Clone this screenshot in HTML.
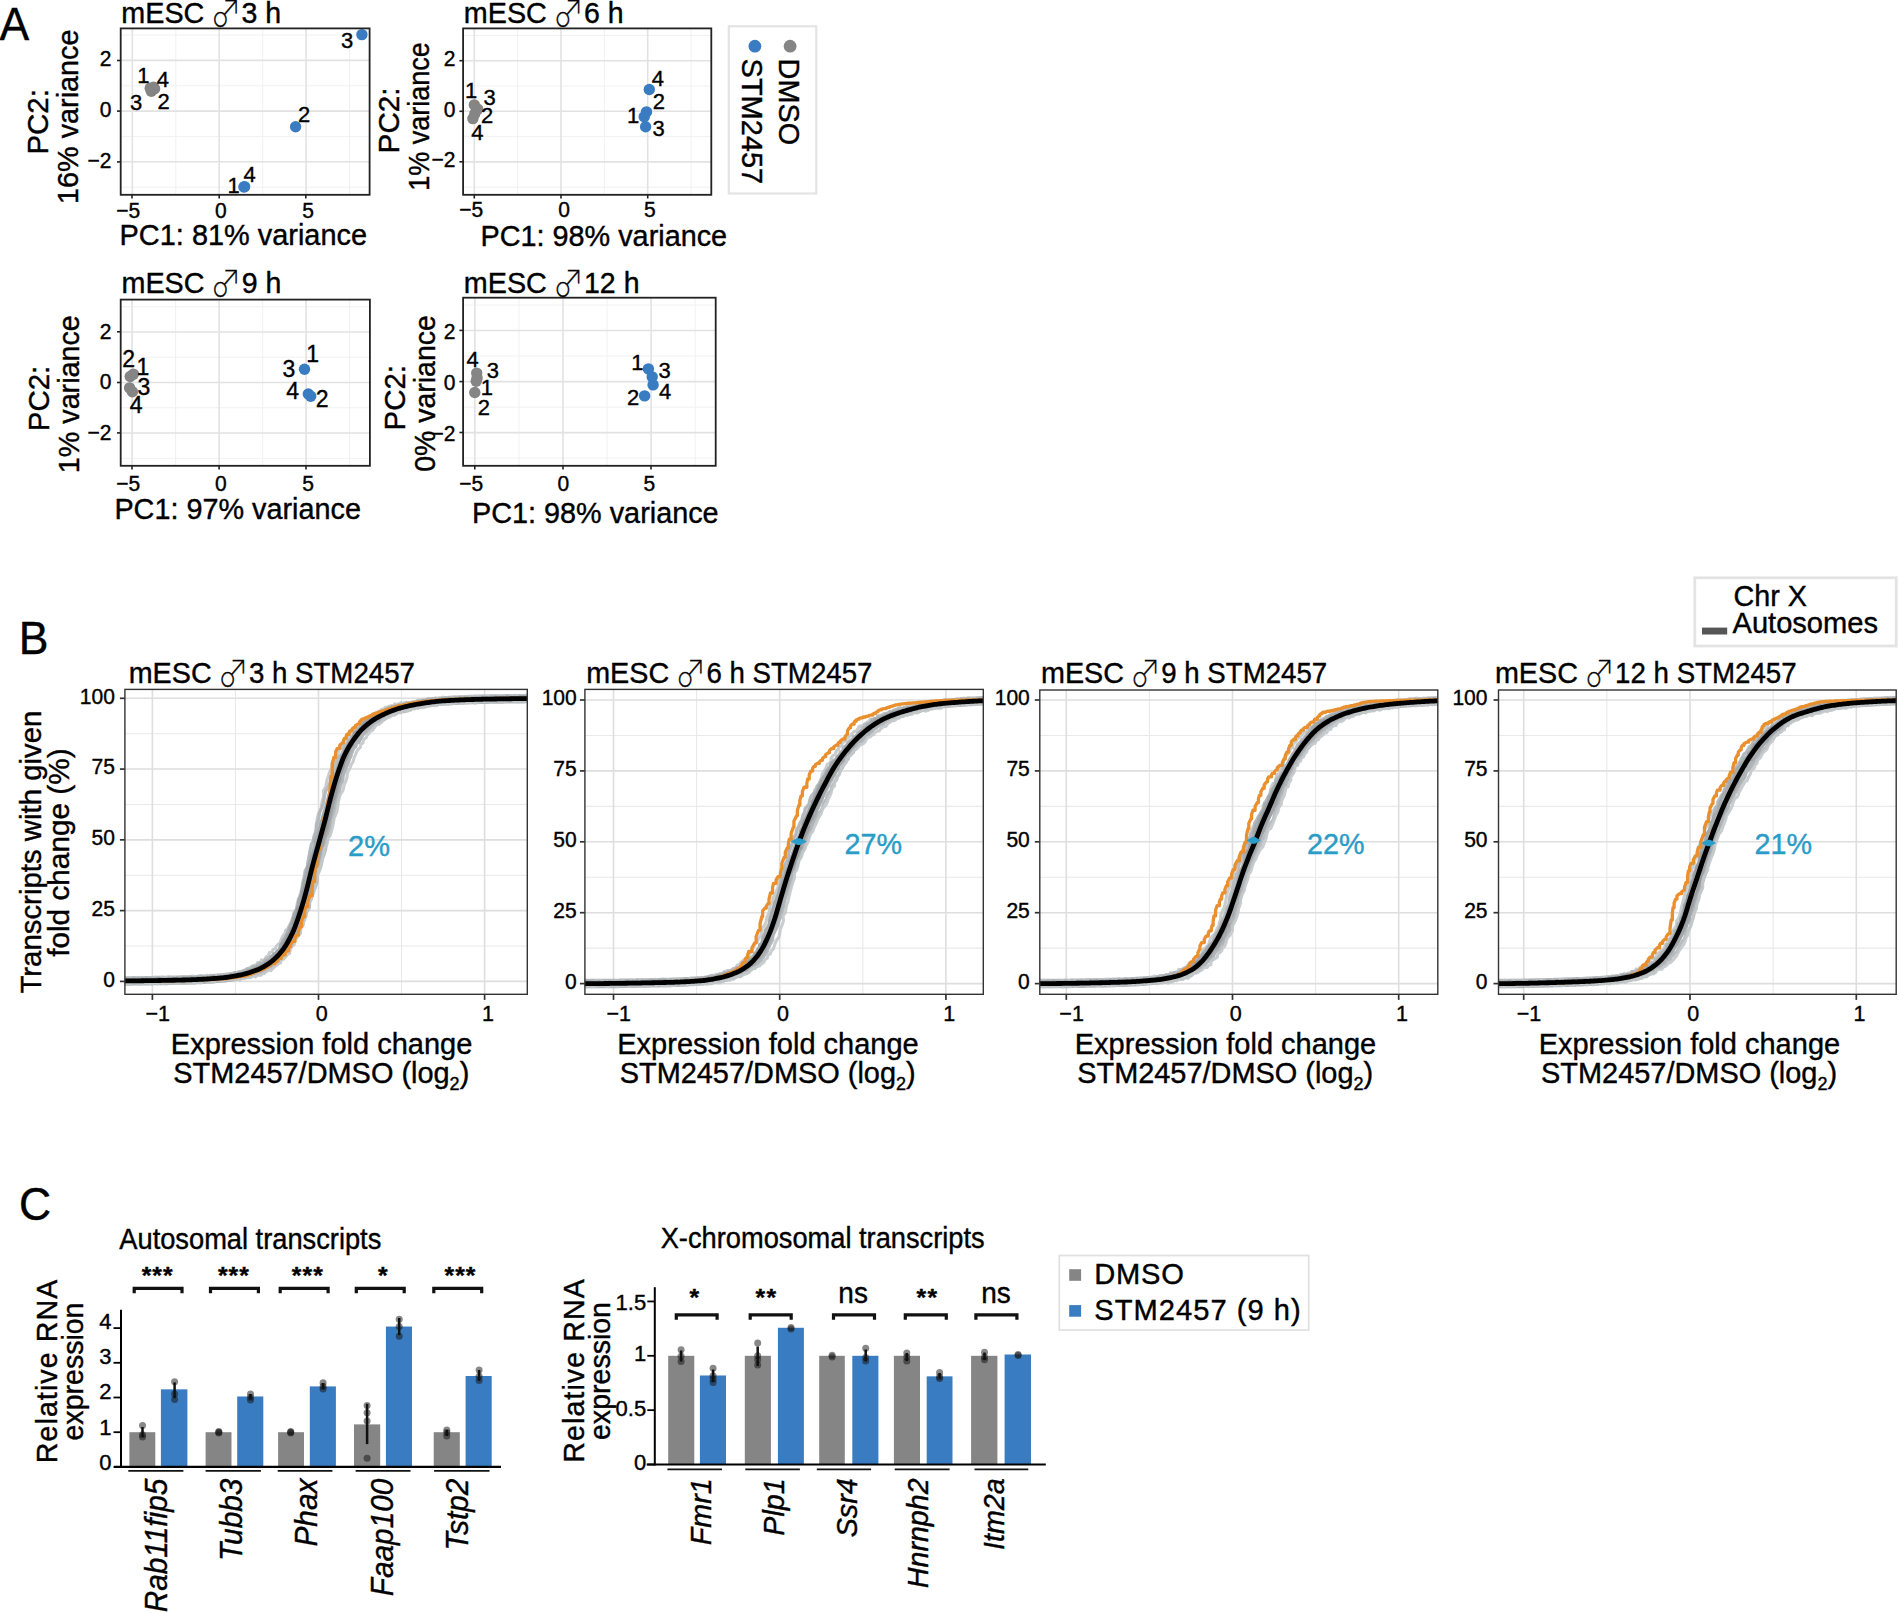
<!DOCTYPE html>
<html lang="en"><head><meta charset="utf-8"><title>Figure</title>
<style>html,body{margin:0;padding:0;background:#fff}svg{display:block}text{font-family:"Liberation Sans","Noto Sans CJK JP",sans-serif;stroke:#000;stroke-width:.4px}</style></head><body>
<svg width="1898" height="1613" viewBox="0 0 1898 1613">
<rect width="1898" height="1613" fill="#fff"/>
<text font-size="46.28" textLength="29.7" lengthAdjust="spacingAndGlyphs" x="-0.6" y="39.8">A</text>
<text font-size="46.28" textLength="29.7" lengthAdjust="spacingAndGlyphs" x="18.7" y="654.3">B</text>
<text font-size="46.28" textLength="32.15" lengthAdjust="spacingAndGlyphs" x="18.9" y="1219.9">C</text>
<g>
<line x1="175.75" y1="28.4" x2="175.75" y2="194.8" stroke="#efefef" stroke-width="0.9" />
<line x1="262.65" y1="28.4" x2="262.65" y2="194.8" stroke="#efefef" stroke-width="0.9" />
<line x1="349.55" y1="28.4" x2="349.55" y2="194.8" stroke="#efefef" stroke-width="0.9" />
<line x1="120.7" y1="187.15" x2="369.6" y2="187.15" stroke="#efefef" stroke-width="0.9" />
<line x1="120.7" y1="136.45" x2="369.6" y2="136.45" stroke="#efefef" stroke-width="0.9" />
<line x1="120.7" y1="85.75" x2="369.6" y2="85.75" stroke="#efefef" stroke-width="0.9" />
<line x1="120.7" y1="35.05" x2="369.6" y2="35.05" stroke="#efefef" stroke-width="0.9" />
<line x1="132.3" y1="28.4" x2="132.3" y2="194.8" stroke="#e2e2e2" stroke-width="1.6" />
<line x1="219.2" y1="28.4" x2="219.2" y2="194.8" stroke="#e2e2e2" stroke-width="1.6" />
<line x1="306.1" y1="28.4" x2="306.1" y2="194.8" stroke="#e2e2e2" stroke-width="1.6" />
<line x1="120.7" y1="161.8" x2="369.6" y2="161.8" stroke="#e2e2e2" stroke-width="1.6" />
<line x1="120.7" y1="111.1" x2="369.6" y2="111.1" stroke="#e2e2e2" stroke-width="1.6" />
<line x1="120.7" y1="60.4" x2="369.6" y2="60.4" stroke="#e2e2e2" stroke-width="1.6" />
<circle cx="150.2" cy="88.2" r="5.7" fill="#858585" />
<circle cx="153.6" cy="87.2" r="5.7" fill="#858585" />
<circle cx="151.3" cy="91.2" r="5.7" fill="#858585" />
<circle cx="154.6" cy="88.8" r="5.7" fill="#858585" />
<circle cx="361.9" cy="34.6" r="5.7" fill="#3a7cc1" />
<circle cx="295.6" cy="126.8" r="5.7" fill="#3a7cc1" />
<circle cx="243.9" cy="187" r="5.7" fill="#3a7cc1" />
<circle cx="244.6" cy="186.6" r="5.7" fill="#3a7cc1" />
<rect x="120.7" y="28.4" width="248.9" height="166.4" fill="none" stroke="#222" stroke-width="1.8" />
<line x1="132" y1="194.8" x2="132" y2="198.5" stroke="#222" stroke-width="1.6" />
<text font-size="21.84" text-anchor="middle" textLength="23.95" lengthAdjust="spacingAndGlyphs" x="128.2" y="217.6">−5</text>
<line x1="219.2" y1="194.8" x2="219.2" y2="198.5" stroke="#222" stroke-width="1.6" />
<text font-size="21.84" text-anchor="middle" textLength="11.69" lengthAdjust="spacingAndGlyphs" x="220.9" y="217.6">0</text>
<line x1="305.8" y1="194.8" x2="305.8" y2="198.5" stroke="#222" stroke-width="1.6" />
<text font-size="21.84" text-anchor="middle" textLength="11.69" lengthAdjust="spacingAndGlyphs" x="308" y="217.6">5</text>
<line x1="117" y1="60.5" x2="120.7" y2="60.5" stroke="#222" stroke-width="1.6" />
<text font-size="21.84" text-anchor="end" textLength="11.69" lengthAdjust="spacingAndGlyphs" x="111.4" y="66.4">2</text>
<line x1="117" y1="111.1" x2="120.7" y2="111.1" stroke="#222" stroke-width="1.6" />
<text font-size="21.84" text-anchor="end" textLength="11.69" lengthAdjust="spacingAndGlyphs" x="111.4" y="117">0</text>
<line x1="117" y1="161.9" x2="120.7" y2="161.9" stroke="#222" stroke-width="1.6" />
<text font-size="21.84" text-anchor="end" textLength="23.95" lengthAdjust="spacingAndGlyphs" x="111.4" y="167.8">−2</text>
<text font-size="22.88" text-anchor="middle" textLength="12.24" lengthAdjust="spacingAndGlyphs" x="143.4" y="82.74">1</text>
<text font-size="22.88" text-anchor="middle" textLength="12.24" lengthAdjust="spacingAndGlyphs" x="162.8" y="86.94">4</text>
<text font-size="22.88" text-anchor="middle" textLength="12.24" lengthAdjust="spacingAndGlyphs" x="136.2" y="109.74">3</text>
<text font-size="22.88" text-anchor="middle" textLength="12.24" lengthAdjust="spacingAndGlyphs" x="163.7" y="108.94">2</text>
<text font-size="22.88" text-anchor="middle" textLength="12.24" lengthAdjust="spacingAndGlyphs" x="347.1" y="47.64">3</text>
<text font-size="22.88" text-anchor="middle" textLength="12.24" lengthAdjust="spacingAndGlyphs" x="304.1" y="121.64">2</text>
<text font-size="22.88" text-anchor="middle" textLength="12.24" lengthAdjust="spacingAndGlyphs" x="249.6" y="182.34">4</text>
<text font-size="22.88" text-anchor="middle" textLength="12.24" lengthAdjust="spacingAndGlyphs" x="233.6" y="192.54">1</text>
<text font-size="29.64" textLength="83" lengthAdjust="spacingAndGlyphs" x="121.3" y="23">mESC</text>
<text transform="translate(210.39 27.2) scale(0.87 1.04)" style="font-family:'Noto Sans CJK JP','DejaVu Sans',sans-serif;font-weight:100;font-size:35.5px">♂</text>
<text font-size="29.64" textLength="39.64" lengthAdjust="spacingAndGlyphs" x="241.5" y="23">3 h</text>
<text font-size="29.64" textLength="247.4" lengthAdjust="spacingAndGlyphs" x="119.6" y="245.4">PC1: 81% variance</text>
<text font-size="29.64" text-anchor="middle" textLength="65.5" lengthAdjust="spacingAndGlyphs" transform="translate(47.6 121.8) rotate(-90)">PC2:</text>
<text font-size="29.64" text-anchor="middle" textLength="174.5" lengthAdjust="spacingAndGlyphs" transform="translate(77.6 116.7) rotate(-90)">16% variance</text>
</g>
<g>
<line x1="517.65" y1="28.4" x2="517.65" y2="194.8" stroke="#efefef" stroke-width="0.9" />
<line x1="604.35" y1="28.4" x2="604.35" y2="194.8" stroke="#efefef" stroke-width="0.9" />
<line x1="691.05" y1="28.4" x2="691.05" y2="194.8" stroke="#efefef" stroke-width="0.9" />
<line x1="463.1" y1="187.12" x2="711.3" y2="187.12" stroke="#efefef" stroke-width="0.9" />
<line x1="463.1" y1="136.57" x2="711.3" y2="136.57" stroke="#efefef" stroke-width="0.9" />
<line x1="463.1" y1="86.02" x2="711.3" y2="86.02" stroke="#efefef" stroke-width="0.9" />
<line x1="463.1" y1="35.47" x2="711.3" y2="35.47" stroke="#efefef" stroke-width="0.9" />
<line x1="474.3" y1="28.4" x2="474.3" y2="194.8" stroke="#e2e2e2" stroke-width="1.6" />
<line x1="561" y1="28.4" x2="561" y2="194.8" stroke="#e2e2e2" stroke-width="1.6" />
<line x1="647.7" y1="28.4" x2="647.7" y2="194.8" stroke="#e2e2e2" stroke-width="1.6" />
<line x1="463.1" y1="161.85" x2="711.3" y2="161.85" stroke="#e2e2e2" stroke-width="1.6" />
<line x1="463.1" y1="111.3" x2="711.3" y2="111.3" stroke="#e2e2e2" stroke-width="1.6" />
<line x1="463.1" y1="60.75" x2="711.3" y2="60.75" stroke="#e2e2e2" stroke-width="1.6" />
<circle cx="474.3" cy="104.9" r="5.7" fill="#858585" />
<circle cx="477.7" cy="109.1" r="5.7" fill="#858585" />
<circle cx="474.8" cy="113.8" r="5.7" fill="#858585" />
<circle cx="472.9" cy="118.6" r="5.7" fill="#858585" />
<circle cx="649.3" cy="89.5" r="5.7" fill="#3a7cc1" />
<circle cx="646.5" cy="111.9" r="5.7" fill="#3a7cc1" />
<circle cx="644.2" cy="116.7" r="5.7" fill="#3a7cc1" />
<circle cx="645.6" cy="126.7" r="5.7" fill="#3a7cc1" />
<rect x="463.1" y="28.4" width="248.2" height="166.4" fill="none" stroke="#222" stroke-width="1.8" />
<line x1="474.3" y1="194.8" x2="474.3" y2="198.5" stroke="#222" stroke-width="1.6" />
<text font-size="21.84" text-anchor="middle" textLength="23.95" lengthAdjust="spacingAndGlyphs" x="471.1" y="217.3">−5</text>
<line x1="561" y1="194.8" x2="561" y2="198.5" stroke="#222" stroke-width="1.6" />
<text font-size="21.84" text-anchor="middle" textLength="11.69" lengthAdjust="spacingAndGlyphs" x="564" y="217.3">0</text>
<line x1="647.7" y1="194.8" x2="647.7" y2="198.5" stroke="#222" stroke-width="1.6" />
<text font-size="21.84" text-anchor="middle" textLength="11.69" lengthAdjust="spacingAndGlyphs" x="649.9" y="217.3">5</text>
<line x1="459.4" y1="60.7" x2="463.1" y2="60.7" stroke="#222" stroke-width="1.6" />
<text font-size="21.84" text-anchor="end" textLength="11.69" lengthAdjust="spacingAndGlyphs" x="455.4" y="66.2">2</text>
<line x1="459.4" y1="111.3" x2="463.1" y2="111.3" stroke="#222" stroke-width="1.6" />
<text font-size="21.84" text-anchor="end" textLength="11.69" lengthAdjust="spacingAndGlyphs" x="455.4" y="116.8">0</text>
<line x1="459.4" y1="161.8" x2="463.1" y2="161.8" stroke="#222" stroke-width="1.6" />
<text font-size="21.84" text-anchor="end" textLength="23.95" lengthAdjust="spacingAndGlyphs" x="455.4" y="167.3">−2</text>
<text font-size="22.88" text-anchor="middle" textLength="12.24" lengthAdjust="spacingAndGlyphs" x="471" y="97.84">1</text>
<text font-size="22.88" text-anchor="middle" textLength="12.24" lengthAdjust="spacingAndGlyphs" x="489.6" y="105.44">3</text>
<text font-size="22.88" text-anchor="middle" textLength="12.24" lengthAdjust="spacingAndGlyphs" x="487.2" y="123.44">2</text>
<text font-size="22.88" text-anchor="middle" textLength="12.24" lengthAdjust="spacingAndGlyphs" x="477.3" y="139.54">4</text>
<text font-size="22.88" text-anchor="middle" textLength="12.24" lengthAdjust="spacingAndGlyphs" x="657.9" y="85.54">4</text>
<text font-size="22.88" text-anchor="middle" textLength="12.24" lengthAdjust="spacingAndGlyphs" x="658.8" y="108.84">2</text>
<text font-size="22.88" text-anchor="middle" textLength="12.24" lengthAdjust="spacingAndGlyphs" x="633.2" y="122.54">1</text>
<text font-size="22.88" text-anchor="middle" textLength="12.24" lengthAdjust="spacingAndGlyphs" x="658.5" y="136.34">3</text>
<text font-size="29.64" textLength="83" lengthAdjust="spacingAndGlyphs" x="463.8" y="22.8">mESC</text>
<text transform="translate(552.89 27) scale(0.87 1.04)" style="font-family:'Noto Sans CJK JP','DejaVu Sans',sans-serif;font-weight:100;font-size:35.5px">♂</text>
<text font-size="29.64" textLength="39.64" lengthAdjust="spacingAndGlyphs" x="584" y="22.8">6 h</text>
<text font-size="29.64" textLength="246.6" lengthAdjust="spacingAndGlyphs" x="480.5" y="245.6">PC1: 98% variance</text>
<text font-size="29.64" text-anchor="middle" textLength="66" lengthAdjust="spacingAndGlyphs" transform="translate(399.4 120.4) rotate(-90)">PC2:</text>
<text font-size="29.64" text-anchor="middle" textLength="148.5" lengthAdjust="spacingAndGlyphs" transform="translate(428.7 116.6) rotate(-90)">1% variance</text>
</g>
<g>
<line x1="175.6" y1="299.6" x2="175.6" y2="465.8" stroke="#efefef" stroke-width="0.9" />
<line x1="262.6" y1="299.6" x2="262.6" y2="465.8" stroke="#efefef" stroke-width="0.9" />
<line x1="349.6" y1="299.6" x2="349.6" y2="465.8" stroke="#efefef" stroke-width="0.9" />
<line x1="120.7" y1="458.32" x2="369.9" y2="458.32" stroke="#efefef" stroke-width="0.9" />
<line x1="120.7" y1="407.77" x2="369.9" y2="407.77" stroke="#efefef" stroke-width="0.9" />
<line x1="120.7" y1="357.23" x2="369.9" y2="357.23" stroke="#efefef" stroke-width="0.9" />
<line x1="120.7" y1="306.68" x2="369.9" y2="306.68" stroke="#efefef" stroke-width="0.9" />
<line x1="132.1" y1="299.6" x2="132.1" y2="465.8" stroke="#e2e2e2" stroke-width="1.6" />
<line x1="219.1" y1="299.6" x2="219.1" y2="465.8" stroke="#e2e2e2" stroke-width="1.6" />
<line x1="306.1" y1="299.6" x2="306.1" y2="465.8" stroke="#e2e2e2" stroke-width="1.6" />
<line x1="120.7" y1="433.05" x2="369.9" y2="433.05" stroke="#e2e2e2" stroke-width="1.6" />
<line x1="120.7" y1="382.5" x2="369.9" y2="382.5" stroke="#e2e2e2" stroke-width="1.6" />
<line x1="120.7" y1="331.95" x2="369.9" y2="331.95" stroke="#e2e2e2" stroke-width="1.6" />
<circle cx="133.4" cy="374.1" r="5.7" fill="#858585" />
<circle cx="130.2" cy="376.5" r="5.7" fill="#858585" />
<circle cx="129.6" cy="387.9" r="5.7" fill="#858585" />
<circle cx="132.4" cy="391.7" r="5.7" fill="#858585" />
<circle cx="304.5" cy="369.3" r="5.7" fill="#3a7cc1" />
<circle cx="308.3" cy="394" r="5.7" fill="#3a7cc1" />
<circle cx="310.7" cy="396.3" r="5.7" fill="#3a7cc1" />
<rect x="120.7" y="299.6" width="249.2" height="166.2" fill="none" stroke="#222" stroke-width="1.8" />
<line x1="132" y1="465.8" x2="132" y2="469.5" stroke="#222" stroke-width="1.6" />
<text font-size="21.84" text-anchor="middle" textLength="23.95" lengthAdjust="spacingAndGlyphs" x="128.2" y="490.8">−5</text>
<line x1="219.1" y1="465.8" x2="219.1" y2="469.5" stroke="#222" stroke-width="1.6" />
<text font-size="21.84" text-anchor="middle" textLength="11.69" lengthAdjust="spacingAndGlyphs" x="220.8" y="490.8">0</text>
<line x1="306" y1="465.8" x2="306" y2="469.5" stroke="#222" stroke-width="1.6" />
<text font-size="21.84" text-anchor="middle" textLength="11.69" lengthAdjust="spacingAndGlyphs" x="308.2" y="490.8">5</text>
<line x1="117" y1="331.8" x2="120.7" y2="331.8" stroke="#222" stroke-width="1.6" />
<text font-size="21.84" text-anchor="end" textLength="11.69" lengthAdjust="spacingAndGlyphs" x="111.4" y="338.5">2</text>
<line x1="117" y1="382.5" x2="120.7" y2="382.5" stroke="#222" stroke-width="1.6" />
<text font-size="21.84" text-anchor="end" textLength="11.69" lengthAdjust="spacingAndGlyphs" x="111.4" y="389.2">0</text>
<line x1="117" y1="432.9" x2="120.7" y2="432.9" stroke="#222" stroke-width="1.6" />
<text font-size="21.84" text-anchor="end" textLength="23.95" lengthAdjust="spacingAndGlyphs" x="111.4" y="439.6">−2</text>
<text font-size="23.92" text-anchor="middle" textLength="12.8" lengthAdjust="spacingAndGlyphs" x="128.6" y="367">2</text>
<text font-size="23.92" text-anchor="middle" textLength="12.8" lengthAdjust="spacingAndGlyphs" x="142.9" y="374.6">1</text>
<text font-size="23.92" text-anchor="middle" textLength="12.8" lengthAdjust="spacingAndGlyphs" x="143.8" y="394.9">3</text>
<text font-size="23.92" text-anchor="middle" textLength="12.8" lengthAdjust="spacingAndGlyphs" x="136.2" y="413.1">4</text>
<text font-size="23.92" text-anchor="middle" textLength="12.8" lengthAdjust="spacingAndGlyphs" x="312.6" y="361.9">1</text>
<text font-size="23.92" text-anchor="middle" textLength="12.8" lengthAdjust="spacingAndGlyphs" x="288.9" y="376.5">3</text>
<text font-size="23.92" text-anchor="middle" textLength="12.8" lengthAdjust="spacingAndGlyphs" x="292.7" y="398.7">4</text>
<text font-size="23.92" text-anchor="middle" textLength="12.8" lengthAdjust="spacingAndGlyphs" x="322.1" y="406.8">2</text>
<text font-size="29.64" textLength="83" lengthAdjust="spacingAndGlyphs" x="121.5" y="293">mESC</text>
<text transform="translate(210.59 297.2) scale(0.87 1.04)" style="font-family:'Noto Sans CJK JP','DejaVu Sans',sans-serif;font-weight:100;font-size:35.5px">♂</text>
<text font-size="29.64" textLength="39.64" lengthAdjust="spacingAndGlyphs" x="241.7" y="293">9 h</text>
<text font-size="29.64" textLength="246.6" lengthAdjust="spacingAndGlyphs" x="114.4" y="519.2">PC1: 97% variance</text>
<text font-size="29.64" text-anchor="middle" textLength="65.5" lengthAdjust="spacingAndGlyphs" transform="translate(49.2 398.5) rotate(-90)">PC2:</text>
<text font-size="29.64" text-anchor="middle" textLength="158" lengthAdjust="spacingAndGlyphs" transform="translate(79 394.2) rotate(-90)">1% variance</text>
</g>
<g>
<line x1="518.95" y1="297.7" x2="518.95" y2="465.8" stroke="#efefef" stroke-width="0.9" />
<line x1="607.05" y1="297.7" x2="607.05" y2="465.8" stroke="#efefef" stroke-width="0.9" />
<line x1="695.15" y1="297.7" x2="695.15" y2="465.8" stroke="#efefef" stroke-width="0.9" />
<line x1="463.1" y1="458.18" x2="715.7" y2="458.18" stroke="#efefef" stroke-width="0.9" />
<line x1="463.1" y1="407.12" x2="715.7" y2="407.12" stroke="#efefef" stroke-width="0.9" />
<line x1="463.1" y1="356.08" x2="715.7" y2="356.08" stroke="#efefef" stroke-width="0.9" />
<line x1="463.1" y1="305.02" x2="715.7" y2="305.02" stroke="#efefef" stroke-width="0.9" />
<line x1="474.9" y1="297.7" x2="474.9" y2="465.8" stroke="#e2e2e2" stroke-width="1.6" />
<line x1="563" y1="297.7" x2="563" y2="465.8" stroke="#e2e2e2" stroke-width="1.6" />
<line x1="651.1" y1="297.7" x2="651.1" y2="465.8" stroke="#e2e2e2" stroke-width="1.6" />
<line x1="463.1" y1="432.65" x2="715.7" y2="432.65" stroke="#e2e2e2" stroke-width="1.6" />
<line x1="463.1" y1="381.6" x2="715.7" y2="381.6" stroke="#e2e2e2" stroke-width="1.6" />
<line x1="463.1" y1="330.55" x2="715.7" y2="330.55" stroke="#e2e2e2" stroke-width="1.6" />
<circle cx="476.7" cy="373.1" r="5.7" fill="#858585" />
<circle cx="477.1" cy="377.9" r="5.7" fill="#858585" />
<circle cx="476.2" cy="381.3" r="5.7" fill="#858585" />
<circle cx="474.8" cy="392.5" r="5.7" fill="#858585" />
<circle cx="648.4" cy="368.9" r="5.7" fill="#3a7cc1" />
<circle cx="652.2" cy="376.9" r="5.7" fill="#3a7cc1" />
<circle cx="653.1" cy="384.9" r="5.7" fill="#3a7cc1" />
<circle cx="644.6" cy="395.9" r="5.7" fill="#3a7cc1" />
<rect x="463.1" y="297.7" width="252.6" height="168.1" fill="none" stroke="#222" stroke-width="1.8" />
<line x1="474.8" y1="465.8" x2="474.8" y2="469.5" stroke="#222" stroke-width="1.6" />
<text font-size="21.84" text-anchor="middle" textLength="23.95" lengthAdjust="spacingAndGlyphs" x="471.2" y="490.8">−5</text>
<line x1="563" y1="465.8" x2="563" y2="469.5" stroke="#222" stroke-width="1.6" />
<text font-size="21.84" text-anchor="middle" textLength="11.69" lengthAdjust="spacingAndGlyphs" x="563.3" y="490.8">0</text>
<line x1="651" y1="465.8" x2="651" y2="469.5" stroke="#222" stroke-width="1.6" />
<text font-size="21.84" text-anchor="middle" textLength="11.69" lengthAdjust="spacingAndGlyphs" x="649.3" y="490.8">5</text>
<line x1="459.4" y1="330.4" x2="463.1" y2="330.4" stroke="#222" stroke-width="1.6" />
<text font-size="21.84" text-anchor="end" textLength="11.69" lengthAdjust="spacingAndGlyphs" x="455.4" y="338.6">2</text>
<line x1="459.4" y1="381.6" x2="463.1" y2="381.6" stroke="#222" stroke-width="1.6" />
<text font-size="21.84" text-anchor="end" textLength="11.69" lengthAdjust="spacingAndGlyphs" x="455.4" y="389.8">0</text>
<line x1="459.4" y1="432.5" x2="463.1" y2="432.5" stroke="#222" stroke-width="1.6" />
<text font-size="21.84" text-anchor="end" textLength="23.95" lengthAdjust="spacingAndGlyphs" x="455.4" y="440.7">−2</text>
<text font-size="22.88" text-anchor="middle" textLength="12.24" lengthAdjust="spacingAndGlyphs" x="472.6" y="367.24">4</text>
<text font-size="22.88" text-anchor="middle" textLength="12.24" lengthAdjust="spacingAndGlyphs" x="492.9" y="378.04">3</text>
<text font-size="22.88" text-anchor="middle" textLength="12.24" lengthAdjust="spacingAndGlyphs" x="486.8" y="395.04">1</text>
<text font-size="22.88" text-anchor="middle" textLength="12.24" lengthAdjust="spacingAndGlyphs" x="483.8" y="414.64">2</text>
<text font-size="22.88" text-anchor="middle" textLength="12.24" lengthAdjust="spacingAndGlyphs" x="637.4" y="369.84">1</text>
<text font-size="22.88" text-anchor="middle" textLength="12.24" lengthAdjust="spacingAndGlyphs" x="664.5" y="378.04">3</text>
<text font-size="22.88" text-anchor="middle" textLength="12.24" lengthAdjust="spacingAndGlyphs" x="665.1" y="398.84">4</text>
<text font-size="22.88" text-anchor="middle" textLength="12.24" lengthAdjust="spacingAndGlyphs" x="633.2" y="404.54">2</text>
<text font-size="29.64" textLength="83" lengthAdjust="spacingAndGlyphs" x="463.8" y="292.5">mESC</text>
<text transform="translate(552.89 296.7) scale(0.87 1.04)" style="font-family:'Noto Sans CJK JP','DejaVu Sans',sans-serif;font-weight:100;font-size:35.5px">♂</text>
<text font-size="29.64" textLength="55.5" lengthAdjust="spacingAndGlyphs" x="584" y="292.5">12 h</text>
<text font-size="29.64" textLength="246.6" lengthAdjust="spacingAndGlyphs" x="472" y="523">PC1: 98% variance</text>
<text font-size="29.64" text-anchor="middle" textLength="65.5" lengthAdjust="spacingAndGlyphs" transform="translate(404.7 397.7) rotate(-90)">PC2:</text>
<text font-size="29.64" text-anchor="middle" textLength="156.5" lengthAdjust="spacingAndGlyphs" transform="translate(435 393.5) rotate(-90)">0% variance</text>
</g>
<rect x="728.8" y="26.3" width="87.5" height="167.2" fill="#fff" stroke="#e4e4e4" stroke-width="2.2" />
<circle cx="790.1" cy="46.2" r="6.4" fill="#858585" />
<circle cx="754.9" cy="46.2" r="6.4" fill="#3a7cc1" />
<text font-size="30.16" textLength="86.5" lengthAdjust="spacingAndGlyphs" transform="translate(779.3 58.6) rotate(90)">DMSO</text>
<text font-size="30.16" textLength="125.5" lengthAdjust="spacingAndGlyphs" transform="translate(742.3 58.6) rotate(90)">STM2457</text>
<g><clipPath id="clipB1"><rect x="124.9" y="689.4" width="402.4" height="304.9"/></clipPath>
<line x1="235.45" y1="689.4" x2="235.45" y2="994.3" stroke="#e9e9e9" stroke-width="1.1" />
<line x1="401.55" y1="689.4" x2="401.55" y2="994.3" stroke="#e9e9e9" stroke-width="1.1" />
<line x1="124.9" y1="946.01" x2="527.3" y2="946.01" stroke="#e9e9e9" stroke-width="1.1" />
<line x1="124.9" y1="875.24" x2="527.3" y2="875.24" stroke="#e9e9e9" stroke-width="1.1" />
<line x1="124.9" y1="804.46" x2="527.3" y2="804.46" stroke="#e9e9e9" stroke-width="1.1" />
<line x1="124.9" y1="733.69" x2="527.3" y2="733.69" stroke="#e9e9e9" stroke-width="1.1" />
<line x1="152.4" y1="689.4" x2="152.4" y2="994.3" stroke="#dedede" stroke-width="1.6" />
<line x1="318.5" y1="689.4" x2="318.5" y2="994.3" stroke="#dedede" stroke-width="1.6" />
<line x1="484.6" y1="689.4" x2="484.6" y2="994.3" stroke="#dedede" stroke-width="1.6" />
<line x1="124.9" y1="981.4" x2="527.3" y2="981.4" stroke="#dedede" stroke-width="1.6" />
<line x1="124.9" y1="910.62" x2="527.3" y2="910.62" stroke="#dedede" stroke-width="1.6" />
<line x1="124.9" y1="839.85" x2="527.3" y2="839.85" stroke="#dedede" stroke-width="1.6" />
<line x1="124.9" y1="769.07" x2="527.3" y2="769.07" stroke="#dedede" stroke-width="1.6" />
<line x1="124.9" y1="698.3" x2="527.3" y2="698.3" stroke="#dedede" stroke-width="1.6" />
<g clip-path="url(#clipB1)" fill="none" stroke-linejoin="round" stroke-linecap="round">
<path d="M111.87 981.12 L113.29 981.1 L114.7 981.09 L116.12 981.08 L117.54 981.06 L118.95 981.05 L120.37 981.03 L121.79 981.02 L123.2 981 L124.62 980.99 L126.04 980.97 L127.45 980.95 L128.87 980.93 L130.29 980.92 L131.7 980.9 L133.12 980.88 L134.54 980.87 L135.95 980.85 L137.37 980.83 L138.79 980.81 L140.2 980.8 L141.62 980.78 L143.04 980.76 L144.45 980.74 L145.87 980.72 L147.29 980.71 L148.7 980.69 L150.12 980.67 L151.54 980.65 L152.95 980.63 L154.37 980.61 L155.79 980.59 L157.2 980.56 L158.62 980.54 L160.04 980.52 L161.45 980.5 L162.87 980.47 L164.28 980.45 L165.7 980.42 L167.12 980.4 L168.53 980.37 L169.95 980.34 L171.37 980.32 L172.78 980.29 L174.2 980.26 L175.62 980.23 L177.03 980.2 L178.45 980.16 L179.87 980.13 L181.28 980.1 L182.7 980.06 L184.12 980.02 L185.53 979.99 L186.95 979.95 L188.37 979.91 L189.78 979.86 L191.2 979.81 L192.62 979.76 L194.03 979.7 L195.45 979.65 L196.87 979.59 L198.28 979.52 L199.7 979.45 L201.12 979.38 L202.53 979.31 L203.95 979.23 L205.37 979.15 L206.78 979.06 L208.2 978.98 L209.62 978.89 L211.03 978.79 L212.45 978.69 L213.86 978.59 L215.28 978.49 L216.7 978.38 L218.11 978.27 L219.53 978.15 L220.95 978.03 L222.36 977.91 L223.78 977.78 L225.2 977.65 L226.61 977.5 L228.03 977.33 L229.45 977.14 L230.86 976.93 L232.28 976.71 L233.7 976.47 L235.11 976.22 L236.53 975.96 L237.95 975.68 L239.36 975.39 L240.78 975.1 L242.2 974.79 L243.61 974.47 L245.03 974.13 L246.45 973.77 L247.86 973.38 L249.28 972.97 L250.7 972.54 L252.11 972.08 L253.53 971.6 L254.95 971.1 L256.36 970.57 L257.78 970.02 L259.2 969.44 L260.61 968.82 L262.03 968.14 L263.44 967.4 L264.86 966.61 L266.28 965.77 L267.69 964.87 L269.11 963.93 L270.53 962.94 L271.94 961.9 L273.36 960.8 L274.78 959.61 L276.19 958.33 L277.61 956.96 L279.03 955.49 L280.44 953.92 L281.86 952.25 L283.28 950.48 L284.69 948.55 L286.11 946.45 L287.53 944.18 L288.94 941.75 L290.36 939.16 L291.78 936.42 L293.19 933.53 L294.61 930.41 L296.03 926.89 L297.44 923.04 L298.86 918.98 L300.28 914.81 L301.69 910.46 L303.11 905.87 L304.53 901.08 L305.94 896.09 L307.36 890.86 L308.78 885.21 L310.19 879.35 L311.61 873.48 L313.02 867.85 L314.44 862.51 L315.86 857.3 L317.27 852.17 L318.69 847.04 L320.11 841.86 L321.52 836.72 L322.94 831.58 L324.36 826.39 L325.77 821.08 L327.19 815.55 L328.61 809.78 L330.02 803.99 L331.44 798.36 L332.86 793.08 L334.27 788.02 L335.69 783.12 L337.11 778.42 L338.52 773.98 L339.94 769.77 L341.36 765.69 L342.77 761.81 L344.19 758.24 L345.61 755.07 L347.02 752.19 L348.44 749.52 L349.86 747.02 L351.27 744.68 L352.69 742.48 L354.11 740.4 L355.52 738.4 L356.94 736.47 L358.36 734.62 L359.77 732.86 L361.19 731.2 L362.6 729.66 L364.02 728.23 L365.44 726.92 L366.85 725.69 L368.27 724.5 L369.69 723.37 L371.1 722.3 L372.52 721.27 L373.94 720.3 L375.35 719.37 L376.77 718.5 L378.19 717.67 L379.6 716.89 L381.02 716.15 L382.44 715.43 L383.85 714.73 L385.27 714.05 L386.69 713.4 L388.1 712.77 L389.52 712.15 L390.94 711.57 L392.35 711 L393.77 710.46 L395.19 709.94 L396.6 709.45 L398.02 708.98 L399.44 708.54 L400.85 708.12 L402.27 707.73 L403.69 707.35 L405.1 706.99 L406.52 706.63 L407.94 706.3 L409.35 705.97 L410.77 705.66 L412.18 705.36 L413.6 705.07 L415.02 704.79 L416.43 704.52 L417.85 704.26 L419.27 704.02 L420.68 703.78 L422.1 703.56 L423.52 703.34 L424.93 703.13 L426.35 702.92 L427.77 702.71 L429.18 702.51 L430.6 702.32 L432.02 702.13 L433.43 701.95 L434.85 701.77 L436.27 701.61 L437.68 701.45 L439.1 701.31 L440.52 701.17 L441.93 701.05 L443.35 700.94 L444.77 700.85 L446.18 700.76 L447.6 700.67 L449.02 700.59 L450.43 700.51 L451.85 700.43 L453.27 700.36 L454.68 700.28 L456.1 700.21 L457.52 700.14 L458.93 700.08 L460.35 700.01 L461.76 699.95 L463.18 699.89 L464.6 699.83 L466.01 699.77 L467.43 699.72 L468.85 699.67 L470.26 699.62 L471.68 699.57 L473.1 699.52 L474.51 699.48 L475.93 699.43 L477.35 699.39 L478.76 699.36 L480.18 699.32 L481.6 699.28 L483.01 699.25 L484.43 699.22 L485.85 699.19 L487.26 699.16 L488.68 699.14 L490.1 699.11 L491.51 699.08 L492.93 699.06 L494.35 699.03 L495.76 699.01 L497.18 698.98 L498.6 698.96 L500.01 698.93 L501.43 698.91 L502.85 698.89 L504.26 698.86 L505.68 698.84 L507.1 698.82 L508.51 698.8 L509.93 698.78 L511.34 698.76 L512.76 698.74 L514.18 698.72 L515.59 698.71 L517.01 698.69 L518.43 698.68 L519.84 698.66 L521.26 698.65 L522.68 698.64 L524.09 698.63 L525.51 698.62 L526.93 698.61 L528.34 698.6 L529.76 698.59 L531.18 698.59 L532.59 698.59 L534.01 698.58 L535.43 698.58" stroke="#a4a9ac" stroke-width="9.5" opacity="0.85"/>
<path d="M106.43 977.76 L107.27 977.76 L108.91 978.74 L110.59 978.15 L111.43 979.2 L113.46 977.85 L115.1 977.96 L116.79 979.1 L117.01 979.68 L118.7 978.85 L119.67 978.59 L122.14 978.08 L123.21 978.7 L123.36 979.72 L126.14 977.94 L127.31 979.61 L127.98 977.92 L129.1 979.33 L129.51 978.94 L130.46 977.9 L132.5 979.35 L132.92 979.31 L134.36 978.46 L135.68 977.97 L136.6 977.69 L138.61 978.01 L139.89 977.41 L141.91 978.42 L142.77 977.37 L144.39 979.3 L145.61 978.97 L147.37 978.26 L148.55 978.78 L149.81 977.76 L152.58 977.94 L154.18 978.18 L155.54 977.43 L156.96 978.05 L157.95 978.59 L159.46 978.4 L161.22 977.32 L162.5 977.17 L165.3 978.71 L166.32 977.23 L168.68 976.93 L169.5 977.91 L172.02 977.77 L173.37 978.58 L173.47 977.78 L175.3 977.82 L177.9 977.56 L178.57 978.83 L180.8 976.66 L181.17 977.65 L181.94 977.87 L184.14 976.91 L185.64 977.4 L186.02 977.51 L186.93 977.01 L188.53 978.36 L190.77 977.23 L191.6 977.45 L191.72 976.15 L193.12 976.16 L194.07 977.57 L195.2 977.03 L197.65 977.73 L197.87 976.95 L199.77 976 L200.88 975.71 L201.79 976.58 L204.05 976.84 L204.45 977.03 L206.73 975.96 L207.32 975.15 L209.32 976.84 L210.51 975.25 L212.16 976.85 L214.91 976.34 L216.23 976.14 L217.03 974.96 L219.63 975.64 L220.16 975.39 L222.12 974.6 L224.54 975.56 L225.84 973.92 L226.58 975.06 L229.68 973.93 L230 974.26 L231.66 974.1 L234.07 973.06 L234.87 972.98 L236.31 972.81 L237.41 972.4 L238.87 971.8 L241.08 972.27 L241.88 971.78 L243.81 970.41 L244.73 969.96 L246.14 969.75 L248.22 968.54 L248.66 968.58 L250.02 967.5 L251.69 968.36 L251.74 966.63 L252.87 965.85 L255.3 964.96 L256.34 965.55 L256.59 964.76 L257.7 962.54 L259.84 963.24 L261.43 960.53 L261.47 959.79 L264.03 960.47 L265.25 959.13 L266.16 956.83 L267.26 956.61 L268.17 955.6 L269.54 952.47 L272.58 951.83 L272.91 949.33 L275.25 949.07 L276.09 946.51 L278.65 943.77 L279.9 943.01 L281.04 940.16 L282.49 936.48 L285.05 933.22 L285.62 930.21 L287.54 929.02 L289.72 924.61 L291.83 920.19 L293.04 916.71 L294.06 912.12 L296.67 908.89 L297.01 904.58 L298.19 899.7 L300.07 894.87 L301.79 888.48 L302.54 882.92 L304.08 876.92 L305.73 872.02 L307.36 866.3 L307.89 860.92 L309.52 854.27 L311.62 848.79 L312.97 843.81 L313.62 840.51 L314.86 835.44 L315.86 828.29 L316.3 824.21 L317.31 818.22 L318.48 813.67 L321.18 807.59 L322.06 801.69 L323.76 796.26 L323.48 790.59 L325.81 786.86 L326.9 780.4 L328.69 775.38 L329.42 772.44 L332 767.61 L331.94 762.88 L334.24 759.76 L336.1 756.67 L337.94 753.56 L339.27 749.9 L340.83 748.35 L342.61 743.86 L344.45 741.73 L345.17 739.75 L347.38 737.31 L349.39 735.84 L350.99 734.42 L351.87 732.13 L354.1 730.59 L355.82 727.85 L356.91 726.7 L358.54 726.51 L359.66 723.73 L361.47 722.87 L362.97 721.61 L363.5 720.4 L365.82 720.25 L367.75 718.11 L368.88 717.17 L369.91 716.67 L370.61 715.63 L372.42 714.8 L373.38 714.84 L374.34 713.38 L376.19 714.14 L376.12 712.82 L378.41 711.86 L378.39 712.24 L380.53 710.83 L381.53 709.58 L382.33 709.02 L384.35 709.34 L385.28 707.19 L386.76 707.3 L388.59 707.55 L388.84 706.36 L389.82 706.12 L391.73 705.78 L393.81 705.71 L394.51 703.95 L395.97 704.4 L398.74 703.91 L399.91 703.44 L401.15 702.62 L403.52 704.47 L404.22 702.83 L406.43 702.26 L407.3 703.07 L409.34 702.48 L411.62 703.02 L413.44 702.44 L415.02 701.8 L415.8 702.2 L417.73 701.64 L418.85 699.94 L420.09 700.54 L422.19 700.43 L424.24 699.19 L425.7 699.9 L426.88 698.74 L428.65 699.37 L428.87 698.81 L430 700.3 L431.75 698.97 L432.71 698.45 L433.84 699.94 L435.38 697.81 L436.93 699.45 L437.89 698.65 L438.78 699.24 L440.82 698.42 L442.24 698.07 L442.56 699.25 L443.13 697.16 L444.28 698.27 L446.93 697.96 L446.82 697.73 L449.22 698.18 L450.32 698.3 L451.25 697.4 L453.45 697.55 L453.59 698.11 L455.25 697.07 L457.28 697.97 L458.09 698.55 L460.98 697.98 L461.58 698.39 L463.03 698.08 L464.5 696.68 L467.1 697.46 L468.45 696.27 L470.41 696.57 L472.1 698.11 L474.01 695.95 L475.9 696.01 L477.07 697.95 L477.87 696.04 L479.91 697.08 L480.98 696.95 L482.23 695.8 L484.5 697.42 L486.37 696.77 L486.92 695.8 L488.47 696.26 L489.96 696.81 L491.87 695.63 L492.88 695.98 L494.31 696.43 L495.79 697.52 L496.42 696.34 L498.28 696.7 L499.67 697.25 L499.49 697.57 L502.07 696.47 L502.9 697.37 L503.1 696.63 L504.83 696.1 L506.33 696.56 L508.03 696.98 L508.39 696.24 L509.99 696.59 L511.81 695.77 L513.01 696.31 L514.63 695.25 L515.23 695.34 L516.98 695.82 L517.71 696.94 L520.07 697.21 L521.77 695.44 L523.04 695.68 L524.75 696.04 L525.53 696.64 L528.3 696.84" stroke="#c3c8ca" stroke-width="3.1" opacity="0.9"/>
<path d="M108.12 979.62 L109.49 980.5 L110.96 979.62 L111.27 978.93 L112.59 978.27 L115.01 978.69 L116.09 978.97 L117.21 979.07 L116.99 980.39 L118.21 979.67 L119.74 979.63 L121.19 978.91 L122.73 980.13 L123.1 979.5 L125.08 979.18 L125.58 978.53 L126.91 978.43 L129.24 978.9 L130.4 979.91 L131.95 978.51 L132.96 978.19 L134.62 978.97 L135.68 979.4 L137.44 979.04 L139.68 979.84 L141.43 978.52 L141.77 977.89 L143.48 978.93 L146.27 978.46 L147.62 978.17 L149.51 979.59 L150.25 977.88 L152.24 978.58 L153.6 979.53 L156.14 979.77 L157 979.38 L159.05 978.6 L161.15 978.3 L161.57 979.11 L163.42 977.73 L165.2 978.99 L166.91 978.73 L167.47 979.47 L168.72 977.52 L169.59 979.38 L172.16 977.61 L172.1 978.4 L173.34 978.33 L175.35 978.29 L176.42 978.93 L177.94 977.43 L178.47 977.21 L180.44 977.57 L180.46 978.02 L181.88 979.06 L183.83 977.43 L184.08 978.59 L185.69 977.16 L187.65 978.59 L188.89 977.78 L189.53 977.14 L190.66 978.53 L192.4 977.65 L194.44 978.64 L195.3 978.67 L196.38 978.26 L198.89 976.35 L200.21 976.37 L202.37 976.92 L204.01 977.62 L205.59 976.7 L206.44 976.46 L208.69 977.16 L209.52 976.58 L211.2 975.99 L212.98 977.66 L215.52 977.13 L217.08 976.41 L217.61 977.02 L219.39 976.34 L220.96 975.8 L222.49 976.54 L224.05 975.59 L225.5 975.98 L226.62 975.08 L228.63 975.39 L230.39 974.45 L231.3 975.57 L233.09 973.87 L233.91 974.79 L234.52 972.65 L236.71 973.17 L238.12 973.16 L238.31 972.98 L239.06 972.15 L241.06 971.64 L242.29 971.1 L243.51 970.7 L245.36 970.87 L246.05 969.26 L247.53 969.14 L247.55 968.6 L249.63 969.08 L251.34 968.47 L251.5 967.6 L252.87 966.2 L255.36 966.38 L257.07 965.65 L257.19 965.07 L259.61 963.15 L260.33 963.58 L262.9 963.24 L264.33 960.73 L265.27 959.3 L266.86 958.58 L269.41 957.69 L270.66 956.06 L272.72 955.7 L273.75 953.58 L275.31 953.2 L277.99 951.41 L279.12 948.91 L280.43 946.85 L282.08 944.99 L283.93 943.5 L285.43 939.61 L287.27 937.4 L287.88 935.31 L290 932.27 L291.12 928.95 L292.78 925.79 L294.02 922.32 L295.36 916.35 L296.71 912.05 L298.06 908.38 L298.75 903.34 L299.76 899.56 L301.25 893.7 L302.59 889.79 L303.13 882.96 L304.31 877.5 L305.04 870.87 L307.23 867.06 L308.86 860.15 L309.07 856.46 L309.99 850.39 L311.34 844.32 L313.02 841.29 L314.15 835.6 L316.66 830.33 L316.57 825.08 L318.44 820.37 L319.61 812.95 L322.01 807.37 L323.77 802.52 L324.36 796.99 L325.77 791.19 L328.04 787.35 L329.89 782.48 L332.08 775.82 L332.28 772.72 L334.06 768.08 L335.84 763.01 L337.53 759.03 L339.19 756.61 L341.61 754.03 L343 750.96 L343.95 746.86 L345.42 744.42 L347.09 743.67 L348.38 740.01 L350.8 739.03 L351.46 736.76 L353.23 735.52 L355.01 732.06 L355.76 730.04 L356.67 730.18 L358.96 727.66 L360.24 727.23 L360.49 724.36 L362.03 725.01 L363.89 723.7 L364.28 721.16 L365.03 721.02 L365.92 718.67 L368.61 717.76 L369.57 717.19 L370.1 717.62 L371.58 715.53 L372.84 714.2 L373.74 714.57 L376.26 714.68 L377.07 713.66 L377.77 712.79 L378.83 711.22 L381.07 711.75 L382.4 711.18 L384.64 710.47 L386.06 708.93 L387.47 708.1 L388.34 708.53 L389.96 707.38 L391.88 706.41 L393.43 706.64 L396.1 707.04 L397.16 706.48 L399.01 704.69 L401.25 704.91 L401.66 705.44 L403.71 704.28 L404.66 705.2 L407.24 702.86 L407.49 703.79 L410.34 703.3 L411.85 703.02 L413.23 703.85 L413.39 702.34 L415.06 702.81 L417.13 702.65 L417.4 701.17 L419.3 702.58 L420.52 701.92 L422.55 700.64 L423.14 701.59 L424.77 701.31 L425.03 700.51 L427.02 701.14 L427.58 699.35 L429.6 698.97 L429.42 700.96 L431.85 699.84 L432.06 699.04 L433.88 699.73 L435.13 698.38 L435.83 699.24 L438.3 699.87 L438.82 698.93 L440.23 698.65 L441.29 699.21 L443.15 698.45 L444.94 698.09 L446.89 698.62 L447.88 698.57 L450.02 697.73 L450.67 698.03 L452.78 698.33 L454.54 697.29 L457.03 698.99 L458.46 697.56 L459.82 698.89 L460.4 697.83 L462.64 698.62 L464.81 698.1 L465.62 697.3 L467.73 697.22 L469.1 697.16 L469.87 698.38 L472.98 697.76 L474.11 698.33 L474.53 697.48 L476.59 697.62 L477.39 698.64 L478.84 697.33 L480.4 697.03 L481.25 697.33 L482.55 696.62 L483.85 698.16 L485.5 698.2 L486 698.48 L487.09 697.37 L489.15 697.48 L489.66 697.44 L491.88 697.82 L492.44 696.58 L493.93 698.2 L494.52 696.29 L496.62 697.03 L496.69 697.07 L498.1 696.48 L499.38 697.72 L501.75 697.9 L503.23 697.51 L503.81 698.1 L505.68 697.46 L507.93 696.75 L509.08 696.95 L509.83 697.53 L511.66 696.78 L513.18 697.9 L514.76 696.22 L516.88 697.68 L517.98 697.48 L521.04 697.69 L521.87 696.48 L523.66 696.15 L525.51 696.25 L527.31 697.88 L528.99 697.09 L529.83 697.19 L531.26 697.53" stroke="#b0b5b8" stroke-width="3.1" opacity="0.9"/>
<path d="M108.83 979 L110.82 980.53 L112.73 979.98 L112.86 980.8 L114.9 980.33 L116.9 981 L117.23 979.75 L119.07 980.69 L121.63 979.59 L121.87 980.37 L123.76 980.45 L125.06 979.86 L126.72 980.11 L127.58 980.33 L128.94 980.78 L131.95 980.74 L132.97 978.84 L134.31 980.15 L134.86 980.65 L136.27 980.4 L138.13 979.7 L138.96 978.52 L140.67 980.3 L142.79 978.78 L143.17 979.63 L144.44 979.77 L146.82 978.86 L147.51 979.77 L147.85 980.52 L149.75 979.38 L151.45 979.12 L151.75 979.18 L153.51 979.94 L155.37 978.42 L156.94 978.56 L157.76 978.24 L159.54 979.47 L160.12 978.56 L161.29 978.78 L163.33 980 L163.86 980.31 L165.82 979.96 L166.19 980.05 L167.72 980.12 L168.78 979.44 L170.71 978.52 L171.41 979.49 L172.83 979 L174.21 980.11 L176 979.62 L177.11 977.89 L178.73 980 L181.04 978.79 L181.93 978.11 L183.66 978.11 L184 978.19 L185.75 978.91 L186.69 977.94 L189.18 977.83 L190.11 977.91 L191.45 977.35 L192.52 979.29 L194.3 977.3 L195.95 978.47 L197.68 977.71 L200.09 978.66 L201.28 977.09 L202.08 979.01 L203.77 977.67 L204.98 978.37 L207.83 977.91 L208.42 977.86 L210.65 977.1 L212.13 976.65 L213.98 977.55 L214.06 976.82 L216.11 977.35 L217.76 977.4 L218.8 975.86 L221.66 977.06 L222.26 977.44 L224.52 976.74 L225.62 975.65 L226.35 976.66 L228.41 975.25 L229.64 975.47 L230.79 974.93 L232.44 975.82 L234.64 975.72 L235.15 975.36 L237.05 974.6 L238.66 974.12 L240.27 974.77 L241 973.33 L243.34 973.22 L243.98 973.04 L246.12 972.16 L247.38 970.81 L247.87 972.07 L249.31 970.09 L250.76 970.88 L252.8 969.39 L253.61 970.33 L254.89 967.78 L256.99 968.47 L257.22 966.64 L258.62 967.64 L260 966.48 L261.07 965.01 L262.06 965.36 L263.31 964.25 L265.6 962.39 L266.77 960.79 L268.46 961.17 L270.02 960.39 L270.18 958.8 L272.1 956.09 L273.81 956.62 L273.94 954.05 L276.04 953.06 L277.31 950.8 L279.12 950 L280.31 947.16 L280.59 944.44 L282.61 942.24 L283.07 940.33 L285 938.02 L286.32 935.14 L287.16 933.27 L289.1 928.52 L290.43 925.32 L292.13 922.01 L293.21 917.47 L294.45 913.86 L296.32 909.58 L297.91 905.35 L298.87 899.72 L301.19 894.79 L301.98 889.69 L303.25 885.14 L305.17 877.92 L306.83 872.47 L307.91 866.51 L310.16 861.16 L311.89 855.19 L313.19 851.83 L314.98 845.98 L315.41 839.61 L317.57 835.05 L319.08 830.87 L320.13 824.72 L322.25 818.84 L323.22 814.64 L325.5 807.82 L327.19 803.7 L328.53 796.12 L329.83 791.97 L331.23 787.49 L332.37 781.21 L334.42 776.95 L336.83 771.86 L337.79 767.89 L338.77 763.88 L340.92 760.65 L341.58 755.99 L343.51 754.92 L345.2 750.22 L347.19 747.9 L347.63 746.45 L349.4 742.85 L351.41 741.45 L352.52 739.18 L353.66 736.44 L355.01 736.03 L356.02 733.99 L357.38 731.41 L358.49 731.04 L360.74 728.4 L362.14 726.44 L362.63 725.81 L364.81 725.14 L364.67 722.69 L366.12 721.44 L368.03 720.55 L368.99 720.03 L370.36 718.25 L372.67 717.57 L372.57 718.15 L373.92 716.84 L375.27 716.66 L377.3 716.06 L377.84 714.65 L378.75 712.77 L380.94 712.17 L381.99 713.13 L383.04 712.35 L384.77 711.27 L386.35 709.64 L387.5 709.6 L388.96 708.42 L390.2 709.78 L392 707.21 L393.59 708.51 L393.91 707.11 L395.32 706.14 L397.61 706.08 L398.06 706.9 L400.15 705.47 L401.54 705.66 L402.96 706.26 L404.88 705.2 L406.1 704.94 L406.47 703.93 L408.72 704.43 L409.99 703.42 L411.61 702.95 L412.8 703.85 L414.17 703.73 L416.47 702.21 L417.64 702.5 L418.68 703.05 L420.24 702.86 L421.91 700.79 L423.21 701.33 L425.32 701.7 L426.23 701.87 L427.68 699.87 L429.24 700.38 L430.85 700.1 L433.4 700.79 L433.96 700.75 L436.06 700.38 L438.13 700.84 L439.18 699.62 L440.18 699.98 L442.87 698.99 L444.38 699.83 L444.53 699.64 L446.36 699.44 L448.26 698.38 L450.22 699.65 L451.01 698.76 L453 699.75 L453.67 698.9 L455.88 699.5 L456.65 698.1 L458.07 699.36 L460.18 698.01 L461.7 698.36 L463.06 698.8 L463.99 697.66 L465.1 698.84 L466.93 697.98 L468.12 698.25 L469.8 698.55 L471.07 699.38 L471.26 698.53 L472.98 698.8 L474.77 698.4 L475.34 697.19 L476.55 698.66 L477.55 697.71 L479.79 697.73 L481.66 698.66 L482.99 698.26 L482.88 698.86 L485.08 697.11 L485.92 698.54 L487.56 698.13 L488.46 698.28 L490.64 697.17 L492.03 697.08 L491.78 697.64 L494.19 697.72 L494.52 698.71 L495.72 696.88 L497.46 698.69 L499.55 698.04 L501.34 697.99 L501.25 697.18 L502.97 697.28 L503.86 698 L506.11 696.73 L507.42 696.59 L508.66 698.67 L509.98 697.27 L512.23 697.63 L513.75 697.86 L514.29 697.61 L515.94 697.93 L517.8 697.12 L519.54 697.25 L521.4 696.42 L521.92 696.4 L523.95 696.35 L525.22 697.7 L527.18 696.71 L527.63 697.11 L529.22 697 L530.65 696.32" stroke="#a0a5a8" stroke-width="3.1" opacity="0.9"/>
<path d="M109.68 981.16 L111.74 979.52 L112.64 981.41 L115.55 979.51 L115.88 980.14 L117.75 981.45 L118.96 979.56 L120.95 981.35 L123.08 980.29 L123.51 981.28 L125.15 979.3 L127.42 980.82 L128.82 979.53 L130.44 981.34 L131.01 979.96 L133.29 981.3 L134.49 981.37 L135.87 980.12 L136.06 979.17 L137.9 979.83 L138.39 979.43 L141.02 979.57 L142.37 980.15 L143.49 981.13 L143.25 980.1 L144.99 980.85 L146.49 980.06 L147.7 980.43 L148.21 980.08 L150.57 980.75 L151 979.58 L152.61 980.21 L153.26 980.03 L155.31 980.93 L155.92 979.98 L157.22 979.8 L159.32 978.84 L160.38 979.74 L162.63 980.68 L163.23 980.28 L165.02 980.18 L165.95 979.32 L167.78 978.76 L169.75 978.64 L171.52 978.67 L172.97 978.7 L175.24 978.82 L175.63 978.61 L178.5 980.65 L178.98 979.55 L181.97 979.29 L182.86 979.04 L184.27 979.17 L186.22 979.13 L188.22 978.36 L189.95 980.23 L190.57 979.2 L191.42 978.15 L193.15 980.2 L195.71 979.96 L197.01 978.18 L198.37 977.92 L198.83 979.96 L200.8 979.88 L201.28 977.99 L202.71 978.24 L204.3 978.54 L206.66 978.32 L207.36 977.83 L208.92 977.62 L208.79 979.36 L210.61 979.11 L211.25 977.36 L212.75 976.84 L213.7 977.06 L216.25 977.91 L216.49 977.96 L218 977.81 L219.52 978.44 L221.18 976.61 L222.58 977.62 L223.27 976.74 L224.51 976.71 L226.56 976.95 L227.12 975.97 L228.39 976.25 L230.59 976.51 L231.28 974.79 L232.98 976.12 L234.62 975.91 L236.27 975.39 L237.65 974.58 L239.38 973.59 L241.02 974.29 L241.98 974.16 L244.92 972.85 L245.27 973.36 L247.68 972.35 L249.34 972.53 L250.72 970.66 L252.04 971.75 L253.42 971.14 L255.45 970.46 L256.91 969.84 L258.73 968.36 L259.81 967.86 L262.15 966.92 L263.17 966.75 L263.8 967 L265.85 964.6 L268.14 964.88 L267.89 964 L270.17 962.56 L272.07 960.23 L272.34 960.53 L273.98 959.37 L274.82 956.83 L275.93 955.28 L277.64 955.18 L278.81 954.18 L279.55 951.03 L281.06 949.28 L282.29 948.35 L283.9 945.23 L283.96 943.89 L285.27 941.67 L286.79 938.38 L288.11 935.31 L290.29 933.02 L291 929.13 L293.09 927.42 L293.71 922.48 L294.94 918.68 L297.04 915.22 L297.52 908.95 L300.52 906.11 L301.79 901.18 L302.5 894.66 L304.06 889.25 L306.48 883.67 L308.04 879.14 L309.42 871.94 L310.07 868.1 L312.88 861.46 L313.33 855.73 L315.92 852.3 L317.43 847.3 L319.67 840.89 L320.79 835.28 L321.36 830.5 L324.44 824.8 L325.68 820.62 L326.92 815.27 L327.46 810.08 L330.14 803.94 L331.05 796.8 L332.9 793.49 L334.79 788.17 L336.03 782.9 L335.96 778.88 L338.43 773.85 L339.14 769.92 L340.92 765.98 L341.54 761.19 L342.88 757.59 L344.07 754.35 L344.74 751.03 L346.28 748.89 L348.16 745.44 L348.26 745.06 L349.54 742.54 L351.95 740.79 L352.91 738.26 L353.96 735.31 L354.51 733.1 L355.81 732.29 L357.44 731.41 L359.85 729.47 L360.57 727.51 L362.57 726.82 L362.81 724.46 L364.61 722.87 L366.3 722.9 L368.31 721.5 L368.66 719.92 L371.46 719.81 L372.38 719.51 L373.24 716.92 L375.52 716.02 L377.05 717.4 L379.18 714.99 L381.23 715.09 L382.15 715.18 L384.1 714.25 L385.23 713.57 L387.49 711.66 L387.97 712.24 L390.61 712.09 L391.21 711.07 L393.44 709.22 L394.32 709.38 L396.04 708.54 L397.2 708.5 L398.94 708.69 L400.74 708.65 L401.99 707.61 L403.12 707.82 L404.74 706.96 L406.48 705.8 L406.95 706.03 L408.57 705.47 L409.63 704.81 L411.68 705.2 L411.8 704.82 L413.62 703.35 L414.04 703.77 L415.29 703.89 L417.27 703.36 L418.22 703.31 L418.92 703.37 L419.84 701.84 L422.36 703.16 L422.89 701.36 L424.75 701.35 L425.61 701.08 L427.27 702.51 L428.55 701.54 L430.65 700.28 L431.98 701.68 L432.7 701.79 L434.24 700.38 L435.34 701.34 L437.75 700.42 L438.24 701.26 L440.16 699.36 L442.67 700.77 L442.93 701.11 L445.66 699.68 L447.08 700.37 L448.69 699.81 L449.96 699.87 L451.29 698.83 L454.23 699.69 L455.53 699.92 L457.19 700.71 L457.59 699.52 L460.28 699.97 L460.87 699.21 L462.34 699.02 L464.37 699.35 L465.94 700.14 L466.55 699.16 L469.01 699.14 L470.07 698.73 L471.93 697.94 L473.27 699.45 L474.17 699.04 L474.89 699.81 L477.11 698.15 L477.95 699.39 L478.45 698.01 L480.6 698.04 L481.58 699.24 L482.01 697.74 L483.18 698.61 L484.01 698.76 L486.08 698.44 L486.84 697.53 L488.15 698.54 L489.35 698.53 L490.43 698.94 L492.33 697.67 L493.31 698.41 L494.69 698.75 L496.07 699.06 L497.88 698.99 L499.93 697.56 L500.23 697.61 L502.89 697.19 L504.42 697.31 L505.56 697.82 L507.03 697.54 L508.94 697.72 L510.22 697.48 L512.05 697.48 L514.11 698.87 L515.5 697.41 L516.28 698.56 L517.57 698.68 L520.66 697.13 L521.33 699.15 L523.63 698.03 L524.3 698.41 L526.23 697.38 L527.63 697.78 L529.75 697.1 L531.6 697.04 L532.33 697.69 L533.87 699 L534.92 697.64" stroke="#95999c" stroke-width="3.1" opacity="0.9"/>
<path d="M111.49 980.74 L111.72 980.66 L112.7 981.49 L114.79 981.15 L116.2 981.54 L117.94 980.91 L118.76 981.36 L119.42 981.34 L121.96 981.57 L122.45 981.46 L125.44 981.51 L126.96 982.05 L128.7 981.36 L130.58 980.71 L131.81 981.42 L134.17 981.76 L135.38 980.08 L136.82 980.92 L138.29 980.81 L139.83 981.24 L140.83 979.92 L142.54 980.2 L145.02 980.48 L145.44 980.38 L147.44 980.29 L148.89 980.71 L149.95 980.88 L150.81 980.92 L151.6 980.64 L152.63 980.7 L153.58 980.54 L155.45 980.51 L156.62 979.91 L158.19 979.65 L158.35 981.15 L160.57 981.58 L161.82 980.92 L162.13 981.51 L164.63 979.75 L165.54 980.12 L167.63 980.86 L168.89 981.04 L169.79 979.48 L171.37 979.53 L173.48 979.84 L175.15 979.79 L176.14 979.64 L179.24 980.27 L180.42 980.36 L182.02 979.98 L184.13 979.2 L184.93 978.91 L186.41 979.04 L188.55 979.19 L189.43 980.87 L190.96 980.43 L191.85 978.74 L193.09 979.66 L194.81 979.67 L196.26 980.08 L198.09 978.77 L198.69 979.48 L199.41 978.34 L200.5 980.34 L201.32 978.19 L202.85 980.33 L204.81 979.95 L204.63 979.31 L206.4 978.66 L208.14 979.77 L209.64 978.65 L210.73 977.7 L212.38 978.74 L214.43 977.89 L215.98 978.17 L216.55 978.08 L218.73 978.89 L221.2 978.11 L222.16 977 L223.34 977.39 L226.02 978.29 L226.55 977.62 L228.39 977.23 L230.69 977.51 L231.81 976.76 L234.08 976.41 L235.56 977.56 L236.3 976.85 L238.38 975.6 L239.47 976.33 L240.8 976.36 L241.57 974.5 L242.68 975.17 L243.26 973.44 L244.97 974 L246.86 974.67 L247.85 973.07 L247.59 973.51 L248.76 971.82 L250.28 971.57 L252.22 971.02 L253.09 972.1 L253.93 971.63 L255.83 969.35 L257.55 970.26 L259.37 969.5 L260.4 969.2 L262.45 968.16 L264.18 966.67 L265.78 964.73 L266.57 965.28 L269.41 964.47 L270.18 962.19 L271.77 962.62 L274.16 960.5 L275.05 959.35 L276.75 957.35 L278.83 957.99 L280.45 955.34 L281.28 954.18 L284.06 951.52 L285.2 951.04 L285.84 948.07 L287.22 947.16 L287.92 944.19 L290.16 940.69 L289.83 939.75 L291.23 936.92 L292.19 932.59 L294.37 930.02 L294.92 927.87 L295.93 923.75 L297.13 919.57 L299.21 915.28 L299.49 909.67 L301.77 905.42 L303.08 899.99 L304.16 895.7 L305.59 890.57 L307.33 885.48 L309.03 878.85 L310.5 873.5 L312.74 868.85 L314.12 862.53 L315.68 857.57 L318.18 852.1 L319.36 848.06 L321.05 842.93 L323.35 835.62 L324.22 831.87 L325.61 826.77 L327.93 821.88 L329.45 815.34 L330.47 808.84 L331.1 804.71 L332.77 798.36 L334.06 793.08 L334.46 787.42 L336.29 782.97 L337.76 779.01 L338.37 774.68 L339.49 769.26 L340.23 766.64 L341.75 760.99 L342.24 759.3 L344.39 755.77 L345.31 752.27 L347.41 748.74 L347.78 746.75 L349.88 744.12 L350.28 741.88 L352.55 739.89 L354.78 739.41 L355.62 735.73 L357.93 735.42 L359.01 733.63 L361.04 732.25 L363.76 730.72 L364.15 727.37 L367.02 727.19 L367.25 726.62 L369.71 725.53 L371.65 722.59 L373.15 722.07 L373.83 720.33 L375.51 721.34 L377.01 720.25 L378.33 718.98 L379.5 718.37 L380.37 717.77 L380.95 716.83 L382.81 715.11 L383.66 715.48 L384.73 714.8 L386.58 713.32 L386.32 713.05 L388.57 712.95 L389.04 711.41 L390.99 710.98 L392.71 710.71 L392.99 710 L394.94 710.49 L396.4 708.72 L397.93 709.23 L399.02 708.49 L401.45 708.84 L403.61 706.47 L404.95 706.79 L406.07 706.88 L408.66 706.2 L409.74 704.97 L410.98 706.49 L413.4 705.62 L414.78 704.59 L416.45 705.08 L418.72 704.05 L419.46 703.34 L421.48 705.06 L421.8 704.27 L423.73 704.02 L423.81 702.77 L425.35 702.48 L427.13 702.47 L428.23 701.75 L429.56 703.22 L429.91 702.56 L430.84 701.33 L432.12 701.34 L433.58 702.65 L433.94 700.52 L435.78 700.91 L437.57 700.48 L438.11 701.48 L439.82 700.81 L442.25 699.9 L443.92 699.94 L444.4 700.58 L445.94 699.79 L447.53 699.46 L449.2 699.74 L452.11 700.08 L453.76 699.31 L454.7 701.09 L456.78 700.43 L458.8 700 L459.32 700.91 L462.21 699.38 L463.81 700.94 L464.19 699.6 L466.41 700.33 L467.75 700.17 L468.43 699.48 L470.56 700.37 L470.64 699.74 L472.21 698.76 L473.06 698.42 L474.37 700.01 L476.08 699.74 L476.78 698.96 L477.97 700.06 L479.75 698.53 L479.67 699.97 L480.91 699.12 L482.87 699.58 L483.45 700.32 L486.22 700.29 L486.66 700.26 L488.37 699.5 L489.95 699.59 L492.25 697.94 L494.08 698.72 L495.4 699.99 L496.29 698.49 L498.33 699.56 L500.65 698.98 L501.55 698.41 L504.34 698.08 L505.97 697.88 L506.5 699.02 L508.28 699.23 L509.54 699.03 L511.78 699.2 L512.03 698.21 L514.41 698.83 L514.61 698.3 L517.1 699.5 L517.76 698.05 L518.95 697.62 L519.25 699.34 L520.26 698.39 L521.87 699.4 L524.03 699.68 L524.53 698.81 L526.14 699.33 L526.04 698.08 L527.38 698.43 L528.58 698.19 L531.09 697.53 L531.69 699.58 L533.36 699.49" stroke="#8f9396" stroke-width="3.1" opacity="0.9"/>
<path d="M113.63 980.68 L115.03 980.91 L116.44 982.72 L118.59 982.06 L119.41 981.93 L120.6 982.04 L123.09 982.42 L123.65 981.38 L125.57 980.8 L126.79 981.82 L128.53 982.27 L129.87 982.41 L132.13 982.6 L132.9 980.88 L135.11 982.08 L136.87 980.94 L137.43 980.77 L138.4 982.36 L140.62 982.1 L142 981.8 L143.52 980.75 L144.22 980.81 L145.49 981.77 L147.17 981.42 L148.07 981.62 L149.76 981.34 L149.82 980.59 L151.83 981.77 L152.8 980.51 L153.74 980.24 L154.21 980.94 L156.23 980.11 L157.13 980.14 L158.98 981.85 L160.14 979.97 L161.47 981.74 L162.08 980.35 L163.59 981.87 L165.8 981.44 L167.37 981.09 L169.36 980.17 L170.53 980.5 L171.23 981.55 L173.05 979.95 L174.71 980 L176.8 980.77 L177.72 981.78 L180.22 981.21 L181.12 981.17 L182.61 980.85 L184.38 979.62 L185.81 980.37 L188.5 979.83 L188.54 981.48 L190.73 981.05 L191.78 979.9 L194.34 980.74 L195.01 980.94 L196.53 981.26 L198.48 981.23 L200.25 980.35 L201.96 979.98 L202.84 980.25 L203.97 979.8 L205.45 980.35 L207.64 980.89 L207.82 979.32 L208.77 980 L211.48 979.56 L212.05 979.73 L212.69 979.88 L213.91 980.27 L216.36 979.62 L217.33 979.51 L217.39 979.82 L219.6 979.9 L220.05 978.76 L221.65 979.69 L223.14 977.62 L223.47 978.67 L226.21 978.35 L226.5 978.01 L227.5 978.97 L229.9 978.61 L230.15 976.85 L231.43 977.15 L233.88 977.05 L235.03 977.14 L237.22 975.95 L238.55 976.24 L239.11 975.3 L240.4 974.9 L242.91 974.47 L244.28 974.53 L245.61 974.3 L248.26 974.42 L248.71 973.87 L251.07 973.36 L251.76 973.05 L254.8 971.92 L256.47 971.36 L257.53 972.68 L258.64 970.57 L260.89 970.32 L262.75 969.79 L264.11 968.46 L264.37 969.73 L266.63 968.03 L267.49 967.46 L269.59 965.32 L271.67 966.2 L272.9 964.35 L273.23 964.31 L275.05 961.89 L275.96 961.39 L276.98 959.65 L279.19 959.33 L280.45 956.65 L280.97 957.17 L282.32 955.11 L283.98 952.29 L285.23 950.19 L285.99 948.49 L286.62 947.53 L287.79 945.7 L289.14 941.84 L291.46 939.2 L292.17 937.98 L293.69 933.11 L294.52 930.92 L295.85 928.51 L296.87 923.65 L299.58 919.91 L300.37 916.27 L301.01 910.15 L303.42 905.45 L304.74 902.49 L306.28 896.77 L308.08 891.94 L309.37 885.39 L311.4 880.8 L313.16 874.43 L313.84 868.62 L315.86 863.14 L317.04 858.02 L318.73 852.52 L320.29 846.61 L322.39 841.45 L323.52 836.36 L325.13 831.4 L327.55 827.57 L329.05 822.22 L330.4 816.2 L332.21 810.03 L332.96 804.31 L334.87 799.27 L335.67 792.54 L337.21 789.01 L338.24 784.77 L340.77 779.91 L342.32 775.2 L342.6 769.81 L344.02 765.48 L344.85 763.42 L346.14 759.41 L348.2 756.22 L349.84 752.11 L349.7 749.18 L351.19 748.12 L353.22 746.14 L353.54 741.98 L355.82 739.89 L356.16 738.47 L357.59 737.1 L358.38 734.63 L359.78 732.82 L361.28 731.75 L362.34 730.74 L364.42 728.74 L364.61 727.12 L367.01 726.65 L368.69 724.75 L369.34 724.74 L370.59 721.8 L371.96 722.49 L373.42 721.48 L376.15 718.9 L377.4 718.04 L378.01 717.27 L380.35 716.68 L382.2 715.92 L383.37 715.27 L384.53 715.15 L386.8 715.58 L388.32 713.44 L390.98 712.57 L391.58 711.96 L394.12 713.17 L395.63 712.56 L396.71 710.5 L397.52 710.54 L400.18 709.13 L400.49 708.44 L402.74 709.23 L403.42 708.29 L404.83 707.92 L406.75 707.48 L407.68 707.85 L410.41 706.88 L411.03 707.84 L412.84 705.63 L414.2 705.72 L415.11 705.24 L416.15 705.72 L417.08 706.02 L418.79 705.2 L419.81 704.42 L420.16 704.47 L421.98 705.23 L422.99 705.25 L424.38 704.14 L425.93 704.27 L427.14 704.1 L428.2 703.91 L429.85 703.27 L431.22 702.44 L431.34 701.76 L432.79 702.11 L434.02 703.42 L435.62 701.34 L438.4 701.77 L438.8 701.35 L440.51 701.48 L442.09 701.95 L443.8 701.87 L444.9 702.38 L447.32 700.95 L448.19 702.25 L450.66 700.75 L452.22 700.15 L452.52 700.62 L455.07 700.68 L455.94 700.15 L458.88 699.74 L459.15 700 L461.08 699.53 L463.5 700.67 L464.77 701.61 L466.44 700.2 L467.54 700.08 L469.21 699.52 L470.15 700.03 L472.02 700.54 L473.09 701.3 L475.17 699.39 L475.58 699.81 L476.96 698.94 L478.36 699.79 L480.19 699.16 L481.53 699.3 L481.81 698.77 L484.67 699.94 L485.63 698.92 L486.07 700.02 L486.91 700.86 L489.21 700.12 L490.66 700.04 L490.54 698.56 L492.72 699.89 L494.06 700.13 L495.5 699.17 L495.56 700.49 L496.71 699.99 L498.1 699.76 L499.55 700.35 L502.03 699.25 L503.44 699.63 L504.15 698.75 L505.03 699.77 L506.88 698.31 L508.21 700.06 L510.42 699.28 L512.1 699.95 L513.77 700.41 L514.8 699.74 L516.44 698.38 L518.09 699.73 L519.55 699.27 L521.33 699.17 L523.35 699.75 L525.02 699.12 L526 700.18 L528.02 699.52 L528.92 699.66 L530.33 698.45 L532.46 698.55 L533.95 698.7 L534.93 698.94 L536.49 698.32 L538.53 698.6" stroke="#95999c" stroke-width="3.1" opacity="0.9"/>
<path d="M114.64 982.01 L116.34 982.12 L118.14 981.82 L119.34 982.08 L119.88 982.08 L122.13 982.78 L123.79 983.02 L125.33 982.29 L126.12 981.26 L129.07 981.11 L129.87 982.57 L131.03 981.91 L133.77 982.03 L134.33 982.15 L135.35 982.76 L137.87 981.36 L138.72 982.94 L140.16 982.6 L141.8 982.47 L143.79 982.62 L144.79 982.62 L146.82 982.86 L148.67 981.84 L150.25 982.62 L151.5 981.53 L152.96 981.61 L153.24 981.54 L155.56 981.84 L155.71 981.53 L157.88 982.22 L158.38 981.82 L159.74 981.29 L162.47 982.34 L162.41 981.15 L164.68 981.46 L165.66 980.55 L166.06 981.34 L168.65 981.47 L168.71 980.95 L171.35 982.01 L172.5 981.79 L173.23 981.63 L174.41 980.92 L174.98 980.92 L177.36 982.1 L177.54 980.33 L179.62 980.24 L181.57 981.31 L182.45 980.14 L182.82 980.95 L185.14 981.45 L186.42 982.09 L187.14 982.21 L189.22 980.87 L190.26 980.54 L191.35 980.73 L192.93 980.3 L193.91 981.04 L195.34 980.29 L197.77 980.54 L198.31 980.41 L200.47 980.54 L201.27 980.21 L202.45 980.38 L203.63 981.37 L206.74 979.97 L207.9 979.82 L209.81 980.36 L210.7 979.04 L211.37 980.06 L213.09 980.68 L214.46 979.8 L216.95 980.05 L218.54 980.38 L220.66 978.63 L221.13 980.13 L222.6 978.8 L224.15 979.91 L225.59 979 L226.95 977.79 L229.28 979.72 L230.71 977.82 L232.16 979.58 L234.66 977.19 L235.13 977.14 L237.49 977.96 L238.5 977.29 L239.28 977.44 L240.63 977.85 L243.06 977.14 L244.95 976.66 L245.01 975.39 L247.51 976.8 L248.14 975.52 L250.29 975.33 L251.91 974.78 L253.1 973.85 L253.65 973.88 L254.84 974.07 L257.51 972.18 L258.75 972.51 L260.06 972.75 L260.73 971.6 L261.2 970.32 L263.01 971.6 L265.18 969.62 L265.05 969.3 L266.7 969.01 L267.54 968.51 L270.2 967.51 L270.59 966.14 L271.4 965.24 L273.12 963.84 L274.14 963.55 L275.8 961.66 L277.39 960.81 L278.75 958.79 L279.12 957.4 L281.16 957.21 L281.68 953.97 L283.66 953.28 L285.61 951.99 L286.06 950.24 L288.36 947.1 L288.79 945.46 L290.43 942.47 L292.51 940.85 L292.62 936.74 L294.98 935.2 L296.4 930.71 L298.17 928.16 L300.04 924.4 L301.11 919.94 L301.83 915.89 L303.31 911.48 L305.3 906.87 L306.51 901.19 L308.5 896.67 L309.29 892.91 L311.85 885.24 L312.95 881.58 L313.91 875.63 L315.59 868.26 L318.52 864.15 L319.94 859.5 L321.56 854.04 L322.31 848.18 L324.86 842.21 L325.06 838.94 L327.54 833.47 L329.44 828.62 L329.75 823.22 L330.94 817.1 L332.65 810.94 L334.08 804.06 L336.77 799.16 L337.91 793.41 L339.16 788.95 L340.01 783.32 L342.32 779.16 L342.9 775.7 L344.3 771.19 L346.46 766.87 L347.92 763.83 L349.55 758.42 L350.95 756.24 L351.14 754 L352.75 750.67 L353.8 747.46 L355.68 746.32 L356.21 743.41 L358.89 742.45 L359.86 740.12 L361.35 738.31 L362.09 735.74 L364.06 733.57 L365.19 732.95 L366.45 730.36 L367.67 729.16 L367.96 727.49 L369.44 725.7 L370.23 726.01 L372.69 723.38 L373.49 723.53 L375.63 722.38 L375.77 722.16 L377.32 721.44 L379.36 719.3 L380.86 719.7 L381.86 719.07 L383.42 718.22 L384.86 716.47 L385.16 716.55 L387.13 715.72 L387.62 713.93 L390.07 714.02 L391.96 714.09 L392.68 712.29 L393.55 711.01 L395.73 711.32 L396.39 711.2 L398.55 710.5 L399.43 709.66 L401.52 708.91 L403.72 708.61 L405.13 709.43 L406.87 707.85 L407.77 709.02 L409.31 708.61 L410.23 707.41 L413.02 707.82 L414.23 706.65 L415.53 706.98 L416.66 705.19 L418.75 706.07 L419.65 704.94 L421.3 704.39 L422.78 705.26 L424.9 704.31 L425.95 704.71 L428.62 704.7 L429.78 705.11 L431.7 703.69 L432.67 702.89 L433.5 703.22 L435.15 703.86 L437.54 703.2 L438.55 703.4 L440.08 703.15 L441.46 702.12 L441.88 703.7 L443.52 702.48 L445.27 702.28 L447.31 702.98 L448.81 701.55 L449.55 702.54 L450.32 702.11 L451.27 702.38 L453.42 701.5 L454.46 701.8 L456.61 701.15 L456.68 701.66 L457.95 700.77 L458.9 701.23 L460.19 702.17 L462.75 701.23 L464.12 701.7 L464.19 701.54 L465.23 700.01 L467.43 701.01 L468.16 700.36 L470.06 701.63 L471.84 700.51 L472.87 701.61 L473.4 701.33 L475.26 701.5 L476.07 701.69 L478.19 699.64 L478.71 699.47 L481.1 700.79 L482.16 701.55 L483.91 699.89 L484.42 700.01 L486.85 701.38 L487.68 699.72 L488.59 701.27 L490.7 700.87 L491.62 699.61 L492.79 699.61 L494.17 700.79 L496.63 700.15 L497.55 699.46 L498.85 699.88 L501.51 700.03 L502.01 700.78 L504.59 701.02 L505.35 700.73 L507.06 699.94 L509.58 699.76 L510.98 700.04 L512.56 699.62 L514.37 699.77 L515.31 699.56 L517.42 700.08 L518.45 699.08 L519.94 699.77 L521.05 698.96 L522.68 698.71 L524.52 699.05 L525.5 699.17 L527.65 699.34 L529.51 699.64 L530.75 700.32 L531.39 700.64 L532.52 699.37 L534.52 700.3 L536.05 699.47 L538.14 699.61 L539.04 699.47 L540.37 699.88" stroke="#a0a5a8" stroke-width="3.1" opacity="0.9"/>
<path d="M116.26 982.25 L117.85 983.91 L118.2 983.53 L119.49 983.18 L121.04 981.73 L122.35 983.8 L124.05 983.5 L125.63 982.19 L127.05 982.11 L128.55 983.21 L129.85 983.63 L131.73 981.85 L132.34 981.57 L133.85 981.69 L135.71 982.45 L136.69 983.52 L139.1 982.02 L139.98 982.21 L141.79 981.78 L143.32 981.93 L144.66 982.49 L145.67 981.4 L147.72 982.55 L149.65 982.56 L152.04 982.11 L152.29 981.75 L155.15 982.19 L156.85 981.37 L158.12 982.86 L158.82 981.43 L159.93 981.45 L162.89 982.63 L163.05 983.33 L164.92 982.01 L167.45 981.95 L168.46 981.15 L170.13 982.04 L171.55 981.64 L171.85 981.53 L173.76 982.85 L174.42 981.69 L176.22 982.18 L177.72 982.66 L179.54 982.5 L179.94 982.27 L181.83 981.39 L182.21 981.78 L183.64 982.27 L184.55 982.84 L186.65 981.14 L187.88 981.18 L189.32 980.96 L190.07 981.04 L192.17 982.64 L193.05 982.1 L194.05 981.64 L195.82 981.97 L195.95 980.72 L197.43 982.07 L199.17 982.44 L200.58 981.39 L202.52 982.24 L203.43 982.22 L203.77 980.84 L206.68 980.77 L207.32 980.83 L208.33 981.82 L210.73 980.63 L212 980.62 L213.89 981.03 L214.92 981.12 L215.97 981.17 L217.89 980.33 L219.46 980.49 L220.85 979.88 L222.82 979.57 L223.7 980.36 L225.48 979.49 L226.86 980.16 L228.31 978.93 L230.74 980.02 L232.69 978.99 L233.72 978.49 L236.12 978.16 L237.2 978.56 L238.83 977.48 L239.75 977.07 L242.29 977.26 L242.87 977.97 L245.18 977.91 L245.64 976.81 L248.25 977.64 L249.23 977.22 L249.78 977.09 L252.08 975.49 L252.48 975.72 L254.19 974.12 L255.5 973.97 L256.73 974.16 L258.06 974.14 L258.99 973.71 L260.65 973.81 L261.39 973.15 L263.79 970.88 L264.29 971.6 L266.12 971.63 L266.87 968.75 L269.01 969.37 L270.09 967.69 L271.04 967.57 L272.51 965.51 L273.89 966.58 L275.19 964.7 L275.62 963.27 L277.22 963.58 L277.66 960.37 L279.49 960.4 L280.79 958.25 L282.65 958.14 L283.03 956.57 L285.69 954.89 L286 951.53 L288.04 949.25 L289.63 947.21 L291.72 945.81 L292.89 944.38 L293.63 940.23 L296.04 938.1 L296.89 934.59 L299.1 931.81 L300.35 928.43 L302.85 925.48 L303.6 921.49 L304.91 917.45 L306.58 912.31 L309.26 908.05 L309.85 901.75 L311.26 898.81 L313.33 891.97 L315.13 887.77 L317.14 881.94 L317.25 874.22 L319.19 870.19 L321.36 863.99 L322.47 858.81 L324.27 854.1 L325.69 849.08 L326.16 844.37 L327.5 837.97 L329.1 833.57 L330.67 827.86 L331.82 822.06 L333.32 818.21 L334.34 811.66 L335.49 806.02 L337.6 799.08 L339.25 794.51 L339.51 790.4 L340.65 784.91 L342.94 781.22 L343.09 775.65 L344.42 772.44 L346.23 768.21 L347.14 763.49 L349.19 759.86 L349.97 757.42 L351.25 753.7 L352.26 751.64 L352.96 748.26 L355.57 747.39 L356.16 743.4 L358.22 742.21 L358.36 740.84 L360.27 738.64 L361.84 736.03 L362.6 735.48 L363.9 731.97 L366.78 731.99 L368.25 730.13 L369.84 729.59 L370.6 727.48 L372.43 725.16 L373.76 725.78 L375.11 724.72 L376.17 722.86 L378.54 721.68 L379.8 721.88 L381.79 720.83 L382.33 719.13 L384.35 719.18 L385.66 718.92 L388.34 716.69 L389.46 715.59 L390.73 715.06 L393.13 714.29 L394.27 715.11 L395.44 714.28 L397.14 713.04 L398.02 712.44 L399.62 711.87 L401.06 711.52 L404.06 711.75 L405.37 711.27 L406.24 711.18 L408.3 710.82 L409.01 709.24 L410.6 709.99 L410.99 707.83 L412.86 707.29 L414.45 708.8 L415.4 706.61 L417.08 707.07 L417.83 708.17 L419.59 707.03 L420.09 706.8 L421.79 706.65 L422.92 706.94 L424.31 706.3 L424.76 706.57 L426.3 705.37 L428.33 705.08 L428.66 705.43 L430.43 703.66 L432.56 703.54 L433.21 704.21 L434.71 703.33 L436.09 704.16 L437.75 703.07 L438.14 702.84 L439.52 703.64 L441.51 702.61 L441.72 703.34 L443.89 703.61 L445.02 702.93 L446.97 703.51 L448.76 702.05 L450.49 703.02 L451.44 702.38 L453.29 701.59 L453.84 701.99 L456.38 701.21 L458.41 701.54 L459.48 701.55 L460.88 701.37 L462.51 701.41 L463.95 700.83 L465.17 701.5 L466.8 701.28 L469.38 701.47 L470.51 701.45 L471.29 700.47 L473.81 701.87 L475.71 702.07 L476.95 701.31 L477.68 701.69 L480.46 700.74 L480.65 700.87 L482.65 702.26 L484.01 701.75 L484.93 700.78 L486.49 701.25 L487.73 700.57 L489.05 701.02 L490.17 701.8 L492.49 700.46 L493.82 699.79 L494.41 701.76 L496.84 700.54 L497.22 700.53 L498.52 700.5 L500.54 700.72 L501.31 700.69 L502.24 699.57 L503.93 699.81 L505.15 700.78 L505.67 699.9 L506.52 700.21 L508.87 699.87 L510.15 699.41 L511.18 701.49 L511.67 701.15 L514.01 701.09 L514.39 699.74 L516.77 699.48 L517.83 701.04 L519.24 700.44 L519.71 699.51 L521.62 699.87 L523.67 700.16 L524.11 699.46 L525.47 699.38 L527.6 701.25 L529.85 699.26 L531.02 700.78 L531.91 700.04 L533.23 699.72 L536.07 700.76 L537.67 700.72 L539.03 699.36 L539.81 699.62" stroke="#b0b5b8" stroke-width="3.1" opacity="0.9"/>
<path d="M118.13 983.65 L119.87 982.3 L121.78 982.35 L122.96 983.02 L123.78 983.03 L125.04 983.67 L126.73 984.23 L128.43 983.67 L130.51 983.88 L131.65 982.95 L132.92 982.88 L134.36 982.92 L136.9 982.27 L138.65 984.31 L139.03 983.83 L141.19 984.05 L143.48 983.43 L143.95 982.18 L145.72 983.17 L147.66 982.4 L147.82 983.78 L150.68 983.37 L151.95 982.35 L153.32 983.48 L154.08 982.47 L155.72 982.75 L157.86 982.6 L157.77 984 L159.17 983.23 L161.45 981.8 L163.31 983.15 L163.3 983.35 L164.69 981.7 L166.45 982.6 L168.3 982.34 L169.22 982.8 L170.67 982.46 L170.94 982.96 L172.46 983.2 L174.38 983.14 L175.88 983.25 L176.1 982.17 L177.37 983.51 L179.01 983.42 L180.45 982.51 L181.59 981.38 L182.6 981.82 L183.73 982.05 L185.97 981.85 L187.79 983.03 L188.56 982.3 L190.35 983.38 L190.37 982.21 L192.52 983.27 L193.45 983.04 L195.61 982.98 L196.57 982.43 L197.98 982.08 L199.88 982.61 L201.36 982.87 L201.42 982.71 L203.35 980.77 L204.22 980.62 L206.47 980.71 L207.38 982.4 L209.66 982.17 L210.58 980.56 L211.51 982.43 L214.49 982.04 L214.75 980.81 L216.52 980 L218.48 979.99 L219.25 980.08 L221.99 981.16 L223.46 980.11 L224.02 979.54 L226.42 979.51 L227.16 979.23 L229.39 979.58 L230.23 979.4 L232.1 979.46 L233.94 979.94 L235.64 979.43 L237.37 978.43 L239.36 979.04 L239.91 980.05 L241.46 978.86 L242.73 977.64 L245.12 977.75 L245.99 977.98 L247.22 976.67 L248.65 976.78 L250.49 977.68 L252.62 976.28 L253.39 975.56 L255.44 977.15 L256.28 974.65 L257.85 975.39 L258.69 974.01 L260.32 975.45 L262.2 974.27 L262.48 973.81 L264.43 973.48 L265.42 971.93 L266.79 971.04 L268.18 970.75 L269.24 969.48 L271.16 970.54 L271.56 969.36 L273.16 968.25 L274.48 966.47 L275.62 965.65 L277.98 964.09 L279 963.32 L280.61 963 L280.62 961.33 L281.99 959.88 L283.48 959.18 L285.09 957.35 L286.92 955.38 L288.22 953.77 L289.56 953.52 L289.48 951.88 L290.82 948.25 L292.66 945.73 L294.16 944.72 L294.81 940.63 L296.75 938.1 L297.76 936.56 L300.39 933.46 L300.7 928.79 L302.29 925.03 L303.48 922.01 L306.05 916.15 L306.28 913.36 L308.29 907.38 L309.41 902.33 L310.94 899.21 L313.68 892.67 L314.73 887.37 L316.29 880.67 L317.19 875.87 L319.76 870.32 L321.28 865.38 L322.28 858.78 L323.16 854.84 L324.42 848.37 L326.81 845.18 L328.27 838.1 L330.46 834.93 L332.25 828.14 L333.5 822.33 L334.11 818.22 L336.89 811.84 L337.82 806.45 L338.41 801.61 L340.22 794.58 L343 790.3 L344.24 784.7 L345.66 781.74 L347.03 777.01 L347.45 772.65 L350.44 767.24 L350.85 765.16 L353.08 761.59 L354.13 757.61 L355.47 754.72 L356.95 751 L359 748.47 L360.25 747.53 L360.89 744.19 L363.01 742.98 L363.24 740.06 L364.87 738.37 L366.15 737.86 L367.01 735.2 L368.91 733.64 L369.55 732.01 L372.45 730.37 L373.48 728.76 L374.2 728.17 L374.79 726.72 L376.4 724.9 L378.51 724.15 L378.99 724.23 L379.93 723.38 L381.75 722.15 L383.28 719.74 L383.8 720.19 L385.5 718.29 L387.09 717.36 L388.69 717.24 L389.43 717.29 L391.71 715.76 L391.81 715.66 L393.96 714.01 L394.19 714.42 L396.92 713.52 L397.67 712.85 L398.43 712.43 L400.88 712.94 L402.39 711.56 L402.55 711.41 L405.23 710.4 L406.79 709.77 L407.24 710.66 L409.43 709.91 L410.78 709.8 L412.02 707.85 L413.21 708.58 L414.6 708.35 L416.95 706.87 L418.42 706.98 L420.23 706.52 L420.31 707.04 L422.69 707.63 L424.47 706.82 L425.21 707.22 L426.45 706.27 L429.46 705.93 L430.83 705.65 L432.28 704.31 L433.21 705.11 L434.95 705.73 L437.12 705.5 L437.48 704.17 L440.07 704.36 L441.58 704.42 L442.7 704.05 L445.04 704.08 L446.02 703.31 L447.94 703.36 L448.28 704.46 L450.12 703.32 L451.39 703.77 L453.19 702.92 L455.06 703.11 L456.88 702.35 L458.17 701.8 L459.48 702.23 L461.07 702.43 L462.05 702.6 L463.42 703.42 L463.71 701.96 L465.57 703.09 L467.04 702.61 L467.73 702.09 L470.36 702.75 L470.79 701.33 L471.87 701.99 L472.9 700.97 L474.94 703.07 L475.88 702.01 L478.17 702.28 L478.92 701.66 L479.86 701.45 L480.67 701.54 L481.76 700.7 L484.1 701.79 L485.25 701.91 L486.33 701.02 L487.64 701.43 L488.77 702.04 L490.89 700.53 L490.78 702.08 L492.39 702.39 L494.65 701.31 L495.19 700.44 L496.56 700.54 L498.08 700.61 L499.23 701.05 L501.38 701.25 L501.67 701.72 L503.84 701.98 L505.52 701.33 L506.34 700.42 L508.42 701.03 L509.26 700.04 L511.17 700.43 L511.79 700.99 L513.64 700.86 L515.54 701.23 L517.14 700.1 L518.42 700.25 L519.24 701.72 L521.61 700.06 L523.7 700.56 L524.26 701.26 L525.71 700.37 L527.96 701.09 L528.87 700.46 L530.22 700.88 L531.74 700.58 L534.21 699.92 L536.2 699.98 L537.57 700.9 L538.82 701.11 L540.84 700.36 L542.34 700.47 L542.91 701.76" stroke="#c3c8ca" stroke-width="3.1" opacity="0.9"/>
<path d="M110.89 981.4 L112.08 981.4 L114.12 981.4 L114.12 981.4 L115.1 981.39 L116.5 981.39 L116.5 981.39 L117.87 981.38 L119.36 981.38 L119.36 981.38 L121.46 981.37 L124.04 981.37 L124.04 981.36 L125.93 981.35 L127.78 981.35 L127.78 981.34 L129.8 981.33 L130.98 981.33 L130.98 981.32 L132.35 981.3 L134.23 981.3 L134.23 981.29 L135.17 981.27 L137.37 981.27 L137.37 981.26 L139.76 981.24 L141.88 981.24 L141.88 981.22 L142.26 981.21 L144.64 981.21 L144.64 981.19 L145.46 981.17 L146.3 981.17 L146.3 981.15 L148.31 981.13 L149.68 981.13 L149.68 981.11 L150.79 981.08 L152.88 981.08 L152.88 981.06 L154.72 981.04 L156.5 981.04 L156.5 981.02 L158.2 980.99 L160.09 980.99 L160.09 980.97 L162.24 980.95 L164.15 980.95 L164.15 980.92 L165.96 980.9 L167.97 980.9 L167.97 980.87 L169.17 980.85 L170.82 980.85 L170.82 980.82 L171.42 980.8 L172.21 980.8 L172.21 980.77 L173.95 980.74 L176.12 980.74 L176.12 980.71 L177.27 980.67 L179.99 980.67 L179.99 980.64 L181.09 980.6 L182.74 980.6 L182.74 980.56 L184.33 980.52 L186.94 980.52 L186.94 980.48 L187.68 980.43 L188.83 980.43 L188.83 980.39 L190.87 980.34 L192.26 980.34 L192.26 980.29 L193.68 980.23 L194.73 980.23 L194.73 980.18 L197.49 980.12 L199.03 980.12 L199.03 980.06 L200.86 980 L201.98 980 L201.98 979.93 L204.6 979.86 L205.32 979.86 L205.32 979.79 L207.45 979.72 L208.2 979.72 L208.2 979.65 L210.1 979.57 L211.52 979.57 L211.52 979.49 L214.24 979.4 L215.67 979.4 L215.67 979.32 L217.95 979.23 L218.45 979.23 L218.45 979.14 L219.65 979.04 L222.45 979.04 L222.45 978.92 L223.73 978.79 L224.44 978.79 L224.44 978.65 L225.83 978.49 L227.48 978.49 L227.48 978.31 L229.45 978.12 L231.05 978.12 L231.05 977.92 L232.51 977.7 L234.35 977.7 L234.35 977.47 L236.12 977.23 L237.3 977.23 L237.3 976.97 L239.25 976.69 L241.24 976.69 L241.24 976.4 L243.14 976.1 L245.3 976.1 L245.3 975.77 L246.76 975.36 L247.79 975.36 L247.79 974.88 L250.42 974.34 L251.16 974.34 L251.16 973.75 L252.49 973.12 L254.13 973.12 L254.13 972.46 L255.75 971.77 L256.98 971.77 L256.98 971.07 L259.6 970.37 L260.87 970.37 L260.87 969.66 L262.71 968.93 L264.63 968.93 L264.63 968.17 L265.52 967.37 L267.2 967.37 L267.2 966.52 L268.27 965.61 L270.3 965.61 L270.3 964.64 L272.6 963.59 L274.99 963.59 L274.99 962.46 L277.35 961.18 L277.89 961.18 L277.89 959.77 L279.39 958.23 L281.34 958.23 L281.34 956.57 L282.63 954.8 L285.14 954.8 L285.14 952.93 L286.53 950.97 L288.74 950.97 L288.74 948.87 L289.2 946.61 L290.59 946.61 L290.59 944.14 L292.66 941.45 L294.91 941.45 L294.91 938.49 L296.31 935.21 L298.5 935.21 L298.5 931.21 L300.36 926.59 L301.46 926.59 L301.46 921.66 L303.29 916.75 L304.69 916.75 L304.69 911.89 L305.34 906.87 L307.81 906.87 L307.81 901.52 L309.96 895.65 L312.07 895.65 L312.07 889.01 L312.76 881.72 L314.76 881.72 L314.76 874.03 L315.2 866.19 L316.86 866.19 L316.86 858.09 L318.12 849.65 L319.88 849.65 L319.88 841.06 L321.36 832.28 L323.21 832.28 L323.21 823.35 L324.78 814.57 L327.01 814.57 L327.01 806.54 L328.9 798.72 L329.96 798.72 L329.96 789.62 L331.01 776.18 L332.28 776.18 L332.28 764.55 L333.82 757.4 L335.58 757.4 L335.58 752.08 L337.47 748.28 L339.81 748.28 L339.81 745.31 L342.41 742.83 L343.33 742.83 L343.33 740.51 L344.5 738.32 L346.23 738.32 L346.23 736.3 L346.92 734.4 L349.09 734.4 L349.09 732.58 L349.94 730.8 L352.1 730.8 L352.1 729 L354.11 727.2 L355.62 727.2 L355.62 725.45 L358.37 723.8 L359.49 723.8 L359.49 722.31 L360.15 721.02 L361.24 721.02 L361.24 719.91 L362.73 718.89 L365.24 718.89 L365.24 717.93 L367.54 717.04 L368.91 717.04 L368.91 716.21 L371.39 715.43 L372.23 715.43 L372.23 714.7 L373.4 714 L375.37 714 L375.37 713.33 L377.18 712.68 L379.46 712.68 L379.46 712.06 L380.62 711.46 L383.07 711.46 L383.07 710.88 L384.79 710.33 L386.6 710.33 L386.6 709.79 L388.14 709.27 L388.98 709.27 L388.98 708.78 L390.71 708.3 L393.18 708.3 L393.18 707.84 L393.6 707.4 L394.94 707.4 L394.94 706.97 L396.32 706.56 L397.65 706.56 L397.65 706.16 L400.09 705.75 L402.08 705.75 L402.08 705.36 L402.96 704.97 L405.16 704.97 L405.16 704.59 L407.57 704.22 L408.17 704.22 L408.17 703.87 L408.93 703.53 L411.07 703.53 L411.07 703.2 L413.64 702.9 L415.32 702.9 L415.32 702.61 L416.9 702.34 L418.3 702.34 L418.3 702.1 L420.07 701.88 L422.5 701.88 L422.5 701.69 L424.1 701.51 L426.01 701.51 L426.01 701.33 L427.29 701.16 L429.49 701.16 L429.49 700.99 L431.32 700.83 L432.59 700.83 L432.59 700.68 L433.53 700.53 L434.65 700.53 L434.65 700.39 L437.24 700.25 L438.92 700.25 L438.92 700.13 L439.46 700.01 L441.17 700.01 L441.17 699.9 L442.67 699.8 L444.55 699.8 L444.55 699.71 L445.73 699.63 L448.27 699.63 L448.27 699.55 L449.74 699.49 L451.95 699.49 L451.95 699.44 L452.87 699.4 L455.23 699.4 L455.23 699.36 L456.72 699.32 L458.25 699.32 L458.25 699.28 L459.59 699.24 L462.01 699.24 L462.01 699.2 L463.48 699.16 L464.93 699.16 L464.93 699.12 L466.09 699.09 L467.55 699.09 L467.55 699.05 L468.69 699.02 L470.29 699.02 L470.29 698.98 L471.55 698.95 L472.52 698.95 L472.52 698.92 L474.24 698.89 L475.26 698.89 L475.26 698.85 L477.71 698.82 L478.82 698.82 L478.82 698.79 L481.67 698.77 L483.05 698.77 L483.05 698.74 L484.4 698.71 L486.38 698.71 L486.38 698.68 L487.75 698.66 L490.06 698.66 L490.06 698.63 L491.36 698.61 L493.97 698.61 L493.97 698.59 L494.59 698.57 L495.49 698.57 L495.49 698.54 L498.22 698.52 L500.29 698.52 L500.29 698.5 L501.4 698.49 L503.4 698.49 L503.4 698.47 L504.75 698.45 L506.46 698.45 L506.46 698.44 L507.69 698.42 L509.55 698.42 L509.55 698.41 L511.57 698.39 L513.89 698.39 L513.89 698.38 L514.86 698.37 L516.62 698.37 L516.62 698.36 L518.34 698.35 L520.66 698.35 L520.66 698.34 L522.02 698.33 L524.21 698.33 L524.21 698.32 L526.39 698.32 L527.4 698.32 L527.4 698.31 L528.56 698.31 L530.96 698.31 L530.96 698.3 L532.4 698.3 L533.78 698.3 L533.78 698.3 L535.72 698.3" stroke="#e98f2e" stroke-width="3.3"/>
<path d="M110.88 981.12 L112.29 981.1 L113.71 981.09 L115.12 981.08 L116.54 981.06 L117.96 981.05 L119.37 981.03 L120.79 981.02 L122.21 981 L123.62 980.99 L125.04 980.97 L126.46 980.95 L127.87 980.93 L129.29 980.92 L130.71 980.9 L132.12 980.88 L133.54 980.87 L134.96 980.85 L136.37 980.83 L137.79 980.81 L139.21 980.8 L140.62 980.78 L142.04 980.76 L143.46 980.74 L144.87 980.72 L146.29 980.71 L147.71 980.69 L149.12 980.67 L150.54 980.65 L151.96 980.63 L153.37 980.61 L154.79 980.59 L156.21 980.56 L157.62 980.54 L159.04 980.52 L160.46 980.5 L161.87 980.47 L163.29 980.45 L164.7 980.42 L166.12 980.4 L167.54 980.37 L168.95 980.34 L170.37 980.32 L171.79 980.29 L173.2 980.26 L174.62 980.23 L176.04 980.2 L177.45 980.16 L178.87 980.13 L180.29 980.1 L181.7 980.06 L183.12 980.02 L184.54 979.99 L185.95 979.95 L187.37 979.91 L188.79 979.86 L190.2 979.81 L191.62 979.76 L193.04 979.7 L194.45 979.65 L195.87 979.59 L197.29 979.52 L198.7 979.45 L200.12 979.38 L201.54 979.31 L202.95 979.23 L204.37 979.15 L205.79 979.06 L207.2 978.98 L208.62 978.89 L210.04 978.79 L211.45 978.69 L212.87 978.59 L214.28 978.49 L215.7 978.38 L217.12 978.27 L218.53 978.15 L219.95 978.03 L221.37 977.91 L222.78 977.78 L224.2 977.65 L225.62 977.5 L227.03 977.33 L228.45 977.14 L229.87 976.93 L231.28 976.71 L232.7 976.47 L234.12 976.22 L235.53 975.96 L236.95 975.68 L238.37 975.39 L239.78 975.1 L241.2 974.79 L242.62 974.47 L244.03 974.13 L245.45 973.77 L246.87 973.38 L248.28 972.97 L249.7 972.54 L251.12 972.08 L252.53 971.6 L253.95 971.1 L255.37 970.57 L256.78 970.02 L258.2 969.44 L259.62 968.82 L261.03 968.14 L262.45 967.4 L263.86 966.61 L265.28 965.77 L266.7 964.87 L268.11 963.93 L269.53 962.94 L270.95 961.9 L272.36 960.8 L273.78 959.61 L275.2 958.33 L276.61 956.96 L278.03 955.49 L279.45 953.92 L280.86 952.25 L282.28 950.48 L283.7 948.55 L285.11 946.45 L286.53 944.18 L287.95 941.75 L289.36 939.16 L290.78 936.42 L292.2 933.53 L293.61 930.41 L295.03 926.89 L296.45 923.04 L297.86 918.98 L299.28 914.81 L300.7 910.46 L302.11 905.87 L303.53 901.08 L304.95 896.09 L306.36 890.86 L307.78 885.21 L309.2 879.35 L310.61 873.48 L312.03 867.85 L313.44 862.51 L314.86 857.3 L316.28 852.17 L317.69 847.04 L319.11 841.86 L320.53 836.72 L321.94 831.58 L323.36 826.39 L324.78 821.08 L326.19 815.55 L327.61 809.78 L329.03 803.99 L330.44 798.36 L331.86 793.08 L333.28 788.02 L334.69 783.12 L336.11 778.42 L337.53 773.98 L338.94 769.77 L340.36 765.69 L341.78 761.81 L343.19 758.24 L344.61 755.07 L346.03 752.19 L347.44 749.52 L348.86 747.02 L350.28 744.68 L351.69 742.48 L353.11 740.4 L354.53 738.4 L355.94 736.47 L357.36 734.62 L358.78 732.86 L360.19 731.2 L361.61 729.66 L363.02 728.23 L364.44 726.92 L365.86 725.69 L367.27 724.5 L368.69 723.37 L370.11 722.3 L371.52 721.27 L372.94 720.3 L374.36 719.37 L375.77 718.5 L377.19 717.67 L378.61 716.89 L380.02 716.15 L381.44 715.43 L382.86 714.73 L384.27 714.05 L385.69 713.4 L387.11 712.77 L388.52 712.15 L389.94 711.57 L391.36 711 L392.77 710.46 L394.19 709.94 L395.61 709.45 L397.02 708.98 L398.44 708.54 L399.86 708.12 L401.27 707.73 L402.69 707.35 L404.11 706.99 L405.52 706.63 L406.94 706.3 L408.36 705.97 L409.77 705.66 L411.19 705.36 L412.6 705.07 L414.02 704.79 L415.44 704.52 L416.85 704.26 L418.27 704.02 L419.69 703.78 L421.1 703.56 L422.52 703.34 L423.94 703.13 L425.35 702.92 L426.77 702.71 L428.19 702.51 L429.6 702.32 L431.02 702.13 L432.44 701.95 L433.85 701.77 L435.27 701.61 L436.69 701.45 L438.1 701.31 L439.52 701.17 L440.94 701.05 L442.35 700.94 L443.77 700.85 L445.19 700.76 L446.6 700.67 L448.02 700.59 L449.44 700.51 L450.85 700.43 L452.27 700.36 L453.69 700.28 L455.1 700.21 L456.52 700.14 L457.94 700.08 L459.35 700.01 L460.77 699.95 L462.18 699.89 L463.6 699.83 L465.02 699.77 L466.43 699.72 L467.85 699.67 L469.27 699.62 L470.68 699.57 L472.1 699.52 L473.52 699.48 L474.93 699.43 L476.35 699.39 L477.77 699.36 L479.18 699.32 L480.6 699.28 L482.02 699.25 L483.43 699.22 L484.85 699.19 L486.27 699.16 L487.68 699.14 L489.1 699.11 L490.52 699.08 L491.93 699.06 L493.35 699.03 L494.77 699.01 L496.18 698.98 L497.6 698.96 L499.02 698.93 L500.43 698.91 L501.85 698.89 L503.27 698.86 L504.68 698.84 L506.1 698.82 L507.52 698.8 L508.93 698.78 L510.35 698.76 L511.76 698.74 L513.18 698.72 L514.6 698.71 L516.01 698.69 L517.43 698.68 L518.85 698.66 L520.26 698.65 L521.68 698.64 L523.1 698.63 L524.51 698.62 L525.93 698.61 L527.35 698.6 L528.76 698.59 L530.18 698.59 L531.6 698.59 L533.01 698.58 L534.43 698.58" stroke="#000" stroke-width="4.8"/>
</g>
<text font-size="29.64" fill="#2a9cc8" style="stroke:#2a9cc8" textLength="42" lengthAdjust="spacingAndGlyphs" x="348" y="855.6">2%</text>
<rect x="124.9" y="689.4" width="402.4" height="304.9" fill="none" stroke="#333" stroke-width="1.4" />
<line x1="119.9" y1="981.4" x2="124.9" y2="981.4" stroke="#333" stroke-width="1.7" />
<text font-size="21.84" text-anchor="end" textLength="11.69" lengthAdjust="spacingAndGlyphs" x="114.9" y="986.8">0</text>
<line x1="119.9" y1="910.62" x2="124.9" y2="910.62" stroke="#333" stroke-width="1.7" />
<text font-size="21.84" text-anchor="end" textLength="23.37" lengthAdjust="spacingAndGlyphs" x="114.9" y="916.02">25</text>
<line x1="119.9" y1="839.85" x2="124.9" y2="839.85" stroke="#333" stroke-width="1.7" />
<text font-size="21.84" text-anchor="end" textLength="23.37" lengthAdjust="spacingAndGlyphs" x="114.9" y="845.25">50</text>
<line x1="119.9" y1="769.07" x2="124.9" y2="769.07" stroke="#333" stroke-width="1.7" />
<text font-size="21.84" text-anchor="end" textLength="23.37" lengthAdjust="spacingAndGlyphs" x="114.9" y="774.47">75</text>
<line x1="119.9" y1="698.3" x2="124.9" y2="698.3" stroke="#333" stroke-width="1.7" />
<text font-size="21.84" text-anchor="end" textLength="35.06" lengthAdjust="spacingAndGlyphs" x="114.9" y="703.7">100</text>
<line x1="152.4" y1="994.3" x2="152.4" y2="999.9" stroke="#333" stroke-width="1.7" />
<text font-size="22.36" text-anchor="middle" textLength="24.53" lengthAdjust="spacingAndGlyphs" x="157.7" y="1020.9">−1</text>
<line x1="318.5" y1="994.3" x2="318.5" y2="999.9" stroke="#333" stroke-width="1.7" />
<text font-size="22.36" text-anchor="middle" textLength="11.96" lengthAdjust="spacingAndGlyphs" x="321.8" y="1020.9">0</text>
<line x1="484.6" y1="994.3" x2="484.6" y2="999.9" stroke="#333" stroke-width="1.7" />
<text font-size="22.36" text-anchor="middle" textLength="11.96" lengthAdjust="spacingAndGlyphs" x="487.9" y="1020.9">1</text>
<text font-size="30.16" textLength="83" lengthAdjust="spacingAndGlyphs" x="128.7" y="682.8">mESC</text>
<text transform="translate(217.79 687) scale(0.87 1.04)" style="font-family:'Noto Sans CJK JP','DejaVu Sans',sans-serif;font-weight:100;font-size:35.5px">♂</text>
<text font-size="30.16" textLength="166" lengthAdjust="spacingAndGlyphs" x="248.9" y="682.8">3 h STM2457</text>
<text font-size="29.64" text-anchor="middle" textLength="301.5" lengthAdjust="spacingAndGlyphs" x="321.6" y="1053.6">Expression fold change</text>
<text font-size="29.64" text-anchor="middle" textLength="296" lengthAdjust="spacingAndGlyphs" x="321.3" y="1082.7">STM2457/DMSO (log<tspan font-size="18.5" dy="7.6">2</tspan><tspan dy="-7.6">)</tspan></text>
</g>
<g><clipPath id="clipB2"><rect x="584.9" y="689.4" width="398.4" height="304.9"/></clipPath>
<line x1="696.6" y1="689.4" x2="696.6" y2="994.3" stroke="#e9e9e9" stroke-width="1.1" />
<line x1="862.8" y1="689.4" x2="862.8" y2="994.3" stroke="#e9e9e9" stroke-width="1.1" />
<line x1="584.9" y1="948.15" x2="983.3" y2="948.15" stroke="#e9e9e9" stroke-width="1.1" />
<line x1="584.9" y1="877.25" x2="983.3" y2="877.25" stroke="#e9e9e9" stroke-width="1.1" />
<line x1="584.9" y1="806.35" x2="983.3" y2="806.35" stroke="#e9e9e9" stroke-width="1.1" />
<line x1="584.9" y1="735.45" x2="983.3" y2="735.45" stroke="#e9e9e9" stroke-width="1.1" />
<line x1="613.5" y1="689.4" x2="613.5" y2="994.3" stroke="#dedede" stroke-width="1.6" />
<line x1="779.7" y1="689.4" x2="779.7" y2="994.3" stroke="#dedede" stroke-width="1.6" />
<line x1="945.9" y1="689.4" x2="945.9" y2="994.3" stroke="#dedede" stroke-width="1.6" />
<line x1="584.9" y1="983.6" x2="983.3" y2="983.6" stroke="#dedede" stroke-width="1.6" />
<line x1="584.9" y1="912.7" x2="983.3" y2="912.7" stroke="#dedede" stroke-width="1.6" />
<line x1="584.9" y1="841.8" x2="983.3" y2="841.8" stroke="#dedede" stroke-width="1.6" />
<line x1="584.9" y1="770.9" x2="983.3" y2="770.9" stroke="#dedede" stroke-width="1.6" />
<line x1="584.9" y1="700" x2="983.3" y2="700" stroke="#dedede" stroke-width="1.6" />
<g clip-path="url(#clipB2)" fill="none" stroke-linejoin="round" stroke-linecap="round">
<path d="M572.95 983.6 L574.36 983.6 L575.78 983.6 L577.2 983.6 L578.62 983.6 L580.03 983.6 L581.45 983.6 L582.87 983.6 L584.29 983.6 L585.7 983.6 L587.12 983.6 L588.54 983.6 L589.96 983.6 L591.37 983.59 L592.79 983.59 L594.21 983.58 L595.63 983.58 L597.04 983.57 L598.46 983.57 L599.88 983.56 L601.3 983.55 L602.71 983.54 L604.13 983.53 L605.55 983.52 L606.97 983.51 L608.38 983.49 L609.8 983.48 L611.22 983.47 L612.64 983.45 L614.05 983.44 L615.47 983.42 L616.89 983.4 L618.3 983.39 L619.72 983.37 L621.14 983.35 L622.56 983.33 L623.97 983.31 L625.39 983.29 L626.81 983.27 L628.23 983.25 L629.64 983.22 L631.06 983.2 L632.48 983.18 L633.9 983.15 L635.31 983.13 L636.73 983.11 L638.15 983.08 L639.57 983.05 L640.98 983.03 L642.4 983 L643.82 982.97 L645.24 982.95 L646.65 982.92 L648.07 982.89 L649.49 982.86 L650.91 982.83 L652.32 982.8 L653.74 982.77 L655.16 982.74 L656.58 982.71 L657.99 982.68 L659.41 982.65 L660.83 982.62 L662.24 982.58 L663.66 982.55 L665.08 982.52 L666.5 982.49 L667.91 982.45 L669.33 982.42 L670.75 982.38 L672.17 982.34 L673.58 982.29 L675 982.25 L676.42 982.2 L677.84 982.15 L679.25 982.09 L680.67 982.03 L682.09 981.97 L683.51 981.91 L684.92 981.84 L686.34 981.77 L687.76 981.7 L689.18 981.62 L690.59 981.54 L692.01 981.46 L693.43 981.37 L694.85 981.28 L696.26 981.18 L697.68 981.08 L699.1 980.98 L700.52 980.87 L701.93 980.76 L703.35 980.64 L704.77 980.5 L706.19 980.33 L707.6 980.15 L709.02 979.95 L710.44 979.73 L711.85 979.5 L713.27 979.26 L714.69 979 L716.11 978.73 L717.52 978.45 L718.94 978.16 L720.36 977.86 L721.78 977.55 L723.19 977.22 L724.61 976.87 L726.03 976.48 L727.45 976.07 L728.86 975.63 L730.28 975.17 L731.7 974.68 L733.12 974.16 L734.53 973.61 L735.95 973.05 L737.37 972.45 L738.79 971.8 L740.2 971.1 L741.62 970.34 L743.04 969.54 L744.46 968.67 L745.87 967.75 L747.29 966.77 L748.71 965.73 L750.13 964.63 L751.54 963.4 L752.96 962.05 L754.38 960.57 L755.79 958.98 L757.21 957.28 L758.63 955.46 L760.05 953.54 L761.46 951.46 L762.88 949.13 L764.3 946.58 L765.72 943.83 L767.13 940.91 L768.55 937.85 L769.97 934.61 L771.39 931.06 L772.8 927.25 L774.22 923.21 L775.64 919 L777.06 914.43 L778.47 909.53 L779.89 904.5 L781.31 899.55 L782.73 894.75 L784.14 889.96 L785.56 885.2 L786.98 880.53 L788.4 875.99 L789.81 871.58 L791.23 867.27 L792.65 863.03 L794.07 858.85 L795.48 854.7 L796.9 850.59 L798.32 846.55 L799.74 842.62 L801.15 838.82 L802.57 835.1 L803.99 831.46 L805.4 827.9 L806.82 824.43 L808.24 821.05 L809.66 817.75 L811.07 814.53 L812.49 811.36 L813.91 808.26 L815.33 805.22 L816.74 802.22 L818.16 799.27 L819.58 796.38 L821 793.54 L822.41 790.74 L823.83 787.99 L825.25 785.28 L826.67 782.57 L828.08 779.87 L829.5 777.2 L830.92 774.58 L832.34 772.03 L833.75 769.57 L835.17 767.22 L836.59 764.99 L838.01 762.85 L839.42 760.77 L840.84 758.76 L842.26 756.81 L843.68 754.93 L845.09 753.1 L846.51 751.33 L847.93 749.61 L849.35 747.93 L850.76 746.28 L852.18 744.68 L853.6 743.12 L855.01 741.61 L856.43 740.14 L857.85 738.72 L859.27 737.35 L860.68 736.02 L862.1 734.72 L863.52 733.45 L864.94 732.21 L866.35 731.02 L867.77 729.86 L869.19 728.75 L870.61 727.68 L872.02 726.66 L873.44 725.69 L874.86 724.74 L876.28 723.82 L877.69 722.92 L879.11 722.06 L880.53 721.22 L881.95 720.41 L883.36 719.64 L884.78 718.91 L886.2 718.21 L887.62 717.56 L889.03 716.94 L890.45 716.34 L891.87 715.77 L893.29 715.21 L894.7 714.68 L896.12 714.17 L897.54 713.67 L898.95 713.19 L900.37 712.73 L901.79 712.28 L903.21 711.84 L904.62 711.41 L906.04 710.99 L907.46 710.58 L908.88 710.17 L910.29 709.76 L911.71 709.37 L913.13 708.98 L914.55 708.6 L915.96 708.23 L917.38 707.88 L918.8 707.54 L920.22 707.21 L921.63 706.9 L923.05 706.6 L924.47 706.32 L925.89 706.06 L927.3 705.81 L928.72 705.57 L930.14 705.34 L931.56 705.11 L932.97 704.89 L934.39 704.68 L935.81 704.48 L937.23 704.28 L938.64 704.09 L940.06 703.92 L941.48 703.75 L942.9 703.59 L944.31 703.44 L945.73 703.31 L947.15 703.18 L948.56 703.07 L949.98 702.95 L951.4 702.84 L952.82 702.73 L954.23 702.62 L955.65 702.51 L957.07 702.4 L958.49 702.3 L959.9 702.19 L961.32 702.09 L962.74 701.98 L964.16 701.89 L965.57 701.79 L966.99 701.69 L968.41 701.6 L969.83 701.51 L971.24 701.42 L972.66 701.34 L974.08 701.26 L975.5 701.18 L976.91 701.11 L978.33 701.04 L979.75 700.97 L981.17 700.91 L982.58 700.86 L984 700.8 L985.42 700.76 L986.84 700.71 L988.25 700.68 L989.67 700.64 L991.09 700.62 L992.5 700.6 L993.92 700.58 L995.34 700.57 L996.76 700.57" stroke="#a4a9ac" stroke-width="9.5" opacity="0.85"/>
<path d="M563.37 981.62 L566.44 980.24 L566.55 981.15 L567.92 981.95 L570.3 981.52 L571.29 982.18 L573.71 980.79 L574.14 982.36 L576.89 981.09 L577.37 981.77 L579.39 980.7 L581.5 982.18 L582.65 980.92 L584.62 980.84 L585.83 981.93 L586.31 982.15 L589.26 981.6 L590.35 980.97 L591.46 981.84 L592.82 982.4 L595.48 981.41 L596.58 980.57 L598.72 982.04 L599.98 980.25 L601.82 981.22 L602.68 981.99 L604.4 982.12 L605.75 981.49 L606.64 981.24 L609.27 981.9 L609.65 982.09 L611.86 981.13 L613.58 981.67 L614.48 981.22 L615.03 981.19 L617.54 980.61 L618.64 980.86 L619.19 981.64 L620.31 981.73 L622.44 980.16 L622.92 981.98 L625.71 981.79 L626.31 981.89 L627.61 980.15 L628.71 980.77 L630.41 979.87 L632.1 980.52 L632.35 981.16 L633.72 980.92 L635.33 980.2 L636.12 981.31 L637.88 979.99 L639.06 980.86 L640.15 981.66 L641.83 980.95 L642.87 980.43 L643.43 981.33 L646.25 979.58 L646.49 979.51 L647.94 980.42 L649.23 979.49 L651.46 979.95 L652.85 980.26 L653.5 981.09 L654.7 979.25 L655.6 979.3 L658.35 980.33 L658.58 980.44 L660.65 981.12 L661.78 979.84 L663.22 979.26 L664.76 980.28 L665.98 980.46 L667.24 979.67 L669.59 979.21 L671.56 980.57 L672.86 980.26 L673.67 979.38 L676.04 980.68 L676.54 978.85 L678.7 979.92 L680.97 978.68 L682.69 979.45 L683.5 980.03 L685.72 980.28 L686.71 979.98 L688.31 979.55 L689.98 978.33 L692.21 978.15 L693.34 978.41 L694.43 979.04 L696.38 978.12 L697.76 977.84 L698.78 978.53 L700.99 979.01 L702.53 977.95 L703.65 978.31 L705.66 978.17 L705.56 977.48 L707.79 977.95 L709.42 975.83 L710.33 976.96 L711.43 975.28 L713.66 975.35 L714.59 976.7 L715.65 974.38 L716.61 974.25 L719.46 974.54 L719.75 973.34 L720.65 973.85 L722.11 974.44 L723.45 973.69 L725.74 972.84 L725.87 971.08 L727.3 970.6 L728.26 971.64 L730.14 970.52 L730.97 970.41 L732.46 969.44 L734.38 968.41 L735.96 967.46 L737.09 967.2 L737.05 965.13 L738.91 965.09 L740.99 962.58 L740.94 962.4 L742.55 961.29 L744.36 959.18 L745.53 958.66 L747.5 957.27 L748.82 955.87 L749.78 953.66 L750.82 951.88 L752.21 948.66 L753.7 947.19 L754.81 943.84 L757.27 942.07 L757.9 939.62 L760.6 936.03 L761.69 932.59 L762.22 927.86 L764.48 925.66 L766.19 921.6 L766.79 917.51 L769.08 912.72 L769.88 906.21 L772.67 901.25 L772.97 897.9 L775.58 893.5 L777.74 887.72 L779.08 882.74 L779.63 879.14 L781.71 873.91 L782.62 868.7 L784.51 866.13 L786.94 860.27 L788.41 856.16 L788.6 851.78 L790.75 848.35 L792.7 844.36 L793.44 840.31 L795.98 837.37 L797.61 832.8 L798.51 829.78 L799.66 826.04 L801.91 823.2 L802.78 819.56 L803.65 816.49 L805.2 812.16 L806.38 809.69 L808.88 805.87 L809.69 802.94 L811.35 800.56 L812.88 797.85 L814.46 793.9 L814.47 790.87 L816.12 788.04 L818.19 785.7 L819.29 782.83 L819.94 781.38 L821.66 778.04 L822.16 774.25 L823.37 772.59 L824.44 770.66 L826.25 767.48 L827.28 764.19 L829.01 763.64 L831.03 761.46 L830.95 758.5 L832.91 755.64 L834.71 754.79 L835.56 753.23 L836.75 750.23 L838.47 749.99 L838.56 747.81 L841.45 745.43 L842.37 743.22 L843.94 741.59 L845.35 741.25 L845.54 739.87 L846.9 738.18 L848.52 737.31 L850.5 735.6 L852.68 733.15 L854.1 731.36 L854.76 731.7 L856.6 730.91 L858.31 728.2 L859.15 726.53 L861.74 725.81 L863.23 725.61 L864.42 723.84 L866.27 722.83 L867.66 721.92 L868.98 721.57 L870 719.52 L871.51 719.15 L873.01 719.55 L874.28 718.3 L877.29 718.31 L877.82 716.92 L878.93 715.23 L880.97 715.32 L882.16 714.62 L884.27 713.44 L885.62 714.44 L886.88 713.28 L888.89 712.45 L890.29 711.91 L891.67 710.98 L893.91 709.93 L894.53 709.78 L896.36 709.9 L898.35 709.15 L899.9 709.05 L900.33 707.62 L901.16 708.09 L904.05 707.68 L904.68 707.73 L905.53 707.28 L906.72 706.11 L908.23 706.62 L909.65 705.05 L910.67 705.09 L911.81 704.24 L914.67 704.47 L915.65 704.47 L915.75 704.63 L917.63 705.14 L919.43 703.42 L920.19 702.97 L920.73 702.8 L922.45 702.48 L923.78 703.9 L925.94 702.21 L926.66 702.91 L927.73 702.46 L929.31 701.18 L929.64 702.04 L932 701.72 L933.52 702.5 L934.62 702.04 L935.45 701.83 L936.68 701.68 L937.59 700.86 L939.09 701.82 L940.61 701.62 L942.51 701.51 L944.48 699.93 L944.99 699.28 L946.86 699.68 L948.6 700.1 L950.07 700.87 L950.55 699.28 L953.56 700.66 L954.52 700.68 L955.58 699.59 L957.01 698.7 L959.3 699.85 L961.26 698.51 L961.83 699.62 L963.5 698.1 L965.33 698.53 L966.27 698.16 L968.23 697.81 L970.65 698.12 L971.62 699.46 L973.63 698.67 L974.26 698.54 L976.83 698.08 L978.24 699.15 L978.85 698.31 L980.89 698.93 L982.67 699.12 L984 698.49 L985.55 697.66 L986.44 698.2 L988.43 698.64 L989.57 698.92 L991.75 698.62" stroke="#c3c8ca" stroke-width="3.1" opacity="0.9"/>
<path d="M565.9 982.36 L567.29 981.55 L568.95 983 L571.14 981.44 L572.63 981.76 L574.22 980.82 L576.3 982.32 L577.47 981.15 L578.17 980.81 L580.23 981.9 L582.02 982.86 L583.99 982.26 L585.22 981.18 L586.07 983.03 L588.28 981.59 L590.14 981.84 L591.91 981.33 L592.88 982.17 L594.01 980.87 L595.21 982.73 L597.48 982.04 L599.35 982.28 L599.74 981.69 L601.85 982.46 L603.38 982.06 L604.7 981.91 L605.52 980.82 L606.64 982.83 L607.85 982.24 L609.64 982.53 L611.92 981.23 L612.41 981.09 L614.62 982.78 L615.61 981.02 L616.47 980.78 L617.47 981.71 L618.91 981.39 L620.61 980.92 L621.01 980.6 L621.95 982.17 L624.42 981.05 L625.23 982.45 L626.06 981.78 L627.36 980.52 L628.14 981.14 L630.2 981.33 L631.87 981.5 L632.71 981.45 L634.38 982.39 L635.81 981.16 L636.5 980.27 L638.41 982.11 L640.38 982.27 L641.38 980.9 L641.95 980.43 L644.22 981.29 L645.68 982.04 L647.41 980.74 L648.81 980.68 L650.7 981.62 L652.36 980.27 L652.65 980.85 L654.68 980.26 L655.54 981.48 L658.69 981.16 L658.83 980.45 L660.96 980.4 L662.87 979.96 L664.16 979.71 L665.32 980.18 L667.46 981.75 L668.57 980.67 L670.58 980.17 L672.51 979.86 L673.37 980.87 L675.14 981.39 L676.96 980.15 L678.28 980.97 L680.21 980.17 L681.81 980.75 L683.38 979.21 L683.46 981.06 L685.38 979.79 L686.16 978.98 L688.48 979.43 L689.32 980.47 L691.39 979.47 L692.09 978.74 L693.91 979.08 L693.91 978.36 L696.14 978.46 L697.07 979.33 L699.01 979.79 L699.04 978.36 L700.25 978.67 L702.49 977.73 L703.12 978.37 L704.54 977.53 L705.73 978.61 L707.95 976.97 L708.61 976.47 L710.22 976.32 L711.52 976.12 L712.84 976.07 L713.47 976.91 L714.54 976.24 L716.26 976.02 L718.25 975.64 L719.62 974.59 L720.35 974.68 L722.48 973.57 L723.68 972.58 L723.95 971.86 L726.41 973.58 L728.18 971.66 L728.45 971.16 L730.53 970.9 L732.53 969.56 L733.86 968.53 L735.47 969.22 L736.32 967.53 L738.19 967.75 L740.79 966.19 L741.53 965.4 L743.34 963.31 L745.12 962 L746.21 960.86 L748.02 960.3 L749.75 958.4 L751.93 956.94 L753.45 955.48 L753.89 954.59 L755.97 952.37 L757.9 948.73 L759.65 947.21 L760.52 945.75 L762.16 942.45 L763.63 940.04 L765.09 937 L766.87 933.18 L768.41 929.83 L769.79 926.64 L769.7 921.52 L772.02 916.33 L772.79 912.81 L773.91 908.05 L774.89 903.07 L777.51 898.38 L778.75 893.44 L779.39 888.95 L780.58 883.66 L781.34 877.89 L783.78 874.59 L784.73 869.02 L784.99 865.57 L786.9 861.02 L788.85 857.19 L788.89 853.25 L790.33 848.01 L791.59 844.64 L792.89 841.62 L793.77 837.55 L795.94 833.64 L796.64 829.61 L798.72 826.48 L799.74 823.26 L801.75 819.79 L803 814.93 L804.62 812.28 L804.9 808.84 L807.44 805.67 L808.89 804.33 L809.6 800.44 L810.64 797.07 L812.34 794.71 L815.01 791.77 L816.9 788.74 L816.98 785.99 L818.86 784.31 L820.71 781.88 L821.75 778.68 L824.3 776.55 L826.26 773.31 L827.83 771.37 L828.32 768.76 L831.13 765.16 L832.5 763.98 L833.02 760.66 L835.74 759.25 L837.41 756.29 L838.85 754.98 L840.15 752.38 L841.76 751.57 L842.76 749.82 L843.35 746.94 L845.9 745.81 L847.02 744.74 L847.84 742.14 L849.19 740.9 L851.8 739.58 L853.17 739.51 L853.08 736.14 L854.33 736.54 L856.75 735.41 L857.36 733.38 L859.58 732.44 L860.16 731.1 L861.83 729.35 L861.96 728.15 L864.42 726.63 L864.69 725.15 L866.31 724.52 L867.64 723.16 L868.62 723.2 L869.73 722.92 L871.33 720.75 L871.94 719.23 L873.4 720.27 L874.65 718.45 L877.16 718.2 L877.59 716.11 L880.05 717.57 L881.27 715.91 L881.43 715.56 L883.98 714.94 L885.62 713.51 L886.15 714.65 L887.68 713.49 L889.48 711.41 L890.67 712.06 L891.81 712.59 L894.12 710.76 L894.81 710.22 L896.64 709.16 L897.61 708.84 L899.69 708.27 L902.08 709.41 L902.57 708.88 L904.25 707.61 L906.19 708.01 L907.63 707.56 L908.74 707.94 L910.41 707.22 L912.23 707.01 L914.79 706.12 L916.33 705.05 L917.93 705.89 L919.28 705.38 L921.31 705.56 L921.58 704.56 L923.82 703.91 L924.85 703.64 L927.15 703.3 L927.72 703.33 L929.6 702.75 L931.07 702.3 L932.76 702 L933.78 703.71 L934.38 701.42 L936.23 702.26 L937.78 700.93 L939.3 701.29 L939.43 701.83 L941.49 702.64 L942.73 702.39 L943.04 700.74 L944.21 702.37 L946.19 702.16 L947.48 700.58 L948.27 700.68 L949.99 700.41 L950.46 701.68 L952.42 699.55 L953.62 699.92 L955.38 701.49 L956.49 700.12 L956.72 700.58 L958.83 700.69 L959.45 699.73 L961.47 698.8 L963.09 700.87 L964.53 699.03 L964.78 698.66 L967.08 700.49 L967.94 698.58 L969.96 700.51 L971.42 699.74 L972.92 700.35 L974.9 699.94 L975.66 699.9 L977.51 698.96 L978.69 699.2 L980.19 697.95 L982.49 698.39 L983.3 699.91 L985.96 699.89 L986.85 699.4 L988.02 698.16 L990.73 698.18 L991.05 698.1" stroke="#b0b5b8" stroke-width="3.1" opacity="0.9"/>
<path d="M569.79 981.71 L571.94 981.4 L573.56 983.24 L575.19 982.49 L576.89 981.59 L577.88 982.87 L578.67 982.43 L581.06 983.17 L582.63 983.44 L584.44 981.54 L585.46 981.93 L587.02 981.83 L588.32 981.57 L588.58 982.33 L590.78 981.68 L591.37 981.82 L592.31 982.54 L593.48 982.51 L594.71 983.1 L595.72 982.56 L597.39 981.63 L597.79 983.46 L599.28 981.38 L600.86 983.06 L602.66 982.36 L603.56 982.82 L604.61 983.4 L605.69 982.06 L607.6 983.04 L609.51 982.51 L609.52 981.53 L611.69 982.38 L613.11 982.6 L615.55 983.06 L617.02 983.31 L617.59 981.49 L620.76 982.21 L621.63 982.6 L622.87 981.55 L624.49 982.05 L626.1 982.7 L628.04 981.02 L629.38 982.25 L631.99 982.4 L632.59 980.9 L634.58 982.16 L636.41 982.02 L637.47 981.17 L638.58 981.56 L640.18 982.43 L641.47 982.86 L642.92 982.8 L644.15 982.59 L644.89 981.2 L646.66 982.01 L648.1 981.63 L649.43 982.15 L650 982.68 L650.61 980.5 L651.3 981.2 L653.2 981.12 L655.35 981.22 L656.6 982.5 L657.42 980.72 L657.89 980.58 L659.27 981.99 L660.61 980.54 L662.53 980.26 L664.9 982.03 L665.21 980.31 L667.8 982.24 L668.97 980.59 L670.15 980.03 L672.12 981.88 L673.14 981.13 L675.79 982.05 L677.93 980.82 L678.65 981.85 L681.39 980.79 L681.91 981.42 L683.64 981.34 L685.79 980.18 L686.55 981.08 L687.77 981.19 L690.01 980.8 L691.42 980.51 L692.25 979.75 L693.61 979.86 L694.8 979.77 L696.19 979.41 L697.35 980.26 L699.38 979.22 L700.95 980.5 L701.62 980.28 L702.15 979.05 L703.83 978.68 L705.65 979.32 L705.83 977.5 L707.62 979.24 L707.63 977.41 L710.13 977.76 L711.56 977.38 L712.35 977.48 L714.3 978.02 L715.2 976.86 L716.96 976.01 L717.96 975.54 L719.32 975.01 L720.7 975.8 L722.79 974.91 L724.77 975.36 L725.21 974.19 L727.94 973.72 L728.57 972.36 L731.27 973.4 L733.08 972.93 L735.09 971.03 L736.3 970 L737.93 970.93 L739.59 968.79 L741.14 969.2 L742.7 966.73 L744.16 966.31 L745.87 966.31 L746.45 964.88 L748.79 962.73 L748.84 961.25 L749.86 961.97 L751.11 959.59 L753.14 958.72 L754.83 955.09 L754.77 953.31 L757.19 952.59 L757.69 949.54 L759.11 948.56 L759.44 944.66 L761.99 943.41 L762.31 940.21 L763.17 936.65 L765.07 932.93 L765.41 929.99 L767.76 927 L769.47 923.14 L769.71 918.64 L771.4 913.78 L772.96 908.05 L774.39 904.08 L776.69 897.48 L778.64 893.28 L779.7 889.26 L781.77 883.9 L783.8 878.61 L785.34 875.41 L786.3 870.07 L788.84 865.81 L789.32 861.16 L792.02 857.35 L792.4 854.56 L794.37 848.63 L795.55 846.07 L797.81 841.23 L798.51 838.55 L800.74 833.31 L801.37 829.58 L803.54 826.07 L804.52 822.84 L805.46 818.98 L806.39 816.54 L808.6 812.59 L808.83 810.73 L810.21 807.96 L812.33 804.69 L813.41 801.31 L814.31 797.51 L815.33 794.63 L816.87 792.85 L818.08 788.99 L819.32 785.95 L820.48 784.39 L821.25 781.01 L823.2 779.21 L824.01 776.31 L825.76 774.11 L826.37 771.3 L828.14 769.39 L830.58 766.34 L831.22 763.19 L832.89 762.43 L835.85 760.28 L837.57 756.71 L839.38 756.02 L840.77 754.37 L841.63 752.72 L843.81 751.25 L845.31 747.62 L846.21 746.28 L847.92 744.09 L850.23 742.68 L851.42 741.71 L853.14 739.46 L855.14 739.57 L855.1 737.07 L856.58 735.51 L859.23 735.67 L859.05 732.63 L860.69 731.24 L862.2 731.72 L862.89 730.64 L864.24 729.62 L865.02 728.31 L867.24 726.9 L867.42 724.85 L869.41 725.19 L870.16 724.23 L871.44 722.28 L871.98 721.09 L874.6 722.05 L874.47 719.43 L877.25 718.87 L877.25 718.93 L879.3 717.85 L880.9 718.08 L882.71 716.56 L883.71 716.93 L886.54 714.64 L887.09 714.59 L888.55 714.82 L891.08 714.2 L892.64 712.84 L894.24 713.01 L896.5 711.46 L898.06 711.4 L898.75 710.53 L901.36 711.57 L902.95 710.95 L903.13 708.85 L905.41 708.94 L907.48 709.2 L908.14 707.5 L909.42 709.24 L911.01 707.61 L912.91 708.31 L912.8 707.53 L915.1 707.41 L916.38 706.65 L917.97 707.09 L918.62 706.49 L919.14 705.06 L920.92 705.93 L922.2 704.94 L922.36 703.6 L924.62 703.8 L925.52 705.11 L926.74 703.44 L928.11 703.57 L929.36 703.46 L929.93 702.67 L931.32 702.11 L932.52 703.27 L934.52 702.05 L935.88 703.29 L938.07 702.33 L938.84 701.43 L940.53 701.52 L942.83 702.39 L944.95 701.05 L946.13 701.63 L947.11 700.82 L950.24 700.91 L951.31 701.6 L953.56 701.71 L954.92 702.1 L956.79 700.28 L958.22 701.9 L959.63 701.9 L961.32 701.29 L962.45 701.58 L964.35 701.26 L965.62 700.11 L965.69 700.87 L967.48 699.57 L969.5 700.55 L970.26 699.37 L971.35 699.38 L972.18 700.59 L972.77 699.82 L974.49 699.5 L974.94 700.58 L976.36 700.83 L978.02 698.88 L979.19 700.77 L980.73 700.32 L981.91 700.41 L983.49 698.77 L984.51 699.17 L986.26 699.46 L986.43 699.46 L988.6 698.4 L990.91 700.1 L992.13 698.69" stroke="#a0a5a8" stroke-width="3.1" opacity="0.9"/>
<path d="M569.7 982.81 L570.69 984.11 L572.42 982.93 L574.1 983.15 L574.54 982.21 L576.61 982.54 L578.17 982.54 L580.41 982.87 L581.9 983.64 L582.9 982.28 L584.41 983.58 L586.64 981.99 L588.16 982.96 L588.61 983.23 L591.48 983.26 L593.16 983.08 L593.79 983 L596.02 983.78 L597.28 983.2 L598.49 984.03 L599.73 982.84 L602.07 983.84 L603.92 983.59 L604.91 984.03 L606.79 982.92 L607.51 983.99 L610.06 982.96 L611.35 982.53 L612.38 983.74 L613.14 983.23 L614.36 983.31 L616.4 982.96 L617.49 983.24 L618.48 983.09 L620.25 981.96 L622.58 983.85 L623.18 981.79 L624.73 981.8 L625.57 982.39 L626.61 982.09 L627.63 982.13 L629.54 982.81 L630.99 983.37 L631.94 983.47 L633.09 982.33 L634.54 982.13 L635.14 982.03 L637.61 981.39 L638.75 982.93 L638.86 982.21 L641.31 982.92 L642.35 981.54 L642.55 983.34 L645.11 982.08 L646.53 981.45 L647.04 982.86 L648.26 981.16 L650.14 982.39 L650.83 981.05 L652.45 982.59 L654.84 981.19 L655.78 982.4 L657.32 981.32 L659.68 981.08 L661.03 981.81 L661.74 981.39 L662.9 981.35 L664.45 980.96 L667.07 981.14 L668.47 981.51 L670.78 981.27 L671.63 981.53 L673.35 982.24 L675.26 982.72 L676.37 980.61 L677.94 982.39 L679.29 981.64 L681.09 982.12 L683 981.95 L684.19 982.01 L686.16 981.11 L687.06 981.98 L688.97 980.23 L690.11 980.73 L691.82 981.73 L693.62 981.48 L693.95 980.16 L695.23 979.56 L696.93 980.72 L698.32 981.5 L699.53 980.87 L701.56 980.04 L702.7 980.37 L703.99 979.41 L705.81 980.77 L706 978.48 L708.6 980.33 L709.63 978.83 L710 978.92 L712.07 977.85 L713.48 978.59 L713.29 978.48 L715.11 978.22 L716.95 976.64 L717.57 976.87 L718.56 977.32 L720.01 976.84 L721.29 976.59 L723.29 976.82 L724.23 974.47 L725.29 974.25 L727.67 973.57 L727.96 974.07 L729.67 974.6 L731.64 973.97 L733.18 973.12 L733.67 971.93 L735.06 971.66 L736.9 969.48 L738.24 968.89 L739.77 969.1 L741.29 968.52 L742.23 967.49 L743.74 966.35 L745.95 965.32 L746.97 964.97 L748.94 962.07 L749.82 961 L751.94 958.88 L753.21 958.88 L755.35 956.86 L757.64 954.25 L758.01 953.16 L759.67 950.01 L761.46 948.01 L762.95 946.49 L764.19 942.76 L765.72 940.47 L768.25 936.3 L770.06 934.68 L770.16 931.08 L772.9 927.1 L774.42 923.6 L775.78 919.29 L777.23 913.06 L777.54 908.86 L779.27 903.27 L781.56 898.38 L782.36 893.87 L784.13 889.63 L784.58 883.79 L786.87 880.38 L788.23 874.53 L788.3 871.99 L790.5 866.45 L792.2 861.4 L791.87 858.22 L793.42 854.45 L795.78 850.07 L796.67 846.13 L797.34 842.82 L798.27 838.42 L800.73 835.2 L800.56 830.92 L803.4 827.24 L803.08 823.71 L804.86 820.03 L806.43 818.28 L807.9 814.92 L809.61 811.09 L810.29 808.66 L812.52 804.06 L812.89 801.16 L814.35 799.37 L816.83 795.72 L817.16 793.47 L818.91 790.53 L819.68 787.09 L822.4 784.74 L823.45 782.94 L825.55 780.31 L826.78 776.44 L827.91 773.22 L828.88 771.18 L830.95 768.93 L832.77 766.59 L834.19 764.42 L835.9 761.7 L837.14 760.1 L838.71 758.38 L841.47 756.79 L842.85 754.62 L843.72 752.59 L846.05 750.69 L846.38 750.05 L848.86 747.59 L849.79 744.74 L851.33 744.29 L853.19 741.96 L854.79 740.73 L855.8 738.51 L857.17 738.02 L858.84 737.69 L860.97 735.3 L862.52 733.12 L863.84 731.82 L864.93 731.3 L866.65 730.75 L866.44 728.96 L869.13 729.11 L869.57 726.45 L870.29 725.44 L871.85 725.54 L874.19 723.55 L875.11 722.33 L875.39 721.49 L877.01 720.71 L879.26 720.21 L880.62 719.85 L881.8 718.99 L882.93 718.44 L884.24 718.1 L885.43 717.06 L886.01 717.31 L886.94 715.87 L888.73 714.77 L889.2 715.13 L891.38 713.26 L892.27 712.71 L893.53 712.12 L895.28 712.45 L897.08 711.33 L898.2 712.6 L899.02 712.04 L901.92 711.72 L902.15 710.73 L904.24 711.11 L906.18 709.93 L907.46 708.32 L908.6 708.76 L910.9 709.33 L911.16 707.94 L913.47 707.41 L914.37 706.89 L916.6 707.75 L917.85 707.18 L920.34 706.58 L921.3 705.98 L922.45 705.01 L924.02 705.52 L925.52 704.83 L927.71 704.91 L929.88 705.03 L931.52 705.45 L932.79 703.33 L933.19 703.24 L935.62 703.41 L936.47 703.52 L937.73 702.82 L939.15 704 L941.68 704.19 L941.92 703 L944.64 703.23 L945.11 703.53 L946.55 703.09 L948.77 701.43 L948.88 701.8 L950.59 703.29 L952.59 702.7 L953.51 701.42 L954.11 701.56 L955.14 702.4 L957.58 701.58 L958.49 700.73 L960.28 702.63 L960.24 700.42 L961.65 701.78 L963.58 701.88 L964.19 701.18 L966.54 701.09 L966.68 701.77 L967.65 701.43 L969.55 700.31 L970.18 701.19 L971.98 701.58 L974.23 700.65 L975.11 700.43 L976.1 699.6 L977.88 699.99 L979.55 699.94 L979.7 699.36 L982.64 699.93 L984.01 699.97 L984.67 699.85 L985.83 700.25 L988.18 699.45 L989.45 700.14 L990.27 698.99 L992.64 699.79 L994.05 699.05" stroke="#95999c" stroke-width="3.1" opacity="0.9"/>
<path d="M573.79 983.57 L575.57 983.43 L576.57 982.82 L577.2 984.08 L579.68 982.48 L580.48 984.33 L581.17 983.73 L582.78 984 L584.4 984.35 L584.29 984.18 L585.76 983.87 L587.86 984.24 L589.35 984.26 L590.39 983.05 L590.78 984.04 L592.04 982.65 L593.24 983.93 L594.57 984.63 L596.16 984.31 L598.18 982.74 L600.06 983.4 L600.52 982.57 L602.5 983.69 L605.11 983.88 L606.74 983.7 L607.59 983.59 L610.43 982.92 L610.85 982.43 L612.52 982.98 L614.5 982.75 L616.31 983.81 L618.72 983.49 L619.08 984.51 L621.68 982.48 L622.76 982.43 L624.72 982.84 L626.05 983.67 L627.55 983.64 L628.39 983.08 L629.7 983.6 L630.68 983.28 L631.71 983.89 L633.41 982.47 L633.7 982.2 L634.97 982.67 L637.38 982.2 L637.62 982.1 L638.82 983.06 L640.26 984.08 L640.97 982.57 L642.03 983.11 L644.08 983.27 L644.79 983.46 L646.95 982.73 L647.72 982.04 L648.83 983.24 L650.32 982.62 L652.27 982.89 L652.88 981.99 L655.82 982.69 L656.19 981.63 L658.69 983.63 L659.24 981.58 L661.86 982.98 L662.89 981.92 L665.45 982.67 L666.68 982.97 L669.22 981.58 L669.65 982.17 L672.47 983.15 L673.77 982.07 L674.77 982.24 L676.9 981.16 L677.79 982.17 L679.11 981.91 L681.13 981.69 L682.59 983.14 L683.24 982.08 L684.99 980.9 L685.29 981.78 L687.68 982.32 L689 982.27 L690.2 982.01 L690.41 981.61 L692.09 981.94 L693.19 981.32 L693.47 982.04 L694.53 982.11 L696.66 982.07 L698.43 981.19 L699.23 981.61 L700.35 981.27 L702.3 981.32 L702.43 980.76 L705.14 979.92 L705.2 981.25 L707.9 980.4 L708.51 978.93 L710.95 980.53 L711.99 978.23 L714.54 979.88 L715.53 979.11 L717.6 977.47 L718.26 977.54 L721.16 978.42 L721.85 977.68 L724.32 977.59 L725.09 976.69 L726.42 977.53 L728.11 975.48 L730.2 975.77 L730.92 974.36 L732.76 975.53 L733.85 974.91 L735.5 972.87 L737.27 972.65 L738.02 972.71 L740.1 971.43 L740.65 972.12 L742.03 970.92 L743.36 970.3 L744.71 967.61 L745.62 966.84 L746.11 965.84 L748.27 965.45 L749.17 963.5 L749.8 963.87 L751.71 962.49 L752 959.71 L754.29 958.25 L755.1 956.62 L757.07 955.01 L757.54 953.16 L759.88 952.54 L761.06 949.57 L761.9 946.91 L764.35 943.03 L765.28 941.39 L768.16 937.57 L768.91 934.22 L770.4 931.21 L772.45 927.5 L774.52 923.63 L776.02 919.16 L777.99 914.41 L779.53 910.24 L781.73 903.77 L782.71 900.11 L783.79 894.97 L786.3 891.01 L786.98 885.65 L788.12 880.15 L789.03 875.76 L791.55 870.84 L792.66 866.92 L793.14 863.42 L795.72 857.77 L795.6 854.02 L797.5 850.06 L798.65 845.63 L799.55 841.96 L800.6 838.92 L802.18 834 L803.17 831.53 L804.04 828.1 L805.25 825.14 L806.74 821.75 L807.89 817.77 L809.05 813.97 L811.32 811.6 L812.35 807.71 L814.35 805.85 L814.49 803.32 L817.01 798.15 L818.29 797.1 L819.42 793.38 L821.36 791.01 L823.49 788.52 L824.74 786.2 L825.92 782.24 L827.69 779.84 L830.23 777.59 L830.74 774.26 L832.44 771.1 L835 769.96 L836.51 766.86 L838.47 764.44 L839.3 763.73 L840.61 760.24 L843.12 758.23 L843.4 756.13 L845.44 755.99 L845.72 752.09 L847.54 751.21 L848.88 749.68 L850.16 747.88 L850.55 745.53 L853.05 745.32 L854.4 743.96 L855.16 742.64 L856.44 740.47 L857.77 739.84 L859.04 737.03 L860.03 736.63 L860.55 734.38 L861.26 733.95 L863.02 732.82 L863.83 731.36 L865.96 730.81 L868.07 728.78 L869.48 728.42 L869.9 726.66 L872.16 726.48 L873.12 725.46 L875.61 723.63 L876.24 722.27 L877.78 721.83 L880.21 722.09 L882.57 720.47 L883.39 719.12 L885.17 718.52 L887.41 717.42 L888.63 717.02 L890.47 715.96 L891.77 717.01 L893.01 715.88 L894.65 715.16 L896.23 715.77 L897.01 715.21 L898.58 714.36 L899.74 713.63 L901.88 712.04 L902.78 712.9 L904.24 711.6 L905.09 711.45 L906.83 710.22 L908.06 711.45 L908.05 710.96 L909.14 710.59 L911.6 709.86 L911.74 709.38 L914.21 709.06 L914.33 708.5 L915.49 708.75 L916.38 708.57 L918.58 707.95 L919.97 706.22 L920.48 706.35 L923.06 705.98 L923.42 705.32 L925.67 705.44 L927.97 706.41 L928.12 705.3 L931.15 705.21 L932.63 704.24 L933.56 703.95 L935.75 703.93 L936.68 704.23 L939.24 704.06 L941.39 704.34 L941.98 703.84 L943.08 704.63 L944.68 703.34 L946.82 703.7 L948.82 702.26 L950.87 702.06 L952.15 703.86 L953.41 702.6 L954.41 703.15 L955.91 702.13 L957.01 701.55 L957.41 701.41 L959.73 702.81 L960.21 702.61 L961 701.99 L963.5 701.44 L964.38 702.87 L964.35 701.92 L966.22 701.58 L966.57 700.94 L969.07 700.73 L969.5 701.09 L970.96 701.04 L972.67 701.4 L974.07 700.63 L974.33 701.23 L976.69 701.29 L977.78 700.54 L979.22 700.19 L981.68 699.87 L982.98 700.53 L984.69 700.49 L985.55 701.66 L987.43 699.68 L989.34 701.66 L991.01 699.93 L992.65 701.64 L994.95 700.42 L995.52 700.83 L997.03 699.89" stroke="#8f9396" stroke-width="3.1" opacity="0.9"/>
<path d="M573.04 983.21 L574.05 985.28 L575.53 985.05 L577.92 984.54 L579.49 983.12 L580.79 983.21 L582.29 984.43 L583.61 984.26 L585.52 984.94 L587.41 984.55 L587.81 985.12 L589.38 983.47 L592.56 983.6 L593.44 984.4 L594.75 984.3 L596.23 984.8 L597.82 983.24 L599.88 984.63 L600.68 984.81 L602.49 984.45 L605.25 983.4 L606.57 983.19 L608.04 983.78 L608.37 984.78 L609.81 983.35 L612.08 983.08 L613.26 984.15 L613.69 983.55 L615.83 984 L615.96 984.12 L618.56 983.44 L619.23 984.57 L619.89 983.46 L621.88 984.34 L622.77 984.04 L624.13 984.2 L625.21 983.14 L625.33 984.8 L627.92 984.59 L629.37 983.24 L629.19 984.46 L631.87 983.28 L633.23 983.81 L634.54 983.56 L635.77 984.29 L637.05 984.8 L637.52 982.58 L640.33 982.66 L641.08 984.5 L643.19 983.23 L643.93 983.63 L646.49 982.52 L646.67 983.8 L649.12 982.99 L651.38 983.4 L652.65 984.02 L654.15 983.18 L656.29 983.55 L657.84 982.9 L658.74 982.34 L660.78 982.46 L662.55 984.29 L664.24 983.37 L664.67 984.26 L666.69 982.57 L669.04 984.05 L668.97 982.58 L671.27 982.64 L672.71 983.55 L673.84 982.19 L674.7 981.83 L676.25 982.23 L677.73 981.72 L679.81 982.25 L680.58 982.52 L680.69 981.75 L682.72 982.28 L683.86 982.94 L685.73 982.74 L686.93 983.2 L687.95 981.77 L689.19 982.97 L690.15 981.06 L691.6 982.28 L692.96 981.68 L694.1 981.37 L694.51 981.15 L696.39 982.12 L696.85 982.49 L698.99 980.84 L700.42 982.08 L702.45 981.2 L703.21 982.08 L704.41 981.68 L706.11 981.15 L708.84 979.76 L710.14 980.56 L711.57 980.22 L712.36 979 L714.96 979.77 L716.01 980.67 L718.34 978.36 L720.14 978.18 L721.77 979.43 L722.83 977.56 L723.66 977.5 L726.7 977.67 L727.13 976.64 L729.32 977.65 L729.97 977.59 L732.38 975.18 L733.12 975.34 L734.47 975.91 L736.29 974.62 L737.57 974.74 L739.41 973.28 L740.96 972.8 L741.3 973.45 L742.27 971.56 L744.56 970.54 L745.89 969.08 L745.87 969.07 L747.13 967.48 L748.55 968.45 L749.93 967.02 L751.51 966.01 L752.2 964.38 L753.85 962.1 L754.82 961.73 L755.95 960.21 L757.37 958.87 L759.34 955.71 L759.4 953.42 L760.56 952.89 L762.51 949.83 L764.72 946.55 L765.94 944.58 L766.81 941.61 L769.08 937.83 L771.08 936.11 L772.67 930.89 L773.32 928.65 L775.95 923.16 L776.35 918.45 L777.75 914.94 L780.97 909.64 L781.97 904.55 L783.96 899.09 L784.84 895.11 L786.03 890.89 L787.66 886.83 L789.46 882 L791.98 876.49 L792.71 871.17 L793.67 868.63 L795.45 863.8 L797.93 860.22 L798.24 854.76 L800.66 851.03 L801.51 847.11 L803.4 842.14 L803.46 838.55 L805.09 835.12 L807.05 832.72 L808.38 827.36 L808.23 825.11 L809.35 821.92 L811.87 818.97 L812.87 814.02 L813.09 811.23 L815.12 809.55 L815.8 806.88 L817.28 803.17 L818.58 799.74 L820.46 797.44 L821.11 794.29 L821.88 790.89 L823.27 789.41 L824.89 786.47 L825.89 783.16 L827.27 780.34 L829.03 777.07 L830.62 774.83 L832.9 771.91 L833.65 769.88 L835.95 768.65 L838.18 765.35 L838.42 763.32 L840.08 760.38 L842.71 759.7 L844.85 757.6 L845.28 755.3 L847.43 754.36 L849.17 752.02 L849.86 749.92 L851.53 747.66 L854.26 747.17 L855.15 744.72 L857.33 742.63 L858.23 742.67 L859.12 741.58 L860.72 739.85 L861.68 738.86 L863.1 736.79 L864.92 734.89 L867.18 734.44 L867.85 731.72 L868.84 731.07 L870.89 731.16 L871.31 729.62 L872.11 728.18 L873.84 727.29 L875.56 726.42 L875.82 726.25 L877.09 724.36 L878.9 724.08 L879.73 721.96 L881.31 721.51 L882.22 720.55 L882.87 719.39 L885.16 718.75 L886.3 718.93 L887.87 718.34 L888.57 718.29 L889.99 717.21 L891.4 716.84 L893.46 715.59 L894.35 715.56 L896.31 715.54 L898.68 713.68 L900.5 713.09 L900.6 714.28 L903.39 713.5 L904.59 712.42 L906.82 712.44 L908.08 711.73 L909.75 710.42 L911.97 711.21 L912.4 710.09 L913.66 710.53 L915.8 708.64 L918.07 710.26 L918.46 709.41 L920.75 709.17 L922.03 707.49 L924.04 707.11 L924.44 706.98 L925.84 707.53 L927.14 707.45 L928.64 707.02 L930.51 706.01 L931.77 705.22 L933.38 706.5 L934.09 704.82 L935.2 704.99 L936.43 705.79 L936.81 704.5 L938.5 705.48 L939.17 704.11 L941.44 704.62 L942.48 704.96 L943.4 703.67 L945.02 704.9 L946.51 704.74 L946.54 702.82 L949.24 702.77 L950.53 703.04 L952.04 702.99 L952.07 704.11 L953.79 703.44 L955.13 702.2 L956.43 702.37 L958.63 702.69 L959.9 702.06 L962.15 702.91 L963.58 701.73 L965.34 703.21 L967.2 701.45 L968.1 701.71 L970.45 702.3 L971.72 702.03 L972.87 702.81 L975.35 702.31 L977.25 701.24 L977.84 702.49 L979.72 701.52 L981.35 701.45 L982.64 702.59 L983.61 701.26 L985.32 701.79 L987.94 701.51 L987.95 700.29 L989.2 700.76 L991.67 702.02 L992.54 701.74 L993.8 700.66 L994.78 702.17 L995.61 701.96 L997.08 701.27 L997.96 701.26" stroke="#95999c" stroke-width="3.1" opacity="0.9"/>
<path d="M575.1 985.35 L576.33 983.81 L578.13 985.24 L579.79 984.61 L581.38 984.94 L583.57 985.67 L585.12 985.59 L586.54 985.25 L588.71 985.66 L590.26 983.85 L592.48 985.68 L593.87 985.14 L594.12 985.53 L595.92 985.35 L596.91 985.26 L598.64 984.19 L600.69 985.31 L600.79 985.05 L603.35 985.46 L604.02 983.8 L605.5 985.3 L606.42 984.97 L607.61 983.97 L609.12 985.4 L610.15 983.67 L611.54 983.96 L611.31 985.29 L612.96 985.36 L614.95 983.7 L616.29 984.19 L617.73 985.3 L618.56 983.56 L620.02 984.92 L621.57 984.89 L623.28 985.49 L625.29 984.96 L626.79 985.46 L627.48 984.1 L629.86 983.99 L630.91 985.05 L632.89 984.03 L634.64 984.61 L636.63 983.6 L637.86 983.63 L640.04 985.12 L641.95 984.69 L643.6 984.17 L643.6 984.55 L645.98 984.14 L647.34 983.71 L648.85 982.98 L650.53 983.81 L651.62 983.78 L652.37 984.46 L653.54 984.54 L655.97 984.2 L657.26 982.83 L657.79 983.48 L658.32 984.98 L659.35 983.93 L660.8 984.38 L661.61 982.85 L662.9 984.19 L664.66 984.83 L665.15 983.64 L667.12 982.7 L668.73 984.44 L669.85 983.15 L670.52 984.22 L673.13 984.62 L673.35 983.9 L674.92 983.34 L676.55 982.86 L679.27 984.2 L680.12 982.22 L681.65 984.04 L683.46 983.22 L684.43 982.17 L686.11 983.95 L688.77 983.96 L690.13 982.65 L691.42 981.9 L694.27 983.19 L695.78 983.33 L697.53 981.46 L698.63 982.58 L699.41 981.65 L701.12 983.26 L702.04 982.95 L703.98 981.47 L704.76 981.81 L707.07 982.02 L708.35 981.6 L708.41 980.88 L710.04 981.49 L711.57 981.71 L711.9 981.24 L713.76 981.87 L715.22 980.06 L715.52 979.41 L717.66 979.72 L717.79 979.6 L719.53 979.04 L721.22 978.26 L722.08 978.82 L723.87 978.5 L724.51 978.5 L726.61 978.63 L727.92 977.47 L729.33 977.07 L730.06 977.71 L732.84 976.65 L733.99 976.59 L735.79 975.53 L737 975.88 L739.52 973.05 L740.7 972.88 L742.01 973.23 L744.3 973.2 L746.28 972.34 L748.04 969.69 L749.91 970.05 L751.42 969.5 L751.59 966.8 L754.08 966.46 L755.27 964.73 L756.88 964.38 L757.65 963.23 L758.69 962.29 L760.04 960.65 L761.73 957.29 L763.19 955.89 L764.63 953.68 L765.23 953.09 L765.99 950.35 L766.68 947.54 L767.79 946.06 L769.04 941.12 L771.69 939.01 L772.36 935.13 L773.58 931.44 L774.42 927.88 L775.7 924.01 L778.09 920.21 L779.3 915.88 L779.82 909.69 L780.91 906.6 L784.04 899.95 L784.45 896.98 L786.1 890.52 L787.39 887.28 L789.41 880.76 L791.14 877.02 L793.9 871.66 L795.45 867.42 L797.22 865.17 L798.36 860.65 L799.45 856.24 L801.14 852.17 L803.82 848.7 L803.96 843.64 L806.46 840.6 L807.56 837.18 L808.69 831.55 L809.86 829.08 L812.27 826.34 L812.92 822.4 L814.64 820.01 L815.83 816.43 L816.08 813.59 L817.29 808.45 L818.47 807.48 L820.13 802.51 L821.81 799.32 L822.85 796.94 L823.46 793.69 L824.38 791.61 L826.23 788.11 L827.18 785.29 L828.11 782.71 L829.21 781.25 L831.61 778.47 L833.35 775.53 L834.68 773.89 L834.86 771.35 L837.66 769.02 L838.31 765.06 L840.6 763.4 L842.96 762.5 L844.05 760.6 L845.08 758.47 L847.58 756.42 L848.99 753.75 L850.07 753.1 L852.6 749.9 L853.2 749.27 L855.84 748.03 L856.6 745.91 L858.11 745.16 L860.05 743.77 L861.28 740.26 L863.03 740.74 L863.95 739.07 L864.59 736.44 L865.91 734.97 L868.33 735.05 L869.57 734.27 L870.74 732.96 L872.08 731.02 L872.09 730.51 L872.93 728.23 L874.29 727.04 L875.49 727.57 L877.47 725.47 L878.6 724.34 L879.58 723.46 L880.32 722.56 L881.71 721.44 L883.16 720.61 L885.25 720.2 L887.32 719.37 L888.85 720.46 L889.92 718.04 L890.63 718.68 L893.03 718.21 L895.16 716.26 L895.4 715.45 L898.09 716.13 L900.24 714.22 L900.47 715.11 L903.23 714.27 L904.15 713.28 L905.9 713.46 L907.98 713.65 L908.96 713.31 L911.75 712.04 L912.4 711.14 L913.04 712.27 L915.86 709.99 L917.05 711.06 L918.6 710.07 L918.43 710.6 L920.07 708.36 L921.13 709.48 L922.14 708.56 L923.32 707.23 L924.99 707.44 L925.91 706.98 L927.09 707.24 L928.24 707.6 L930.31 707.42 L931.07 706.24 L931.75 706.49 L933.55 706.33 L935.28 705.8 L935.38 706.95 L938.03 705.56 L938.11 704.68 L939.7 705.47 L941.7 704.82 L942.91 704.52 L944.46 705.36 L947.6 704.97 L948.88 704.92 L949.4 704.34 L951.4 704.07 L953.4 703.16 L954.8 703.87 L957.52 704.67 L958.68 703.17 L959.93 702.84 L962.58 704.02 L962.7 702.6 L965.17 704.13 L965.72 702.48 L967.61 702.16 L968.61 704.05 L970.82 702.43 L971.33 701.73 L972.73 702.47 L973.56 703.5 L975.54 702.26 L976.99 703.15 L977.11 702.96 L979.32 702.63 L980.31 701.88 L981.45 701.73 L982.57 702.18 L983.94 701.03 L984.7 702.89 L986.54 702.2 L987.32 701.23 L989.29 702.86 L989.19 702.18 L991.29 702.09 L993.04 701.28 L994.36 701.48 L995.57 702.79 L997.76 702.11 L998.39 702.55" stroke="#a0a5a8" stroke-width="3.1" opacity="0.9"/>
<path d="M576.6 985.59 L577.93 985.84 L579.9 985.12 L580.89 986.21 L581.57 985.47 L584.05 985.15 L584.23 984.91 L585.76 985.13 L586.86 984.56 L589.14 984.98 L590.87 985.21 L591.25 985.84 L594 984.24 L595.71 984.96 L596.88 986.31 L597.95 985.47 L598.87 984.86 L600.58 984.61 L603.37 984.87 L603.74 984.76 L605.36 986.28 L606.42 986.18 L608.99 985.37 L610.18 984.82 L612.34 984.31 L613.21 985.49 L614.54 984.65 L615.87 985.73 L618.36 985.25 L620.38 984.47 L620.86 985.31 L622.76 985.4 L624.04 985.55 L626.39 985.84 L627.39 985.6 L629.73 985.17 L631.13 985.88 L632.28 984.44 L633.43 984.08 L635.51 983.94 L635.86 984.07 L637.26 984.33 L638.62 985.15 L641.05 984.05 L641.31 985.38 L644.05 985.15 L644.05 985.62 L646.2 984.18 L646.82 985.24 L648.5 984.74 L649.28 983.88 L652.09 984.92 L652.18 985.22 L654.33 985.22 L654.58 984.55 L656.14 984.75 L658.06 984.76 L659.88 983.85 L660.87 983.72 L661.38 985.33 L663.16 985.44 L664.92 983.32 L665.31 984.12 L666.02 984.29 L668.75 985.39 L668.69 984.8 L670.93 984.37 L672.33 983.79 L673.8 983.41 L675.24 985.03 L676.23 984.34 L677.39 984.48 L677.88 984.94 L679.93 984.93 L681.94 983.81 L682 983.85 L684.46 982.65 L685.14 983.51 L686.65 984.61 L688.64 984.08 L689.19 984.15 L690.89 983.71 L692.34 983.08 L695.01 982.58 L696.12 982.92 L697.53 982.48 L698.77 982.22 L700.62 982.92 L702.81 982.03 L703.74 982.86 L704.67 981.65 L706.21 981.67 L709.14 982.39 L710.62 981.27 L711.17 982.62 L712.87 982.74 L713.91 980.77 L716.96 980.41 L716.96 980.98 L720.09 981.2 L720.91 981.38 L722.77 981.53 L723.32 980.69 L725.95 979.06 L726.15 980.45 L728.18 978.73 L729.64 978.08 L730.77 978.19 L733.23 978.17 L734.16 977.34 L735.14 977.79 L736.36 976.65 L737.6 975.84 L740.42 976.65 L741.05 975.55 L742.16 975.33 L743.65 974.31 L745.07 972.99 L746.72 973.3 L748.38 972.61 L749.06 970.45 L749.67 969.27 L751.34 969.27 L752.25 968.5 L754.87 968.44 L754.67 967.45 L757.45 964.86 L757.65 963.73 L758.58 961.34 L761.07 961.03 L762.4 958.12 L763.25 957.59 L764.97 954.27 L766.24 953.07 L767.48 951.35 L768.01 949.01 L769.81 945.29 L770.84 943.38 L772.77 940.08 L772.77 935.59 L774.25 932.15 L776.54 928.38 L777.8 925.56 L779.2 920.06 L780.76 917.24 L782.29 912.13 L783.73 906.01 L784.71 900.26 L786.08 896.14 L788.31 890.88 L789.89 887.31 L791.24 881.65 L791.58 877.14 L794.31 872.74 L795.72 868.66 L797.46 863.85 L798.06 861.1 L800.69 855.94 L801 853.29 L803.89 849.26 L803.96 844.52 L806.56 840.51 L807.88 836.83 L809.37 834.19 L811.64 829.44 L812.22 825.31 L813.59 821.91 L815.04 820.56 L817.81 816.97 L818.07 813.76 L821.01 810.46 L822.63 808.02 L823.04 803.15 L825.19 800.63 L826.38 799.21 L827.13 795.12 L828.46 793.3 L831.15 789.87 L831.79 786.11 L833.07 785.02 L834.29 782.14 L836.82 778.45 L836.72 777.12 L839.02 774.77 L840.45 770.89 L840.85 769.42 L842.78 767.59 L843.54 764.38 L846.05 761.62 L846.18 759.56 L848.32 759.12 L848.55 755.73 L850.36 754.95 L851.38 753.86 L853.54 752.43 L853.79 750.27 L855.75 748.06 L856.34 746.18 L857.25 744.9 L859.47 742.59 L860.69 740.95 L862.02 741.5 L862.97 739.78 L864.1 737.89 L865.82 736.02 L867.5 734.25 L868.26 733.59 L869.83 733.59 L871.71 732.04 L872.5 730.88 L873.49 729 L875.12 727.33 L877.13 726.53 L877.69 726.18 L880.29 724.63 L881.96 724.5 L883.4 724.37 L884.38 722.02 L886.2 721.28 L887.66 721.56 L889.55 720.36 L890.56 720.84 L892.04 719.7 L893.56 719.44 L895.29 718.14 L896.51 717.25 L897.25 715.89 L899.55 717 L900.86 716.77 L903.08 715.99 L904.78 715.57 L905.96 714.29 L907.93 713.25 L908.7 713.03 L911.08 713.67 L912.31 712.22 L913.08 712.69 L915.7 712.09 L916.05 710.78 L917.5 711.09 L920.49 710.23 L920.39 711.35 L923.41 709.77 L924.78 710.23 L924.84 709.34 L926.75 708.63 L928.56 709.7 L930.24 707.39 L930.66 707.59 L932.01 707.65 L933.41 708.17 L934.85 707.84 L936.03 707.43 L938.12 707.88 L939.14 707.08 L939.64 707.48 L941.21 705.21 L942.94 705.25 L944.28 705.87 L945.51 706.12 L946.49 705.48 L947.89 704.99 L949.97 705.74 L950.92 704.55 L951.14 705.54 L953.75 704.27 L953.63 704.53 L956.34 704.96 L957.06 703.54 L958.43 704 L960.17 704.2 L960.75 705.07 L961.94 704.62 L964.35 703.99 L965.08 704.46 L966.66 703.69 L967.99 704.59 L969.44 703.3 L970.27 704.33 L972.33 703.5 L973.68 703.51 L974.35 703.52 L975.68 702.45 L978.42 702.73 L978.37 702.26 L981.23 702.06 L982.42 701.74 L982.98 703.44 L985.85 701.7 L986.01 703.35 L988.82 702.44 L989.29 703.38 L991.91 701.42 L993.53 702.6 L994.59 702.58 L996.66 702.97 L998.46 701.36 L999.66 703.05 L1000.39 703.38 L1001.74 702.22" stroke="#b0b5b8" stroke-width="3.1" opacity="0.9"/>
<path d="M577.5 985.01 L579.57 984.99 L581.42 985.02 L583.22 985.48 L583.39 985.32 L586.07 986.89 L586.71 985.46 L589.31 985.79 L590.89 986.29 L591.54 986.7 L592.92 986.31 L594.87 986.72 L597.58 984.81 L598.96 984.77 L600 985.74 L602.84 984.98 L604.23 985.76 L605.3 985.08 L606.42 986.51 L608.85 986.66 L610.24 984.95 L611.78 985.49 L613.23 984.93 L614.28 985.6 L614.39 985.29 L616.27 985.16 L616.88 986.47 L619.25 985.99 L619.61 984.8 L621.27 985.02 L622.41 985.97 L623.08 985.86 L624 985.93 L625.54 985.08 L626.83 986.17 L628.92 986.42 L629.55 986.63 L629.94 986.09 L632.47 985.69 L634.18 985.81 L634.05 986.21 L636.09 984.68 L638.47 985.89 L639.46 985.72 L641.44 985.26 L642.59 985.97 L643.52 985.5 L645.88 985.3 L647.87 985.38 L649.18 984.62 L650.26 986.02 L653.34 984.5 L653.91 985.17 L656.74 985.53 L657.21 985.09 L659.25 984.24 L660.01 984.14 L662.72 985.92 L663.68 985.24 L665.15 985.98 L666.94 985.08 L667.68 983.95 L668.25 985.68 L670.41 985.62 L671.71 984.08 L671.83 985.57 L673.95 985.41 L674.37 984.46 L675.63 985.57 L676.94 983.53 L678.98 983.93 L680.05 984.23 L681.05 985.45 L681.25 983.94 L683.64 983.97 L684.22 985.39 L685.37 984.06 L686.93 984.88 L688.69 983.81 L690.67 984.14 L691.83 984.2 L693.07 984.68 L694.4 984.65 L696.99 983.76 L698.06 983.24 L699.19 982.51 L701.96 984.1 L702.95 984.36 L704.45 982.24 L707.18 984.28 L707.72 983.82 L709.05 983.49 L712 983.71 L713.42 981.72 L714.91 982.75 L716.74 981.65 L717.36 982.77 L718.84 982.78 L720.23 982.83 L721.9 980.89 L723.18 981.48 L724.01 981.38 L724.87 979.61 L726.95 979.6 L727.4 979.58 L728.88 980.26 L729.49 979.45 L730.56 980.04 L732.19 977.84 L733.26 979.43 L734.86 978.09 L735.42 977.25 L736.98 977.02 L738.27 976.46 L740.06 975.42 L740.37 975.7 L741.72 975.69 L744.8 973.14 L745.55 974.04 L747.48 972.67 L749.29 972.3 L751.11 969.91 L751.98 969.71 L753.14 967.96 L754.62 968.53 L756.6 966.8 L759.21 966.05 L761.19 964.04 L762.76 963.22 L764.08 961.92 L764.74 960.09 L767.39 957.86 L767.67 955.2 L770.2 953.92 L771.65 950.3 L773.18 949.14 L774.52 945.26 L775.25 943.22 L776.71 940.03 L778.77 937.45 L779.82 933.33 L780.23 929.28 L782.29 924.67 L783.47 920.58 L783.1 915.75 L785.38 912.51 L786.33 906.06 L787.87 901.75 L789.02 896.35 L790.36 891.17 L791.49 886.9 L792.96 881.94 L794.34 878.26 L794.43 872.95 L796.67 869.79 L797.83 866.25 L798.96 860.79 L801.12 857.43 L803.02 851.89 L804.71 849.15 L806.16 845.42 L807.93 841.95 L809.32 837.57 L810.54 833.94 L813.01 831.03 L814.41 826.85 L816.24 823.24 L817.13 820.59 L818.56 817.84 L821.14 813.7 L822.21 809.83 L823.9 807.02 L825.55 805.54 L827.22 802.33 L827.99 799.3 L829.58 796.59 L831.01 793.39 L831.43 790.93 L832.55 787.95 L834.58 785.93 L834.61 782.64 L836.75 780.09 L837.32 775.83 L838.88 774.98 L839.45 772.38 L841.06 769.48 L841.74 767.03 L843.56 765.43 L845.26 763.66 L846.7 761.66 L846.77 758.61 L848.8 756.71 L850.68 755.5 L851.95 753.72 L853.51 751.33 L855.13 749.65 L856.36 749.31 L858.4 747.15 L860.01 744.41 L861.3 744.76 L863.69 743.29 L864.97 742.06 L865.91 740.25 L867.92 737.18 L870.23 736.94 L871.21 735.51 L873.56 734.66 L874.73 732.55 L876.48 731.79 L877.4 730.63 L879.45 730.97 L880.31 728.87 L882.03 727.82 L882.73 727.13 L884.03 726.4 L885.95 726.3 L887.22 724.46 L888.45 722.56 L889.32 722.57 L889.89 722.44 L891.65 720.23 L892.72 720.81 L893.44 720.89 L895.01 720.28 L895.83 719.55 L898.05 717.32 L898.95 718.24 L900.63 716.89 L901.81 715.5 L902.9 714.89 L903.54 716.38 L906 714.28 L907.49 715.59 L907.94 714.25 L910.74 714.43 L911.77 714.3 L913.24 713.42 L914.58 711.95 L916.79 713.14 L919 712.32 L920.27 710.18 L922 710.67 L923.16 709.5 L925.57 711.16 L927.21 710.64 L929.22 709.77 L929.9 708.83 L932.33 709.11 L933.14 708.13 L934.8 708.25 L936.27 707.35 L937.81 706.78 L937.57 707.67 L938.81 708.3 L940.22 708.23 L941.65 707.7 L942.84 705.7 L943.99 706.16 L944.56 705.88 L946.78 706.08 L946.82 705.61 L948.35 704.98 L949.91 706.23 L951.44 705.32 L952.16 705.67 L953.11 705.7 L955.3 705.44 L956.21 705.3 L957.62 705.5 L959.21 704.3 L960.75 703.85 L961.79 703.65 L964.23 705.51 L965.2 705.12 L967.64 703.41 L968.94 704.42 L970 703.8 L972.97 703.03 L973.46 704.51 L975.46 704.59 L978.25 703.83 L979.91 703.36 L980.44 703.41 L981.68 703.36 L983.6 702.81 L985.36 703.49 L986.88 702.64 L987.94 702.34 L989.05 703.16 L991.45 701.99 L992.3 703.36 L994.13 702.41 L994.62 702.99 L996.35 702.93 L996.93 702.22 L998.15 702.87 L999.3 702.88 L1000.35 703.19 L1000.77 703.09 L1002.18 702.9" stroke="#c3c8ca" stroke-width="3.1" opacity="0.9"/>
<path d="M572.14 983.6 L572.84 983.6 L573.78 983.6 L573.78 983.6 L576.64 983.6 L578.1 983.6 L578.1 983.59 L580.58 983.59 L581.21 983.59 L581.21 983.58 L583.73 983.58 L584.95 983.58 L584.95 983.57 L587.26 983.56 L588.84 983.56 L588.84 983.55 L591.06 983.54 L592.35 983.54 L592.35 983.53 L593.4 983.52 L595.24 983.52 L595.24 983.51 L597.58 983.49 L598.04 983.49 L598.04 983.48 L599.96 983.46 L600.79 983.46 L600.79 983.45 L602.57 983.43 L604.08 983.43 L604.08 983.41 L605.55 983.4 L607.59 983.4 L607.59 983.38 L609.33 983.36 L610.32 983.36 L610.32 983.34 L611.99 983.32 L612.86 983.32 L612.86 983.3 L614.53 983.27 L615.94 983.27 L615.94 983.25 L618.15 983.23 L619.54 983.23 L619.54 983.2 L621.34 983.18 L623.5 983.18 L623.5 983.16 L624.42 983.13 L626.51 983.13 L626.51 983.1 L629.06 983.08 L630.91 983.08 L630.91 983.05 L631.56 983.02 L633.46 983.02 L633.46 983 L634.11 982.97 L634.96 982.97 L634.96 982.94 L637.19 982.91 L638.98 982.91 L638.98 982.88 L640.01 982.85 L642.31 982.85 L642.31 982.82 L644.1 982.79 L646.82 982.79 L646.82 982.76 L648.52 982.73 L650.79 982.73 L650.79 982.69 L652.19 982.66 L653.57 982.66 L653.57 982.62 L655.89 982.58 L656.45 982.58 L656.45 982.54 L658.37 982.5 L660.63 982.5 L660.63 982.45 L662.36 982.4 L663.79 982.4 L663.79 982.35 L665.79 982.29 L667.45 982.29 L667.45 982.24 L669.54 982.18 L670.24 982.18 L670.24 982.11 L671.73 982.05 L673.42 982.05 L673.42 981.98 L675.15 981.91 L675.78 981.91 L675.78 981.83 L677.02 981.75 L678.22 981.75 L678.22 981.67 L679.34 981.58 L680.58 981.58 L680.58 981.49 L681.65 981.4 L684.05 981.4 L684.05 981.3 L686.66 981.2 L687.32 981.2 L687.32 981.09 L689.27 980.98 L691.3 980.98 L691.3 980.87 L693.66 980.75 L694.35 980.75 L694.35 980.63 L696.25 980.5 L698.22 980.5 L698.22 980.37 L698.76 980.23 L699.92 980.23 L699.92 980.09 L701.95 979.95 L703.71 979.95 L703.71 979.8 L706.08 979.64 L707.96 979.64 L707.96 979.48 L710.09 979.31 L711.31 979.31 L711.31 979.13 L712.1 978.88 L713.13 978.88 L713.13 978.58 L715.84 978.23 L717.36 978.23 L717.36 977.84 L718.59 977.39 L719.35 977.39 L719.35 976.9 L720.4 976.37 L723.34 976.37 L723.34 975.81 L724.22 975.2 L725.84 975.2 L725.84 974.57 L727.7 973.9 L728.87 973.9 L728.87 973.21 L731 972.49 L732.76 972.49 L732.76 971.66 L735.27 970.72 L736.41 970.72 L736.41 969.65 L737.66 968.46 L740.38 968.46 L740.38 967.14 L740.95 965.69 L741.94 965.69 L741.94 964.1 L743.13 962.35 L745.13 962.35 L745.13 960.24 L746.23 957.73 L747.66 957.73 L747.66 954.81 L748.77 951.49 L751.96 951.49 L751.96 947.76 L754.74 942.86 L756.1 942.86 L756.1 936.77 L758.54 930.33 L760.05 930.33 L760.05 923.69 L761.92 916.47 L762.64 916.47 L762.64 911.08 L764.77 908.17 L766.27 908.17 L766.27 906.06 L767.96 903.58 L768.96 903.58 L768.96 899.28 L770.51 893.02 L772.54 893.02 L772.54 887.35 L773.64 883.29 L776.13 883.29 L776.13 879.87 L778.03 876.61 L780.36 876.61 L780.36 873.08 L781.43 868.8 L781.89 868.8 L781.89 863.3 L784.09 857.37 L785.29 857.37 L785.29 852.14 L787.19 847.98 L788.35 847.98 L788.35 843.97 L789.27 839.18 L791.14 839.18 L791.14 833.48 L793.23 827.35 L793.9 827.35 L793.9 821.29 L796.64 815.72 L797.35 815.72 L797.35 810.37 L798.95 805.23 L799.83 805.23 L799.83 800.38 L801.11 795.82 L802.41 795.82 L802.41 791.46 L803.99 787.27 L806.84 787.27 L806.84 783.21 L807.7 778.99 L809.22 778.99 L809.22 774.8 L810.74 771.09 L812.61 771.09 L812.61 768.3 L813.87 766.29 L815.41 766.29 L815.41 764.66 L817.81 763.24 L819.41 763.24 L819.41 761.84 L821.08 760.3 L822.46 760.3 L822.46 758.51 L824.65 756.59 L825.7 756.59 L825.7 754.59 L828.64 752.56 L829.44 752.56 L829.44 750.55 L831.33 748.61 L833.78 748.61 L833.78 746.79 L836.32 745.16 L838.02 745.16 L838.02 743.69 L838.94 742.26 L840.49 742.26 L840.49 740.76 L842.72 739.07 L844.9 739.07 L844.9 737.06 L847.02 734.15 L847.5 734.15 L847.5 730.69 L849.45 727.79 L850.53 727.79 L850.53 725.86 L852.15 724.13 L854.1 724.13 L854.1 722.59 L854.83 721.24 L856.21 721.24 L856.21 720.09 L858.11 719.16 L859.07 719.16 L859.07 718.44 L861.6 717.87 L862.64 717.87 L862.64 717.41 L863.25 717.01 L865.62 717.01 L865.62 716.61 L867.79 716.17 L868.69 716.17 L868.69 715.65 L871.27 714.99 L872.94 714.99 L872.94 714.22 L873.81 713.35 L875.76 713.35 L875.76 712.45 L877.65 711.54 L878.16 711.54 L878.16 710.66 L879.75 709.86 L881.58 709.86 L881.58 709.18 L884.13 708.59 L886.33 708.59 L886.33 708.02 L887.47 707.47 L889.33 707.47 L889.33 706.95 L891.31 706.46 L892.12 706.46 L892.12 706 L893.75 705.59 L894.8 705.59 L894.8 705.22 L895.75 704.9 L897.92 704.9 L897.92 704.63 L898.73 704.39 L900.25 704.39 L900.25 704.16 L902.39 703.96 L903.54 703.96 L903.54 703.76 L904.85 703.58 L906.65 703.58 L906.65 703.42 L908.27 703.26 L910.47 703.26 L910.47 703.1 L912.91 702.96 L915.05 702.96 L915.05 702.81 L916.74 702.67 L917.47 702.67 L917.47 702.53 L918.78 702.38 L919.95 702.38 L919.95 702.24 L922.23 702.09 L924.4 702.09 L924.4 701.95 L925.51 701.81 L927.48 701.81 L927.48 701.67 L928.77 701.53 L929.98 701.53 L929.98 701.39 L931.86 701.26 L934 701.26 L934 701.14 L934.97 701.02 L937.51 701.02 L937.51 700.91 L939.32 700.81 L939.78 700.81 L939.78 700.72 L941.58 700.63 L943.34 700.63 L943.34 700.56 L944.12 700.5 L945.29 700.5 L945.29 700.44 L947.87 700.4 L949.06 700.4 L949.06 700.36 L951.24 700.32 L952.48 700.32 L952.48 700.28 L953.47 700.24 L954.73 700.24 L954.73 700.21 L956.23 700.17 L959.07 700.17 L959.07 700.14 L961.61 700.1 L962.19 700.1 L962.19 700.07 L962.98 700.04 L965.23 700.04 L965.23 700.01 L967.1 699.99 L968.32 699.99 L968.32 699.96 L969.53 699.93 L970.71 699.93 L970.71 699.91 L973.18 699.89 L975.87 699.89 L975.87 699.87 L977.16 699.85 L978.74 699.85 L978.74 699.84 L981.14 699.82 L982.64 699.82 L982.64 699.81 L985.1 699.8 L986.6 699.8 L986.6 699.79 L988.07 699.79 L988.74 699.79 L988.74 699.78 L990.05 699.78" stroke="#e98f2e" stroke-width="3.3"/>
<path d="M571.95 983.6 L573.37 983.6 L574.78 983.6 L576.2 983.6 L577.62 983.6 L579.04 983.6 L580.45 983.6 L581.87 983.6 L583.29 983.6 L584.71 983.6 L586.12 983.6 L587.54 983.6 L588.96 983.6 L590.38 983.59 L591.79 983.59 L593.21 983.58 L594.63 983.58 L596.05 983.57 L597.46 983.57 L598.88 983.56 L600.3 983.55 L601.72 983.54 L603.13 983.53 L604.55 983.52 L605.97 983.51 L607.39 983.49 L608.8 983.48 L610.22 983.47 L611.64 983.45 L613.06 983.44 L614.47 983.42 L615.89 983.4 L617.31 983.39 L618.73 983.37 L620.14 983.35 L621.56 983.33 L622.98 983.31 L624.39 983.29 L625.81 983.27 L627.23 983.25 L628.65 983.22 L630.06 983.2 L631.48 983.18 L632.9 983.15 L634.32 983.13 L635.73 983.11 L637.15 983.08 L638.57 983.05 L639.99 983.03 L641.4 983 L642.82 982.97 L644.24 982.95 L645.66 982.92 L647.07 982.89 L648.49 982.86 L649.91 982.83 L651.33 982.8 L652.74 982.77 L654.16 982.74 L655.58 982.71 L657 982.68 L658.41 982.65 L659.83 982.62 L661.25 982.58 L662.67 982.55 L664.08 982.52 L665.5 982.49 L666.92 982.45 L668.33 982.42 L669.75 982.38 L671.17 982.34 L672.59 982.29 L674 982.25 L675.42 982.2 L676.84 982.15 L678.26 982.09 L679.67 982.03 L681.09 981.97 L682.51 981.91 L683.93 981.84 L685.34 981.77 L686.76 981.7 L688.18 981.62 L689.6 981.54 L691.01 981.46 L692.43 981.37 L693.85 981.28 L695.27 981.18 L696.68 981.08 L698.1 980.98 L699.52 980.87 L700.94 980.76 L702.35 980.64 L703.77 980.5 L705.19 980.33 L706.61 980.15 L708.02 979.95 L709.44 979.73 L710.86 979.5 L712.28 979.26 L713.69 979 L715.11 978.73 L716.53 978.45 L717.94 978.16 L719.36 977.86 L720.78 977.55 L722.2 977.22 L723.61 976.87 L725.03 976.48 L726.45 976.07 L727.87 975.63 L729.28 975.17 L730.7 974.68 L732.12 974.16 L733.54 973.61 L734.95 973.05 L736.37 972.45 L737.79 971.8 L739.21 971.1 L740.62 970.34 L742.04 969.54 L743.46 968.67 L744.88 967.75 L746.29 966.77 L747.71 965.73 L749.13 964.63 L750.55 963.4 L751.96 962.05 L753.38 960.57 L754.8 958.98 L756.22 957.28 L757.63 955.46 L759.05 953.54 L760.47 951.46 L761.88 949.13 L763.3 946.58 L764.72 943.83 L766.14 940.91 L767.55 937.85 L768.97 934.61 L770.39 931.06 L771.81 927.25 L773.22 923.21 L774.64 919 L776.06 914.43 L777.48 909.53 L778.89 904.5 L780.31 899.55 L781.73 894.75 L783.15 889.96 L784.56 885.2 L785.98 880.53 L787.4 875.99 L788.82 871.58 L790.23 867.27 L791.65 863.03 L793.07 858.85 L794.49 854.7 L795.9 850.59 L797.32 846.55 L798.74 842.62 L800.16 838.82 L801.57 835.1 L802.99 831.46 L804.41 827.9 L805.83 824.43 L807.24 821.05 L808.66 817.75 L810.08 814.53 L811.49 811.36 L812.91 808.26 L814.33 805.22 L815.75 802.22 L817.16 799.27 L818.58 796.38 L820 793.54 L821.42 790.74 L822.83 787.99 L824.25 785.28 L825.67 782.57 L827.09 779.87 L828.5 777.2 L829.92 774.58 L831.34 772.03 L832.76 769.57 L834.17 767.22 L835.59 764.99 L837.01 762.85 L838.43 760.77 L839.84 758.76 L841.26 756.81 L842.68 754.93 L844.1 753.1 L845.51 751.33 L846.93 749.61 L848.35 747.93 L849.77 746.28 L851.18 744.68 L852.6 743.12 L854.02 741.61 L855.43 740.14 L856.85 738.72 L858.27 737.35 L859.69 736.02 L861.1 734.72 L862.52 733.45 L863.94 732.21 L865.36 731.02 L866.77 729.86 L868.19 728.75 L869.61 727.68 L871.03 726.66 L872.44 725.69 L873.86 724.74 L875.28 723.82 L876.7 722.92 L878.11 722.06 L879.53 721.22 L880.95 720.41 L882.37 719.64 L883.78 718.91 L885.2 718.21 L886.62 717.56 L888.04 716.94 L889.45 716.34 L890.87 715.77 L892.29 715.21 L893.71 714.68 L895.12 714.17 L896.54 713.67 L897.96 713.19 L899.38 712.73 L900.79 712.28 L902.21 711.84 L903.63 711.41 L905.04 710.99 L906.46 710.58 L907.88 710.17 L909.3 709.76 L910.71 709.37 L912.13 708.98 L913.55 708.6 L914.97 708.23 L916.38 707.88 L917.8 707.54 L919.22 707.21 L920.64 706.9 L922.05 706.6 L923.47 706.32 L924.89 706.06 L926.31 705.81 L927.72 705.57 L929.14 705.34 L930.56 705.11 L931.98 704.89 L933.39 704.68 L934.81 704.48 L936.23 704.28 L937.65 704.09 L939.06 703.92 L940.48 703.75 L941.9 703.59 L943.32 703.44 L944.73 703.31 L946.15 703.18 L947.57 703.07 L948.98 702.95 L950.4 702.84 L951.82 702.73 L953.24 702.62 L954.65 702.51 L956.07 702.4 L957.49 702.3 L958.91 702.19 L960.32 702.09 L961.74 701.98 L963.16 701.89 L964.58 701.79 L965.99 701.69 L967.41 701.6 L968.83 701.51 L970.25 701.42 L971.66 701.34 L973.08 701.26 L974.5 701.18 L975.92 701.11 L977.33 701.04 L978.75 700.97 L980.17 700.91 L981.59 700.86 L983 700.8 L984.42 700.76 L985.84 700.71 L987.26 700.68 L988.67 700.64 L990.09 700.62 L991.51 700.6 L992.93 700.58 L994.34 700.57 L995.76 700.57" stroke="#000" stroke-width="4.8"/>
</g>
<path d="M790.5 841.6 L797.25 838.3 L800.25 838.3 L807 841.6 L800.25 844.9 L797.25 844.9 Z" fill="#2a9cc8"/>
<text font-size="29.64" fill="#2a9cc8" style="stroke:#2a9cc8" textLength="57.5" lengthAdjust="spacingAndGlyphs" x="844.5" y="854.2">27%</text>
<rect x="584.9" y="689.4" width="398.4" height="304.9" fill="none" stroke="#333" stroke-width="1.4" />
<line x1="579.9" y1="983.6" x2="584.9" y2="983.6" stroke="#333" stroke-width="1.7" />
<text font-size="21.84" text-anchor="end" textLength="11.69" lengthAdjust="spacingAndGlyphs" x="576.7" y="989">0</text>
<line x1="579.9" y1="912.7" x2="584.9" y2="912.7" stroke="#333" stroke-width="1.7" />
<text font-size="21.84" text-anchor="end" textLength="23.37" lengthAdjust="spacingAndGlyphs" x="576.7" y="918.1">25</text>
<line x1="579.9" y1="841.8" x2="584.9" y2="841.8" stroke="#333" stroke-width="1.7" />
<text font-size="21.84" text-anchor="end" textLength="23.37" lengthAdjust="spacingAndGlyphs" x="576.7" y="847.2">50</text>
<line x1="579.9" y1="770.9" x2="584.9" y2="770.9" stroke="#333" stroke-width="1.7" />
<text font-size="21.84" text-anchor="end" textLength="23.37" lengthAdjust="spacingAndGlyphs" x="576.7" y="776.3">75</text>
<line x1="579.9" y1="700" x2="584.9" y2="700" stroke="#333" stroke-width="1.7" />
<text font-size="21.84" text-anchor="end" textLength="35.06" lengthAdjust="spacingAndGlyphs" x="576.7" y="705.4">100</text>
<line x1="613.5" y1="994.3" x2="613.5" y2="999.9" stroke="#333" stroke-width="1.7" />
<text font-size="22.36" text-anchor="middle" textLength="24.53" lengthAdjust="spacingAndGlyphs" x="618.8" y="1020.9">−1</text>
<line x1="779.7" y1="994.3" x2="779.7" y2="999.9" stroke="#333" stroke-width="1.7" />
<text font-size="22.36" text-anchor="middle" textLength="11.96" lengthAdjust="spacingAndGlyphs" x="783" y="1020.9">0</text>
<line x1="945.9" y1="994.3" x2="945.9" y2="999.9" stroke="#333" stroke-width="1.7" />
<text font-size="22.36" text-anchor="middle" textLength="11.96" lengthAdjust="spacingAndGlyphs" x="949.2" y="1020.9">1</text>
<text font-size="30.16" textLength="83" lengthAdjust="spacingAndGlyphs" x="586.2" y="682.8">mESC</text>
<text transform="translate(675.29 687) scale(0.87 1.04)" style="font-family:'Noto Sans CJK JP','DejaVu Sans',sans-serif;font-weight:100;font-size:35.5px">♂</text>
<text font-size="30.16" textLength="166" lengthAdjust="spacingAndGlyphs" x="706.4" y="682.8">6 h STM2457</text>
<text font-size="29.64" text-anchor="middle" textLength="301.5" lengthAdjust="spacingAndGlyphs" x="768" y="1053.6">Expression fold change</text>
<text font-size="29.64" text-anchor="middle" textLength="296" lengthAdjust="spacingAndGlyphs" x="767.7" y="1082.7">STM2457/DMSO (log<tspan font-size="18.5" dy="7.6">2</tspan><tspan dy="-7.6">)</tspan></text>
</g>
<g><clipPath id="clipB3"><rect x="1039.8" y="690" width="398" height="304.3"/></clipPath>
<line x1="1149.4" y1="690" x2="1149.4" y2="994.3" stroke="#e9e9e9" stroke-width="1.1" />
<line x1="1315.6" y1="690" x2="1315.6" y2="994.3" stroke="#e9e9e9" stroke-width="1.1" />
<line x1="1039.8" y1="948.15" x2="1437.8" y2="948.15" stroke="#e9e9e9" stroke-width="1.1" />
<line x1="1039.8" y1="877.25" x2="1437.8" y2="877.25" stroke="#e9e9e9" stroke-width="1.1" />
<line x1="1039.8" y1="806.35" x2="1437.8" y2="806.35" stroke="#e9e9e9" stroke-width="1.1" />
<line x1="1039.8" y1="735.45" x2="1437.8" y2="735.45" stroke="#e9e9e9" stroke-width="1.1" />
<line x1="1066.3" y1="690" x2="1066.3" y2="994.3" stroke="#dedede" stroke-width="1.6" />
<line x1="1232.5" y1="690" x2="1232.5" y2="994.3" stroke="#dedede" stroke-width="1.6" />
<line x1="1398.7" y1="690" x2="1398.7" y2="994.3" stroke="#dedede" stroke-width="1.6" />
<line x1="1039.8" y1="983.6" x2="1437.8" y2="983.6" stroke="#dedede" stroke-width="1.6" />
<line x1="1039.8" y1="912.7" x2="1437.8" y2="912.7" stroke="#dedede" stroke-width="1.6" />
<line x1="1039.8" y1="841.8" x2="1437.8" y2="841.8" stroke="#dedede" stroke-width="1.6" />
<line x1="1039.8" y1="770.9" x2="1437.8" y2="770.9" stroke="#dedede" stroke-width="1.6" />
<line x1="1039.8" y1="700" x2="1437.8" y2="700" stroke="#dedede" stroke-width="1.6" />
<g clip-path="url(#clipB3)" fill="none" stroke-linejoin="round" stroke-linecap="round">
<path d="M1025.75 983.6 L1027.16 983.6 L1028.58 983.6 L1030 983.6 L1031.42 983.6 L1032.83 983.6 L1034.25 983.6 L1035.67 983.6 L1037.09 983.6 L1038.5 983.6 L1039.92 983.6 L1041.34 983.6 L1042.76 983.6 L1044.17 983.6 L1045.59 983.59 L1047.01 983.59 L1048.43 983.58 L1049.84 983.58 L1051.26 983.57 L1052.68 983.56 L1054.1 983.55 L1055.51 983.54 L1056.93 983.53 L1058.35 983.52 L1059.77 983.51 L1061.18 983.49 L1062.6 983.48 L1064.02 983.46 L1065.44 983.44 L1066.85 983.43 L1068.27 983.41 L1069.69 983.39 L1071.1 983.37 L1072.52 983.35 L1073.94 983.33 L1075.36 983.3 L1076.77 983.28 L1078.19 983.25 L1079.61 983.23 L1081.03 983.2 L1082.44 983.18 L1083.86 983.15 L1085.28 983.12 L1086.7 983.09 L1088.11 983.06 L1089.53 983.03 L1090.95 983 L1092.37 982.97 L1093.78 982.94 L1095.2 982.91 L1096.62 982.87 L1098.04 982.84 L1099.45 982.81 L1100.87 982.77 L1102.29 982.74 L1103.71 982.7 L1105.12 982.66 L1106.54 982.63 L1107.96 982.59 L1109.38 982.55 L1110.79 982.51 L1112.21 982.47 L1113.63 982.43 L1115.04 982.39 L1116.46 982.35 L1117.88 982.31 L1119.3 982.27 L1120.71 982.23 L1122.13 982.19 L1123.55 982.14 L1124.97 982.1 L1126.38 982.04 L1127.8 981.99 L1129.22 981.92 L1130.64 981.86 L1132.05 981.79 L1133.47 981.72 L1134.89 981.64 L1136.31 981.56 L1137.72 981.47 L1139.14 981.38 L1140.56 981.28 L1141.98 981.19 L1143.39 981.08 L1144.81 980.98 L1146.23 980.87 L1147.65 980.75 L1149.06 980.63 L1150.48 980.51 L1151.9 980.39 L1153.32 980.26 L1154.73 980.12 L1156.15 979.99 L1157.57 979.84 L1158.99 979.69 L1160.4 979.51 L1161.82 979.32 L1163.24 979.12 L1164.65 978.9 L1166.07 978.66 L1167.49 978.41 L1168.91 978.14 L1170.32 977.86 L1171.74 977.56 L1173.16 977.25 L1174.58 976.93 L1175.99 976.59 L1177.41 976.23 L1178.83 975.83 L1180.25 975.39 L1181.66 974.91 L1183.08 974.39 L1184.5 973.83 L1185.92 973.24 L1187.33 972.6 L1188.75 971.93 L1190.17 971.22 L1191.59 970.48 L1193 969.66 L1194.42 968.72 L1195.84 967.7 L1197.26 966.58 L1198.67 965.38 L1200.09 964.11 L1201.51 962.77 L1202.93 961.36 L1204.34 959.81 L1205.76 958.11 L1207.18 956.29 L1208.59 954.37 L1210.01 952.36 L1211.43 950.29 L1212.85 948.18 L1214.26 946.01 L1215.68 943.74 L1217.1 941.36 L1218.52 938.86 L1219.93 936.25 L1221.35 933.52 L1222.77 930.64 L1224.19 927.57 L1225.6 924.33 L1227.02 920.94 L1228.44 917.41 L1229.86 913.76 L1231.27 909.86 L1232.69 905.78 L1234.11 901.58 L1235.53 897.34 L1236.94 893.13 L1238.36 888.83 L1239.78 884.47 L1241.2 880.12 L1242.61 875.92 L1244.03 871.9 L1245.45 868.02 L1246.87 864.23 L1248.28 860.53 L1249.7 856.91 L1251.12 853.42 L1252.54 850.05 L1253.95 846.71 L1255.37 843.31 L1256.79 839.78 L1258.2 836.09 L1259.62 832.35 L1261.04 828.64 L1262.46 825.09 L1263.87 821.73 L1265.29 818.49 L1266.71 815.34 L1268.13 812.2 L1269.54 809.04 L1270.96 805.79 L1272.38 802.46 L1273.8 799.11 L1275.21 795.78 L1276.63 792.55 L1278.05 789.45 L1279.47 786.46 L1280.88 783.53 L1282.3 780.68 L1283.72 777.89 L1285.14 775.17 L1286.55 772.5 L1287.97 769.89 L1289.39 767.32 L1290.81 764.82 L1292.22 762.38 L1293.64 760.02 L1295.06 757.75 L1296.48 755.55 L1297.89 753.4 L1299.31 751.3 L1300.73 749.26 L1302.15 747.28 L1303.56 745.38 L1304.98 743.55 L1306.4 741.8 L1307.81 740.09 L1309.23 738.4 L1310.65 736.76 L1312.07 735.16 L1313.48 733.63 L1314.9 732.17 L1316.32 730.79 L1317.74 729.51 L1319.15 728.32 L1320.57 727.19 L1321.99 726.11 L1323.41 725.07 L1324.82 724.07 L1326.24 723.12 L1327.66 722.21 L1329.08 721.34 L1330.49 720.52 L1331.91 719.73 L1333.33 718.99 L1334.75 718.29 L1336.16 717.62 L1337.58 716.97 L1339 716.34 L1340.42 715.74 L1341.83 715.16 L1343.25 714.61 L1344.67 714.07 L1346.09 713.56 L1347.5 713.07 L1348.92 712.61 L1350.34 712.16 L1351.75 711.74 L1353.17 711.32 L1354.59 710.92 L1356.01 710.53 L1357.42 710.14 L1358.84 709.77 L1360.26 709.41 L1361.68 709.07 L1363.09 708.73 L1364.51 708.41 L1365.93 708.1 L1367.35 707.81 L1368.76 707.52 L1370.18 707.26 L1371.6 707 L1373.02 706.77 L1374.43 706.54 L1375.85 706.31 L1377.27 706.09 L1378.69 705.88 L1380.1 705.67 L1381.52 705.47 L1382.94 705.27 L1384.36 705.08 L1385.77 704.9 L1387.19 704.72 L1388.61 704.54 L1390.03 704.37 L1391.44 704.21 L1392.86 704.05 L1394.28 703.9 L1395.7 703.76 L1397.11 703.62 L1398.53 703.49 L1399.95 703.36 L1401.36 703.24 L1402.78 703.13 L1404.2 703.02 L1405.62 702.91 L1407.03 702.8 L1408.45 702.69 L1409.87 702.58 L1411.29 702.48 L1412.7 702.37 L1414.12 702.27 L1415.54 702.17 L1416.96 702.07 L1418.37 701.97 L1419.79 701.87 L1421.21 701.78 L1422.63 701.69 L1424.04 701.6 L1425.46 701.51 L1426.88 701.43 L1428.3 701.35 L1429.71 701.27 L1431.13 701.19 L1432.55 701.12 L1433.97 701.05 L1435.38 700.99 L1436.8 700.93 L1438.22 700.87 L1439.64 700.82 L1441.05 700.77 L1442.47 700.72 L1443.89 700.68 L1445.3 700.65 L1446.72 700.62 L1448.14 700.59 L1449.56 700.57" stroke="#a4a9ac" stroke-width="9.5" opacity="0.85"/>
<path d="M1019.32 982.06 L1020.09 980.29 L1022.37 980.84 L1024.4 982.17 L1026.05 982.06 L1026.45 980.63 L1028.78 981.62 L1030.26 981.78 L1031.56 981.79 L1033.79 981.73 L1034.48 981.13 L1035.72 981.76 L1037.89 981.12 L1038.69 982.32 L1039.41 981.24 L1040.67 981.13 L1042.2 981.72 L1042.66 980.48 L1044.76 980.33 L1046.14 980.94 L1046.79 981.48 L1048.66 982.03 L1049.96 980.98 L1050.53 981.73 L1051.94 982 L1052.23 981.15 L1053.38 981.89 L1056.2 980.88 L1056.36 980.59 L1057.59 982.27 L1060.12 980.84 L1061.31 981.82 L1061.73 981.47 L1063.57 980.57 L1064.98 980 L1066.6 981.46 L1067.76 980.43 L1070.24 981.33 L1071.52 979.96 L1073.33 981.68 L1074.65 980.53 L1076.19 981.83 L1077.73 980.72 L1080.79 980.27 L1082.22 979.86 L1083.54 980.16 L1084.41 980.62 L1086.03 980.93 L1087.52 980.38 L1089.35 980.3 L1090.39 980.35 L1092.18 980.09 L1093.45 979.98 L1094.78 979.51 L1096.87 980.19 L1097.83 979.58 L1099.1 979.85 L1100.14 980.63 L1101.64 979.63 L1103.23 980.59 L1103.61 979.5 L1104.38 979.34 L1106.23 979.26 L1107.23 979.19 L1109.08 979.65 L1109.16 980.05 L1111.65 980.48 L1111.47 979.64 L1113.62 979.03 L1114.76 980.2 L1115.89 980.48 L1118.23 979.19 L1119.33 978.79 L1119.9 980.32 L1121.94 980.41 L1123.67 980.4 L1124.27 979.33 L1125.95 978.62 L1128.43 979.86 L1130.28 978.54 L1131.49 980.14 L1133.09 979.68 L1134.9 978.81 L1136.16 978.23 L1138.84 978.72 L1140.63 978.17 L1141.47 978.8 L1142.31 978.64 L1144.51 978.2 L1146.74 979.25 L1147.46 978.67 L1148.57 978.19 L1150.14 977.36 L1152.42 978.26 L1153.63 978 L1154.4 976.13 L1156.25 976.71 L1157.74 977.05 L1159.32 975.99 L1160.3 975.9 L1160.83 975.42 L1162.63 975.74 L1163.99 975.33 L1165.06 976.21 L1166.03 975.15 L1166.94 974.91 L1168 974.88 L1169.78 974.27 L1170.64 972.69 L1172.07 973.75 L1172.54 973.52 L1173.65 972.5 L1175.32 972.31 L1177.25 972.05 L1178.68 969.4 L1179.54 969.56 L1181.04 970.03 L1183.87 968.14 L1183.99 968.13 L1187.02 966.49 L1188.4 964.42 L1189.72 963.23 L1192.09 963.34 L1193.23 961.2 L1193.78 960.52 L1197 960.05 L1197.78 957.77 L1200.25 955.14 L1201.69 953.39 L1202.16 951.59 L1203.55 948.99 L1205.04 948.29 L1207.79 945.45 L1209.26 943.02 L1209.74 940.51 L1210.92 938.25 L1212.68 935.75 L1214.7 934.34 L1215.87 931.53 L1217.32 928.1 L1218.7 926.17 L1219.54 922.5 L1220.85 918.96 L1220.66 915.81 L1221.81 912.2 L1224.4 907.25 L1225.17 903.94 L1225.87 900.31 L1226.75 894.39 L1228.31 889.85 L1229.58 887.19 L1231.13 881.78 L1232.38 878.8 L1233.33 874.28 L1234.53 870.4 L1236.17 865.42 L1237.52 861.82 L1238.98 857.53 L1241.05 854.28 L1242.15 850.57 L1244.87 846.93 L1246.08 844.25 L1247.58 841.67 L1249.54 838.28 L1250.54 833.02 L1251.86 829.35 L1253.61 826.04 L1255.7 821.79 L1257.38 818.76 L1258.82 816.45 L1260.51 813.78 L1262.95 810.1 L1263.11 805.82 L1265.34 802.64 L1266.69 801.31 L1267.95 797.96 L1270.07 793.64 L1270.58 789.35 L1271.59 786.32 L1273.06 783.42 L1275.67 782.24 L1275.84 779.08 L1276.66 775 L1279.26 773.03 L1279.89 770.65 L1281.57 766.58 L1281.7 766.15 L1283.66 762.58 L1283.57 759.24 L1285.1 757.29 L1287.25 754.6 L1288.03 753.8 L1289.77 750.99 L1290.41 747.94 L1292.58 747.82 L1292.64 745.17 L1294.97 742 L1295.71 742.05 L1297.23 738.91 L1299.9 737.25 L1300.72 736.68 L1302.95 733.38 L1303.7 732.26 L1306.08 732.2 L1308.04 728.79 L1309.24 727.66 L1310.25 727.29 L1312.64 727.12 L1314.77 724.28 L1316.17 723.65 L1317.2 722.25 L1318.73 722.76 L1319.8 720.9 L1322.46 719.24 L1322.95 718.55 L1324.53 718.99 L1325.65 717.85 L1327.26 716.83 L1328.98 716.12 L1330.46 714.24 L1331.24 713.72 L1332.91 715.21 L1334.69 713.21 L1334.8 713.72 L1336.05 711.51 L1337.87 711.74 L1339.67 710.39 L1340.85 709.88 L1341.44 709.35 L1341.83 710.64 L1344.32 710.46 L1345.74 708.43 L1346.83 708.73 L1347.49 707.63 L1348.54 708.01 L1350.22 707.7 L1351.94 706.61 L1353.69 707.1 L1354.32 706.47 L1355.83 706.37 L1357.03 705.44 L1358.97 706.51 L1360.57 705.34 L1361.75 704.81 L1363.68 704.32 L1366.1 703.59 L1366.63 704.56 L1368.33 703 L1370.09 703.37 L1372.67 703.88 L1373.4 703.26 L1375.9 703.51 L1377.68 702.66 L1379.17 703.89 L1380.6 701.72 L1381.11 702.77 L1383.01 703.38 L1385.08 703.04 L1385.52 702.31 L1387.48 702.32 L1389.26 700.87 L1390.66 701.77 L1390.95 700.4 L1391.8 701.72 L1392.86 701.44 L1394.53 699.95 L1396.09 700.04 L1396.81 699.76 L1398.88 701.51 L1399.76 701.51 L1400.89 699.98 L1402.42 700.68 L1402.8 701.1 L1404.57 701.03 L1405.34 700.4 L1406.53 700.33 L1407.57 699.43 L1410.06 698.59 L1411.65 700.36 L1411.65 698.84 L1414.27 699.21 L1414.7 698.5 L1416.84 698.13 L1418.26 698.22 L1420.84 699.91 L1421.69 698.46 L1423.47 698.3 L1424.88 699.12 L1426.38 699.85 L1428.03 698.13 L1429.39 698.37 L1430.97 698.01 L1433.5 697.97 L1435.43 697.97 L1436.9 699.49 L1437.78 697.41 L1440.52 697.34 L1440.5 698.68 L1442.54 697.67 L1443.79 697.3" stroke="#c3c8ca" stroke-width="3.1" opacity="0.9"/>
<path d="M1018.92 982.95 L1020.59 982.62 L1021.37 981.86 L1023.27 981.62 L1025.14 980.9 L1025.64 981.17 L1028.02 982.67 L1028.24 982.45 L1030.52 982.59 L1032.47 982.88 L1033.32 982.97 L1034.69 981.8 L1036.27 980.86 L1038.01 980.81 L1039.66 982.97 L1041.3 982.46 L1042.63 982.22 L1044.83 981.06 L1045.82 982.77 L1047.49 982 L1049.42 981 L1051.74 981.2 L1052.25 982.56 L1053.65 981.78 L1056.18 981.39 L1057.38 982.64 L1058.11 980.95 L1061.01 981.36 L1061.18 982.04 L1063.33 982.1 L1064.09 982.64 L1066.46 980.77 L1067.06 982.37 L1068.84 981.45 L1070.44 981.17 L1071.6 981.37 L1072.23 980.9 L1073.49 982.06 L1075.21 981.15 L1076.37 982.16 L1077.92 981 L1078.07 980.87 L1079.29 981.5 L1080.41 980.87 L1082.97 980.96 L1083.15 982.43 L1085.34 981.96 L1086.09 981.93 L1088.17 980.81 L1088.91 980.46 L1090.54 981.78 L1090.6 980.18 L1093.24 981.79 L1093.72 981.23 L1094.52 980.24 L1097.25 981.49 L1097.62 980.15 L1099.74 981.96 L1100.13 981.36 L1102.3 980.08 L1103.84 980.46 L1105.32 981.63 L1107.48 980.75 L1108.13 980.63 L1110.73 981.72 L1111.06 979.63 L1114 981.65 L1114.46 979.56 L1116.72 980.04 L1118.75 980.09 L1119.94 980.69 L1121.84 980.92 L1122.18 980.3 L1125.24 979.2 L1125.29 981.07 L1127.93 980.14 L1129.74 979.78 L1131.2 978.87 L1132.67 979.39 L1133.98 978.75 L1136.11 979.22 L1136.31 979.73 L1138.91 978.5 L1140.16 980.43 L1140.55 978.71 L1142.38 980.27 L1143.7 979.98 L1144.57 979.95 L1147.06 978.93 L1148.36 978.01 L1149.47 977.88 L1149.55 978.14 L1151.96 978.58 L1153.53 978.61 L1154.42 978.09 L1156 978.2 L1157.28 977.59 L1158.07 977.08 L1159.36 978.12 L1159.86 975.98 L1161.88 977.55 L1162.36 975.59 L1163.53 977.26 L1164.91 976.99 L1166.16 974.51 L1167.01 975.62 L1168.52 975.14 L1170.07 973.91 L1171.34 975.08 L1172.4 973.44 L1174.99 972.37 L1176.57 972.73 L1177.21 973.21 L1179.31 972.32 L1181.07 970.05 L1181.19 970.92 L1183.63 969.06 L1185.21 968.46 L1186.08 967.33 L1188.87 966.69 L1190.31 965.91 L1191.46 964.19 L1193.07 963.18 L1195.17 963.02 L1195.49 962.04 L1198.46 959.46 L1199.48 957.94 L1200.72 956.04 L1202.23 955.06 L1204.28 951.56 L1205.11 950.44 L1207.86 948.77 L1208.7 947.23 L1211.02 945.02 L1212.61 942.55 L1213.81 939.24 L1214.12 937.36 L1215.77 933.84 L1217.81 932.23 L1219.71 928.17 L1220.54 924.8 L1221.44 922.25 L1223.5 918.57 L1224.22 916.19 L1225.71 912.15 L1226.76 908.42 L1228.83 904.3 L1229.51 898.8 L1229.91 896.01 L1232.02 890.37 L1232.85 886.61 L1233.68 883.29 L1235.45 878.57 L1236.3 874.37 L1238.67 870.3 L1238.71 865.3 L1240.5 862.22 L1240.88 858.83 L1242.67 855.02 L1244.55 852.07 L1245.62 849.18 L1247.24 845.26 L1248.46 840.91 L1249.92 837.41 L1250.74 835.45 L1253.28 830.33 L1254.29 826.34 L1254.73 823.09 L1257.57 818.99 L1257.99 817.23 L1259.94 814.39 L1261.88 810.72 L1263.86 808.41 L1264.24 803.28 L1266.04 800.89 L1268.01 797.04 L1269.89 794.08 L1271.14 790.78 L1273.16 788.03 L1275.24 784.11 L1275.31 780.99 L1277.46 777.86 L1279.7 776.04 L1281.3 773.54 L1283.1 770.65 L1283.62 767.15 L1285 766.01 L1287.2 764.21 L1288.95 760.67 L1290.37 757.5 L1291.37 756.86 L1292.12 754.2 L1294.46 751.41 L1295.1 749.3 L1296.07 747.94 L1297.36 745 L1299.24 742.94 L1300.58 741.39 L1302.15 739.26 L1303.24 739.21 L1304.6 736.9 L1306.05 735.26 L1306.53 733.94 L1308.78 732.1 L1309.79 729.49 L1311.25 728.54 L1312.06 728.51 L1313.25 726.18 L1314.99 725.15 L1315.94 724.97 L1316.55 723.72 L1318.82 723.21 L1318.99 721.53 L1320.44 719.97 L1322.69 719.98 L1323.42 719.24 L1324.29 718.61 L1326.93 716.22 L1327.85 717.16 L1328.33 716.05 L1330.33 715.88 L1331.81 714.66 L1333.21 713.4 L1335.47 712.62 L1336.2 712.72 L1337.51 711.4 L1340.38 712.34 L1341.49 710.94 L1342.92 711.2 L1345.21 711 L1346.48 710.27 L1348.37 710.29 L1349.12 708.93 L1350.68 709.59 L1352.33 707.97 L1354.15 707.54 L1355.92 708.8 L1356.86 707.64 L1359.03 706.69 L1361.19 706.38 L1362.39 706.13 L1362.66 707.21 L1364.92 705.26 L1366.64 706.38 L1367.12 706.4 L1370.09 704.49 L1371.14 704.99 L1372.13 705.3 L1373.41 705.21 L1374.94 704.45 L1375.84 703.61 L1377.43 704.83 L1378.59 703.53 L1379.58 703.49 L1381.04 702.35 L1381.59 703.18 L1383.74 703.6 L1384.34 702.46 L1385.61 703.44 L1386.65 703.27 L1388.87 701.3 L1389.61 701.91 L1391.06 702.25 L1392.2 702.44 L1393.59 702.47 L1394.49 701.73 L1395.62 701.6 L1397.78 700.31 L1399.04 701.27 L1399.45 701.35 L1400.81 700.99 L1402.56 701.34 L1404.72 700.77 L1405.36 700.92 L1406.69 701.24 L1408.52 700.76 L1410.14 699.74 L1411.88 701.21 L1412.92 699.93 L1414.62 699.11 L1417.16 699.79 L1418.38 700 L1419.08 698.98 L1421.16 699.22 L1422.18 700.01 L1425.17 700.7 L1425.58 698.55 L1428.3 699.54 L1428.72 699.76 L1430.33 700.41 L1432.1 699.86 L1433.64 698.64 L1435.23 698.88 L1436.85 699.85 L1438.39 698.44 L1439.39 698.33 L1441.73 699.87 L1443.29 698.65 L1443.94 699.26 L1445.2 699.14" stroke="#b0b5b8" stroke-width="3.1" opacity="0.9"/>
<path d="M1021.47 983.23 L1024.57 981.41 L1024.86 982.29 L1027.89 983.01 L1027.91 981.95 L1030.15 982.25 L1031.5 981.96 L1034.25 981.6 L1034.7 983.06 L1037.28 982.96 L1037.7 982.1 L1038.7 981.41 L1040.54 982.39 L1041.38 982.21 L1043.42 982.47 L1044.19 983.54 L1045.56 981.56 L1046.68 982.37 L1048.21 983.12 L1050.54 983.37 L1050.98 982.55 L1052.33 981.69 L1053.84 981.64 L1054.36 981.68 L1055.93 981.33 L1056.05 981.99 L1058.12 982.85 L1059.86 983.01 L1060.31 982.15 L1061.19 982.34 L1063.81 982.92 L1064.93 981.23 L1065.51 983.22 L1066.57 982.91 L1068.43 982.88 L1070.06 982.14 L1071.18 981.65 L1073.69 982.76 L1074.75 982.75 L1076.74 981.57 L1077.86 981.12 L1080.17 982.05 L1081.3 981.07 L1082.72 981.74 L1084.34 981.97 L1086.61 982.42 L1087.87 982.47 L1089.39 982.13 L1090.38 980.86 L1093.18 981.4 L1094.43 981.17 L1096.52 980.83 L1097.1 980.89 L1098.28 982.05 L1099.51 982.32 L1101.43 982.65 L1103.13 981.15 L1104.09 982.27 L1106.24 980.82 L1106.68 980.66 L1109.18 982.15 L1109.18 980.58 L1110.47 981.71 L1111.59 981.22 L1113.91 980.43 L1115.26 982.23 L1116.13 981.76 L1116.56 981.65 L1118.74 980.29 L1119.7 980.1 L1120.16 981.07 L1122.46 981.78 L1123.46 980.11 L1123.9 981.25 L1125.62 980.48 L1126.06 979.61 L1127.56 979.98 L1128.89 980.2 L1131.52 980.17 L1132.34 980.3 L1134.06 980.16 L1136.09 980.28 L1136.57 979.57 L1137.89 979 L1139.68 980.91 L1142.4 980.34 L1143 979.26 L1144.17 978.72 L1145.86 979.22 L1148.03 979.43 L1150.52 979.72 L1151.07 978.68 L1153.62 979.87 L1154.56 979.28 L1157.19 977.83 L1158.16 978.31 L1159.11 977.96 L1160.79 978.72 L1162.63 978.74 L1163.89 976.78 L1165.41 978.13 L1167.66 976.98 L1167.51 976.52 L1169.39 976.63 L1171.34 976.49 L1172.89 975.63 L1174.1 975.29 L1174.52 976 L1175.7 975.06 L1177.79 973.8 L1178.45 973.55 L1180.28 973.77 L1180.07 972.64 L1182.34 972.26 L1183.46 972.42 L1185.11 971.59 L1185.09 969.44 L1186.92 968.99 L1188.6 968.98 L1189.23 967.81 L1190 967.2 L1192.28 966.46 L1192.8 964.76 L1194.22 963.3 L1197.04 961.86 L1197.65 961.15 L1199.98 958.02 L1201.49 957.1 L1201.74 956.26 L1203.47 952.89 L1205.96 952.11 L1206.61 948.75 L1208.13 947.17 L1209.76 944.81 L1212.71 942.92 L1214.4 939.41 L1216 938.19 L1216.83 935.98 L1218.2 932.27 L1220.29 929.06 L1221.04 927.05 L1222.89 923.14 L1225.58 919.3 L1227.2 917.15 L1227.64 911.84 L1228.82 909.1 L1230.86 904.64 L1232.72 900.92 L1233.49 895.56 L1234.73 891.74 L1236.23 887.9 L1237.56 883.69 L1238.1 878.37 L1239.37 875.2 L1240.81 871.38 L1241.98 867.94 L1244.04 862.25 L1243.89 858.56 L1244.8 855.09 L1246.88 851.17 L1248.79 849.07 L1249.97 844.66 L1249.89 841.9 L1252.58 839.19 L1253.73 835.29 L1253.99 831.61 L1255.32 827.91 L1256.64 824.47 L1258.54 820.95 L1260.12 816.37 L1261.04 815.21 L1263.04 811.16 L1264.63 807.31 L1265.59 803.99 L1268.01 802.38 L1268.75 797.25 L1270.94 795.07 L1272.14 791.09 L1273.71 788.11 L1276.08 784.58 L1278.12 781.45 L1279.28 778.97 L1280.26 777.54 L1281.95 774.5 L1284.69 771.85 L1285.75 769.68 L1286.82 766.76 L1288.52 764.34 L1289.6 760.16 L1291.77 758.62 L1292.24 755.76 L1294.92 753.38 L1295.3 751.45 L1296.88 749.64 L1299.19 748.45 L1298.95 746.56 L1300.67 744.44 L1302.36 741.63 L1303.58 741.12 L1305.1 738.93 L1306.27 736.61 L1306.85 736.56 L1308.57 733.68 L1308.87 733.57 L1310.98 731.59 L1312.27 729.27 L1312.15 727.97 L1314.66 726.12 L1315.25 725.71 L1316.17 724.11 L1317.55 723.27 L1319.13 723.56 L1321.44 720.91 L1322.96 722.13 L1324.05 719.66 L1325.09 719.59 L1326.49 719.2 L1327.94 718.26 L1329.3 716.63 L1331.54 715.56 L1333.48 715.9 L1335.38 714.36 L1336.94 714.99 L1338.8 713.21 L1339.94 712.48 L1341.87 712.5 L1343.31 712.73 L1344.98 712.44 L1346.79 712.3 L1347.25 710.32 L1348.7 709.87 L1350.54 710.82 L1352.35 710.59 L1353.9 708.46 L1354.71 708.27 L1357.1 708.62 L1358.42 709.37 L1359.3 707.25 L1361.52 708.16 L1361.77 707.25 L1363.14 707.68 L1365.45 705.87 L1365.45 706.14 L1366.57 707.22 L1367.52 705.48 L1369.23 706.24 L1370.78 704.79 L1371.59 705.73 L1373.12 704.87 L1374.46 704.41 L1375.53 704.86 L1377.51 705.2 L1378.36 704.42 L1378.53 704.94 L1381.24 703.03 L1382.27 704.02 L1383.74 704.52 L1385.31 703.3 L1386.74 703.22 L1387.21 702.54 L1388.99 702.87 L1390.95 703.62 L1392.3 703.61 L1394.3 701.28 L1395.36 702.03 L1397.42 702.36 L1398.52 702.62 L1400.11 701.4 L1402.26 701.06 L1403.59 701.42 L1405.1 702.22 L1406.85 701.89 L1408.38 700.54 L1409.89 701.47 L1411.55 700.77 L1413.41 702.13 L1414.23 700.74 L1416.11 699.98 L1418.04 699.92 L1418.99 699.87 L1421.09 700.83 L1421.62 700.83 L1423.24 700.4 L1424.54 700.49 L1425.61 699.93 L1427.14 700.36 L1429.03 699.1 L1430.29 698.91 L1430.14 700.05 L1432.47 699.44 L1433.37 698.89 L1434.33 698.69 L1435.03 699.79 L1436.34 700.04 L1437.83 700.7 L1438.56 700.58 L1441.03 699.52 L1442.33 700.32 L1443.78 699.54 L1443.61 698.63" stroke="#a0a5a8" stroke-width="3.1" opacity="0.9"/>
<path d="M1025.59 981.96 L1026.36 983.53 L1028.51 982 L1030.3 982.76 L1030.73 984.02 L1032.12 981.91 L1034.43 983.37 L1035.4 983.48 L1036.38 983.22 L1037.84 982.49 L1039.76 983.05 L1040.56 983.2 L1042.37 982.11 L1042.98 983.27 L1044.18 983.45 L1045.48 982.56 L1047.51 982.23 L1047.66 983.57 L1048.81 982.14 L1049.88 983.91 L1052.05 982.23 L1053.58 982.69 L1053.78 982.8 L1056.21 982.58 L1056.95 982.85 L1057.87 983.57 L1059.14 983.26 L1061.12 983.83 L1062.06 983.16 L1063.66 982.01 L1064.17 983.42 L1066.25 981.73 L1068.13 982.49 L1068.8 982.87 L1070.33 982.38 L1071.84 982.66 L1073.27 981.67 L1075.15 983.31 L1076.63 981.68 L1077.87 982.42 L1080.21 982.31 L1081.8 981.79 L1083.8 983.68 L1084.87 981.58 L1087.61 983.43 L1087.92 982.82 L1090.07 983.17 L1091 983.09 L1093.17 983.19 L1094.53 981.48 L1096.19 981.79 L1097.29 982.47 L1099 981.27 L1100.89 982.46 L1101.66 981.81 L1102.97 983.24 L1104.03 982.58 L1105.81 982.11 L1106.77 982.73 L1108.78 981.33 L1109.69 982.19 L1110.47 980.95 L1112.37 982.65 L1114.12 981.77 L1114.52 981.28 L1115.63 981.91 L1117.07 982.03 L1118.21 982.25 L1120.14 982.25 L1120.59 982.32 L1121.08 981.2 L1123.3 980.86 L1124.55 982.47 L1125.59 980.42 L1127.33 981.57 L1128.99 982.23 L1129.84 981.68 L1130.98 982.08 L1132.1 980.21 L1134.2 980.58 L1136.13 981.61 L1136.7 981.6 L1139.79 981.39 L1140.83 980.39 L1141.94 980.28 L1143.95 979.33 L1145.93 979.38 L1147.29 981.03 L1148.65 979.86 L1151.09 979.68 L1152.54 979.91 L1154.58 980.55 L1155.18 979.78 L1157.07 979.98 L1157.82 978.13 L1159.73 978.13 L1162.02 978.97 L1163.67 979.01 L1165.01 977.38 L1165.3 977.83 L1166.86 976.92 L1168.81 977.59 L1170.52 977.68 L1170.7 977.16 L1171.83 977.79 L1173.3 976.84 L1174.58 976.94 L1175.57 975.9 L1176.59 974.74 L1178.03 974.57 L1180.28 974.22 L1181.3 974.04 L1182.54 972.26 L1183.35 972.55 L1184.52 971.47 L1185.56 971.23 L1186.67 969.65 L1187.73 970.16 L1188.77 968.83 L1190.96 968.35 L1192.1 966.6 L1193.47 965.89 L1195.84 965.42 L1195.8 963.22 L1197.45 961.74 L1200.07 961.14 L1201.09 960.17 L1202.92 958.14 L1204.55 954.98 L1206.42 954.89 L1208.18 952.41 L1209.73 948.97 L1211.14 948.49 L1212.64 945.66 L1213.62 943.92 L1216.09 939.89 L1217.49 938.81 L1219.45 936.16 L1219.97 931.96 L1222.88 929.07 L1224.39 926.4 L1224.61 924.25 L1227.42 920.01 L1228.85 917.77 L1228.85 913.04 L1230.67 908.66 L1232.4 904.42 L1234.27 901.81 L1235.55 897.63 L1235.7 892.68 L1238.07 888.1 L1239.25 884.97 L1239.27 880.07 L1241.87 875.52 L1242.1 870.36 L1242.93 867.74 L1245.13 864.52 L1246.28 860.28 L1247.96 857.16 L1247.85 851.74 L1249.09 850.43 L1250.45 846 L1252.82 842.61 L1253.93 839.24 L1255.51 836.37 L1256.63 831.24 L1258.25 827.99 L1259.41 824.89 L1260.36 821.01 L1262.22 817.5 L1263.28 814.78 L1265.36 810.7 L1265.64 809.45 L1267.57 805.5 L1269.07 802.22 L1271.64 797.48 L1272.04 795.62 L1274.55 790.94 L1276.85 789.47 L1278.1 785.64 L1279.8 783.69 L1280.52 780.3 L1282.62 776.4 L1283.51 773.63 L1285.81 771.64 L1286.66 769.35 L1288.67 767.04 L1290.47 763.28 L1292.33 761.4 L1293.01 759.06 L1295.23 757.43 L1296.23 755.14 L1297.82 752.32 L1299.23 751.68 L1300.99 749.1 L1301.96 746.16 L1303.45 745.62 L1304.41 743.08 L1305.59 741.03 L1306.86 739.73 L1307.01 736.75 L1308.53 736.67 L1309.88 735.14 L1311.86 732.17 L1312.93 730.85 L1314 730.32 L1314.64 728.8 L1316.48 727.57 L1317.59 725.83 L1318.7 725.69 L1319.47 724.29 L1321.9 722.39 L1321.94 722.46 L1324.08 721.19 L1325.81 720.46 L1327.32 720.98 L1328.37 720.21 L1329.7 718.57 L1331.37 718.16 L1333.69 717.89 L1335.58 716.99 L1337.18 715.31 L1337.98 715.25 L1339.79 713.93 L1340.82 713.68 L1342.6 712.77 L1344 712.37 L1346.5 711.75 L1347.66 711.54 L1348.97 712.24 L1350.96 710.71 L1352.59 711.4 L1353.49 709.83 L1356.47 709.74 L1356.53 709.65 L1358.73 709.09 L1360.82 709.52 L1360.7 707.42 L1362.24 707.53 L1364.54 707.78 L1365.91 706.52 L1366.86 707.8 L1368.33 708 L1369.33 706.61 L1370.77 707.39 L1371.05 706.73 L1373.19 705.77 L1374.55 705.09 L1374.63 706.37 L1376.59 704.23 L1376.78 706.07 L1378.5 705.61 L1380.72 703.74 L1381.38 704.65 L1382 705.34 L1384.29 703.67 L1385.39 704 L1386.93 704.2 L1388.33 702.6 L1388.77 702.96 L1390.32 703.35 L1392.22 702.5 L1392.98 703.6 L1394.98 703.67 L1397.23 702.65 L1398.2 702.65 L1399.84 703.63 L1401.47 702.76 L1403.95 701.75 L1404.57 702.16 L1407.29 702.9 L1408.79 702.61 L1409.43 701.18 L1411.59 702.39 L1413.14 702.19 L1414.98 702.41 L1416.62 701.94 L1418.22 701.02 L1418.64 701.28 L1421.24 701.18 L1421.93 700.33 L1423.85 701.72 L1424.48 700.72 L1427.29 701.13 L1427.12 699.99 L1428.53 700.61 L1429.8 701.21 L1431.02 699.78 L1432.17 700.27 L1434.94 699.51 L1435.35 700.69 L1436.61 701.12 L1438.53 700.57 L1438.15 699.14 L1440.48 699.05 L1441.14 700.37 L1442.92 699.23 L1443.86 699.63 L1445.64 699.03 L1446.77 700.41" stroke="#95999c" stroke-width="3.1" opacity="0.9"/>
<path d="M1027.48 983.35 L1028.62 984.11 L1029.9 983.8 L1031.45 984.38 L1032.48 984 L1034.04 984.33 L1035.39 984.61 L1037.67 983.59 L1037.85 983.11 L1040.48 984.53 L1041.1 983.27 L1042.95 983.88 L1043.44 983.97 L1045.54 983.11 L1045.83 983.55 L1046.45 982.57 L1048.44 983.11 L1050.09 983.8 L1051.5 983.14 L1052.52 984.64 L1052.85 984.61 L1054.74 982.93 L1055.42 984.22 L1057.46 984.21 L1059.01 984.6 L1060.3 982.75 L1061.33 982.45 L1062.64 984.16 L1063.09 982.91 L1065.07 982.74 L1066.96 983.98 L1068.43 983.71 L1069.63 983.97 L1071.39 982.64 L1071.98 982.88 L1074.67 983.74 L1074.75 982.77 L1076.3 983.08 L1079.28 983 L1079.67 982.69 L1081.78 982.73 L1084.12 984.18 L1085.86 982.05 L1086.98 982.01 L1088.05 982.32 L1089.76 983.96 L1090.8 982.21 L1093.71 983.61 L1094.89 983.33 L1095.58 982.7 L1097.06 983.4 L1098.92 982.91 L1101.3 982.34 L1102.22 982.93 L1103.11 982.25 L1105.38 982.2 L1106.08 981.6 L1108.05 983.03 L1108.5 981.91 L1111.26 982.95 L1111.66 981.75 L1112.83 983.02 L1114.06 982 L1115.71 983.21 L1117.11 981.68 L1117.92 982.81 L1118.82 982.02 L1121.25 983.36 L1122.51 982.45 L1123.16 982.15 L1123.62 981.49 L1125.18 981.11 L1125.95 981.03 L1128.02 982.34 L1129.95 981.34 L1130.17 982.06 L1131.72 981.2 L1133.9 981.89 L1133.98 982.47 L1136.54 982.46 L1137.99 981.97 L1138.49 980.81 L1140.82 981.13 L1141 980.31 L1142.61 980.65 L1144.91 980.45 L1145.58 980.28 L1147.23 981.5 L1149.62 979.49 L1151.41 980.79 L1153.18 981.34 L1154.38 980.76 L1155.33 980.37 L1157.29 980.05 L1158.39 980.1 L1160.61 978.84 L1163.15 979.81 L1163.84 979.66 L1165.58 979.21 L1167.54 977.79 L1169.16 977.4 L1170.28 979.08 L1171.93 976.93 L1172.41 977.74 L1174.36 977.51 L1176.68 976.1 L1178.05 975.77 L1178.14 975.56 L1180.65 976.43 L1182.02 975.59 L1182.78 974.92 L1183.78 973.84 L1186.16 974.92 L1187.19 973.98 L1187.04 972.39 L1189.03 971.77 L1189.88 971.06 L1191.52 971.42 L1193.17 970.15 L1193.32 969.39 L1194.62 967.28 L1196.92 965.83 L1197.12 965.18 L1198.89 964.7 L1200.11 962.26 L1200.87 961.42 L1202.85 960.32 L1203.56 958.36 L1204.59 956.46 L1206.78 954.12 L1207.75 952.15 L1210.02 951.42 L1211.78 948.62 L1213.32 945.38 L1213.93 943.94 L1216.05 941.63 L1216.46 939.59 L1219.01 936.12 L1219.77 933.21 L1222.29 929.94 L1223.25 928.46 L1225.09 924.4 L1227.03 921.4 L1228.49 918.41 L1230.24 913.34 L1232.42 908.79 L1232.48 906.89 L1234.29 902.51 L1236.15 898.44 L1238.03 892.74 L1240.02 888.43 L1240.6 883.72 L1241.89 880.78 L1244.05 875.56 L1245.22 872.62 L1246.49 867.48 L1248.25 863.1 L1248.98 861.6 L1251.47 856.71 L1252.36 852.68 L1253.42 849.75 L1255.26 846.25 L1255.99 842.64 L1256.95 838.7 L1258.47 836.5 L1259.4 831.32 L1260.88 829.76 L1262.95 825.06 L1263.31 821.52 L1264.69 817.56 L1265.57 814.41 L1266.51 812.87 L1268.34 808.8 L1269.38 805.39 L1270.77 802.28 L1272.07 800.16 L1274.24 794.77 L1275.45 792.84 L1276.22 788.82 L1277.22 785.72 L1278.81 784.29 L1280.39 781.79 L1281.17 777.33 L1283.56 774.64 L1285.58 772.87 L1285.91 769.16 L1287.66 768.43 L1289.36 764.74 L1290.86 761.49 L1292.24 759.17 L1294.27 756.67 L1296.04 754.51 L1298.21 753.7 L1299.1 751.12 L1300.56 749.59 L1302.19 748.17 L1304.63 745.06 L1304.87 742.8 L1306.67 741.58 L1308.24 741.02 L1310.11 737.82 L1312.23 735.96 L1313.64 735.92 L1314.14 733.67 L1316.59 732.93 L1317.21 731.82 L1318.89 730.49 L1320.34 727.6 L1322.03 728.24 L1322.79 724.98 L1325.02 725.39 L1326.07 723.99 L1327.18 723.83 L1328.11 722.17 L1330.09 720.27 L1331.29 721.11 L1332.11 719.08 L1333.01 719.33 L1334.05 718.57 L1335.4 717.49 L1336.9 716.56 L1338.62 717.18 L1339.77 716.87 L1341.42 715.82 L1342.7 713.71 L1342.94 713.85 L1345.07 714.2 L1345.64 712.96 L1346.91 713.26 L1348.41 711.6 L1349.61 712.69 L1351 711.77 L1352.61 711.05 L1354.91 709.49 L1355 710.62 L1357.69 710.27 L1359.12 709.97 L1361.04 709.47 L1362 707.74 L1363.65 708.9 L1365.53 708.33 L1366.91 706.71 L1368.33 706.48 L1370.6 708.37 L1371.4 707.19 L1373.77 706.59 L1374.84 705.87 L1375.85 707.16 L1378.28 706.43 L1379.13 704.93 L1381.5 704.6 L1383.53 706.53 L1384.89 704.26 L1386.38 705.66 L1388.05 705.13 L1387.91 705.65 L1390.83 704.79 L1392.06 705.08 L1392.2 704.85 L1393.44 704.5 L1396.02 704.85 L1396.77 704.28 L1397.58 704.37 L1399.32 703.96 L1401.06 702.47 L1402.51 704.22 L1402.8 703.67 L1404.76 703.98 L1405.67 702.73 L1406.39 703.36 L1408.53 702.72 L1409.55 702.3 L1410.57 702.08 L1411.26 701.5 L1413.31 702.21 L1413.49 701.04 L1414.61 703.15 L1416.43 702.86 L1418.21 702.13 L1419.74 702.71 L1421.62 702.36 L1422.53 701.3 L1423.53 700.78 L1424.46 701.65 L1426.33 702.02 L1427.92 700.19 L1430.42 700.85 L1431.23 701.43 L1433.57 701.24 L1434.83 701.51 L1435.29 701.31 L1437.07 700.76 L1439.09 699.94 L1440.98 699.91 L1442.98 701.67 L1444.95 701.68 L1445.3 699.62 L1448.07 700.75 L1449.77 699.56 L1451.16 701.18" stroke="#8f9396" stroke-width="3.1" opacity="0.9"/>
<path d="M1025.6 983.61 L1026.89 985.18 L1028.08 983.42 L1029.24 983.57 L1032.14 984.55 L1032.51 984.47 L1034.99 983.67 L1036.16 983.28 L1037.7 985.22 L1037.9 983.69 L1040.06 985.04 L1040.87 984.1 L1042.77 984.65 L1044.78 985.05 L1046.78 984.24 L1048.45 984.36 L1049.07 984.2 L1051.31 983.02 L1052.8 983.83 L1054.34 984.66 L1056.72 984.1 L1058.35 983.89 L1059.27 983 L1060.41 984.46 L1062.91 983.79 L1064.43 984.05 L1065.21 983.37 L1067.2 984.64 L1068.7 985.05 L1069.61 984.21 L1072.34 983.36 L1073.31 983.75 L1074.12 984.76 L1075.63 983.79 L1076.49 983.07 L1078.42 984.3 L1080.02 984.74 L1080.72 984.72 L1082.77 984.19 L1082.74 983.75 L1084.05 984.23 L1086.35 983.5 L1086.9 984.13 L1087.34 983 L1088.83 982.72 L1089.98 982.66 L1090.95 983.74 L1093.13 984.04 L1094.08 983.95 L1096 983.17 L1096.9 983.98 L1098.24 984.08 L1098.93 984.25 L1100.13 982.91 L1101.86 983.57 L1104.38 983.41 L1104.99 983.98 L1107.35 984.08 L1108.26 982.06 L1109.54 982.99 L1111.41 982.18 L1112.19 983.41 L1113.63 982 L1116.3 983.34 L1118.25 983.81 L1118.59 982.64 L1120.59 982.09 L1122.98 981.73 L1123.54 981.76 L1125.89 983.74 L1128.13 982.4 L1129.28 982.18 L1130.06 982.46 L1131.62 982.95 L1133.05 982.91 L1134.47 982.87 L1136.73 983.21 L1138.86 981.67 L1139.5 981.71 L1141.22 982.51 L1141.51 981.92 L1143.79 982.28 L1144.43 982.84 L1146.62 980.88 L1146.98 982.33 L1149.32 982.27 L1150.18 980.59 L1151.1 980.52 L1152.35 981.59 L1153.51 980.16 L1155.67 981.15 L1156.62 981.13 L1157.41 981.56 L1159.19 981.15 L1158.9 980.06 L1161.46 979.54 L1162.87 980.8 L1163 979.44 L1165.47 979.02 L1165.65 978.83 L1167.97 978.28 L1168.26 977.76 L1170.12 978.79 L1172.18 977.31 L1172.94 978.02 L1173.95 977.03 L1175.79 977.53 L1177.75 976.43 L1178.88 976.8 L1180.48 974.9 L1183.11 976.04 L1184.39 974.82 L1186.38 973.51 L1186.8 973.93 L1189.53 973.75 L1191.01 972.61 L1192.63 971.64 L1194.42 971.83 L1195.46 970.97 L1196.73 969.61 L1199.4 967.93 L1199.45 967.87 L1202.32 966.89 L1202.55 963.99 L1205.13 963.49 L1206.22 962.01 L1207.54 960.31 L1209.26 958.25 L1210.99 956.86 L1211.87 953.96 L1213.19 951.91 L1213.89 950.79 L1215.78 948.3 L1216.58 946.39 L1218.13 943.29 L1218.57 943.04 L1221.1 939 L1221.37 936.47 L1222.27 934.04 L1224.41 930.79 L1225.27 929.1 L1227.09 924.86 L1227.57 921.78 L1228.94 918.32 L1229.58 913.85 L1230.72 910.13 L1232.61 905.66 L1233.89 902.08 L1236.25 897.01 L1236.68 892.58 L1238.46 889.44 L1240.34 884.54 L1240.99 881.07 L1242.34 876.77 L1243.42 871.8 L1245.19 868.65 L1247.42 863.8 L1249.26 861.29 L1250.79 857.87 L1252.75 854.13 L1253.12 850.82 L1255.62 848.2 L1256.35 843.71 L1259.15 839.74 L1259.69 835.97 L1261.77 831.81 L1263.51 829.22 L1265.55 824.84 L1266.67 821.37 L1268.43 818.73 L1269.77 816.06 L1270.58 812.19 L1273.29 810.38 L1274.55 805.89 L1275.5 803.18 L1277.22 800.69 L1277.83 797.22 L1279.58 792.92 L1280.63 790.26 L1282.54 787.83 L1283.11 783.92 L1285.36 780.34 L1286.11 779.09 L1287.72 776.52 L1288.48 773.77 L1289.95 771.25 L1291.62 768.91 L1292.51 765.24 L1292.65 762.88 L1294.21 760.32 L1296.36 758.27 L1296.41 756.54 L1298.88 754.75 L1299.31 751.03 L1300.33 750.44 L1302.03 748.8 L1303.01 746.05 L1305.55 744.15 L1305.65 742.88 L1308.54 739.55 L1310.01 737.85 L1311.03 737.69 L1312.69 734.91 L1313.12 734.28 L1315.43 732.46 L1317.23 732.02 L1317.96 730.25 L1320.62 728.93 L1321.41 727.1 L1324.24 726.57 L1324.41 726.05 L1327.27 724.27 L1328.62 724.73 L1329.81 721.9 L1331.51 721.68 L1333.63 720.14 L1334.55 720.75 L1336.03 719.27 L1337.9 719.27 L1339.24 717.73 L1341.37 716.48 L1341.84 717.22 L1343.67 715.74 L1345.46 714.6 L1345.56 716.29 L1347.27 715.7 L1348.88 713.21 L1349.59 713.39 L1351.58 712.14 L1353.54 712.89 L1353.59 711.5 L1354.45 711.95 L1357.21 711.78 L1358.19 710.57 L1359.52 710.86 L1360.03 710.79 L1360.59 709.85 L1361.63 709.44 L1363.42 710.41 L1365.06 708.5 L1365.57 709.14 L1367.35 707.6 L1369.32 707.13 L1370.14 708.7 L1371.77 708.35 L1373.53 707.48 L1373.87 706.6 L1375.2 707.57 L1378 706.99 L1378.66 707.52 L1379.62 705.61 L1381.72 707.02 L1383.54 705.07 L1384.8 704.6 L1386.05 705.96 L1387.88 705.3 L1390.4 704.29 L1391.78 705.92 L1393.47 705.3 L1395.35 703.84 L1396.35 704.18 L1397.35 704.5 L1399.41 703.61 L1401.89 703.06 L1403.35 703.25 L1404.68 704.81 L1406.69 704.69 L1406.78 702.86 L1408.19 703.91 L1409.98 704.04 L1411.28 703.37 L1413.67 702.89 L1414.74 702.04 L1415.87 703.15 L1417.13 702.81 L1418.86 702.48 L1419.65 701.75 L1420.69 703.58 L1422.15 702.95 L1423.27 703.12 L1424.43 701.63 L1426.1 701.64 L1426.56 703.17 L1428.08 702.79 L1429.42 702.08 L1431.09 702.04 L1430.92 701.74 L1433.31 701.68 L1434.59 701.6 L1435.74 701.25 L1437.54 702.29 L1438.15 701.48 L1439.74 701.57 L1441.03 701.87 L1442.54 702.18 L1444.67 700.7 L1445.64 701.58 L1447.25 701.76 L1449.08 702.29 L1449.16 701.91" stroke="#95999c" stroke-width="3.1" opacity="0.9"/>
<path d="M1031.02 985.14 L1031.35 985.52 L1033.25 985.11 L1034.52 984.67 L1036.49 985.7 L1036.81 985.06 L1039.53 983.8 L1040.63 984.46 L1041.77 985.85 L1041.95 985.39 L1043.87 983.8 L1045.12 985.77 L1045.73 984.4 L1047.23 984.37 L1049.04 984.14 L1049.8 983.82 L1051.14 983.96 L1051.22 984.31 L1053.81 985.02 L1054.91 985.16 L1055.13 983.83 L1056.5 985.7 L1058.96 983.82 L1060.11 985 L1061.15 984.31 L1063.61 984.49 L1064.52 984.11 L1066.33 984.3 L1068.21 984.89 L1068.28 984.92 L1069.93 985.5 L1072.36 984.74 L1074.09 983.7 L1076.02 985.19 L1076.8 984.35 L1079.1 985.56 L1080.12 985.32 L1082.23 983.65 L1083.91 984.15 L1085.17 985.3 L1087.6 983.57 L1087.86 985.34 L1090.46 983.32 L1091.62 985.12 L1093.12 983.1 L1093.89 983.46 L1095.65 984.27 L1098.06 984.13 L1098.01 983.39 L1100.52 983.63 L1101.77 984.7 L1103.1 983.77 L1104.61 984.6 L1104.53 984.71 L1106.17 984.37 L1106.75 982.75 L1108.62 983.53 L1110.2 983.72 L1110.86 984.18 L1112.63 983.39 L1113.86 982.74 L1114.33 982.59 L1115.62 984.34 L1117.81 983.89 L1118.03 984.01 L1119.27 984.19 L1121.08 983.92 L1121.68 982.9 L1124.08 983.64 L1125.1 983.25 L1126.29 982.45 L1128.48 982.41 L1129.41 982.73 L1131.87 983.48 L1133.03 982.09 L1134 983.36 L1135.16 983.18 L1137.34 982.07 L1139.78 982.5 L1141.3 983.2 L1142 982.14 L1143.28 982.78 L1144.91 982.43 L1147.87 982.73 L1149.16 982.59 L1151.27 981.32 L1152.38 980.81 L1153.88 980.69 L1154.87 980.76 L1156.63 981.67 L1157.92 980.94 L1159.11 980.33 L1161.49 982.15 L1161.88 981.98 L1163.59 981.13 L1165.44 981.42 L1166.17 980.34 L1168.55 979.27 L1169.13 980.56 L1169.75 979.87 L1171.38 979.85 L1172.1 978.56 L1174.08 979.64 L1175.31 977.74 L1176.85 978.36 L1178.16 977.14 L1179.49 977.43 L1180.62 977.61 L1181.31 976.44 L1182.77 975.78 L1183.91 975.48 L1185.29 976.57 L1185.99 975.7 L1188.1 974.56 L1188.25 974.16 L1190.47 973.94 L1192.65 972.57 L1193.87 971.74 L1195.53 969.8 L1195.72 969.2 L1198.62 968.71 L1198.86 967.17 L1200.66 966.09 L1203.04 966.26 L1203.7 963.47 L1206.21 962.27 L1207.46 961.09 L1208.73 959.81 L1211.38 956.84 L1212.97 955.45 L1214.17 952.9 L1215.39 950.53 L1217.47 948.98 L1218.89 946.04 L1220.22 943.79 L1222.38 943.25 L1223.34 939.96 L1225.1 937.27 L1226.18 933.73 L1227.49 932.16 L1229.63 929.41 L1229.7 925.66 L1232.5 922.57 L1233.44 918.5 L1233.63 915.04 L1235.4 909.96 L1236.09 907.09 L1238.52 902.95 L1239.27 899.2 L1239.82 893.31 L1240.72 890.24 L1243.29 885.42 L1243.87 882.24 L1245.84 878.11 L1245.89 873.38 L1247.93 869.51 L1248.56 865.47 L1250.12 860.7 L1251.4 857.65 L1252.64 853.91 L1254.96 851.1 L1255.53 847.24 L1256.54 843.4 L1258.4 840.81 L1259.22 837.61 L1261.66 833.51 L1263.91 830.43 L1264.71 825.2 L1266.86 822.08 L1267.79 819.44 L1269.16 816.66 L1271.7 812.35 L1273.43 809.96 L1274.46 805.97 L1276.45 804.61 L1278.21 800.53 L1278.88 796.57 L1280.9 794.07 L1282.45 790.98 L1283.77 788.21 L1286.13 784.47 L1286.4 781.82 L1288.19 779.82 L1290.03 775.43 L1291.43 773.25 L1292.74 772.04 L1293.53 769.14 L1295.22 764.85 L1297.04 764.32 L1297.51 760.66 L1299.5 759.23 L1300.39 757.2 L1302.09 754.12 L1303.45 753.15 L1304.7 749.61 L1304.77 749.22 L1306.76 745.81 L1308.63 744.08 L1308.65 741.95 L1310.69 742.3 L1312.17 738.83 L1313.39 738.26 L1314.62 735.77 L1314.71 734.53 L1316.46 732.94 L1318.27 731.24 L1319.13 730.65 L1321.49 730.06 L1322.98 727.27 L1323.84 726.23 L1325.89 727.21 L1326.53 725.07 L1328.93 725.03 L1329.18 724.37 L1331.12 721.64 L1333.42 720.9 L1335.29 720.02 L1335.71 719.61 L1337.71 719.44 L1339.83 718.11 L1341.72 717.92 L1342.55 717.87 L1345.04 717.67 L1346.23 716.54 L1347.73 714.72 L1349.87 715.05 L1351.06 715.31 L1351.71 713.16 L1353.66 712.94 L1355.45 712.46 L1356.74 712.07 L1358.6 712.24 L1359.21 711.4 L1360.88 711.85 L1362.68 711.03 L1362.66 710.59 L1365.08 709.51 L1365.43 709.29 L1367.29 710.96 L1367.78 710.4 L1369.04 709.66 L1370.06 709.7 L1371.96 707.7 L1372.65 707.72 L1373.5 708.87 L1374.7 708.96 L1376.79 706.98 L1378.05 708.22 L1378.76 707.35 L1380.63 706.78 L1382.56 707.91 L1384 706.41 L1384.05 706.34 L1386.84 706.68 L1387.44 705.45 L1388.53 705.64 L1391.1 705.21 L1391.19 705.26 L1393.15 706.1 L1395.65 704.47 L1396.72 704.43 L1398.63 703.84 L1399.47 705.69 L1401.01 704.45 L1403.83 704.34 L1405.23 703.55 L1406.18 704.05 L1407.6 704.49 L1410.55 704.1 L1412.07 704 L1413.61 704.8 L1414.37 703.22 L1415.64 704.48 L1418.07 703.95 L1419.12 704.15 L1420.9 704.08 L1421.31 703.15 L1423.21 704.08 L1424.85 702.97 L1425.33 703.59 L1427.25 701.84 L1428.69 703.34 L1429.92 703.57 L1431.55 702.11 L1431.54 703.24 L1432.97 702.21 L1435.12 703.4 L1436.36 703.05 L1436.81 702.46 L1437.7 702.63 L1440.05 702.32 L1440.65 702.5 L1442.16 701.08 L1443.21 702.64 L1444.51 702.36 L1445.98 701.64 L1447.38 702.32 L1448.63 702.88 L1450.52 702.38 L1451.58 701.83" stroke="#a0a5a8" stroke-width="3.1" opacity="0.9"/>
<path d="M1032.64 985 L1034.01 984.25 L1034.83 985.85 L1035.95 985.66 L1038.85 986.07 L1038.66 986.16 L1040.83 984.9 L1042.65 984.27 L1043.95 984.27 L1043.99 985.96 L1045.12 985.81 L1047.03 984.96 L1047.19 985.62 L1048.02 984.23 L1049.25 984.86 L1050.62 986.3 L1052.77 986.03 L1053.26 985.19 L1054.44 986.13 L1056.04 984.86 L1057.98 985.82 L1058.24 984.75 L1061 985.94 L1062.49 985.92 L1062.88 986.02 L1065.38 984.12 L1066.59 984.55 L1068.02 985.25 L1070.18 984.36 L1072.83 984.64 L1074.38 984.22 L1075.33 985.79 L1077.5 985.28 L1079.33 985.51 L1080.77 985.4 L1082.84 984.56 L1084.09 985.34 L1085.65 984.39 L1087.07 985.75 L1087.08 984.28 L1088 984.67 L1089.7 985.29 L1090.51 984.99 L1092.72 984.18 L1093.04 985.5 L1094.83 983.95 L1095.65 984.48 L1096.58 984.61 L1097.91 985.14 L1098.31 984.04 L1099.97 985.66 L1101.83 984.78 L1103 983.56 L1104.22 984.77 L1105.59 984.35 L1106.4 983.54 L1109.32 985.44 L1110.04 983.76 L1112.02 983.4 L1113.95 985.02 L1116.16 983.12 L1117.67 983.33 L1119.13 984.06 L1121.26 984.33 L1122.48 983.62 L1123.36 983.8 L1125.37 984.93 L1127.2 984.92 L1128.51 983.07 L1130.63 983.81 L1132.45 982.91 L1132.96 984.27 L1133.66 984.25 L1136.13 984.54 L1136.3 983.38 L1138.56 983.48 L1138.44 982.74 L1139.84 984.29 L1141.91 984.02 L1143.36 984.15 L1142.87 984.14 L1144.84 984.11 L1145.69 983.82 L1147.14 981.89 L1147.83 981.93 L1149.89 982.18 L1150.25 983.51 L1152.11 981.94 L1153.43 982.75 L1155.24 983.1 L1157.18 981.37 L1159.42 980.83 L1159.63 981.23 L1161.8 980.49 L1163.19 981.42 L1165.79 980.31 L1167.12 981.69 L1168.94 979.91 L1169.82 980.08 L1172.52 980.99 L1174.69 980.76 L1176.08 979.36 L1177.47 979.34 L1177.97 978.56 L1180.31 979.21 L1180.57 979.21 L1182.85 978.81 L1183.84 978.46 L1185.75 976.44 L1185.99 977.7 L1187.3 976.9 L1187.64 976.45 L1189.36 975.19 L1191.34 975.81 L1191.21 973.23 L1193.03 974.06 L1194.13 971.97 L1195.93 973 L1196.6 970.97 L1198.03 969.96 L1199.57 970.15 L1200.48 967.89 L1202.02 967.31 L1203.67 964.81 L1205.3 965.03 L1206.5 962.23 L1209.06 961.25 L1210.46 960.17 L1212.61 958.91 L1213.9 955.36 L1214.99 953.15 L1216.44 951.08 L1219.68 949.34 L1220.72 948.42 L1222.63 944.49 L1223.18 942.46 L1225.27 941.12 L1226.92 937.26 L1227.71 936.22 L1229.24 931.89 L1231.03 928.78 L1231.46 926.92 L1232.42 922.77 L1233.72 918.81 L1236.06 914.42 L1235.84 911.63 L1237.52 907.55 L1238.29 902.19 L1240.3 899.94 L1241.21 894.46 L1242.52 890.21 L1243.37 886.41 L1243.89 881.3 L1245.34 877.86 L1247.32 873.39 L1248.9 869.98 L1251.23 865.05 L1251.68 863.08 L1253.88 859.25 L1255.08 854.87 L1256.97 852.12 L1258.3 848.45 L1260.64 844.81 L1261.76 840.36 L1263.69 838.01 L1265.55 834.34 L1266.93 830.23 L1268.6 825.69 L1269.94 823.16 L1272.63 820.74 L1273.83 817.99 L1274.12 814.55 L1276.46 811.2 L1277.27 807.52 L1278.79 805.29 L1279.9 800.71 L1280.7 797.82 L1281.59 794.94 L1283.27 790.59 L1284.02 787.97 L1284.91 785.76 L1286.73 781.47 L1287.56 779.45 L1289.25 776.25 L1290.38 773.69 L1291.98 771.79 L1293.38 769.92 L1294.37 766.34 L1295.68 764.5 L1296.79 760.6 L1298.18 759.86 L1300.4 758.13 L1302.38 755.74 L1303.46 754.01 L1304.69 751.33 L1306.4 749.67 L1308.68 747.89 L1311.06 745.25 L1311.52 742.97 L1313.3 740.76 L1314.78 741.07 L1317.69 737.67 L1318.87 736.33 L1320.5 734.99 L1321.56 733.14 L1323.45 731.83 L1324.52 730.62 L1325 729.06 L1326.7 727.81 L1328.09 727.98 L1328.65 726.22 L1330.61 726.48 L1331.59 723.98 L1331.95 725.04 L1333.39 722.57 L1335.14 722.03 L1335.31 722.11 L1336.49 720 L1338.33 719.08 L1338.95 720.13 L1341.8 717.85 L1342.06 717.49 L1344.69 716.53 L1345.47 715.87 L1347.13 716.45 L1347.88 715.83 L1349.9 715.85 L1351.39 714.9 L1354.13 713.36 L1354.7 714.53 L1356.51 714.14 L1358.5 712.49 L1359.99 713.73 L1362.03 712.54 L1364.06 711.86 L1365.4 712.53 L1367.45 711.26 L1367.58 710.44 L1370.38 710.43 L1371.96 710.42 L1372.68 710.27 L1373.61 708.9 L1375.14 708.76 L1375.6 708.04 L1376.68 708.28 L1378.71 709.15 L1379.12 707.45 L1379.74 708.03 L1381.98 706.85 L1382.93 706.75 L1383.84 708.12 L1384.57 706.05 L1386.48 707.67 L1388.31 707.65 L1388.76 706.84 L1390.17 705.32 L1391.63 707.13 L1394.33 706.81 L1394.72 704.79 L1396.19 706.03 L1398.03 706.52 L1401.05 705.05 L1402.56 704.61 L1403.86 705.57 L1406.25 704 L1407.66 704.17 L1409.62 704.25 L1410.99 704.4 L1411.31 704.8 L1413.66 703.58 L1415.26 704.87 L1417.15 704.95 L1417.48 705.07 L1419.4 703.97 L1420.25 703.97 L1421.08 704.15 L1422.16 703.5 L1424.33 703.52 L1425.57 703.33 L1426.48 703.9 L1427.08 704.49 L1427.96 702.76 L1429.2 703.35 L1430.29 702.74 L1431.79 703.73 L1433.75 702.4 L1433.8 702.26 L1435.19 702.68 L1437.61 703.85 L1439.11 702.29 L1439.73 703.65 L1441.3 702 L1443.32 702.12 L1445.39 703.24 L1446.74 702.44 L1448.9 701.95 L1450.98 703.43 L1452.86 701.9 L1453.84 702.18 L1455.54 702.18" stroke="#b0b5b8" stroke-width="3.1" opacity="0.9"/>
<path d="M1031.1 984.94 L1031.55 984.95 L1033.61 985.76 L1035 985.31 L1037 986.22 L1037.99 986.64 L1040.36 986.9 L1041.23 985.65 L1043.22 986.95 L1045.18 985.34 L1046.01 986.75 L1048.62 984.97 L1049.9 986.02 L1051.51 986.85 L1052.63 985.98 L1054.86 985.71 L1056.8 986.56 L1057.97 986.43 L1060.2 985.73 L1060.74 984.82 L1062.76 986.89 L1064.11 985.23 L1065.21 985.81 L1066.07 985.76 L1068.54 985.58 L1069.61 986.44 L1070.5 984.92 L1070.8 986.16 L1072.01 984.87 L1074.37 985.09 L1074.73 986.12 L1076.27 986.24 L1076.89 984.77 L1077.77 986.24 L1079.24 984.93 L1080.35 985.02 L1082.76 984.42 L1083.58 984.64 L1084.85 985.02 L1086.16 984.74 L1087.55 985.93 L1088.39 984.94 L1090.74 986.06 L1091.44 984.87 L1094.21 984.64 L1095.03 985.49 L1097.4 985.1 L1098.3 985.83 L1100.21 985.08 L1102.33 986.08 L1103.23 984.12 L1105.5 984.1 L1106.81 985.24 L1108.53 985.84 L1109.86 985.92 L1112.67 984.76 L1114.18 985.49 L1115.25 985.18 L1116.63 984.46 L1117.53 985.15 L1119.06 984.6 L1120.54 985.08 L1121.68 984.67 L1123.55 983.63 L1123.79 984.3 L1125.7 983.85 L1126.01 984.24 L1128.35 984.61 L1129.12 984.98 L1130.05 984.41 L1130.81 983.98 L1132.85 984.62 L1133.01 983.39 L1135.32 983.12 L1135.64 983.11 L1136.98 983.05 L1138.11 984.93 L1140.73 984.29 L1140.73 984.13 L1142.74 982.68 L1145.34 983.4 L1146.8 982.86 L1146.93 983.58 L1149.86 983.21 L1150.36 983.17 L1152.36 982.6 L1154.46 982.96 L1156.66 982.05 L1157.77 983.81 L1159.35 982.56 L1161.02 981.72 L1162.52 982.96 L1165.02 981.97 L1165.64 981.72 L1168.16 983.05 L1169.23 981.89 L1170.33 980.7 L1171.5 982.17 L1173.71 980.06 L1174.72 979.84 L1176.09 980.4 L1176.55 980.68 L1177.86 980.13 L1178.95 978.91 L1180.98 978.62 L1182.1 979.09 L1182.46 978.08 L1182.98 979.3 L1184.76 977.66 L1185.45 977.21 L1187.24 978.23 L1189.08 977.79 L1189.43 975.61 L1191.13 975.08 L1192.39 974.46 L1193.95 973.59 L1194.66 972.48 L1197.41 971.68 L1198.05 972.5 L1199.71 970.89 L1202.11 969.76 L1203.92 967.79 L1205.24 967.49 L1207.26 967.33 L1208.8 965.04 L1210.78 964.74 L1211.25 961.16 L1213.35 959.57 L1215.06 958.62 L1217.26 957.29 L1217.96 953.53 L1219.54 952.87 L1221.87 950.35 L1222.56 947.64 L1224.19 946.99 L1226.14 942.51 L1226.4 940.54 L1227.39 937.99 L1230.1 935.11 L1230.65 933.43 L1232.38 930.86 L1232.42 926 L1233.79 923.5 L1235.58 920.07 L1237.11 915.91 L1238.33 911.18 L1238.46 908.96 L1240.66 902.86 L1240.29 900.2 L1242.25 894.34 L1244.21 890.64 L1244.81 887.12 L1246.46 882.56 L1247.97 878.36 L1248.52 874.67 L1250.83 871.27 L1252.29 866.17 L1253.59 862.03 L1256 858.55 L1256.86 855.76 L1258.36 852.98 L1260.23 849.59 L1262.9 846.7 L1264.44 842.45 L1266.28 837.66 L1266.65 835.05 L1268.14 829.96 L1270.8 828.48 L1272.67 824.1 L1273.61 821.18 L1274.79 818.51 L1276.39 814.51 L1277.85 812.19 L1278.82 807.46 L1281.41 804.09 L1281.3 801.71 L1282.74 798.64 L1284.1 795.91 L1285.2 791.34 L1286.01 787.61 L1288.07 786.76 L1288.87 783.35 L1290.93 779.78 L1290.61 777.51 L1293.01 773.83 L1294.12 772.16 L1294.73 769.48 L1295.57 765.99 L1297.7 765.29 L1298.66 761.52 L1300.65 761.11 L1301.06 758.63 L1303.79 756.45 L1304.71 753.98 L1306.43 752.4 L1307.5 749.34 L1308.94 746.82 L1311.45 744.73 L1312.34 744.04 L1315.15 743.25 L1316.64 739.84 L1318.4 739.75 L1319.52 737.32 L1321.71 735.95 L1323.33 734.68 L1324.59 732.46 L1326.43 732.87 L1327.84 730.81 L1329.29 728.38 L1330.83 729.41 L1331.1 727.55 L1333.51 725.98 L1334.69 724.35 L1336.01 725.58 L1336.7 723.65 L1338.23 722.17 L1338.68 722.03 L1340.62 720.72 L1341.29 721.68 L1343.05 720.69 L1343.56 720.13 L1345.82 717.74 L1346.16 717.53 L1347.05 716.76 L1348.67 717.88 L1350 717.09 L1351.64 716.53 L1353.4 716.31 L1354.32 715.05 L1355.47 713.74 L1356.35 713.96 L1359.2 714.19 L1360.83 713.18 L1361.54 712.15 L1363.11 712.29 L1365.62 712.84 L1367.34 710.99 L1369.22 710.95 L1370.06 711.49 L1372.17 710.41 L1372.86 710.98 L1374.73 710.56 L1376.43 709.38 L1378.36 708.95 L1379.16 710.2 L1381.21 709.53 L1383.42 708.18 L1384.98 708.8 L1386.19 708.19 L1386.48 707.28 L1388.49 708.69 L1389.64 708.39 L1390.37 707.31 L1392.49 708.01 L1392.46 707.58 L1393.49 706.64 L1396.24 706.71 L1396.37 706.92 L1398.17 707.14 L1399.01 705.24 L1400.75 705.08 L1401.8 705.71 L1402.61 705.18 L1404.31 705.06 L1404.74 706.38 L1407.32 704.74 L1407.67 705.42 L1408.58 704.64 L1411.27 704.19 L1412.56 704.78 L1413.83 703.97 L1415.93 705.96 L1417.11 704.52 L1418.24 705.43 L1419.9 704.52 L1421.7 705.39 L1423.46 705.46 L1425.82 704.61 L1428.01 705.23 L1429.67 703.86 L1430.22 703.5 L1432.35 704.86 L1434.5 702.69 L1435.07 704.12 L1437.51 702.96 L1438.27 702.7 L1438.9 703.38 L1440.53 703.97 L1441.78 704 L1443.76 702.65 L1443.87 702.73 L1445.96 703.57 L1446.9 702.48 L1447.75 702.11 L1449.49 704.12 L1450.67 702.58 L1451.77 703.26 L1451.99 704 L1454.19 702.28 L1454.66 703.62" stroke="#c3c8ca" stroke-width="3.1" opacity="0.9"/>
<path d="M1024.76 983.6 L1025.99 983.6 L1026.85 983.6 L1026.85 983.6 L1029.37 983.6 L1030.68 983.6 L1030.68 983.59 L1031.73 983.59 L1034.43 983.59 L1034.43 983.58 L1036.42 983.57 L1038.79 983.57 L1038.79 983.57 L1039.88 983.56 L1042.08 983.56 L1042.08 983.55 L1043.51 983.54 L1044.5 983.54 L1044.5 983.53 L1046.67 983.52 L1049.07 983.52 L1049.07 983.5 L1050.77 983.49 L1052.68 983.49 L1052.68 983.48 L1054.71 983.46 L1055.41 983.46 L1055.41 983.44 L1057.17 983.43 L1058.28 983.43 L1058.28 983.41 L1060.15 983.39 L1061.96 983.39 L1061.96 983.37 L1063.97 983.35 L1065.06 983.35 L1065.06 983.33 L1067.13 983.31 L1068.06 983.31 L1068.06 983.29 L1068.86 983.27 L1071.12 983.27 L1071.12 983.25 L1072.56 983.22 L1074.56 983.22 L1074.56 983.2 L1074.98 983.17 L1076.17 983.17 L1076.17 983.15 L1077.29 983.12 L1079.16 983.12 L1079.16 983.1 L1080.48 983.07 L1081.39 983.07 L1081.39 983.04 L1083.75 983.02 L1084.98 983.02 L1084.98 982.99 L1087.45 982.96 L1089.13 982.96 L1089.13 982.93 L1091.02 982.9 L1093.27 982.9 L1093.27 982.87 L1094.7 982.84 L1096.7 982.84 L1096.7 982.81 L1097.69 982.78 L1098.64 982.78 L1098.64 982.75 L1101.01 982.72 L1102.29 982.72 L1102.29 982.69 L1104.74 982.65 L1106.8 982.65 L1106.8 982.62 L1107.28 982.58 L1109.84 982.58 L1109.84 982.55 L1111.17 982.51 L1112.2 982.51 L1112.2 982.47 L1114.65 982.42 L1115.86 982.42 L1115.86 982.38 L1118.14 982.33 L1118.65 982.33 L1118.65 982.28 L1119.62 982.23 L1121.4 982.23 L1121.4 982.17 L1122.33 982.12 L1123.99 982.12 L1123.99 982.05 L1125.8 981.99 L1127.43 981.99 L1127.43 981.92 L1130 981.85 L1131.18 981.85 L1131.18 981.78 L1133.5 981.7 L1135.09 981.7 L1135.09 981.62 L1136.87 981.53 L1138.32 981.53 L1138.32 981.44 L1139.86 981.34 L1140.93 981.34 L1140.93 981.25 L1142.74 981.14 L1144.1 981.14 L1144.1 981.03 L1146.06 980.92 L1146.85 980.92 L1146.85 980.8 L1147.92 980.68 L1149.25 980.68 L1149.25 980.55 L1150.68 980.41 L1153.73 980.41 L1153.73 980.27 L1155.69 980.12 L1157.14 980.12 L1157.14 979.97 L1158.99 979.81 L1160.74 979.81 L1160.74 979.65 L1162.1 979.48 L1164.16 979.48 L1164.16 979.3 L1166.21 979.06 L1167.18 979.06 L1167.18 978.69 L1168.43 978.21 L1171.08 978.21 L1171.08 977.62 L1172.15 976.93 L1174.32 976.93 L1174.32 976.16 L1176.85 975.32 L1177.95 975.32 L1177.95 974.41 L1179.88 973.46 L1181.23 973.46 L1181.23 972.47 L1182.66 971.45 L1183.25 971.45 L1183.25 970.29 L1185.49 968.96 L1187.72 968.96 L1187.72 967.43 L1188.52 965.73 L1189.53 965.73 L1189.53 963.85 L1191.07 961.78 L1193.47 961.78 L1193.47 959.4 L1196.06 956.29 L1197.9 956.29 L1197.9 952.78 L1199.58 949.24 L1199.92 949.24 L1199.92 945.93 L1201.67 942.59 L1204.24 942.59 L1204.24 939.28 L1206.01 936.11 L1208.28 936.11 L1208.28 933.25 L1209.3 930.78 L1211.3 930.78 L1211.3 928.32 L1212.14 925.42 L1213.12 925.42 L1213.12 921.43 L1213.96 915.89 L1215.54 915.89 L1215.54 910.16 L1217.07 905.66 L1219.34 905.66 L1219.34 902.15 L1220.44 899.05 L1221.67 899.05 L1221.67 896.07 L1222.79 892.92 L1224.9 892.92 L1224.9 889.42 L1226.32 885.73 L1227.65 885.73 L1227.65 881.91 L1229.68 877.97 L1231.63 877.97 L1231.63 873.88 L1233.14 869.61 L1234.95 869.61 L1234.95 865.22 L1237.24 860.77 L1239.32 860.77 L1239.32 856.39 L1241 852.1 L1243.37 852.1 L1243.37 847.52 L1245.19 842.17 L1246.45 842.17 L1246.45 835.41 L1248.1 828.69 L1248.8 828.69 L1248.8 823.35 L1250.98 818.7 L1251.54 818.7 L1251.54 814.41 L1252.93 810.27 L1255.08 810.27 L1255.08 806.29 L1257.52 802.5 L1258.45 802.5 L1258.45 798.85 L1259.39 795.31 L1260.88 795.31 L1260.88 791.76 L1262.82 788.26 L1264.19 788.26 L1264.19 784.92 L1266.69 781.87 L1267.55 781.87 L1267.55 779.2 L1268.61 776.97 L1271.47 776.97 L1271.47 775.05 L1272.22 773.31 L1274.58 773.31 L1274.58 771.6 L1276.28 769.8 L1277.26 769.8 L1277.26 767.75 L1279.89 765.32 L1282.33 765.32 L1282.33 762.4 L1283.98 759.12 L1285.28 759.12 L1285.28 755.65 L1286.8 752.15 L1288.55 752.15 L1288.55 748.79 L1289.88 745.28 L1291.24 745.28 L1291.24 741.94 L1293.54 739.5 L1295.35 739.5 L1295.35 737.59 L1296.32 735.95 L1298.01 735.95 L1298.01 734.48 L1298.91 733.07 L1300.25 733.07 L1300.25 731.62 L1301.33 730.18 L1303.37 730.18 L1303.37 728.79 L1304.92 727.44 L1307.46 727.44 L1307.46 726.12 L1308.28 724.82 L1309.8 724.82 L1309.8 723.5 L1311.25 722.17 L1313.96 722.17 L1313.96 720.79 L1314.74 719.26 L1317.36 719.26 L1317.36 717.62 L1318.72 716.02 L1319.82 716.02 L1319.82 714.61 L1321.13 713.55 L1322.15 713.55 L1322.15 712.85 L1323.16 712.24 L1325.72 712.24 L1325.72 711.71 L1327.31 711.25 L1330.14 711.25 L1330.14 710.83 L1332.65 710.44 L1333.96 710.44 L1333.96 710.07 L1335.74 709.69 L1336.49 709.69 L1336.49 709.29 L1338.88 708.86 L1340.74 708.86 L1340.74 708.43 L1341.82 708 L1343.29 708 L1343.29 707.57 L1343.85 707.15 L1345.97 707.15 L1345.97 706.73 L1348.57 706.32 L1350.1 706.32 L1350.1 705.92 L1352.01 705.54 L1354.1 705.54 L1354.1 705.16 L1355.09 704.81 L1356.77 704.81 L1356.77 704.45 L1358.61 704.08 L1359.66 704.08 L1359.66 703.71 L1360.43 703.33 L1361.38 703.33 L1361.38 702.97 L1363.31 702.63 L1364.61 702.63 L1364.61 702.31 L1365.78 702.03 L1367.22 702.03 L1367.22 701.8 L1368.95 701.61 L1370.11 701.61 L1370.11 701.49 L1372.35 701.39 L1375 701.39 L1375 701.3 L1375.78 701.21 L1378.21 701.21 L1378.21 701.14 L1379.63 701.06 L1380.52 701.06 L1380.52 700.99 L1383.03 700.93 L1385.64 700.93 L1385.64 700.87 L1387.11 700.82 L1387.95 700.82 L1387.95 700.77 L1390.53 700.72 L1391.63 700.72 L1391.63 700.67 L1392.28 700.63 L1394.63 700.63 L1394.63 700.59 L1396.1 700.55 L1397.37 700.55 L1397.37 700.52 L1399.96 700.48 L1400.63 700.48 L1400.63 700.45 L1402.56 700.41 L1403.93 700.41 L1403.93 700.38 L1404.84 700.34 L1406.18 700.34 L1406.18 700.31 L1407.3 700.27 L1408.77 700.27 L1408.77 700.24 L1410.5 700.21 L1412.63 700.21 L1412.63 700.17 L1414.48 700.14 L1416.04 700.14 L1416.04 700.11 L1417.51 700.08 L1418.74 700.08 L1418.74 700.05 L1420 700.03 L1422.47 700.03 L1422.47 700 L1423.74 699.97 L1425.42 699.97 L1425.42 699.95 L1428.35 699.93 L1431.04 699.93 L1431.04 699.9 L1433.34 699.88 L1434.02 699.88 L1434.02 699.86 L1435.91 699.85 L1438.15 699.85 L1438.15 699.83 L1438.82 699.82 L1439.52 699.82 L1439.52 699.81 L1442.27 699.8 L1444.64 699.8 L1444.64 699.79 L1446.47 699.78" stroke="#e98f2e" stroke-width="3.3"/>
<path d="M1024.75 983.6 L1026.17 983.6 L1027.58 983.6 L1029 983.6 L1030.42 983.6 L1031.84 983.6 L1033.25 983.6 L1034.67 983.6 L1036.09 983.6 L1037.51 983.6 L1038.92 983.6 L1040.34 983.6 L1041.76 983.6 L1043.18 983.6 L1044.59 983.59 L1046.01 983.59 L1047.43 983.58 L1048.85 983.58 L1050.26 983.57 L1051.68 983.56 L1053.1 983.55 L1054.52 983.54 L1055.93 983.53 L1057.35 983.52 L1058.77 983.51 L1060.19 983.49 L1061.6 983.48 L1063.02 983.46 L1064.44 983.44 L1065.86 983.43 L1067.27 983.41 L1068.69 983.39 L1070.11 983.37 L1071.53 983.35 L1072.94 983.33 L1074.36 983.3 L1075.78 983.28 L1077.19 983.25 L1078.61 983.23 L1080.03 983.2 L1081.45 983.18 L1082.86 983.15 L1084.28 983.12 L1085.7 983.09 L1087.12 983.06 L1088.53 983.03 L1089.95 983 L1091.37 982.97 L1092.79 982.94 L1094.2 982.91 L1095.62 982.87 L1097.04 982.84 L1098.46 982.81 L1099.87 982.77 L1101.29 982.74 L1102.71 982.7 L1104.13 982.66 L1105.54 982.63 L1106.96 982.59 L1108.38 982.55 L1109.8 982.51 L1111.21 982.47 L1112.63 982.43 L1114.05 982.39 L1115.47 982.35 L1116.88 982.31 L1118.3 982.27 L1119.72 982.23 L1121.13 982.19 L1122.55 982.14 L1123.97 982.1 L1125.39 982.04 L1126.8 981.99 L1128.22 981.92 L1129.64 981.86 L1131.06 981.79 L1132.47 981.72 L1133.89 981.64 L1135.31 981.56 L1136.73 981.47 L1138.14 981.38 L1139.56 981.28 L1140.98 981.19 L1142.4 981.08 L1143.81 980.98 L1145.23 980.87 L1146.65 980.75 L1148.07 980.63 L1149.48 980.51 L1150.9 980.39 L1152.32 980.26 L1153.74 980.12 L1155.15 979.99 L1156.57 979.84 L1157.99 979.69 L1159.41 979.51 L1160.82 979.32 L1162.24 979.12 L1163.66 978.9 L1165.08 978.66 L1166.49 978.41 L1167.91 978.14 L1169.33 977.86 L1170.74 977.56 L1172.16 977.25 L1173.58 976.93 L1175 976.59 L1176.41 976.23 L1177.83 975.83 L1179.25 975.39 L1180.67 974.91 L1182.08 974.39 L1183.5 973.83 L1184.92 973.24 L1186.34 972.6 L1187.75 971.93 L1189.17 971.22 L1190.59 970.48 L1192.01 969.66 L1193.42 968.72 L1194.84 967.7 L1196.26 966.58 L1197.68 965.38 L1199.09 964.11 L1200.51 962.77 L1201.93 961.36 L1203.35 959.81 L1204.76 958.11 L1206.18 956.29 L1207.6 954.37 L1209.02 952.36 L1210.43 950.29 L1211.85 948.18 L1213.27 946.01 L1214.68 943.74 L1216.1 941.36 L1217.52 938.86 L1218.94 936.25 L1220.35 933.52 L1221.77 930.64 L1223.19 927.57 L1224.61 924.33 L1226.02 920.94 L1227.44 917.41 L1228.86 913.76 L1230.28 909.86 L1231.69 905.78 L1233.11 901.58 L1234.53 897.34 L1235.95 893.13 L1237.36 888.83 L1238.78 884.47 L1240.2 880.12 L1241.62 875.92 L1243.03 871.9 L1244.45 868.02 L1245.87 864.23 L1247.29 860.53 L1248.7 856.91 L1250.12 853.42 L1251.54 850.05 L1252.96 846.71 L1254.37 843.31 L1255.79 839.78 L1257.21 836.09 L1258.63 832.35 L1260.04 828.64 L1261.46 825.09 L1262.88 821.73 L1264.29 818.49 L1265.71 815.34 L1267.13 812.2 L1268.55 809.04 L1269.96 805.79 L1271.38 802.46 L1272.8 799.11 L1274.22 795.78 L1275.63 792.55 L1277.05 789.45 L1278.47 786.46 L1279.89 783.53 L1281.3 780.68 L1282.72 777.89 L1284.14 775.17 L1285.56 772.5 L1286.97 769.89 L1288.39 767.32 L1289.81 764.82 L1291.23 762.38 L1292.64 760.02 L1294.06 757.75 L1295.48 755.55 L1296.9 753.4 L1298.31 751.3 L1299.73 749.26 L1301.15 747.28 L1302.57 745.38 L1303.98 743.55 L1305.4 741.8 L1306.82 740.09 L1308.23 738.4 L1309.65 736.76 L1311.07 735.16 L1312.49 733.63 L1313.9 732.17 L1315.32 730.79 L1316.74 729.51 L1318.16 728.32 L1319.57 727.19 L1320.99 726.11 L1322.41 725.07 L1323.83 724.07 L1325.24 723.12 L1326.66 722.21 L1328.08 721.34 L1329.5 720.52 L1330.91 719.73 L1332.33 718.99 L1333.75 718.29 L1335.17 717.62 L1336.58 716.97 L1338 716.34 L1339.42 715.74 L1340.84 715.16 L1342.25 714.61 L1343.67 714.07 L1345.09 713.56 L1346.51 713.07 L1347.92 712.61 L1349.34 712.16 L1350.76 711.74 L1352.18 711.32 L1353.59 710.92 L1355.01 710.53 L1356.43 710.14 L1357.84 709.77 L1359.26 709.41 L1360.68 709.07 L1362.1 708.73 L1363.51 708.41 L1364.93 708.1 L1366.35 707.81 L1367.77 707.52 L1369.18 707.26 L1370.6 707 L1372.02 706.77 L1373.44 706.54 L1374.85 706.31 L1376.27 706.09 L1377.69 705.88 L1379.11 705.67 L1380.52 705.47 L1381.94 705.27 L1383.36 705.08 L1384.78 704.9 L1386.19 704.72 L1387.61 704.54 L1389.03 704.37 L1390.45 704.21 L1391.86 704.05 L1393.28 703.9 L1394.7 703.76 L1396.12 703.62 L1397.53 703.49 L1398.95 703.36 L1400.37 703.24 L1401.78 703.13 L1403.2 703.02 L1404.62 702.91 L1406.04 702.8 L1407.45 702.69 L1408.87 702.58 L1410.29 702.48 L1411.71 702.37 L1413.12 702.27 L1414.54 702.17 L1415.96 702.07 L1417.38 701.97 L1418.79 701.87 L1420.21 701.78 L1421.63 701.69 L1423.05 701.6 L1424.46 701.51 L1425.88 701.43 L1427.3 701.35 L1428.72 701.27 L1430.13 701.19 L1431.55 701.12 L1432.97 701.05 L1434.39 700.99 L1435.8 700.93 L1437.22 700.87 L1438.64 700.82 L1440.06 700.77 L1441.47 700.72 L1442.89 700.68 L1444.31 700.65 L1445.73 700.62 L1447.14 700.59 L1448.56 700.57" stroke="#000" stroke-width="4.8"/>
</g>
<path d="M1246.5 840.4 L1252.15 837.1 L1255.15 837.1 L1260.8 840.4 L1255.15 843.7 L1252.15 843.7 Z" fill="#2a9cc8"/>
<text font-size="29.64" fill="#2a9cc8" style="stroke:#2a9cc8" textLength="57.5" lengthAdjust="spacingAndGlyphs" x="1307" y="854.2">22%</text>
<rect x="1039.8" y="690" width="398" height="304.3" fill="none" stroke="#333" stroke-width="1.4" />
<line x1="1034.8" y1="983.6" x2="1039.8" y2="983.6" stroke="#333" stroke-width="1.7" />
<text font-size="21.84" text-anchor="end" textLength="11.69" lengthAdjust="spacingAndGlyphs" x="1029.8" y="989">0</text>
<line x1="1034.8" y1="912.7" x2="1039.8" y2="912.7" stroke="#333" stroke-width="1.7" />
<text font-size="21.84" text-anchor="end" textLength="23.37" lengthAdjust="spacingAndGlyphs" x="1029.8" y="918.1">25</text>
<line x1="1034.8" y1="841.8" x2="1039.8" y2="841.8" stroke="#333" stroke-width="1.7" />
<text font-size="21.84" text-anchor="end" textLength="23.37" lengthAdjust="spacingAndGlyphs" x="1029.8" y="847.2">50</text>
<line x1="1034.8" y1="770.9" x2="1039.8" y2="770.9" stroke="#333" stroke-width="1.7" />
<text font-size="21.84" text-anchor="end" textLength="23.37" lengthAdjust="spacingAndGlyphs" x="1029.8" y="776.3">75</text>
<line x1="1034.8" y1="700" x2="1039.8" y2="700" stroke="#333" stroke-width="1.7" />
<text font-size="21.84" text-anchor="end" textLength="35.06" lengthAdjust="spacingAndGlyphs" x="1029.8" y="705.4">100</text>
<line x1="1066.3" y1="994.3" x2="1066.3" y2="999.9" stroke="#333" stroke-width="1.7" />
<text font-size="22.36" text-anchor="middle" textLength="24.53" lengthAdjust="spacingAndGlyphs" x="1071.6" y="1020.9">−1</text>
<line x1="1232.5" y1="994.3" x2="1232.5" y2="999.9" stroke="#333" stroke-width="1.7" />
<text font-size="22.36" text-anchor="middle" textLength="11.96" lengthAdjust="spacingAndGlyphs" x="1235.8" y="1020.9">0</text>
<line x1="1398.7" y1="994.3" x2="1398.7" y2="999.9" stroke="#333" stroke-width="1.7" />
<text font-size="22.36" text-anchor="middle" textLength="11.96" lengthAdjust="spacingAndGlyphs" x="1402" y="1020.9">1</text>
<text font-size="30.16" textLength="83" lengthAdjust="spacingAndGlyphs" x="1041" y="682.8">mESC</text>
<text transform="translate(1130.09 687) scale(0.87 1.04)" style="font-family:'Noto Sans CJK JP','DejaVu Sans',sans-serif;font-weight:100;font-size:35.5px">♂</text>
<text font-size="30.16" textLength="166" lengthAdjust="spacingAndGlyphs" x="1161.2" y="682.8">9 h STM2457</text>
<text font-size="29.64" text-anchor="middle" textLength="301.5" lengthAdjust="spacingAndGlyphs" x="1225.5" y="1053.6">Expression fold change</text>
<text font-size="29.64" text-anchor="middle" textLength="296" lengthAdjust="spacingAndGlyphs" x="1225.2" y="1082.7">STM2457/DMSO (log<tspan font-size="18.5" dy="7.6">2</tspan><tspan dy="-7.6">)</tspan></text>
</g>
<g><clipPath id="clipB4"><rect x="1498.5" y="690" width="397.7" height="304.3"/></clipPath>
<line x1="1606.85" y1="690" x2="1606.85" y2="994.3" stroke="#e9e9e9" stroke-width="1.1" />
<line x1="1773.15" y1="690" x2="1773.15" y2="994.3" stroke="#e9e9e9" stroke-width="1.1" />
<line x1="1498.5" y1="948.15" x2="1896.2" y2="948.15" stroke="#e9e9e9" stroke-width="1.1" />
<line x1="1498.5" y1="877.25" x2="1896.2" y2="877.25" stroke="#e9e9e9" stroke-width="1.1" />
<line x1="1498.5" y1="806.35" x2="1896.2" y2="806.35" stroke="#e9e9e9" stroke-width="1.1" />
<line x1="1498.5" y1="735.45" x2="1896.2" y2="735.45" stroke="#e9e9e9" stroke-width="1.1" />
<line x1="1523.7" y1="690" x2="1523.7" y2="994.3" stroke="#dedede" stroke-width="1.6" />
<line x1="1690" y1="690" x2="1690" y2="994.3" stroke="#dedede" stroke-width="1.6" />
<line x1="1856.3" y1="690" x2="1856.3" y2="994.3" stroke="#dedede" stroke-width="1.6" />
<line x1="1498.5" y1="983.6" x2="1896.2" y2="983.6" stroke="#dedede" stroke-width="1.6" />
<line x1="1498.5" y1="912.7" x2="1896.2" y2="912.7" stroke="#dedede" stroke-width="1.6" />
<line x1="1498.5" y1="841.8" x2="1896.2" y2="841.8" stroke="#dedede" stroke-width="1.6" />
<line x1="1498.5" y1="770.9" x2="1896.2" y2="770.9" stroke="#dedede" stroke-width="1.6" />
<line x1="1498.5" y1="700" x2="1896.2" y2="700" stroke="#dedede" stroke-width="1.6" />
<g clip-path="url(#clipB4)" fill="none" stroke-linejoin="round" stroke-linecap="round">
<path d="M1483.12 983.6 L1484.54 983.6 L1485.96 983.6 L1487.38 983.6 L1488.8 983.6 L1490.21 983.6 L1491.63 983.6 L1493.05 983.6 L1494.47 983.6 L1495.89 983.6 L1497.31 983.6 L1498.72 983.6 L1500.14 983.6 L1501.56 983.6 L1502.98 983.59 L1504.4 983.59 L1505.82 983.58 L1507.23 983.57 L1508.65 983.56 L1510.07 983.55 L1511.49 983.54 L1512.91 983.53 L1514.32 983.51 L1515.74 983.49 L1517.16 983.47 L1518.58 983.45 L1520 983.43 L1521.42 983.41 L1522.83 983.39 L1524.25 983.36 L1525.67 983.33 L1527.09 983.31 L1528.51 983.28 L1529.93 983.25 L1531.34 983.22 L1532.76 983.18 L1534.18 983.15 L1535.6 983.12 L1537.02 983.08 L1538.44 983.05 L1539.85 983.01 L1541.27 982.97 L1542.69 982.93 L1544.11 982.9 L1545.53 982.86 L1546.95 982.82 L1548.36 982.77 L1549.78 982.73 L1551.2 982.69 L1552.62 982.65 L1554.04 982.6 L1555.45 982.56 L1556.87 982.51 L1558.29 982.47 L1559.71 982.42 L1561.13 982.38 L1562.55 982.33 L1563.96 982.28 L1565.38 982.24 L1566.8 982.19 L1568.22 982.14 L1569.64 982.09 L1571.06 982.05 L1572.47 982 L1573.89 981.95 L1575.31 981.9 L1576.73 981.85 L1578.15 981.8 L1579.57 981.75 L1580.98 981.69 L1582.4 981.63 L1583.82 981.57 L1585.24 981.51 L1586.66 981.44 L1588.08 981.37 L1589.49 981.3 L1590.91 981.23 L1592.33 981.15 L1593.75 981.07 L1595.17 980.99 L1596.59 980.9 L1598 980.81 L1599.42 980.72 L1600.84 980.62 L1602.26 980.52 L1603.68 980.42 L1605.09 980.31 L1606.51 980.2 L1607.93 980.09 L1609.35 979.97 L1610.77 979.85 L1612.19 979.71 L1613.6 979.56 L1615.02 979.4 L1616.44 979.23 L1617.86 979.04 L1619.28 978.85 L1620.7 978.64 L1622.11 978.42 L1623.53 978.18 L1624.95 977.94 L1626.37 977.68 L1627.79 977.41 L1629.21 977.13 L1630.62 976.83 L1632.04 976.5 L1633.46 976.14 L1634.88 975.75 L1636.3 975.32 L1637.72 974.87 L1639.13 974.39 L1640.55 973.87 L1641.97 973.33 L1643.39 972.76 L1644.81 972.17 L1646.22 971.51 L1647.64 970.79 L1649.06 970 L1650.48 969.15 L1651.9 968.24 L1653.32 967.26 L1654.73 966.24 L1656.15 965.16 L1657.57 964.03 L1658.99 962.82 L1660.41 961.5 L1661.83 960.06 L1663.24 958.52 L1664.66 956.87 L1666.08 955.14 L1667.5 953.3 L1668.92 951.37 L1670.34 949.25 L1671.75 946.94 L1673.17 944.45 L1674.59 941.83 L1676.01 939.1 L1677.43 936.29 L1678.85 933.35 L1680.26 930.24 L1681.68 926.95 L1683.1 923.46 L1684.52 919.77 L1685.94 915.7 L1687.35 911.22 L1688.77 906.51 L1690.19 901.76 L1691.61 897.17 L1693.03 892.83 L1694.45 888.6 L1695.86 884.42 L1697.28 880.25 L1698.7 876.02 L1700.12 871.71 L1701.54 867.37 L1702.96 863.05 L1704.37 858.83 L1705.79 854.77 L1707.21 850.85 L1708.63 847 L1710.05 843.18 L1711.47 839.35 L1712.88 835.51 L1714.3 831.7 L1715.72 827.95 L1717.14 824.28 L1718.56 820.66 L1719.98 817.07 L1721.39 813.56 L1722.81 810.12 L1724.23 806.8 L1725.65 803.58 L1727.07 800.44 L1728.48 797.37 L1729.9 794.38 L1731.32 791.45 L1732.74 788.58 L1734.16 785.77 L1735.58 783.02 L1736.99 780.33 L1738.41 777.69 L1739.83 775.11 L1741.25 772.58 L1742.67 770.09 L1744.09 767.63 L1745.5 765.2 L1746.92 762.82 L1748.34 760.5 L1749.76 758.26 L1751.18 756.11 L1752.6 754.04 L1754.01 752.03 L1755.43 750.07 L1756.85 748.17 L1758.27 746.33 L1759.69 744.55 L1761.11 742.84 L1762.52 741.2 L1763.94 739.61 L1765.36 738.05 L1766.78 736.53 L1768.2 735.06 L1769.61 733.64 L1771.03 732.27 L1772.45 730.96 L1773.87 729.71 L1775.29 728.53 L1776.71 727.38 L1778.12 726.26 L1779.54 725.16 L1780.96 724.1 L1782.38 723.06 L1783.8 722.07 L1785.22 721.12 L1786.63 720.22 L1788.05 719.37 L1789.47 718.58 L1790.89 717.85 L1792.31 717.18 L1793.73 716.55 L1795.14 715.95 L1796.56 715.38 L1797.98 714.84 L1799.4 714.33 L1800.82 713.83 L1802.24 713.36 L1803.65 712.9 L1805.07 712.45 L1806.49 712.02 L1807.91 711.59 L1809.33 711.17 L1810.74 710.75 L1812.16 710.33 L1813.58 709.92 L1815 709.52 L1816.42 709.12 L1817.84 708.73 L1819.25 708.35 L1820.67 707.99 L1822.09 707.64 L1823.51 707.3 L1824.93 706.98 L1826.35 706.69 L1827.76 706.41 L1829.18 706.15 L1830.6 705.92 L1832.02 705.7 L1833.44 705.48 L1834.86 705.27 L1836.27 705.07 L1837.69 704.87 L1839.11 704.68 L1840.53 704.49 L1841.95 704.31 L1843.37 704.14 L1844.78 703.97 L1846.2 703.81 L1847.62 703.65 L1849.04 703.5 L1850.46 703.36 L1851.87 703.23 L1853.29 703.1 L1854.71 702.98 L1856.13 702.86 L1857.55 702.75 L1858.97 702.65 L1860.38 702.56 L1861.8 702.47 L1863.22 702.38 L1864.64 702.29 L1866.06 702.2 L1867.48 702.11 L1868.89 702.02 L1870.31 701.93 L1871.73 701.85 L1873.15 701.76 L1874.57 701.68 L1875.99 701.6 L1877.4 701.52 L1878.82 701.44 L1880.24 701.37 L1881.66 701.29 L1883.08 701.22 L1884.5 701.16 L1885.91 701.09 L1887.33 701.03 L1888.75 700.97 L1890.17 700.91 L1891.59 700.86 L1893.01 700.81 L1894.42 700.77 L1895.84 700.73 L1897.26 700.69 L1898.68 700.66 L1900.1 700.63 L1901.51 700.61 L1902.93 700.59 L1904.35 700.58 L1905.77 700.57 L1907.19 700.57" stroke="#a4a9ac" stroke-width="9.5" opacity="0.85"/>
<path d="M1477.62 980.74 L1478.07 980.85 L1479.72 980.97 L1480.93 980.28 L1482.58 981.77 L1483.88 980.81 L1485.57 981.81 L1487.58 981.11 L1489.75 980.41 L1490.6 981.43 L1491.39 981.07 L1492.72 980.23 L1494.46 981.35 L1495.09 981.92 L1495.89 980.29 L1498.37 980.93 L1499.19 981.71 L1499.53 981.82 L1500.64 982.38 L1501.87 982.22 L1504.5 980.18 L1504.29 981.12 L1506.37 980.61 L1508.19 981.81 L1507.9 980.43 L1509.78 980.72 L1511.25 980.31 L1513.33 981.17 L1513.51 980.17 L1515.04 980.94 L1516.48 981.87 L1517.63 980.11 L1520.18 981.46 L1521.96 980.02 L1522.9 980.84 L1523.83 981.14 L1526.57 980.84 L1528.24 981.14 L1529.75 981.77 L1530.86 981.81 L1533.35 981.68 L1534.66 979.79 L1536.24 981.01 L1537.79 981.71 L1538.9 980.81 L1540.87 980.24 L1543.01 980.2 L1544.38 979.52 L1545.34 980.76 L1547.61 979.35 L1549.1 981.44 L1549.21 981.07 L1550.79 980.27 L1552.26 979.87 L1553.24 980.34 L1555.76 979.46 L1556.86 979.96 L1557.93 981.15 L1559.91 980.22 L1560.06 979.6 L1560.99 980.42 L1562.03 980.54 L1563.59 979.45 L1565.61 979.82 L1566.41 978.57 L1566.7 978.61 L1568.54 980.02 L1569.13 980.59 L1571.34 980.21 L1571.79 979.58 L1573.19 979.54 L1575.3 979.46 L1577 980.18 L1578.04 979.63 L1578.94 979.31 L1580.99 978.46 L1581.87 979.83 L1582.97 978.58 L1584.97 979.08 L1587.25 978.1 L1588.75 978.22 L1589.65 979.24 L1592.37 977.98 L1594 978.65 L1594.74 977.5 L1597.52 979.24 L1598.01 978.47 L1599.32 977.89 L1601.69 978.29 L1603.88 977.95 L1605.03 977.4 L1606.5 978.04 L1607.94 976.48 L1609.1 977.62 L1610.6 976.53 L1612.21 975.73 L1613.86 977.49 L1615.89 975.51 L1615.78 976.88 L1617.39 976.02 L1619.82 976.53 L1620.6 974.44 L1620.86 975.57 L1622.69 974.83 L1624.24 973.49 L1625.86 975.03 L1625.67 974.83 L1628.21 973.04 L1629.18 974.09 L1629.56 973.45 L1631.19 972.67 L1632.9 972.72 L1633.18 971.42 L1635.21 971.5 L1636.27 968.92 L1636.79 969.22 L1638.48 969.59 L1640.1 967.17 L1641.07 967.47 L1643.87 965.1 L1644.2 966.05 L1645.69 964.83 L1647.85 963.18 L1649.31 961.03 L1650.56 959.57 L1652.19 958.17 L1654.11 958.46 L1656.44 956.54 L1656.71 953.8 L1659.75 952.16 L1661.44 950.04 L1662.66 950.06 L1664.49 948.03 L1665.41 944.89 L1667.97 941.4 L1669.17 939.14 L1670.63 937.03 L1671.75 933.61 L1672.85 931.2 L1675.09 927.21 L1676.58 925.16 L1676.75 920.62 L1678.62 918.29 L1680.31 913.23 L1681.07 909.37 L1682.2 904.61 L1683.54 900.02 L1684.47 895.96 L1685.85 891.48 L1687.5 885.94 L1688.87 881.78 L1690.28 877.62 L1690.91 873.91 L1691.81 869.24 L1694.32 864.43 L1695.06 859.68 L1696.38 856.81 L1697.65 851.94 L1698.33 847.87 L1700.09 843.95 L1700.98 840.53 L1702.92 837.69 L1704.6 832.53 L1704.71 829.3 L1707.48 825.13 L1707.86 821.45 L1709.23 819.05 L1710.89 815.78 L1713.29 810.65 L1715.39 807.47 L1717.13 805.62 L1717.5 802.34 L1719.6 798.34 L1722.1 794.76 L1723.67 792.96 L1725.21 788.74 L1725.89 786.66 L1727.55 783.16 L1728.95 781.27 L1730.72 778.66 L1732.51 776.22 L1734.69 772.42 L1735.96 770.03 L1736.62 768.8 L1738.06 766.24 L1739.92 762.17 L1742.01 761.09 L1742.65 757.26 L1744.49 754.91 L1745.6 753.13 L1747.16 752.59 L1747.76 750.66 L1748.77 747.06 L1750.11 746.09 L1751.87 745.12 L1752.18 743.18 L1753.22 741.06 L1755.48 739.5 L1756.09 738.39 L1757.56 735.29 L1758.01 735.27 L1759.04 733.27 L1760.62 730.92 L1762.27 729.43 L1762.94 728.03 L1764.7 728.04 L1767.21 727.01 L1767.8 724.84 L1768.54 723.3 L1771.36 722.35 L1772.06 721.28 L1773.4 720.99 L1775.75 719.31 L1777.4 717.92 L1778.45 717.69 L1780.73 717.91 L1782.65 715.57 L1783.41 716.64 L1785.32 716.02 L1786.16 714.74 L1788.77 713.97 L1789.9 712.05 L1792.12 712.04 L1793.88 712.21 L1794.76 711.4 L1796.84 711.28 L1798.81 709.72 L1799 709.92 L1801.49 710.06 L1802.38 708.33 L1804.53 708.18 L1804.43 708.69 L1806.27 707.02 L1807.19 708.66 L1808.61 706.4 L1810.9 706.96 L1811.52 706.49 L1812.44 705.22 L1814.63 705.9 L1814.31 705.52 L1815.43 705.63 L1817.87 704.3 L1818.71 703.92 L1820.37 703.75 L1821.03 704.66 L1823.02 702.8 L1823.26 703.45 L1824.38 704.09 L1826.79 703.67 L1827.56 703.65 L1828.1 703.41 L1829.49 702.37 L1830.94 701.65 L1833.61 701.59 L1834.97 700.8 L1835.64 700.59 L1838.35 701.26 L1839.91 700.57 L1841.28 700.3 L1842.82 701.07 L1844.22 700.18 L1846.3 700.68 L1847.45 700.13 L1850 699.9 L1851.08 699.56 L1852.86 700.36 L1854.9 701.24 L1856.59 701.19 L1857.42 699.64 L1858.28 699.77 L1860.48 699.14 L1862.63 700.58 L1862.91 699.03 L1864.42 698.55 L1865.84 699.62 L1867.13 700.42 L1869.43 698.98 L1870.27 700.28 L1870.79 698.58 L1872.75 698.47 L1874.28 699.37 L1874.38 698.11 L1875.86 699.23 L1876.74 698.15 L1879.06 699.29 L1879.75 698.25 L1880.3 699.58 L1881.89 699.01 L1883.01 698.83 L1884.87 697.66 L1885.88 697.76 L1887.15 699.36 L1888.31 698.51 L1889.16 697.61 L1891.01 697.27 L1892.92 698.43 L1894.2 699.09 L1895.75 697.66 L1896.54 699 L1897.87 698.08" stroke="#c3c8ca" stroke-width="3.1" opacity="0.9"/>
<path d="M1478.35 981.62 L1480.35 982.01 L1481.07 982.1 L1483.37 981.87 L1484.87 981.13 L1486.15 980.76 L1487.07 982.54 L1488.57 981.09 L1490.26 981.32 L1490.62 981.81 L1492.38 982.02 L1492.94 981.29 L1495.07 980.81 L1496.87 981.86 L1497.04 982.97 L1498.92 981.66 L1499.31 982.57 L1502 982.75 L1501.74 981.68 L1503.35 982.37 L1504.92 981.21 L1506.81 982.05 L1507.76 980.98 L1508.33 982.78 L1510.59 980.73 L1511 981.33 L1512.79 982.77 L1515.19 982.22 L1515.84 980.7 L1516.38 980.95 L1518.17 982.63 L1519.65 980.94 L1520.91 981.74 L1523.32 981.69 L1523.96 980.83 L1526.08 982.25 L1527.36 981.16 L1529.38 981.87 L1529.99 980.57 L1530.93 980.38 L1533.51 980.33 L1534.9 981.98 L1535.55 982.2 L1537.82 981.34 L1538.82 982 L1541.78 981.74 L1542.6 980.97 L1544.57 980.45 L1545.84 980.82 L1547.35 979.81 L1549.33 980.34 L1549.51 979.79 L1551.6 980.54 L1553.67 981.08 L1554.67 979.68 L1557.17 980.48 L1557.7 980.34 L1559.94 981.39 L1561.16 981.46 L1562.65 981.61 L1564.73 981.28 L1566.39 980.9 L1567.92 980.64 L1568.32 979.82 L1570.12 980.5 L1570.92 980.49 L1573.44 980.28 L1574.59 979.91 L1575.8 979.26 L1577.26 978.89 L1578.41 980.55 L1579.52 980.11 L1581.32 979.99 L1583.08 979.43 L1583.41 980.01 L1585.03 980.3 L1586.43 978.58 L1588.55 979.84 L1589.41 978.82 L1591.36 978.96 L1591.86 980.25 L1592.78 979.65 L1594.24 978.93 L1595.11 978.38 L1597.17 977.74 L1598.39 979.39 L1599.57 979.61 L1601.26 977.77 L1602.44 977.45 L1603.28 979.17 L1605.17 978.38 L1605.57 978.61 L1607.7 978.35 L1608.56 978.06 L1610.48 977.7 L1611.91 977.53 L1612.63 977.72 L1613.32 977.46 L1615.57 976.53 L1615.84 976.55 L1617.3 976.24 L1618.9 976.75 L1621.26 975.76 L1621.95 974.67 L1623.91 975.76 L1624.98 975.58 L1626.56 974.59 L1627.02 974.79 L1630.01 974.23 L1630.65 973.7 L1631.52 971.67 L1633.81 971.81 L1635.82 971.78 L1636.65 970.85 L1638.46 970.58 L1639.06 969.55 L1640.72 968.75 L1642.51 968.76 L1643.58 967.84 L1646.09 965.41 L1646.62 964.94 L1648.94 964.46 L1650.85 963.08 L1651.53 962.76 L1654.5 961.83 L1655.39 959.12 L1657.21 958.77 L1658.71 956.76 L1660 954.34 L1661.25 953.16 L1663.16 951.58 L1664.85 949.59 L1665.82 948.02 L1666.74 944.64 L1669.8 943.21 L1670.2 939.58 L1672.78 936.77 L1674.37 934.23 L1674.27 931.33 L1677.15 929.36 L1677.66 924.26 L1679.96 921.87 L1681.23 917.06 L1681.81 914.15 L1684.08 908.73 L1684.3 905.12 L1687.02 900.29 L1687.87 895.93 L1689.86 890.49 L1690.35 886.79 L1692.08 883.18 L1692.72 879.67 L1694.01 873.49 L1694.92 871.14 L1697.36 865.99 L1699.06 861.88 L1699.44 856.66 L1700.13 853.75 L1701.44 848.46 L1702.93 844.54 L1705.1 841.45 L1705.64 837.41 L1707.19 833.71 L1709.13 829.91 L1710.11 826.38 L1710.34 823.4 L1713.11 819.9 L1714 815.18 L1714.43 812.75 L1715.54 808.04 L1718.26 804.76 L1718.56 801.12 L1720.3 798.89 L1721.27 795.87 L1723.38 793.08 L1724.23 789.78 L1726.01 786.46 L1727.79 783.24 L1727.86 781.95 L1729.71 777.86 L1731.73 775.11 L1733.34 773.42 L1734.84 770.81 L1735.52 767.41 L1737.46 765.75 L1738.77 764.26 L1740.74 760.31 L1741.09 759.04 L1742.45 757.29 L1744.13 753.84 L1745.9 752.68 L1748.13 749.36 L1749.48 748.61 L1750.47 746.94 L1751.63 745.33 L1753.77 742.23 L1756.28 741.77 L1756.37 740.27 L1759.3 738.17 L1760 735.86 L1761.91 733.7 L1763.05 732.24 L1765.58 731.31 L1766.89 729.8 L1768.21 729.15 L1769.46 728.05 L1771.13 727.26 L1772.06 724.66 L1774.23 723.86 L1776.19 724.57 L1776.3 723.19 L1778.44 720.4 L1779.95 719.46 L1781.47 718.28 L1783.68 719 L1784.44 717.71 L1785.66 716.17 L1786.45 716.74 L1788.2 715.39 L1790.56 715.71 L1791.51 715.04 L1793.09 713.95 L1794.73 712.61 L1796.03 713.73 L1797.35 712.18 L1798.82 712.61 L1800.04 711.74 L1800.97 709.86 L1801.98 709.19 L1802.49 710.75 L1805.27 710.06 L1805.79 709.75 L1806.78 709.21 L1808.16 708.67 L1810.09 708.76 L1811.39 707.22 L1811.87 707.26 L1812.93 706.32 L1814.62 705.49 L1815.44 704.86 L1817.53 704.71 L1819.24 706.29 L1819.79 704.14 L1820.67 705.62 L1823.31 704.22 L1823.36 703.69 L1824.71 704.27 L1826.62 703.13 L1828.23 703.36 L1829.06 702.37 L1830.04 703.66 L1831.74 702.92 L1834.09 702.78 L1835.67 703.19 L1835.88 701.96 L1838.06 701.26 L1839.67 701.58 L1841.19 702.05 L1841.31 702.05 L1842.82 702.14 L1844.4 700.44 L1846.7 700.58 L1847.61 702.05 L1850.32 702.25 L1850.73 701.22 L1852.6 700.01 L1853.62 701.49 L1856.44 700.23 L1856.86 699.84 L1858.5 700.96 L1860.1 700.2 L1861.5 700.1 L1862.86 701.23 L1865.61 699.79 L1865.99 700.66 L1867.89 701.15 L1868.99 700.54 L1871.41 698.86 L1872.87 700.79 L1875.1 700.39 L1875.14 699.41 L1878.2 700.3 L1878.34 699.21 L1880.23 698.89 L1882.65 699.38 L1884.05 698.92 L1885.59 698.78 L1885.83 698.82 L1887.24 698.07 L1889.01 699.69 L1890.4 700.1 L1892.25 699.5 L1892.74 697.91 L1895.02 699.14 L1895.44 698.94 L1897.33 698.69 L1899.07 698.51 L1899.93 700.01 L1902.03 698.8 L1903.41 699.91" stroke="#b0b5b8" stroke-width="3.1" opacity="0.9"/>
<path d="M1477.39 982.48 L1479.5 981.66 L1480.69 981.51 L1481.68 982.68 L1484.03 982.08 L1484.41 982.77 L1485.71 983.31 L1487.23 981.8 L1488.92 982.57 L1490.56 981.46 L1492.65 982.55 L1493.14 982.47 L1495.4 982.06 L1496.78 982.82 L1498.1 982.34 L1498.93 981.45 L1500.4 982.64 L1503.1 983.32 L1503.8 982.29 L1505.93 982.21 L1506.35 982.13 L1509.25 981.29 L1509.37 982.02 L1511.24 981.95 L1513.24 983.31 L1515.25 982.97 L1517 981.7 L1517.19 982.88 L1518.6 983.01 L1520.59 981.66 L1522.47 982.64 L1524.16 983.12 L1526.1 981.63 L1527.65 982.52 L1528.91 981.59 L1530.84 980.95 L1532.21 982.97 L1532.38 983.07 L1534.38 981.79 L1535.38 981.11 L1537.21 981.68 L1539.14 981.72 L1540.56 982.77 L1542.5 982.26 L1544.1 981.49 L1545.1 981.32 L1546.32 981.44 L1547.07 981.66 L1548.75 982.03 L1551.3 980.96 L1552.73 981.37 L1553.94 982.09 L1555.25 981.99 L1556.56 982.37 L1556.86 980.3 L1558.74 981.54 L1559.32 981.76 L1561.98 980.85 L1563.28 982.09 L1564.65 980.17 L1565.65 982.08 L1566.37 981.41 L1567.88 981.32 L1568.5 979.81 L1570.22 980.73 L1572.25 981.42 L1573.09 979.59 L1573.95 980.18 L1576.35 981.74 L1576.94 979.5 L1578.29 980.82 L1579.1 980.63 L1580.8 979.67 L1583.04 979.55 L1583.38 979.88 L1584.3 981.02 L1586.83 980.51 L1587.86 979.92 L1588.07 979.83 L1589.37 979.42 L1591.21 980.6 L1592.71 979.17 L1594.74 978.58 L1594.85 980.41 L1597.37 979.84 L1598.3 979.67 L1599.3 979.35 L1600.55 978.74 L1602.55 980 L1603.47 979.85 L1604.74 979.16 L1607.77 979.49 L1608.79 977.32 L1610.21 978.05 L1611.82 979.09 L1612.2 977.01 L1614.79 976.82 L1615.42 978.27 L1617.45 976.72 L1618.86 978.13 L1619.75 977.5 L1622.63 975.54 L1624.03 975.19 L1625.28 976.07 L1626.54 974.74 L1627.46 975.51 L1629.04 975.2 L1630.42 974.4 L1633.33 975.25 L1635.04 974.27 L1636.23 974.13 L1636.96 973.85 L1639.49 971.42 L1641.28 972.49 L1641.25 970.97 L1643.68 969.77 L1644.52 969.01 L1646.51 968.36 L1647.42 967.09 L1649.82 967.13 L1651.4 966.5 L1652.83 964.18 L1653.87 965.03 L1655.54 963.25 L1656.31 961.7 L1659.13 959.47 L1660.12 959.38 L1661.28 956.95 L1662.97 956.41 L1664.78 953.11 L1664.96 952.66 L1666.6 950.54 L1667.79 947.35 L1669.25 945.09 L1671.55 943.38 L1672.34 941.45 L1673.12 938.86 L1674.91 935.2 L1676.2 931.38 L1678.32 929.55 L1679.65 926.67 L1680.66 923.24 L1680.96 918.12 L1683.45 915.45 L1684.8 910.56 L1685.35 906.18 L1686.19 901.42 L1687.89 895.65 L1689.56 890.97 L1691.04 886.43 L1691.15 882.56 L1693.8 878.6 L1693.88 874.72 L1695.59 871.59 L1696.59 866.8 L1699.17 862.12 L1699.64 857.86 L1700.48 854.03 L1701.72 849.89 L1702.84 845.97 L1704.38 842.28 L1706.8 838.31 L1707.06 834.08 L1709.59 829.95 L1710.96 827 L1711.85 822.39 L1713.38 818.45 L1714.14 815.38 L1716.52 812.16 L1717.87 810.01 L1718.97 805.62 L1720.41 802.43 L1721.5 798.84 L1722.75 796.34 L1724.55 793.76 L1727.04 789.77 L1727.9 787.8 L1729.56 784.62 L1730.13 781.19 L1732.97 778.88 L1733.94 777.21 L1735.22 773.2 L1736.33 771.15 L1737.64 768.29 L1739.88 766.85 L1741.24 763.29 L1743.52 762.02 L1745.3 758.29 L1746.26 758.06 L1748.44 755.2 L1748.54 753.06 L1751.46 751.19 L1752.37 747.98 L1754.67 746.43 L1756.03 744.34 L1756.9 743.79 L1758.8 740.64 L1759.53 740.31 L1761.01 739.23 L1763.59 736.01 L1764.56 734.38 L1765.85 732.8 L1768.24 732.82 L1768.36 730.75 L1769.62 729.33 L1771.76 729.11 L1773.2 728.36 L1775.35 726.24 L1776.35 725.51 L1776.96 723.71 L1779.32 723.52 L1780.31 721.96 L1782.48 721.2 L1782.67 720.64 L1783.85 718.11 L1785.32 718.89 L1786.59 717.85 L1788.57 717.11 L1789.63 715.02 L1791.11 715.1 L1792.37 714.04 L1794.19 714.8 L1794.93 714.35 L1795.57 712.18 L1796.92 713.7 L1798.37 711.23 L1799.97 710.81 L1802.16 710.28 L1802.75 710.76 L1803.95 710.2 L1804.87 710.52 L1805.91 709.85 L1807.2 709.81 L1808.83 709.7 L1810.24 708.73 L1812.2 708.85 L1813.7 707.36 L1814.31 708.35 L1816.37 706.76 L1816.78 707.29 L1818.98 706.17 L1819.66 705.16 L1820.68 706.34 L1823.23 705.66 L1824.72 704.51 L1825.11 703.75 L1827.02 704.27 L1828.23 703.87 L1829.2 704.39 L1830.59 703.47 L1831.7 704.67 L1833.63 702.63 L1835.42 703.22 L1836.3 702.88 L1838.87 702.39 L1839.08 702.72 L1841.36 702.02 L1842.68 702.97 L1844.4 701.74 L1845.74 702.4 L1846.42 702.9 L1848.37 701.59 L1850.83 701.08 L1852.61 701.01 L1853.04 701.36 L1855.64 700.88 L1856.02 701.68 L1858.47 701.83 L1859.05 700.85 L1860.69 702.21 L1862.96 701.56 L1864.4 701.99 L1866.05 699.88 L1867.33 700.66 L1868.58 699.92 L1870.86 700.21 L1872.04 699.87 L1872.99 700.41 L1874.55 699.47 L1876.57 699.97 L1877.39 699.87 L1880.05 700.78 L1880.69 700.33 L1882.93 700.44 L1883.9 700.59 L1885.04 699.48 L1886.28 699.37 L1888.97 698.69 L1889.08 700.53 L1891.16 700.39 L1892.51 699.83 L1894.59 699.24 L1895.05 698.94 L1896.06 699.52 L1897.85 699.34 L1899.24 700.15 L1900.24 700.12 L1902.11 699.4 L1902.51 700.16 L1903.79 699.39" stroke="#a0a5a8" stroke-width="3.1" opacity="0.9"/>
<path d="M1481.41 982.41 L1482.35 983.24 L1484.04 982.2 L1485.06 982.16 L1486.54 982.64 L1487.59 982.57 L1488.68 983.35 L1490.02 983.93 L1491.05 982.49 L1492.8 983.15 L1494.54 982.08 L1494.93 983.62 L1497.21 982.49 L1498.39 982.99 L1499.17 983.99 L1500.58 984 L1502.32 983.7 L1505 983.2 L1506 983.12 L1507.8 983.82 L1509.08 982.87 L1510.23 982 L1511.82 981.98 L1514.09 982.53 L1515.04 983.17 L1518.12 981.9 L1519.23 983.88 L1519.94 981.82 L1522.28 982.43 L1523.99 983.08 L1524.86 982.52 L1527.27 982.96 L1527.87 982.3 L1528.84 983.41 L1530.89 983.16 L1532.44 983.32 L1533.1 982.26 L1535.75 983.62 L1535.79 982.81 L1537.88 982.34 L1538.89 981.48 L1539.6 981.42 L1540.94 983.45 L1542.32 982.24 L1543.32 983.07 L1544.46 981.44 L1547.11 981.14 L1547.43 982.22 L1547.9 981.04 L1550.55 981.42 L1550.59 983.11 L1552.63 981.35 L1553.74 981.89 L1555.16 982.19 L1555.75 981.01 L1558.2 980.87 L1559.08 982.64 L1559.76 982.2 L1561.19 980.88 L1562.67 981.75 L1564.35 981.87 L1566.99 980.78 L1568.2 980.93 L1568.63 980.4 L1570.89 981.03 L1572.6 980.32 L1574 980.5 L1576.07 980.36 L1577.39 981.14 L1579.56 980.24 L1580.34 981.7 L1582.95 979.91 L1583.22 980.79 L1585.58 979.76 L1587.04 980.29 L1588.15 981.09 L1590.27 980.43 L1591.36 979.65 L1593.44 980.8 L1595.33 981.51 L1596.41 980.87 L1598.54 980.82 L1598.33 980.07 L1600.94 979.67 L1601.48 980.19 L1603.52 979.48 L1604.94 980.12 L1605.11 979.63 L1607.12 979.65 L1607.85 980.13 L1609.9 978.76 L1610.24 978.41 L1612.31 977.91 L1612.26 978.22 L1614.61 979.65 L1615.59 979.39 L1617.33 979.08 L1618.57 979.1 L1618.59 977.74 L1620.65 977.35 L1622.26 977.71 L1622.86 976.35 L1623.71 976.68 L1625.69 975.71 L1627.46 976.72 L1627.91 975.04 L1630.35 975.49 L1632.04 974.29 L1633.37 975.33 L1634.56 973.72 L1636.37 974.77 L1638.4 973.45 L1639.1 973.73 L1640.38 973.11 L1641.96 970.82 L1643.44 970.36 L1645.47 969.44 L1647.48 969.36 L1648.88 969.3 L1650.83 968.35 L1652.38 967.27 L1654.35 965.55 L1655.13 965.04 L1657.85 962.64 L1659.07 962.13 L1660.81 960.27 L1660.78 959.54 L1663.31 957.86 L1664.33 957.44 L1665.61 953.63 L1667.5 951.9 L1667.85 950.51 L1669.69 948.75 L1670.25 946.68 L1673.01 942.83 L1673.41 941.27 L1674.8 939.31 L1676.8 935.5 L1677.16 933.63 L1678.51 929.06 L1679.15 926.29 L1681.61 923.95 L1682.37 920.11 L1683.99 914.12 L1684.13 910.76 L1685.13 904.97 L1687.47 901.81 L1687.77 896.18 L1689.89 893.28 L1691.31 887.64 L1692.65 883.59 L1694.2 880.1 L1694.82 875.77 L1696.17 872.06 L1697.54 866.17 L1700.32 861.59 L1701.07 858.79 L1701.97 853.31 L1704.55 851.25 L1705.75 846.33 L1708.33 843.56 L1709.32 837.9 L1711.03 834.42 L1712.05 830.2 L1713.41 826.59 L1715.1 824.41 L1716.72 819.95 L1718.3 817.11 L1720.19 812.58 L1722.42 809.61 L1724.13 805.52 L1724.96 802.73 L1727.02 800.72 L1727.54 796.92 L1729.07 794.89 L1730.8 790.18 L1732 787.65 L1733.46 786.01 L1734.56 782.94 L1735.65 779.39 L1738.55 776.3 L1738.21 774.78 L1739.61 771.54 L1741.31 769.5 L1743.03 767.99 L1744.09 764.6 L1745.52 762.14 L1746.25 759.94 L1747.27 757.93 L1748.74 754.83 L1749.15 753.9 L1750.89 751.93 L1752.17 749.91 L1753.19 747.84 L1754.32 744.88 L1756.57 745.1 L1756.96 743.23 L1758.27 741.06 L1760.13 739.44 L1761.24 737.46 L1762.98 735.4 L1764.95 733.62 L1766.76 732.24 L1767.07 731.61 L1768.75 731.41 L1770.61 729.77 L1771.82 727.03 L1773.53 726.33 L1776.54 726.15 L1777.38 724.38 L1779.79 723.06 L1780.1 723.62 L1782.99 721.58 L1784.35 720.94 L1786.14 718.85 L1786.85 718.69 L1788.41 718.56 L1790.52 717.88 L1792.39 716.53 L1793.54 716.23 L1794.47 716.49 L1796.52 715.67 L1797.14 715.01 L1799.94 714.61 L1800.79 713.01 L1801.19 713.63 L1803.57 712.57 L1803.62 712.46 L1805.45 712.21 L1806.85 712.02 L1807.62 709.93 L1810.08 709.87 L1811.27 710.45 L1811.12 708.45 L1813.17 708.91 L1813.94 707.87 L1815.62 708.01 L1816.83 708.9 L1818.5 707.18 L1818.7 706.37 L1820.15 705.7 L1821.73 706.34 L1823.14 706.28 L1823.72 705.65 L1825.44 705.75 L1826.25 706.09 L1828.4 706.21 L1829.94 703.98 L1831.86 705.38 L1833.74 704.97 L1834.86 705.12 L1835.32 703.32 L1836.91 704.19 L1839.6 704.34 L1840.95 703.33 L1842.95 704.4 L1844.56 703.65 L1845.52 703.58 L1847.66 703.25 L1848.22 703.02 L1850.94 702.78 L1852.17 703.6 L1853.45 701.92 L1855.5 703.33 L1857.79 701.98 L1859.27 703.13 L1860.53 701.9 L1861.5 701.03 L1862.28 701.8 L1863.89 701.4 L1865.29 702.57 L1867.15 701.72 L1868 701.8 L1869.5 700.68 L1871.23 701.17 L1872.44 701.68 L1873.23 700.64 L1875.53 700.63 L1876.18 700.32 L1876.76 700.12 L1877.97 701.43 L1879.92 700.56 L1880.79 699.54 L1881.93 701.16 L1883.3 700 L1884.38 699.55 L1886.28 701.07 L1886.39 699.47 L1888.12 701 L1890.2 699.44 L1890.46 701.15 L1892.12 701.26 L1894.46 701.04 L1895.43 700.87 L1896.29 699.56 L1898.76 700.38 L1899.65 700.62 L1901.77 700.31 L1903.04 701.12 L1903.93 699.85" stroke="#95999c" stroke-width="3.1" opacity="0.9"/>
<path d="M1482.01 983.86 L1484.94 983.16 L1486.39 984.47 L1486.65 984.11 L1488.24 983.13 L1490.57 983 L1492.4 983.79 L1494.12 982.63 L1495.95 983.47 L1497.5 983.05 L1498.05 984.15 L1498.97 984.25 L1500.86 983.77 L1503.27 984.43 L1503.63 983.08 L1505.35 982.91 L1507.04 983.88 L1508.11 983.22 L1510.07 982.69 L1511.72 983.54 L1513.48 983.78 L1514.98 984.65 L1516.62 984.36 L1516.83 983.01 L1519.34 983.19 L1519.88 984.06 L1521.66 983.76 L1522.24 984.53 L1523.6 983.13 L1525.58 982.8 L1526.72 984.44 L1528.14 983.55 L1528.83 983.37 L1530.85 982.58 L1532.01 982.85 L1533.28 983.5 L1534.41 982.94 L1535.33 983.35 L1537.1 983.32 L1538.56 983.36 L1539.65 983.49 L1540.93 982.87 L1542.32 982.84 L1542.92 982.41 L1545.23 983.96 L1545.27 983.37 L1546.71 982.99 L1547.86 983.38 L1550.3 983.58 L1550.53 981.64 L1552.74 981.6 L1553.08 981.43 L1555.1 983.44 L1556.93 981.54 L1557.28 982.37 L1559.99 983.08 L1559.96 981.74 L1561.35 982.32 L1564.12 983.23 L1564.85 982.8 L1566.66 982.64 L1567.26 981.68 L1568.98 983.04 L1570.91 981.53 L1571.58 982.92 L1574.03 981.89 L1574.78 981.73 L1577.12 981.81 L1578.44 981.7 L1579.27 981.24 L1580.65 980.98 L1583.22 981.99 L1583.8 981.09 L1586.62 982.14 L1588.44 980.41 L1589.36 980.98 L1590.16 980.74 L1592.49 980.38 L1593.41 980.02 L1594.67 980.82 L1596.21 979.99 L1599.04 980.23 L1600.06 980.33 L1602.34 980.92 L1602.71 979.91 L1605.37 981.17 L1605.4 979.18 L1607.66 980.74 L1608.5 981.16 L1609.96 980.53 L1612.28 979.95 L1613.91 980.34 L1614.85 979.44 L1616.63 979.7 L1617.92 979.23 L1618.64 978.08 L1620.12 977.86 L1621.53 978.11 L1623.91 977.63 L1624.84 977.73 L1625.59 977.43 L1627 978.25 L1629.06 976.43 L1630.59 978.21 L1632.06 975.74 L1632.7 976.46 L1634.29 977.18 L1635.95 975.92 L1637.39 975.28 L1637.89 975.73 L1639.36 973.53 L1641.11 974.5 L1642.06 973.29 L1642.69 973.02 L1644.42 972.17 L1645.55 972.55 L1646.81 970.22 L1648.31 971.03 L1649.53 970.04 L1651.12 968.17 L1652.83 966.25 L1654.23 965.82 L1654.29 965.67 L1656.33 963.8 L1657.8 963.03 L1659.29 961.54 L1660.62 960.83 L1661.93 958.42 L1662.44 957.78 L1663.86 954.3 L1665.76 954.3 L1666.85 950.34 L1668.88 948.31 L1670.74 946.34 L1671.64 944.52 L1673.33 942 L1673.57 939.04 L1675.47 937.17 L1677.73 932.77 L1678.11 929.83 L1679.9 925.93 L1681.4 923.96 L1683.38 920.6 L1684.52 915.63 L1685.85 910.13 L1687.9 906.01 L1689.48 902.67 L1690.56 896.34 L1692.57 892.78 L1694.81 887.47 L1695.16 883.66 L1697.86 879.13 L1698.68 876.41 L1700.95 870.75 L1702.1 866.42 L1702.72 863.95 L1705.39 859.11 L1707.14 855.7 L1708.06 851.73 L1708.8 846.85 L1711.6 844.17 L1712.99 838.92 L1713.36 836.01 L1715.13 830.67 L1716.34 828.84 L1718.56 825.25 L1720.27 820.53 L1721.59 817.06 L1722.36 814.19 L1724.37 809.7 L1724.99 806.24 L1727.01 804.25 L1729.29 800.75 L1729.32 797.92 L1731.31 793.75 L1731.98 790.97 L1734.37 789.02 L1735.74 784.9 L1736.79 783.34 L1737.75 779.36 L1738.99 777.02 L1740.79 774.34 L1741.24 772.63 L1742.4 769.38 L1743.51 768.18 L1746.03 765.87 L1747.38 761.71 L1748.73 760.7 L1750.23 757.33 L1750.86 756.73 L1752.2 754.47 L1753.8 751 L1753.93 749.87 L1756.56 747.97 L1757.79 747 L1758.06 745.16 L1759.74 742.01 L1761.56 741.24 L1761.76 740.48 L1763.06 738.77 L1764.73 737.41 L1765.94 734.82 L1768.42 734.56 L1769.6 732.41 L1770.28 730.73 L1772.34 729.87 L1773.9 728.77 L1775.26 727.13 L1776.98 726.19 L1777.1 725.96 L1778.99 723.35 L1781.01 724.11 L1782.51 722.6 L1782.88 720.83 L1784.68 719.25 L1786.87 719.12 L1787.77 719.08 L1789.15 718.14 L1790.96 716.25 L1792.33 717.41 L1793.66 714.88 L1795.31 716.29 L1797.04 715.48 L1798.28 713.22 L1800.42 714.44 L1802.49 713.28 L1803.53 712.79 L1804.94 713.05 L1806.44 712.37 L1809.11 712.45 L1809.51 710.19 L1810.95 710.41 L1812.32 710.16 L1814.58 710.91 L1815.41 708.53 L1816.86 709.6 L1819.62 709.17 L1821.28 707.91 L1821.82 708.13 L1823.01 708.57 L1825.62 708.29 L1826.56 707.31 L1828.26 706.1 L1828.47 706.64 L1830.2 706.84 L1831.56 705.1 L1833.82 706.48 L1834.51 706.42 L1836.54 705.03 L1837.99 705.32 L1839.56 705.09 L1840.48 705.11 L1842.19 704.09 L1842.35 704.39 L1844.01 704.02 L1845.45 703.59 L1845.99 703.78 L1847.66 704.75 L1849.79 703.86 L1850.74 702.66 L1851.24 704.06 L1852.63 703.22 L1854.99 703.49 L1856.1 703 L1857.41 703.78 L1857.55 702.86 L1860.33 703.28 L1861.25 702.81 L1862.4 701.7 L1862.8 702.32 L1864.41 703 L1865.69 701.67 L1866.98 701.12 L1868.33 702.67 L1869.91 700.98 L1871.48 700.82 L1873.33 701.21 L1874.48 701.91 L1874.8 700.4 L1876.63 700.62 L1877.92 700.69 L1879.68 701.6 L1881.17 701.52 L1883.36 701.43 L1884.91 700.45 L1886.25 700.23 L1886.41 699.87 L1888.1 700.29 L1889.41 701.13 L1891.46 701.64 L1893.37 701.49 L1895.34 700.81 L1895.56 700.83 L1898.44 699.8 L1899.09 701.49 L1900.6 701.73 L1902.25 700.55 L1903.4 701.59 L1905.08 699.9 L1906.29 700.94" stroke="#8f9396" stroke-width="3.1" opacity="0.9"/>
<path d="M1482.47 984.57 L1484.51 984.92 L1485.45 984.99 L1486.95 983.95 L1488.69 984.76 L1491.02 983.99 L1490.98 984.1 L1493.28 984.14 L1494.8 984.39 L1496.6 983.72 L1497.47 983.7 L1499.14 984.08 L1500.55 984.11 L1502.85 983.9 L1504.04 985.25 L1505.21 984.61 L1506.88 983.7 L1509.69 984.57 L1510.89 984.88 L1511.86 984.58 L1513.65 983.19 L1515.3 983.28 L1516.07 983.62 L1518.95 983.64 L1519.36 985.12 L1520.81 984.05 L1523.54 983.39 L1525.28 984.37 L1525.34 983.81 L1528.09 983.4 L1528.94 984.31 L1529.73 983.26 L1531.99 984.55 L1533.44 984.39 L1534.89 984.29 L1535.92 983.09 L1537.81 984.04 L1537.8 984.23 L1539.54 982.95 L1541.05 982.9 L1542.36 983.56 L1543.16 983.46 L1544.7 984.61 L1546.35 983.32 L1547.35 983.35 L1548.81 983.52 L1549.44 982.8 L1550.97 983.86 L1552.58 984.15 L1553.46 983.34 L1555.06 983.11 L1555.95 984.09 L1558.06 983.94 L1559.01 984.09 L1560.86 983.82 L1561.05 982.07 L1562.61 983.46 L1564.52 981.77 L1565.5 983.25 L1566.69 983.69 L1567.45 983.7 L1570.14 981.6 L1571.58 983.38 L1572.46 982.47 L1573.48 981.64 L1574.64 983.38 L1576.74 983.47 L1578.75 981.81 L1579.65 982.64 L1581.46 981.56 L1582.38 981.98 L1584.43 982.87 L1585.78 983.06 L1587.3 981.12 L1589.96 981.81 L1590.62 982.62 L1592.72 981.53 L1594.78 981.49 L1594.8 981.59 L1596.43 982.06 L1599.02 982.54 L1599.8 980.45 L1601.65 982.28 L1603.53 982.03 L1605.7 981.26 L1606.18 980.47 L1608.76 980.1 L1609.14 980.26 L1611.13 980.24 L1611.99 980.14 L1614.05 979.69 L1615.56 981.41 L1617.52 980.42 L1618.65 980.75 L1619.09 980.59 L1621.39 980.01 L1622.82 979.27 L1624.06 978.19 L1625.19 978.54 L1626.25 979.2 L1627.87 977.84 L1629.11 978.36 L1630.6 977.79 L1631.26 978.43 L1632.8 977.88 L1634.14 976.73 L1635.45 975.83 L1635.96 975.71 L1637.84 975.53 L1639.46 975.23 L1639.71 975.54 L1640.89 974.19 L1643.21 973.3 L1643.98 972.83 L1644.44 973.6 L1645.9 973.02 L1648.07 972.1 L1648.6 971.44 L1650.82 970.25 L1652.54 967.85 L1652.45 968.58 L1654.49 967.25 L1656.53 964.88 L1656.99 964.3 L1659.6 964.18 L1660.09 962.04 L1662.73 960.38 L1663.42 958.7 L1664.94 957.66 L1666.71 955.46 L1667.99 954.87 L1670.27 951.71 L1670.81 948.71 L1672.22 948.2 L1675.14 945.69 L1675.94 941.53 L1677.68 939.91 L1679.47 936.73 L1681.43 933.34 L1682.92 931.36 L1683.09 927 L1685.12 924.45 L1687.78 920.44 L1688.58 917.01 L1689.61 911.39 L1691.62 906.61 L1693.16 901.36 L1694.03 896.63 L1696.95 893.36 L1697.65 889.81 L1698.32 885.03 L1700.17 879.83 L1702.26 877.31 L1704.06 871.34 L1704.08 868.78 L1706.66 864.28 L1706.86 858.61 L1709.05 854.91 L1709.79 851.99 L1710.92 847.04 L1712.49 842.63 L1713.73 839.24 L1714.75 836.27 L1716.19 833.39 L1718.37 829.08 L1719.57 825.43 L1719.42 820.93 L1720.98 817.37 L1722.26 813.5 L1724.27 811.19 L1725.98 806.83 L1726.72 804.83 L1727.74 801.36 L1729.87 797.73 L1729.69 794.46 L1732.23 791.33 L1732.89 788.21 L1733.72 785.68 L1735.92 784.69 L1736.38 780.76 L1738.12 777.59 L1739.4 775.1 L1741.26 772.83 L1743.25 770.29 L1743.35 767.6 L1744.69 765.37 L1747.02 762.6 L1748.86 760.68 L1750.84 759.4 L1751.61 756.11 L1753.17 754.02 L1754.21 751.48 L1755.67 750.11 L1758.53 747.98 L1759.24 747.67 L1761.15 745.91 L1762.46 743.48 L1764.67 741.17 L1766.35 741.2 L1767.84 739.16 L1768.16 737.2 L1770.68 735.36 L1772.49 733.64 L1774.24 733.67 L1775.59 732.39 L1776.72 729.62 L1777.95 728.83 L1779.97 727.88 L1780.9 725.85 L1782.59 725.25 L1784.27 723.87 L1785.86 723.05 L1787.64 723.59 L1788.45 722.18 L1790.48 721.74 L1791.5 720.31 L1792.42 718.71 L1794.22 717.81 L1795.67 718.88 L1796.67 717.89 L1798.59 716.41 L1799.35 715.22 L1799.61 715.61 L1802.09 715.7 L1803.57 714.97 L1804.62 714.79 L1805.01 714.27 L1806.49 713.18 L1808.53 713.34 L1809.01 711.81 L1810.78 711.22 L1811.39 711.06 L1812.58 710.24 L1813.61 710.15 L1815.87 710.77 L1816.05 709.63 L1818.5 709.28 L1818.66 708.67 L1820.54 709 L1822.7 708.74 L1823.61 708.07 L1825.37 707.23 L1826.55 707.61 L1827.75 707.88 L1828.46 706.63 L1830.61 705.49 L1832.15 705.3 L1833.1 705.86 L1835.35 706.45 L1837.19 704.95 L1838.6 705.35 L1838.98 706.19 L1840.8 705.09 L1843.04 704.71 L1844.94 705.27 L1845.54 704.4 L1847.9 705.08 L1849.32 704.38 L1851.47 703.8 L1852.69 703.01 L1854.48 703.62 L1855.59 703.68 L1857.66 703.73 L1859.19 704.4 L1859.62 704.14 L1861.39 704.19 L1862.65 701.99 L1864.58 703.61 L1866.19 703.13 L1868.52 703.94 L1869.53 701.7 L1870.64 702.77 L1871.48 702.14 L1873.46 702.07 L1874.62 702.68 L1876.8 701.87 L1878.43 702.3 L1879.46 701.94 L1880.8 702.88 L1882.47 701.78 L1882.3 702.54 L1884.27 701.04 L1884.85 701.24 L1887.16 700.77 L1887.22 700.71 L1889.69 700.77 L1890.68 702.54 L1891.88 702.48 L1892.23 701.84 L1894.55 702.25 L1895.51 701.93 L1896.24 702.07 L1898.81 700.95 L1899.78 700.14 L1901.08 701.94 L1902.55 700.47 L1903.13 702.24 L1904.97 701.48 L1906.43 701.02 L1906.7 700.76" stroke="#95999c" stroke-width="3.1" opacity="0.9"/>
<path d="M1487.51 984.52 L1489.78 983.96 L1491.57 984.6 L1493.17 984.77 L1493.77 984.34 L1494.5 985.19 L1496.79 984.46 L1497.53 983.61 L1498.92 984.03 L1500.56 985.45 L1501.88 985.2 L1502.47 985.35 L1503.13 984.26 L1503.83 984.53 L1505.36 985.02 L1507.1 984.82 L1508.79 984.68 L1509.92 985.34 L1511.35 984 L1511.21 983.66 L1513.31 985.05 L1514.03 984.77 L1516 985.62 L1516.9 984.6 L1518.55 985.66 L1519.85 984.49 L1521.97 984.51 L1523.51 983.97 L1525.15 985.39 L1526.66 983.9 L1529.69 984.52 L1529.8 984.46 L1532.56 985.01 L1533.36 984.56 L1535.35 984.36 L1537.89 984.2 L1538.42 983.15 L1539.64 984.48 L1542.7 985.02 L1543.04 983.67 L1544.51 984.23 L1545.97 985.21 L1547.05 983.33 L1548.37 985.1 L1549.68 985.04 L1551.07 984.8 L1551.57 984.68 L1553.07 982.76 L1554.2 984.92 L1555.8 983.41 L1556.17 982.86 L1558.15 983.24 L1559.62 983.48 L1560.96 982.7 L1561.43 982.68 L1562.12 984.55 L1565.02 984.03 L1565.44 982.6 L1567.54 984.25 L1567.98 983.26 L1570.16 983.99 L1570.92 984.23 L1572.86 984.09 L1575.34 983.67 L1576.6 982.08 L1578.54 983.78 L1580.69 982.86 L1581.54 983.51 L1583.47 982.19 L1585.68 982.21 L1587.09 982.67 L1587.52 981.59 L1590.38 983.33 L1592.24 981.98 L1593.64 982.6 L1594.15 982.8 L1596.09 982.88 L1597.61 983.02 L1598.09 982.06 L1600.28 982 L1601.9 983.05 L1603.06 981.55 L1604.29 981.43 L1604.7 982.79 L1606.12 982.52 L1607.68 981.49 L1607.33 982.22 L1608.62 980.52 L1611.19 981.24 L1611.31 981.49 L1612.63 981.18 L1614.68 981.11 L1614.99 980.51 L1616.05 981.23 L1618.91 981.23 L1619.75 980.69 L1621.39 979.91 L1622.96 979.82 L1624.46 978.47 L1626.26 979.11 L1628.09 978.37 L1628.69 977.92 L1631.32 978.76 L1631.89 979.2 L1634.21 978.05 L1636.75 978.69 L1637.08 977.49 L1638.65 976.52 L1641.23 977.08 L1642.24 976.51 L1643.22 974.51 L1645.55 976.05 L1647.64 975.45 L1648.45 973.28 L1649.6 972.35 L1651.5 971.53 L1652.43 973.02 L1653.88 970.15 L1654.22 969.76 L1655.08 970.48 L1656.91 968.87 L1657.95 967.66 L1659.31 966.96 L1660.46 966.13 L1662.04 964.41 L1663.38 962.47 L1664.37 960.34 L1665.76 959.18 L1666.38 958.42 L1666.96 956.3 L1668.4 954.2 L1670.84 953.02 L1671.82 951.33 L1673.46 946.97 L1675.22 944.97 L1677.6 943.67 L1678.83 940.66 L1680.35 937.77 L1681.83 934.81 L1683.29 932.17 L1686.04 927.7 L1687.34 923.62 L1689.06 921.59 L1689.81 916.73 L1691.46 911.8 L1693.86 907.14 L1695.41 902.72 L1695.97 897.8 L1698.46 894.66 L1699.71 888.7 L1701.02 885.21 L1702.93 881.33 L1703.64 876.5 L1704.11 872.15 L1705.91 868.53 L1707.46 863.07 L1708.6 860.55 L1709.66 854.84 L1709.86 851.51 L1711.87 847.5 L1712.3 844.62 L1714.44 841.52 L1715.39 835.61 L1715.74 832.37 L1716.87 828.16 L1718.65 824.42 L1720.62 821.91 L1722.47 817.39 L1723.59 815.09 L1725.19 810.72 L1727.02 808.93 L1727.89 804.96 L1729.61 802.06 L1730.31 799.02 L1733.04 794.41 L1733.95 792.13 L1735.43 789.59 L1737.98 785.95 L1739.53 784.52 L1740.69 781.58 L1742.32 779.88 L1744.56 777.3 L1745.54 772.66 L1747.69 770.42 L1748.7 769.55 L1750.65 766.83 L1752.48 764.3 L1753.36 762.76 L1753.68 760.25 L1755.48 757.52 L1757.61 756.04 L1758.29 753.38 L1760.03 751.9 L1760.46 748.31 L1761.41 747.35 L1762.07 745.65 L1763.98 744.21 L1764.89 741.79 L1766.7 741.8 L1767.14 738.33 L1768.14 737.76 L1770.3 735.32 L1772.05 733.81 L1772.26 733.86 L1774.16 733.03 L1775.88 731.83 L1777.27 728.58 L1778.49 729.6 L1779.77 728.34 L1782.18 726.52 L1784.12 725.54 L1784.77 724.3 L1787.62 722.53 L1788.99 723.28 L1790.29 721.87 L1791.73 721 L1794.2 719.63 L1795.58 719.13 L1796.57 719.14 L1799.33 718.62 L1799.91 717.71 L1801.36 716.3 L1803.34 715.66 L1804.1 714.35 L1805.68 715.62 L1807.2 714.28 L1807.81 713.46 L1809.27 714.53 L1810.8 712.56 L1811.79 712.97 L1812.06 712.75 L1813.37 711.37 L1815.1 710.41 L1815.54 710.01 L1817.19 711.14 L1817.84 710.8 L1820.4 708.88 L1820.85 709.79 L1821.95 708.68 L1824.41 708.33 L1824.73 708.53 L1826.74 708.6 L1828.42 707.46 L1830.44 706.9 L1830.78 706.37 L1833.67 706.29 L1834.09 705.97 L1835.63 706.5 L1838.77 706.89 L1839.77 705.12 L1840.98 706.09 L1843.63 706.75 L1845.16 705.83 L1846.24 704.65 L1848.57 705.29 L1850.33 705.25 L1851.89 704.8 L1852.19 704.82 L1853.24 705.61 L1854.81 703.64 L1857.21 705.19 L1858.61 703.19 L1859.23 703.16 L1860.95 703.38 L1860.7 703.06 L1862.93 703.52 L1863.71 704.73 L1864.23 703.6 L1865.85 704.56 L1867.04 703.37 L1868.97 704.26 L1869.71 703.48 L1870.11 703.94 L1872.69 701.97 L1873.31 703.98 L1874.09 703.11 L1875.78 702.74 L1877.21 702.32 L1878.67 702.39 L1881.36 702.06 L1882.7 703.03 L1884.86 702.74 L1885.74 702.93 L1888 702.45 L1888.67 703.27 L1891.62 702.98 L1892.63 701.97 L1894.43 701.62 L1895.63 702.82 L1897.88 700.84 L1898.83 702.99 L1900.58 701.52 L1901.44 701.68 L1903.94 701.87 L1905.55 701.46 L1906.33 702.28 L1907.11 701.57 L1909.48 701.09 L1911.06 700.82 L1912.19 701.65" stroke="#a0a5a8" stroke-width="3.1" opacity="0.9"/>
<path d="M1488.04 984.46 L1488.37 984.43 L1490.49 985.53 L1492.36 984.31 L1492.77 986.08 L1494.76 984.87 L1496.37 985.22 L1498.96 985.42 L1500.51 985.85 L1501.82 985.42 L1502.87 985.84 L1504.22 986.39 L1506.4 984.79 L1508.12 984.78 L1509.86 984.41 L1511.31 984.4 L1512.63 985.38 L1513.12 986.05 L1515.92 984.66 L1517.14 984.92 L1517.54 984.41 L1519.45 984.29 L1520.78 984.57 L1523.25 986.32 L1523.2 985.89 L1524.33 984.43 L1525.73 984.31 L1528.06 986.2 L1529.06 986.04 L1530.57 985.96 L1531 984.74 L1533.31 985.8 L1533.53 984.28 L1535 984.09 L1536.12 984.92 L1538.23 985.8 L1538.87 984.38 L1540.44 984.44 L1542.21 985.25 L1542.3 983.62 L1543.89 984.12 L1545.78 983.88 L1547.43 983.55 L1547.96 984.19 L1549.83 984.52 L1550.85 983.5 L1551.28 985.17 L1553.79 983.41 L1555.13 984.92 L1555.52 984.99 L1556.65 984.44 L1558.2 984.34 L1560.59 984.19 L1561.29 984.55 L1563.32 983.34 L1565.16 985.19 L1566.28 984.52 L1567.66 983.07 L1568.85 984.83 L1571.64 984.51 L1572.43 983.18 L1573.34 983.27 L1574.92 982.9 L1577.14 983.5 L1579.3 984.69 L1579.92 983.95 L1582.31 983.32 L1583.82 984.26 L1585.59 982.35 L1587.55 983.26 L1588.86 983.39 L1590.49 982.23 L1591.04 984.13 L1593.03 984.17 L1594.59 982.94 L1595.89 983.17 L1597.75 984.04 L1599.57 981.79 L1600.11 982.5 L1601.33 981.59 L1603.86 981.74 L1604.92 981.54 L1606.66 983.32 L1606.84 982 L1608.7 982.01 L1610.2 982.07 L1611.94 981.67 L1612.19 981.87 L1614.48 982.92 L1616.01 980.99 L1616.56 981.59 L1617.31 981.87 L1619.58 981.43 L1620.55 981.09 L1621.11 981.6 L1622.38 980.23 L1624.23 979.51 L1625.64 981.23 L1627.01 980.41 L1627.77 980.76 L1629.1 980.13 L1630.53 978.47 L1631.11 978.34 L1632.7 978.84 L1634.59 979.6 L1635.94 978.4 L1636.52 978.63 L1638.06 977.59 L1640.5 978.12 L1640.33 976.24 L1641.97 975.09 L1644.58 975.4 L1645.76 974.92 L1647.41 974.79 L1648.19 974.64 L1650.53 972.34 L1651.41 973.42 L1652.73 972.42 L1655.01 971.93 L1655.44 969.38 L1658.21 968.62 L1659.11 968.5 L1661.02 966.62 L1662.49 964.64 L1663.83 965.15 L1666.23 962.81 L1666.6 960.63 L1669.09 960.4 L1670.74 959.22 L1671.32 955.77 L1672.75 955.8 L1675.01 952.78 L1677.2 951.62 L1678.63 947.66 L1680.1 945.33 L1681.24 943.15 L1683.09 940.16 L1684.42 939.11 L1685.54 934.01 L1686.34 932.06 L1688.88 929.73 L1690.59 925.86 L1691.53 920.65 L1693.13 917.68 L1694.23 912.09 L1694.78 908.66 L1696.54 903.92 L1698.49 899.2 L1699.15 893.98 L1700.88 890.03 L1702.28 886.81 L1702.54 882.62 L1704.1 877.73 L1706.05 872.32 L1706.45 868.39 L1708.62 864.83 L1708.45 861.12 L1710.16 855.54 L1712.05 853.39 L1712.61 849.12 L1713.4 845.44 L1715.04 841.14 L1717.33 836.58 L1718.34 833.65 L1718.78 828.6 L1721.16 825.24 L1721.53 822.31 L1723.81 818.54 L1725.13 815.28 L1726.9 812.75 L1728.45 808.81 L1728.39 804.34 L1731.18 801.01 L1732.37 799.28 L1733.91 797.07 L1734.47 793.84 L1737.32 791.11 L1738.08 787.94 L1740.22 783.94 L1741.14 782.8 L1742.36 780.27 L1744.84 776.98 L1745.9 773.45 L1747.23 770.79 L1749.41 768.69 L1751.05 767.41 L1751.78 765.61 L1754.24 761.66 L1756.21 760.78 L1757.32 757.12 L1757.94 756.61 L1759.57 754.02 L1762.25 752.13 L1762.79 749.23 L1765.04 748.29 L1766.79 746.36 L1767.47 744.2 L1769.81 742.4 L1770.06 741.79 L1771.44 739.49 L1773.88 738.12 L1774.43 736.47 L1776.04 734.82 L1777.6 734.92 L1778.13 732.21 L1780.07 732.37 L1781.05 730.74 L1782.33 728.37 L1783.35 727.86 L1785.76 726.32 L1786.82 725.14 L1788.08 725.54 L1788.68 723.17 L1790.69 722.29 L1791 722.3 L1791.95 720.23 L1793.96 720.91 L1795.34 719.22 L1796.66 717.98 L1797.52 718.48 L1798.36 717.87 L1800.1 716.09 L1801.55 717.09 L1802.32 715.24 L1803.53 716.41 L1806.47 715.7 L1806.97 714.72 L1808.36 713.17 L1810.01 713.9 L1811.22 712.85 L1813.45 712.38 L1815 711.86 L1816.39 711.82 L1817.54 710.62 L1819.35 710.75 L1819.74 710.9 L1821.41 709.37 L1823.33 709.45 L1825.12 709.6 L1826.37 709.91 L1828.65 709.59 L1830.13 708.9 L1831.95 708.76 L1832.13 708.6 L1834.31 707.12 L1835.95 707.32 L1838.52 708.18 L1838.48 706.46 L1841.38 707.79 L1842.95 707.83 L1844.17 707.46 L1846.04 706.77 L1846.81 707.18 L1848.7 705.49 L1849.32 706.19 L1851.29 705.34 L1853.57 705.05 L1853.6 705.31 L1855.97 704.75 L1856.43 705.35 L1859.1 704.47 L1860.43 705.08 L1861.88 704.27 L1861.77 703.54 L1863.28 705.3 L1865.83 703.67 L1866.49 704.24 L1867.82 703.08 L1868.77 704.66 L1870.45 703.66 L1871.31 704.31 L1872.14 703.77 L1874.2 703.98 L1875.33 703.43 L1875.86 702.61 L1877.34 703.6 L1879.48 702.63 L1879.74 703.62 L1881.05 702.39 L1882.18 703.94 L1884.14 702.86 L1884.85 701.95 L1886.27 703.79 L1887.93 702.22 L1889.81 703.71 L1890.51 702.45 L1892.29 703.26 L1894.39 702.47 L1895.71 701.48 L1895.93 703.04 L1897.16 701.87 L1899.53 701.57 L1901.72 701.36 L1902.58 702.39 L1903.64 703.4 L1904.82 701.43 L1907.03 702.72 L1908.69 701.63 L1909.93 701.8 L1912.61 702.61" stroke="#b0b5b8" stroke-width="3.1" opacity="0.9"/>
<path d="M1488.3 985.9 L1489.44 984.88 L1491.93 986.55 L1493.16 985.01 L1494.35 986.14 L1495.45 985.82 L1497.47 984.79 L1499.03 985.18 L1501.64 986.01 L1501.95 986.65 L1504 986.88 L1506.44 986.79 L1506.81 985.21 L1509.33 984.88 L1510.5 986.81 L1512.09 984.84 L1513.82 986.01 L1515.01 986.88 L1516.49 985.62 L1518.57 985.55 L1519.39 985.53 L1521.07 985.46 L1523.22 984.72 L1524.57 984.88 L1525.84 986.6 L1526.49 985.48 L1528.5 984.74 L1529.17 986.24 L1530.4 986.27 L1532.94 986.31 L1532.99 985.37 L1535.44 986.28 L1535.55 985.78 L1537.58 985.32 L1538.56 985.74 L1539.6 985.74 L1541.09 985.13 L1542.57 986.49 L1544.35 985.1 L1545.07 985.29 L1546.36 984.86 L1547.61 984.9 L1548.09 986.3 L1549.51 984.39 L1550.99 984.71 L1551.83 984.36 L1554.42 985.72 L1554.68 983.89 L1556.93 985.35 L1557.28 985.8 L1559.8 984 L1560.25 984.12 L1561.39 985.61 L1563.5 985.43 L1564.31 985.14 L1566.86 983.67 L1568.37 983.95 L1569.83 984.73 L1570.97 983.41 L1573.08 984.62 L1574.96 983.69 L1576.16 983.48 L1577.71 983.89 L1579.52 983.24 L1580.98 983.48 L1582.98 983.57 L1584.54 983.49 L1585.72 983.56 L1587.31 984.96 L1588.71 983.75 L1589.62 982.87 L1591.96 983.05 L1593.19 984.83 L1594.94 983.78 L1596.86 983.73 L1597.28 983.3 L1599.73 982.7 L1600.36 982.29 L1602.3 983.8 L1604.19 983.44 L1604.3 983.78 L1606.53 982.36 L1608.17 983.77 L1609.26 983.96 L1609.63 982 L1611.82 981.59 L1612.19 982.13 L1614 982.41 L1615.45 982.43 L1617.33 983.18 L1617.18 982.97 L1618.9 982.71 L1619.97 981.93 L1622.02 980.73 L1623.38 981.94 L1624.55 982.37 L1624.63 981.11 L1626.17 981.91 L1627.69 981.02 L1628.47 980.54 L1630.55 980.64 L1632.19 979.11 L1632.84 979.75 L1633.97 979.35 L1636.24 979.92 L1637.98 978.14 L1638.42 979.23 L1640.08 978.11 L1642.27 978.26 L1642.65 977.81 L1644.05 976.86 L1646.38 976.86 L1647.63 975.98 L1648.97 974.43 L1651.06 974.37 L1652.53 973.01 L1653.43 973.87 L1655.83 972.21 L1656.39 970.33 L1658.62 969.57 L1661 968.94 L1661.99 969.23 L1663.16 967.23 L1664.84 966.43 L1665.89 966.06 L1668.76 962.87 L1670.12 962.7 L1671.68 961.49 L1673.29 959.94 L1675.01 957.64 L1676.07 956.52 L1677.28 953.98 L1678.99 950.9 L1680.81 948.65 L1681.52 947.06 L1683.84 944.48 L1685.02 941.53 L1686.1 937.63 L1687.39 935.74 L1688.11 932.54 L1688.91 929.69 L1691.15 925.05 L1691.74 923.03 L1693.61 917.1 L1694.2 913.11 L1696.25 909.38 L1696.97 903.83 L1698.85 898.84 L1699.59 894.96 L1701.25 891.09 L1702.72 887.82 L1702.69 882.36 L1703.75 877.39 L1705.25 874.92 L1707.77 869.4 L1707.73 865.73 L1710.07 861 L1711.26 857.48 L1712.92 853.91 L1714.25 849.47 L1715.07 844.88 L1716.42 841.11 L1717.67 837.99 L1718.76 834.34 L1721.66 830.78 L1722.93 826.44 L1724.27 823.55 L1725.89 818.76 L1726.47 815.63 L1728.77 812.36 L1730.55 809.48 L1731.88 806.67 L1733.39 801.93 L1734.52 798.91 L1736.93 797.46 L1738.43 794.47 L1739.17 791.96 L1740.87 788.9 L1742.42 786.25 L1745.08 781.51 L1747.04 780.8 L1748.39 777.17 L1750.1 774.48 L1750.89 771.69 L1752.13 769.51 L1754.21 768.13 L1755.27 764.5 L1756.91 763.39 L1757.57 759.84 L1759.98 758.27 L1760.89 756.88 L1762.08 754.07 L1763.56 752.01 L1765.35 750.67 L1767.03 749.1 L1767.33 747.64 L1768.99 744.32 L1769.68 743.74 L1772.26 741.17 L1773.47 739.19 L1773.95 737.82 L1774.56 737.32 L1776.01 734.93 L1777.88 734.38 L1778.2 732.97 L1780.49 732.31 L1781.48 731.57 L1782.92 730.48 L1784.59 729.63 L1784.62 727.7 L1786.02 725.54 L1788.13 724.49 L1788.8 724.1 L1790.88 723.1 L1791.85 721.97 L1793.37 720.9 L1794.09 719.83 L1795.3 719.49 L1796.83 720.16 L1799.15 718.7 L1801.06 717.5 L1802.28 717.68 L1803.2 717.17 L1805.05 715.68 L1807.09 716.29 L1807.81 714.77 L1810.13 714.91 L1812.05 715.71 L1813.56 714.64 L1814.18 713.13 L1816.61 713.35 L1818.11 713.2 L1820.25 713.32 L1821.68 712.12 L1823.07 712.05 L1824.92 710.38 L1826.32 711.38 L1827.69 711.38 L1828.14 710.15 L1830.72 710.57 L1832.15 710.28 L1832.77 708.66 L1834.2 709.49 L1835.66 708.6 L1838.38 708.29 L1838.46 708.71 L1841.09 708.15 L1841.4 707.34 L1843.23 706.63 L1844.69 708.11 L1845.87 708.2 L1847.43 707.83 L1848.04 706.48 L1849.06 706.34 L1851.31 707.4 L1851.59 706.8 L1852.35 705.03 L1854.34 706.41 L1854.88 706.68 L1857.35 705.42 L1858.14 705.84 L1858.72 704.93 L1860.82 705.46 L1861.27 704.92 L1863.95 705.22 L1864.25 704.9 L1866.25 705.01 L1866.76 705.8 L1867.79 703.9 L1869.72 704.88 L1870.54 704.35 L1873.4 704.18 L1873.72 704.1 L1875.3 703.82 L1876.75 703.18 L1878.92 704.79 L1880.27 704.7 L1882.15 703.07 L1883.51 702.99 L1884 704.02 L1886.14 703.2 L1888.22 702.6 L1888.71 703.91 L1891.88 702.64 L1892.11 703.21 L1894.59 702.74 L1896.67 703.21 L1897.6 702.06 L1898.76 702.4 L1900.28 703.96 L1902.43 703.02 L1904.43 703.07 L1905.59 703.6 L1907.68 703.45 L1909.08 701.8 L1910.42 703.91 L1912.18 703.08 L1913 702.49 L1914.72 702.42 L1916.35 702.61" stroke="#c3c8ca" stroke-width="3.1" opacity="0.9"/>
<path d="M1483.02 983.6 L1484.87 983.6 L1485.83 983.6 L1485.83 983.6 L1488.02 983.6 L1488.54 983.6 L1488.54 983.59 L1490.22 983.59 L1490.92 983.59 L1490.92 983.58 L1493.33 983.58 L1495.34 983.58 L1495.34 983.57 L1495.95 983.56 L1498.21 983.56 L1498.21 983.55 L1500.15 983.54 L1500.89 983.54 L1500.89 983.53 L1502.94 983.52 L1504.69 983.52 L1504.69 983.51 L1506.5 983.49 L1508.34 983.49 L1508.34 983.48 L1510.01 983.47 L1511.58 983.47 L1511.58 983.45 L1513.76 983.43 L1515.04 983.43 L1515.04 983.42 L1516.15 983.4 L1517.27 983.4 L1517.27 983.38 L1519.56 983.36 L1520.26 983.36 L1520.26 983.34 L1521.12 983.32 L1522.16 983.32 L1522.16 983.3 L1524.16 983.28 L1526.83 983.28 L1526.83 983.26 L1527.59 983.23 L1529.71 983.23 L1529.71 983.21 L1532 983.19 L1532.76 983.19 L1532.76 983.16 L1535.21 983.14 L1537.52 983.14 L1537.52 983.11 L1538.9 983.08 L1541 983.08 L1541 983.06 L1543.22 983.03 L1543.82 983.03 L1543.82 983 L1545.94 982.97 L1547.83 982.97 L1547.83 982.95 L1549.43 982.92 L1549.84 982.92 L1549.84 982.89 L1552.28 982.86 L1553.05 982.86 L1553.05 982.83 L1554.29 982.8 L1555.83 982.8 L1555.83 982.77 L1556.89 982.74 L1558.97 982.74 L1558.97 982.7 L1560.77 982.67 L1562.14 982.67 L1562.14 982.63 L1563.66 982.59 L1564.46 982.59 L1564.46 982.55 L1566.43 982.5 L1568.12 982.5 L1568.12 982.46 L1569.64 982.41 L1572.21 982.41 L1572.21 982.36 L1573.57 982.3 L1574.62 982.3 L1574.62 982.24 L1575.6 982.18 L1577.59 982.18 L1577.59 982.12 L1578.49 982.05 L1580.13 982.05 L1580.13 981.98 L1582.8 981.9 L1583.63 981.9 L1583.63 981.83 L1585.39 981.74 L1587.56 981.74 L1587.56 981.66 L1588.88 981.57 L1591.25 981.57 L1591.25 981.48 L1593.15 981.38 L1595.22 981.38 L1595.22 981.27 L1596.89 981.17 L1597.44 981.17 L1597.44 981.06 L1599.18 980.94 L1601.46 980.94 L1601.46 980.82 L1602.62 980.7 L1604.01 980.7 L1604.01 980.57 L1604.88 980.43 L1607.05 980.43 L1607.05 980.29 L1608.57 980.14 L1609.99 980.14 L1609.99 979.99 L1611.07 979.84 L1612.83 979.84 L1612.83 979.67 L1613.72 979.51 L1616.22 979.51 L1616.22 979.33 L1618.64 979.14 L1619.74 979.14 L1619.74 978.88 L1621.55 978.56 L1623.54 978.56 L1623.54 978.18 L1624.64 977.73 L1625.84 977.73 L1625.84 977.23 L1627.6 976.67 L1629.27 976.67 L1629.27 976.06 L1630.15 975.4 L1633.08 975.4 L1633.08 974.69 L1635.7 973.93 L1636.96 973.93 L1636.96 973 L1638.93 971.78 L1639.67 971.78 L1639.67 970.32 L1640.41 968.67 L1641.98 968.67 L1641.98 966.88 L1643.27 964.99 L1646.01 964.99 L1646.01 963.06 L1647.55 961.15 L1648.3 961.15 L1648.3 959.19 L1650.04 957.08 L1652.37 957.08 L1652.37 954.84 L1653.45 952.52 L1655.04 952.52 L1655.04 950.15 L1657.29 947.77 L1659.49 947.77 L1659.49 945.42 L1660.36 943.33 L1662.65 943.33 L1662.65 941.38 L1664.53 939.3 L1666.19 939.3 L1666.19 936.81 L1668.49 933.63 L1670.01 933.63 L1670.01 928.24 L1671.22 919.93 L1672.33 919.93 L1672.33 912.86 L1673.08 907.68 L1674.09 907.68 L1674.09 903.06 L1675.59 899.1 L1676.95 899.1 L1676.95 895.89 L1679.75 893.59 L1681.69 893.59 L1681.69 891.83 L1684.14 889.96 L1684.5 889.96 L1684.5 887.32 L1686.16 882.32 L1687.62 882.32 L1687.62 875.89 L1688.44 870.78 L1689.64 870.78 L1689.64 866.87 L1690.99 863.36 L1693.32 863.36 L1693.32 859.83 L1695.39 855.89 L1697.24 855.89 L1697.24 851.83 L1698.45 847.46 L1700.71 847.46 L1700.71 842.31 L1703.2 835 L1704.47 835 L1704.47 827.29 L1706.56 821.64 L1708.38 821.64 L1708.38 816.7 L1709.28 812.2 L1710.02 812.2 L1710.02 807.85 L1712.45 803.51 L1712.96 803.51 L1712.96 799.42 L1714.77 795.93 L1716.46 795.93 L1716.46 792.93 L1717.31 790.22 L1720.09 790.22 L1720.09 787.74 L1721.72 785.4 L1723.45 785.4 L1723.45 783.37 L1724.54 781.6 L1726.12 781.6 L1726.12 779.85 L1728.17 777.9 L1729.27 777.9 L1729.27 775.53 L1730.59 772.18 L1732.86 772.18 L1732.86 767.63 L1734.06 762.76 L1735.6 762.76 L1735.6 758.49 L1737.18 755.24 L1738.25 755.24 L1738.25 752.33 L1740.31 749.73 L1741.2 749.73 L1741.2 747.44 L1742.28 745.45 L1743.92 745.45 L1743.92 743.7 L1746.77 742.13 L1748.55 742.13 L1748.55 740.64 L1751.24 739.18 L1753.58 739.18 L1753.58 737.68 L1755.29 736.05 L1757.43 736.05 L1757.43 734.22 L1759.27 732.25 L1761.1 732.25 L1761.1 730.28 L1761.93 728.43 L1762.16 728.43 L1762.16 726.84 L1763.53 725.58 L1764.13 725.58 L1764.13 724.49 L1765.86 723.51 L1768.25 723.51 L1768.25 722.61 L1769.71 721.74 L1771.65 721.74 L1771.65 720.87 L1772.47 719.95 L1774.32 719.95 L1774.32 718.96 L1777 717.94 L1778.68 717.94 L1778.68 716.9 L1780.62 715.89 L1781.77 715.89 L1781.77 714.92 L1783.53 714.03 L1785.87 714.03 L1785.87 713.24 L1786.69 712.5 L1788.35 712.5 L1788.35 711.8 L1789.13 711.12 L1791.42 711.12 L1791.42 710.48 L1793.83 709.86 L1795.42 709.86 L1795.42 709.27 L1797.53 708.7 L1798.05 708.7 L1798.05 708.17 L1799.15 707.65 L1800.12 707.65 L1800.12 707.17 L1802.49 706.7 L1804.78 706.7 L1804.78 706.23 L1805.47 705.76 L1807.41 705.76 L1807.41 705.29 L1808.89 704.83 L1809.77 704.83 L1809.77 704.38 L1811.83 703.94 L1813.94 703.94 L1813.94 703.52 L1814.39 703.13 L1816.09 703.13 L1816.09 702.76 L1818.11 702.44 L1818.77 702.44 L1818.77 702.14 L1820.68 701.9 L1822.56 701.9 L1822.56 701.7 L1824.02 701.55 L1825.06 701.55 L1825.06 701.44 L1826.73 701.35 L1828.12 701.35 L1828.12 701.26 L1829.89 701.18 L1831.98 701.18 L1831.98 701.11 L1832.98 701.04 L1834.24 701.04 L1834.24 700.97 L1837.1 700.91 L1838.11 700.91 L1838.11 700.85 L1840.73 700.8 L1841.34 700.8 L1841.34 700.75 L1843.35 700.7 L1844.26 700.7 L1844.26 700.66 L1845.26 700.62 L1848.1 700.62 L1848.1 700.58 L1849.44 700.54 L1852.14 700.54 L1852.14 700.51 L1854.33 700.47 L1856.58 700.47 L1856.58 700.44 L1858.32 700.4 L1859.4 700.4 L1859.4 700.37 L1860.31 700.33 L1862.56 700.33 L1862.56 700.3 L1864.78 700.27 L1866.94 700.27 L1866.94 700.23 L1867.69 700.2 L1868.21 700.2 L1868.21 700.17 L1870.49 700.14 L1871.27 700.14 L1871.27 700.11 L1873.04 700.08 L1875.52 700.08 L1875.52 700.05 L1876.52 700.02 L1878.75 700.02 L1878.75 699.99 L1880.57 699.97 L1881.9 699.97 L1881.9 699.95 L1882.22 699.92 L1884.38 699.92 L1884.38 699.9 L1886.74 699.88 L1889.01 699.88 L1889.01 699.86 L1891.03 699.85 L1892.33 699.85 L1892.33 699.83 L1893.92 699.82 L1894.88 699.82 L1894.88 699.81 L1895.96 699.8 L1897.41 699.8 L1897.41 699.79 L1898.34 699.78" stroke="#e98f2e" stroke-width="3.3"/>
<path d="M1482.12 983.6 L1483.54 983.6 L1484.96 983.6 L1486.38 983.6 L1487.8 983.6 L1489.22 983.6 L1490.63 983.6 L1492.05 983.6 L1493.47 983.6 L1494.89 983.6 L1496.31 983.6 L1497.73 983.6 L1499.14 983.6 L1500.56 983.6 L1501.98 983.59 L1503.4 983.59 L1504.82 983.58 L1506.24 983.57 L1507.65 983.56 L1509.07 983.55 L1510.49 983.54 L1511.91 983.53 L1513.33 983.51 L1514.75 983.49 L1516.16 983.47 L1517.58 983.45 L1519 983.43 L1520.42 983.41 L1521.84 983.39 L1523.26 983.36 L1524.67 983.33 L1526.09 983.31 L1527.51 983.28 L1528.93 983.25 L1530.35 983.22 L1531.76 983.18 L1533.18 983.15 L1534.6 983.12 L1536.02 983.08 L1537.44 983.05 L1538.86 983.01 L1540.27 982.97 L1541.69 982.93 L1543.11 982.9 L1544.53 982.86 L1545.95 982.82 L1547.37 982.77 L1548.78 982.73 L1550.2 982.69 L1551.62 982.65 L1553.04 982.6 L1554.46 982.56 L1555.88 982.51 L1557.29 982.47 L1558.71 982.42 L1560.13 982.38 L1561.55 982.33 L1562.97 982.28 L1564.39 982.24 L1565.8 982.19 L1567.22 982.14 L1568.64 982.09 L1570.06 982.05 L1571.48 982 L1572.89 981.95 L1574.31 981.9 L1575.73 981.85 L1577.15 981.8 L1578.57 981.75 L1579.99 981.69 L1581.4 981.63 L1582.82 981.57 L1584.24 981.51 L1585.66 981.44 L1587.08 981.37 L1588.5 981.3 L1589.91 981.23 L1591.33 981.15 L1592.75 981.07 L1594.17 980.99 L1595.59 980.9 L1597.01 980.81 L1598.42 980.72 L1599.84 980.62 L1601.26 980.52 L1602.68 980.42 L1604.1 980.31 L1605.52 980.2 L1606.93 980.09 L1608.35 979.97 L1609.77 979.85 L1611.19 979.71 L1612.61 979.56 L1614.02 979.4 L1615.44 979.23 L1616.86 979.04 L1618.28 978.85 L1619.7 978.64 L1621.12 978.42 L1622.53 978.18 L1623.95 977.94 L1625.37 977.68 L1626.79 977.41 L1628.21 977.13 L1629.63 976.83 L1631.04 976.5 L1632.46 976.14 L1633.88 975.75 L1635.3 975.32 L1636.72 974.87 L1638.14 974.39 L1639.55 973.87 L1640.97 973.33 L1642.39 972.76 L1643.81 972.17 L1645.23 971.51 L1646.65 970.79 L1648.06 970 L1649.48 969.15 L1650.9 968.24 L1652.32 967.26 L1653.74 966.24 L1655.15 965.16 L1656.57 964.03 L1657.99 962.82 L1659.41 961.5 L1660.83 960.06 L1662.25 958.52 L1663.66 956.87 L1665.08 955.14 L1666.5 953.3 L1667.92 951.37 L1669.34 949.25 L1670.76 946.94 L1672.17 944.45 L1673.59 941.83 L1675.01 939.1 L1676.43 936.29 L1677.85 933.35 L1679.27 930.24 L1680.68 926.95 L1682.1 923.46 L1683.52 919.77 L1684.94 915.7 L1686.36 911.22 L1687.78 906.51 L1689.19 901.76 L1690.61 897.17 L1692.03 892.83 L1693.45 888.6 L1694.87 884.42 L1696.28 880.25 L1697.7 876.02 L1699.12 871.71 L1700.54 867.37 L1701.96 863.05 L1703.38 858.83 L1704.79 854.77 L1706.21 850.85 L1707.63 847 L1709.05 843.18 L1710.47 839.35 L1711.89 835.51 L1713.3 831.7 L1714.72 827.95 L1716.14 824.28 L1717.56 820.66 L1718.98 817.07 L1720.4 813.56 L1721.81 810.12 L1723.23 806.8 L1724.65 803.58 L1726.07 800.44 L1727.49 797.37 L1728.91 794.38 L1730.32 791.45 L1731.74 788.58 L1733.16 785.77 L1734.58 783.02 L1736 780.33 L1737.41 777.69 L1738.83 775.11 L1740.25 772.58 L1741.67 770.09 L1743.09 767.63 L1744.51 765.2 L1745.92 762.82 L1747.34 760.5 L1748.76 758.26 L1750.18 756.11 L1751.6 754.04 L1753.02 752.03 L1754.43 750.07 L1755.85 748.17 L1757.27 746.33 L1758.69 744.55 L1760.11 742.84 L1761.53 741.2 L1762.94 739.61 L1764.36 738.05 L1765.78 736.53 L1767.2 735.06 L1768.62 733.64 L1770.04 732.27 L1771.45 730.96 L1772.87 729.71 L1774.29 728.53 L1775.71 727.38 L1777.13 726.26 L1778.55 725.16 L1779.96 724.1 L1781.38 723.06 L1782.8 722.07 L1784.22 721.12 L1785.64 720.22 L1787.05 719.37 L1788.47 718.58 L1789.89 717.85 L1791.31 717.18 L1792.73 716.55 L1794.15 715.95 L1795.56 715.38 L1796.98 714.84 L1798.4 714.33 L1799.82 713.83 L1801.24 713.36 L1802.66 712.9 L1804.07 712.45 L1805.49 712.02 L1806.91 711.59 L1808.33 711.17 L1809.75 710.75 L1811.17 710.33 L1812.58 709.92 L1814 709.52 L1815.42 709.12 L1816.84 708.73 L1818.26 708.35 L1819.68 707.99 L1821.09 707.64 L1822.51 707.3 L1823.93 706.98 L1825.35 706.69 L1826.77 706.41 L1828.18 706.15 L1829.6 705.92 L1831.02 705.7 L1832.44 705.48 L1833.86 705.27 L1835.28 705.07 L1836.69 704.87 L1838.11 704.68 L1839.53 704.49 L1840.95 704.31 L1842.37 704.14 L1843.79 703.97 L1845.2 703.81 L1846.62 703.65 L1848.04 703.5 L1849.46 703.36 L1850.88 703.23 L1852.3 703.1 L1853.71 702.98 L1855.13 702.86 L1856.55 702.75 L1857.97 702.65 L1859.39 702.56 L1860.81 702.47 L1862.22 702.38 L1863.64 702.29 L1865.06 702.2 L1866.48 702.11 L1867.9 702.02 L1869.31 701.93 L1870.73 701.85 L1872.15 701.76 L1873.57 701.68 L1874.99 701.6 L1876.41 701.52 L1877.82 701.44 L1879.24 701.37 L1880.66 701.29 L1882.08 701.22 L1883.5 701.16 L1884.92 701.09 L1886.33 701.03 L1887.75 700.97 L1889.17 700.91 L1890.59 700.86 L1892.01 700.81 L1893.43 700.77 L1894.84 700.73 L1896.26 700.69 L1897.68 700.66 L1899.1 700.63 L1900.52 700.61 L1901.94 700.59 L1903.35 700.58 L1904.77 700.57 L1906.19 700.57" stroke="#000" stroke-width="4.8"/>
</g>
<path d="M1701.5 843 L1707.25 839.7 L1710.25 839.7 L1716 843 L1710.25 846.3 L1707.25 846.3 Z" fill="#2a9cc8"/>
<text font-size="29.64" fill="#2a9cc8" style="stroke:#2a9cc8" textLength="57.5" lengthAdjust="spacingAndGlyphs" x="1754.5" y="854.2">21%</text>
<rect x="1498.5" y="690" width="397.7" height="304.3" fill="none" stroke="#333" stroke-width="1.4" />
<line x1="1493.5" y1="983.6" x2="1498.5" y2="983.6" stroke="#333" stroke-width="1.7" />
<text font-size="21.84" text-anchor="end" textLength="11.69" lengthAdjust="spacingAndGlyphs" x="1487.5" y="989">0</text>
<line x1="1493.5" y1="912.7" x2="1498.5" y2="912.7" stroke="#333" stroke-width="1.7" />
<text font-size="21.84" text-anchor="end" textLength="23.37" lengthAdjust="spacingAndGlyphs" x="1487.5" y="918.1">25</text>
<line x1="1493.5" y1="841.8" x2="1498.5" y2="841.8" stroke="#333" stroke-width="1.7" />
<text font-size="21.84" text-anchor="end" textLength="23.37" lengthAdjust="spacingAndGlyphs" x="1487.5" y="847.2">50</text>
<line x1="1493.5" y1="770.9" x2="1498.5" y2="770.9" stroke="#333" stroke-width="1.7" />
<text font-size="21.84" text-anchor="end" textLength="23.37" lengthAdjust="spacingAndGlyphs" x="1487.5" y="776.3">75</text>
<line x1="1493.5" y1="700" x2="1498.5" y2="700" stroke="#333" stroke-width="1.7" />
<text font-size="21.84" text-anchor="end" textLength="35.06" lengthAdjust="spacingAndGlyphs" x="1487.5" y="705.4">100</text>
<line x1="1523.7" y1="994.3" x2="1523.7" y2="999.9" stroke="#333" stroke-width="1.7" />
<text font-size="22.36" text-anchor="middle" textLength="24.53" lengthAdjust="spacingAndGlyphs" x="1529" y="1020.9">−1</text>
<line x1="1690" y1="994.3" x2="1690" y2="999.9" stroke="#333" stroke-width="1.7" />
<text font-size="22.36" text-anchor="middle" textLength="11.96" lengthAdjust="spacingAndGlyphs" x="1693.3" y="1020.9">0</text>
<line x1="1856.3" y1="994.3" x2="1856.3" y2="999.9" stroke="#333" stroke-width="1.7" />
<text font-size="22.36" text-anchor="middle" textLength="11.96" lengthAdjust="spacingAndGlyphs" x="1859.6" y="1020.9">1</text>
<text font-size="30.16" textLength="83" lengthAdjust="spacingAndGlyphs" x="1494.9" y="682.8">mESC</text>
<text transform="translate(1583.99 687) scale(0.87 1.04)" style="font-family:'Noto Sans CJK JP','DejaVu Sans',sans-serif;font-weight:100;font-size:35.5px">♂</text>
<text font-size="30.16" textLength="181.5" lengthAdjust="spacingAndGlyphs" x="1615.1" y="682.8">12 h STM2457</text>
<text font-size="29.64" text-anchor="middle" textLength="301.5" lengthAdjust="spacingAndGlyphs" x="1689.4" y="1053.6">Expression fold change</text>
<text font-size="29.64" text-anchor="middle" textLength="296" lengthAdjust="spacingAndGlyphs" x="1689.1" y="1082.7">STM2457/DMSO (log<tspan font-size="18.5" dy="7.6">2</tspan><tspan dy="-7.6">)</tspan></text>
</g>
<text font-size="30.16" text-anchor="middle" textLength="283" lengthAdjust="spacingAndGlyphs" transform="translate(40.6 852.1) rotate(-90)">Transcripts with given</text>
<text font-size="30.16" text-anchor="middle" textLength="208.5" lengthAdjust="spacingAndGlyphs" transform="translate(69.3 852.6) rotate(-90)">fold change (%)</text>
<rect x="1694.8" y="577.8" width="201.4" height="68.2" fill="#fff" stroke="#e3e3e3" stroke-width="2.8" />
<rect x="1702" y="627.6" width="25.2" height="6.9" fill="#555" />
<text font-size="30.16" textLength="73.5" lengthAdjust="spacingAndGlyphs" x="1733.5" y="605.8">Chr X</text>
<text font-size="30.16" textLength="145.5" lengthAdjust="spacingAndGlyphs" x="1732.5" y="632.8">Autosomes</text>
<g>
<rect x="129.4" y="1432.2" width="25.9" height="34.7" fill="#858585" />
<rect x="160.9" y="1389.35" width="26.5" height="77.55" fill="#3a7cc1" />
<rect x="205.6" y="1432.2" width="25.9" height="34.7" fill="#858585" />
<rect x="237.2" y="1396.46" width="26.1" height="70.44" fill="#3a7cc1" />
<rect x="278.1" y="1432.2" width="25.9" height="34.7" fill="#858585" />
<rect x="309.8" y="1386.4" width="26.1" height="80.5" fill="#3a7cc1" />
<rect x="354" y="1424.39" width="26.2" height="42.51" fill="#858585" />
<rect x="385.9" y="1326.54" width="26.1" height="140.36" fill="#3a7cc1" />
<rect x="433.7" y="1432.2" width="26.1" height="34.7" fill="#858585" />
<rect x="465.6" y="1375.99" width="26.1" height="90.91" fill="#3a7cc1" />
<line x1="142.5" y1="1427" x2="142.5" y2="1437" stroke="#111" stroke-width="2.5" />
<circle cx="142.5" cy="1425.5" r="3.5" fill="#111" fill-opacity="0.5"/>
<circle cx="142.5" cy="1434.8" r="3.5" fill="#111" fill-opacity="0.5"/>
<circle cx="142.5" cy="1437" r="3.5" fill="#111" fill-opacity="0.5"/>
<line x1="174.6" y1="1382.4" x2="174.6" y2="1398.3" stroke="#111" stroke-width="2.5" />
<circle cx="174.6" cy="1381.7" r="3.5" fill="#111" fill-opacity="0.5"/>
<circle cx="174.6" cy="1393.9" r="3.5" fill="#111" fill-opacity="0.5"/>
<circle cx="174.6" cy="1399.4" r="3.5" fill="#111" fill-opacity="0.5"/>
<circle cx="218.8" cy="1431.4" r="3.5" fill="#111" fill-opacity="0.5"/>
<circle cx="218.8" cy="1432.2" r="3.5" fill="#111" fill-opacity="0.5"/>
<circle cx="218.8" cy="1433" r="3.5" fill="#111" fill-opacity="0.5"/>
<line x1="250.5" y1="1394" x2="250.5" y2="1399.5" stroke="#111" stroke-width="2.5" />
<circle cx="250.5" cy="1393.9" r="3.5" fill="#111" fill-opacity="0.5"/>
<circle cx="250.5" cy="1397.2" r="3.5" fill="#111" fill-opacity="0.5"/>
<circle cx="250.5" cy="1399.9" r="3.5" fill="#111" fill-opacity="0.5"/>
<circle cx="290.7" cy="1431.4" r="3.5" fill="#111" fill-opacity="0.5"/>
<circle cx="290.7" cy="1432.2" r="3.5" fill="#111" fill-opacity="0.5"/>
<circle cx="290.7" cy="1433" r="3.5" fill="#111" fill-opacity="0.5"/>
<line x1="323.1" y1="1383" x2="323.1" y2="1389" stroke="#111" stroke-width="2.5" />
<circle cx="323.1" cy="1382.8" r="3.5" fill="#111" fill-opacity="0.5"/>
<circle cx="323.1" cy="1386.6" r="3.5" fill="#111" fill-opacity="0.5"/>
<circle cx="323.1" cy="1389" r="3.5" fill="#111" fill-opacity="0.5"/>
<line x1="367.1" y1="1403.8" x2="367.1" y2="1444.1" stroke="#111" stroke-width="2.5" />
<circle cx="367.1" cy="1405.6" r="3.5" fill="#111" fill-opacity="0.5"/>
<circle cx="367.1" cy="1412.7" r="3.5" fill="#111" fill-opacity="0.5"/>
<circle cx="367.1" cy="1421.1" r="3.5" fill="#111" fill-opacity="0.5"/>
<circle cx="367.1" cy="1458.3" r="3.5" fill="#111" fill-opacity="0.5"/>
<line x1="399.2" y1="1318" x2="399.2" y2="1335.2" stroke="#111" stroke-width="2.5" />
<circle cx="399.2" cy="1319.3" r="3.5" fill="#111" fill-opacity="0.5"/>
<circle cx="399.2" cy="1326.4" r="3.5" fill="#111" fill-opacity="0.5"/>
<circle cx="399.2" cy="1336.3" r="3.5" fill="#111" fill-opacity="0.5"/>
<line x1="446.8" y1="1430" x2="446.8" y2="1436" stroke="#111" stroke-width="2.5" />
<circle cx="446.8" cy="1430" r="3.5" fill="#111" fill-opacity="0.5"/>
<circle cx="446.8" cy="1432.6" r="3.5" fill="#111" fill-opacity="0.5"/>
<circle cx="446.8" cy="1435.9" r="3.5" fill="#111" fill-opacity="0.5"/>
<line x1="479.1" y1="1370" x2="479.1" y2="1381" stroke="#111" stroke-width="2.5" />
<circle cx="479.1" cy="1370" r="3.5" fill="#111" fill-opacity="0.5"/>
<circle cx="479.1" cy="1376.2" r="3.5" fill="#111" fill-opacity="0.5"/>
<circle cx="479.1" cy="1380.6" r="3.5" fill="#111" fill-opacity="0.5"/>
<line x1="121" y1="1309.8" x2="121" y2="1467.9" stroke="#000" stroke-width="2" />
<line x1="114" y1="1466.9" x2="501" y2="1466.9" stroke="#000" stroke-width="2.2" />
<line x1="113.5" y1="1466.9" x2="121" y2="1466.9" stroke="#000" stroke-width="1.8" />
<text font-size="22.88" text-anchor="end" textLength="12.24" lengthAdjust="spacingAndGlyphs" x="111.6" y="1470.2">0</text>
<line x1="113.5" y1="1432.2" x2="121" y2="1432.2" stroke="#000" stroke-width="1.8" />
<text font-size="22.88" text-anchor="end" textLength="12.24" lengthAdjust="spacingAndGlyphs" x="111.6" y="1434.8">1</text>
<line x1="113.5" y1="1397.5" x2="121" y2="1397.5" stroke="#000" stroke-width="1.8" />
<text font-size="22.88" text-anchor="end" textLength="12.24" lengthAdjust="spacingAndGlyphs" x="111.6" y="1399.4">2</text>
<line x1="113.5" y1="1362.8" x2="121" y2="1362.8" stroke="#000" stroke-width="1.8" />
<text font-size="22.88" text-anchor="end" textLength="12.24" lengthAdjust="spacingAndGlyphs" x="111.6" y="1364">3</text>
<line x1="113.5" y1="1328.1" x2="121" y2="1328.1" stroke="#000" stroke-width="1.8" />
<text font-size="22.88" text-anchor="end" textLength="12.24" lengthAdjust="spacingAndGlyphs" x="111.6" y="1328.6">4</text>
<path d="M134.2 1293.3 V1288.4 H182 V1293.3" fill="none" stroke="#111" stroke-width="3.2"/>
<path d="M210.5 1293.3 V1288.4 H258.4 V1293.3" fill="none" stroke="#111" stroke-width="3.2"/>
<path d="M280.2 1293.3 V1288.4 H328.1 V1293.3" fill="none" stroke="#111" stroke-width="3.2"/>
<path d="M356.3 1293.3 V1288.4 H404.2 V1293.3" fill="none" stroke="#111" stroke-width="3.2"/>
<path d="M433.8 1293.3 V1288.4 H481.7 V1293.3" fill="none" stroke="#111" stroke-width="3.2"/>
<text font-size="24.7" text-anchor="middle" textLength="30.9" lengthAdjust="spacing" x="157.1" y="1284" font-weight="bold">***</text>
<text font-size="24.7" text-anchor="middle" textLength="30.9" lengthAdjust="spacing" x="233.4" y="1284" font-weight="bold">***</text>
<text font-size="24.7" text-anchor="middle" textLength="30.9" lengthAdjust="spacing" x="307.3" y="1284" font-weight="bold">***</text>
<text font-size="24.7" text-anchor="middle" textLength="10.3" lengthAdjust="spacing" x="382.8" y="1284" font-weight="bold">*</text>
<text font-size="24.7" text-anchor="middle" textLength="30.9" lengthAdjust="spacing" x="460" y="1284" font-weight="bold">***</text>
<line x1="128.3" y1="1470.9" x2="183.4" y2="1470.9" stroke="#111" stroke-width="1.8" />
<line x1="205.6" y1="1470.9" x2="260.9" y2="1470.9" stroke="#111" stroke-width="1.8" />
<line x1="277.7" y1="1470.9" x2="332.4" y2="1470.9" stroke="#111" stroke-width="1.8" />
<line x1="355.6" y1="1470.9" x2="410.5" y2="1470.9" stroke="#111" stroke-width="1.8" />
<line x1="434.1" y1="1470.9" x2="489.5" y2="1470.9" stroke="#111" stroke-width="1.8" />
<text font-size="30.99" text-anchor="end" font-style="italic" textLength="133.72" lengthAdjust="spacingAndGlyphs" transform="translate(166.6 1478.6) rotate(-90)">Rab11fip5</text>
<text font-size="30.99" text-anchor="end" font-style="italic" textLength="82.33" lengthAdjust="spacingAndGlyphs" transform="translate(242.3 1478.6) rotate(-90)">Tubb3</text>
<text font-size="30.99" text-anchor="end" font-style="italic" textLength="67.96" lengthAdjust="spacingAndGlyphs" transform="translate(317.4 1478.6) rotate(-90)">Phax</text>
<text font-size="30.99" text-anchor="end" font-style="italic" textLength="117.7" lengthAdjust="spacingAndGlyphs" transform="translate(393.3 1478.6) rotate(-90)">Faap100</text>
<text font-size="30.99" text-anchor="end" font-style="italic" textLength="71.83" lengthAdjust="spacingAndGlyphs" transform="translate(467.6 1478.6) rotate(-90)">Tstp2</text>
<text font-size="29.12" textLength="262" lengthAdjust="spacingAndGlyphs" x="119.3" y="1248.6">Autosomal transcripts</text>
<text font-size="28.6" text-anchor="middle" textLength="183.5" lengthAdjust="spacing" transform="translate(57.2 1371.5) rotate(-90)">Relative RNA</text>
<text font-size="29.12" text-anchor="middle" textLength="138" lengthAdjust="spacingAndGlyphs" transform="translate(83 1371.5) rotate(-90)">expression</text>
</g>
<g>
<rect x="668.2" y="1355.8" width="26.1" height="108.7" fill="#858585" />
<rect x="699.9" y="1375.47" width="26.1" height="89.03" fill="#3a7cc1" />
<rect x="744.8" y="1355.8" width="26.1" height="108.7" fill="#858585" />
<rect x="777.9" y="1327.76" width="26" height="136.74" fill="#3a7cc1" />
<rect x="819.2" y="1355.8" width="25.6" height="108.7" fill="#858585" />
<rect x="852.3" y="1355.8" width="26.1" height="108.7" fill="#3a7cc1" />
<rect x="893.9" y="1355.8" width="26.1" height="108.7" fill="#858585" />
<rect x="926.7" y="1376.34" width="25.8" height="88.16" fill="#3a7cc1" />
<rect x="971.1" y="1355.8" width="26.3" height="108.7" fill="#858585" />
<rect x="1004.6" y="1354.5" width="26.4" height="110" fill="#3a7cc1" />
<line x1="681.1" y1="1350.5" x2="681.1" y2="1361.5" stroke="#111" stroke-width="2.5" />
<circle cx="681.1" cy="1349.8" r="3.5" fill="#111" fill-opacity="0.5"/>
<circle cx="681.1" cy="1356.2" r="3.5" fill="#111" fill-opacity="0.5"/>
<circle cx="681.1" cy="1361.6" r="3.5" fill="#111" fill-opacity="0.5"/>
<line x1="713.1" y1="1369.5" x2="713.1" y2="1382" stroke="#111" stroke-width="2.5" />
<circle cx="713.1" cy="1368.3" r="3.5" fill="#111" fill-opacity="0.5"/>
<circle cx="713.1" cy="1375.8" r="3.5" fill="#111" fill-opacity="0.5"/>
<circle cx="713.1" cy="1379.1" r="3.5" fill="#111" fill-opacity="0.5"/>
<circle cx="713.1" cy="1382.6" r="3.5" fill="#111" fill-opacity="0.5"/>
<line x1="757.7" y1="1346.5" x2="757.7" y2="1366" stroke="#111" stroke-width="2.5" />
<circle cx="757.7" cy="1343.1" r="3.5" fill="#111" fill-opacity="0.5"/>
<circle cx="757.7" cy="1355.7" r="3.5" fill="#111" fill-opacity="0.5"/>
<circle cx="757.7" cy="1359.7" r="3.5" fill="#111" fill-opacity="0.5"/>
<circle cx="757.7" cy="1365.1" r="3.5" fill="#111" fill-opacity="0.5"/>
<circle cx="791" cy="1327.5" r="3.5" fill="#111" fill-opacity="0.5"/>
<circle cx="791" cy="1329.1" r="3.5" fill="#111" fill-opacity="0.5"/>
<circle cx="832.1" cy="1355.2" r="3.5" fill="#111" fill-opacity="0.5"/>
<circle cx="832.1" cy="1357" r="3.5" fill="#111" fill-opacity="0.5"/>
<line x1="865.7" y1="1349.5" x2="865.7" y2="1361.5" stroke="#111" stroke-width="2.5" />
<circle cx="865.7" cy="1348.2" r="3.5" fill="#111" fill-opacity="0.5"/>
<circle cx="865.7" cy="1357.6" r="3.5" fill="#111" fill-opacity="0.5"/>
<circle cx="865.7" cy="1361" r="3.5" fill="#111" fill-opacity="0.5"/>
<line x1="906.8" y1="1353" x2="906.8" y2="1361" stroke="#111" stroke-width="2.5" />
<circle cx="906.8" cy="1353" r="3.5" fill="#111" fill-opacity="0.5"/>
<circle cx="906.8" cy="1357" r="3.5" fill="#111" fill-opacity="0.5"/>
<circle cx="906.8" cy="1361" r="3.5" fill="#111" fill-opacity="0.5"/>
<line x1="939.6" y1="1373" x2="939.6" y2="1378.5" stroke="#111" stroke-width="2.5" />
<circle cx="939.6" cy="1372.6" r="3.5" fill="#111" fill-opacity="0.5"/>
<circle cx="939.6" cy="1376.7" r="3.5" fill="#111" fill-opacity="0.5"/>
<circle cx="939.6" cy="1378.5" r="3.5" fill="#111" fill-opacity="0.5"/>
<line x1="984.5" y1="1352.5" x2="984.5" y2="1360" stroke="#111" stroke-width="2.5" />
<circle cx="984.5" cy="1352.2" r="3.5" fill="#111" fill-opacity="0.5"/>
<circle cx="984.5" cy="1357" r="3.5" fill="#111" fill-opacity="0.5"/>
<circle cx="984.5" cy="1359.7" r="3.5" fill="#111" fill-opacity="0.5"/>
<circle cx="1018.1" cy="1354.4" r="3.5" fill="#111" fill-opacity="0.5"/>
<circle cx="1018.1" cy="1355.4" r="3.5" fill="#111" fill-opacity="0.5"/>
<line x1="654.8" y1="1287.2" x2="654.8" y2="1465.5" stroke="#000" stroke-width="2" />
<line x1="646.7" y1="1464.5" x2="1045.8" y2="1464.5" stroke="#000" stroke-width="2.2" />
<line x1="647.3" y1="1464.5" x2="654.8" y2="1464.5" stroke="#000" stroke-width="1.8" />
<text font-size="22.88" text-anchor="end" textLength="12.24" lengthAdjust="spacingAndGlyphs" x="646.2" y="1469.6">0</text>
<line x1="647.3" y1="1410.15" x2="654.8" y2="1410.15" stroke="#000" stroke-width="1.8" />
<text font-size="22.88" text-anchor="end" textLength="30.6" lengthAdjust="spacingAndGlyphs" x="646.2" y="1415.85">0.5</text>
<line x1="647.3" y1="1355.8" x2="654.8" y2="1355.8" stroke="#000" stroke-width="1.8" />
<text font-size="22.88" text-anchor="end" textLength="12.24" lengthAdjust="spacingAndGlyphs" x="646.2" y="1361.2">1</text>
<line x1="647.3" y1="1301.45" x2="654.8" y2="1301.45" stroke="#000" stroke-width="1.8" />
<text font-size="22.88" text-anchor="end" textLength="30.6" lengthAdjust="spacingAndGlyphs" x="646.2" y="1309.65">1.5</text>
<path d="M676.3 1319.8 V1314.9 H717.1 V1319.8" fill="none" stroke="#111" stroke-width="3.2"/>
<path d="M750.2 1319.8 V1314.9 H791.2 V1319.8" fill="none" stroke="#111" stroke-width="3.2"/>
<path d="M833.5 1319.8 V1314.9 H874.5 V1319.8" fill="none" stroke="#111" stroke-width="3.2"/>
<path d="M905.3 1319.8 V1314.9 H946.3 V1319.8" fill="none" stroke="#111" stroke-width="3.2"/>
<path d="M975.9 1319.8 V1314.9 H1016.9 V1319.8" fill="none" stroke="#111" stroke-width="3.2"/>
<text font-size="24.7" text-anchor="middle" textLength="10.3" lengthAdjust="spacing" x="694.3" y="1306.1" font-weight="bold">*</text>
<text font-size="24.7" text-anchor="middle" textLength="20.6" lengthAdjust="spacing" x="765.8" y="1306.1" font-weight="bold">**</text>
<text font-size="29.12" text-anchor="middle" textLength="29.59" lengthAdjust="spacingAndGlyphs" x="853.1" y="1303">ns</text>
<text font-size="24.7" text-anchor="middle" textLength="20.6" lengthAdjust="spacing" x="926.7" y="1306.1" font-weight="bold">**</text>
<text font-size="29.12" text-anchor="middle" textLength="29.59" lengthAdjust="spacingAndGlyphs" x="996" y="1303">ns</text>
<line x1="667.4" y1="1469.4" x2="722" y2="1469.4" stroke="#111" stroke-width="1.8" />
<line x1="745.3" y1="1469.4" x2="799.9" y2="1469.4" stroke="#111" stroke-width="1.8" />
<line x1="816.8" y1="1469.4" x2="871.1" y2="1469.4" stroke="#111" stroke-width="1.8" />
<line x1="894.7" y1="1469.4" x2="949.6" y2="1469.4" stroke="#111" stroke-width="1.8" />
<line x1="974.5" y1="1469.4" x2="1028.3" y2="1469.4" stroke="#111" stroke-width="1.8" />
<text font-size="29.74" text-anchor="end" font-style="italic" textLength="66.76" lengthAdjust="spacingAndGlyphs" transform="translate(711.2 1478.4) rotate(-90)">Fmr1</text>
<text font-size="29.74" text-anchor="end" font-style="italic" textLength="57.27" lengthAdjust="spacingAndGlyphs" transform="translate(783.6 1478.4) rotate(-90)">Plp1</text>
<text font-size="29.74" text-anchor="end" font-style="italic" textLength="58.84" lengthAdjust="spacingAndGlyphs" transform="translate(857.4 1478.4) rotate(-90)">Ssr4</text>
<text font-size="29.74" text-anchor="end" font-style="italic" textLength="109.76" lengthAdjust="spacingAndGlyphs" transform="translate(928 1478.4) rotate(-90)">Hnrnph2</text>
<text font-size="29.74" text-anchor="end" font-style="italic" textLength="71.56" lengthAdjust="spacingAndGlyphs" transform="translate(1003.8 1478.4) rotate(-90)">Itm2a</text>
<text font-size="29.12" textLength="324" lengthAdjust="spacingAndGlyphs" x="660.7" y="1248.2">X-chromosomal transcripts</text>
<text font-size="28.6" text-anchor="middle" textLength="183.5" lengthAdjust="spacing" transform="translate(584.4 1371) rotate(-90)">Relative RNA</text>
<text font-size="29.12" text-anchor="middle" textLength="138" lengthAdjust="spacingAndGlyphs" transform="translate(609.7 1371) rotate(-90)">expression</text>
</g>
<rect x="1059.3" y="1255.5" width="249.4" height="74.6" fill="#fff" stroke="#e2e2e2" stroke-width="1.8" />
<rect x="1069.2" y="1269.2" width="11.9" height="11.6" fill="#858585" />
<rect x="1069.2" y="1305.1" width="11.9" height="11.6" fill="#3a7cc1" />
<text font-size="29.12" textLength="89.5" lengthAdjust="spacing" x="1094.3" y="1283.5">DMSO</text>
<text font-size="29.12" textLength="206.5" lengthAdjust="spacing" x="1094.3" y="1319.8">STM2457 (9 h)</text>
</svg></body></html>
